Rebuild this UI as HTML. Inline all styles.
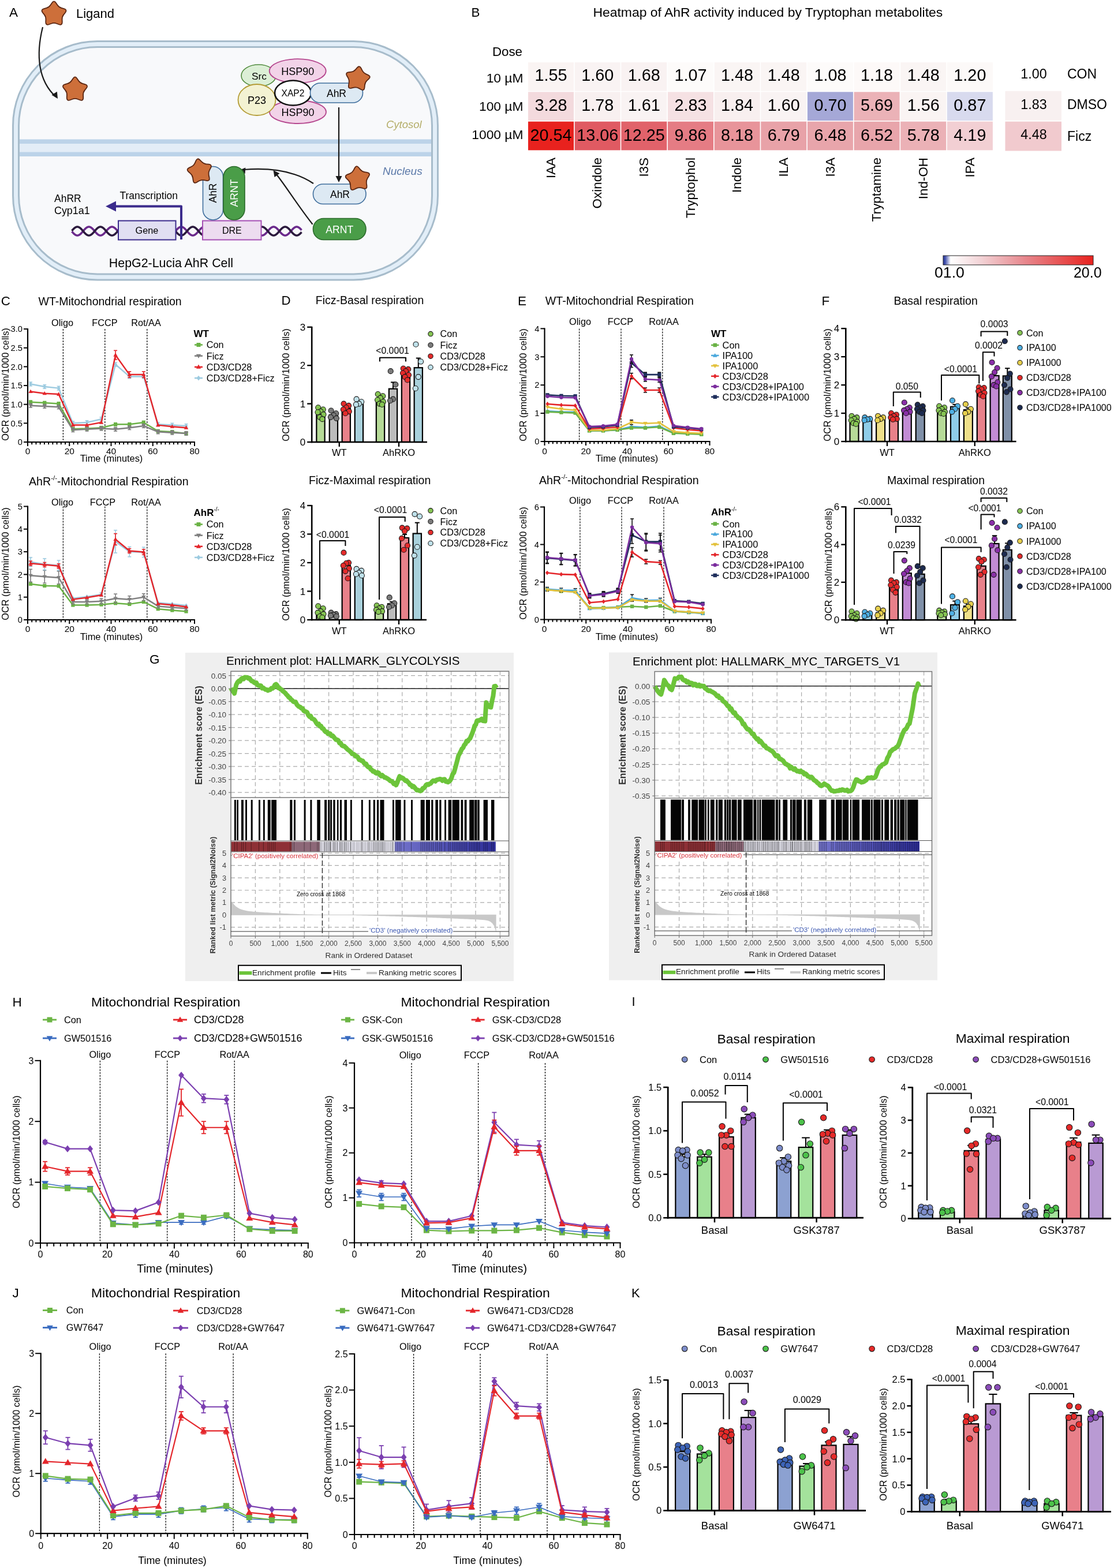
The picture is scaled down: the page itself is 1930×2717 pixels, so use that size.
<!DOCTYPE html><html><head><meta charset="utf-8"><title>Figure</title><style>html,body{margin:0;padding:0;background:#fff;}svg{display:block;}</style></head><body><svg width="1930" height="2717" viewBox="0 0 1930 2717" font-family='"Liberation Sans", Arial, Helvetica, sans-serif'>
<rect x="0" y="0" width="1930" height="2717" fill="#ffffff" stroke="none" stroke-width="1" />
<text x="16" y="29.2" font-size="22.5">A</text>
<path d="M89.9,5.18 Q93.5,-0.25 97.1,5.18 L99.51,8.81 Q102.08,12.69 106.57,13.94 L110.76,15.1 Q117.04,16.85 112.99,21.96 L110.28,25.36 Q107.39,29.01 107.59,33.67 L107.77,38.01 Q108.05,44.52 101.94,42.25 L97.86,40.73 Q93.5,39.1 89.14,40.73 L85.06,42.25 Q78.95,44.52 79.23,38.01 L79.41,33.67 Q79.61,29.01 76.72,25.36 L74.01,21.96 Q69.96,16.85 76.24,15.1 L80.43,13.94 Q84.92,12.69 87.49,8.81 Z" fill="#cd6f3a" stroke="#5a2612" stroke-width="1.8" stroke-linejoin="round"/>
<text x="132" y="30.5" font-size="22">Ligand</text>
<rect x="22.5" y="71.5" width="736" height="413.5" rx="146" fill="#e2eef8" stroke="#a7bccb" stroke-width="3" />
<rect x="32.5" y="81.5" width="716" height="393.5" rx="136" fill="#f8f9fb" stroke="#a7bccb" stroke-width="3" />
<rect x="34" y="241.5" width="713" height="29" fill="#e3edf7" stroke="none" stroke-width="1" />
<rect x="34" y="241.5" width="713" height="7.5" fill="#bcd3e9" stroke="none" stroke-width="1" />
<rect x="34" y="263.5" width="713" height="7.5" fill="#bcd3e9" stroke="none" stroke-width="1" />
<path d="M74,47 C62,95 66,140 97,168" fill="none" stroke="#1a1a1a" stroke-width="2.2" />
<polygon points="100,171 89.51,164.59 98.83,158.76" fill="#1a1a1a" stroke="none" stroke-width="1" />
<path d="M126.4,136.18 Q130,130.75 133.6,136.18 L136.01,139.81 Q138.58,143.69 143.07,144.94 L147.26,146.1 Q153.54,147.85 149.49,152.96 L146.78,156.36 Q143.89,160.01 144.09,164.67 L144.27,169.01 Q144.55,175.52 138.44,173.25 L134.36,171.73 Q130,170.1 125.64,171.73 L121.56,173.25 Q115.45,175.52 115.73,169.01 L115.91,164.67 Q116.11,160.01 113.22,156.36 L110.51,152.96 Q106.46,147.85 112.74,146.1 L116.93,144.94 Q121.42,143.69 123.99,139.81 Z" fill="#cd6f3a" stroke="#5a2612" stroke-width="1.8" stroke-linejoin="round"/>
<ellipse cx="448" cy="131" rx="30" ry="19" fill="#dcefd6" stroke="#4f8a3c" stroke-width="1.6"/>
<ellipse cx="515.7" cy="123" rx="49" ry="20.8" fill="#f2d3e8" stroke="#b5488f" stroke-width="1.8"/>
<ellipse cx="516" cy="194" rx="49" ry="20" fill="#f2d3e8" stroke="#b5488f" stroke-width="1.8"/>
<ellipse cx="445" cy="173" rx="32.5" ry="27" fill="#f3f2d2" stroke="#b39b35" stroke-width="1.8"/>
<ellipse cx="507.5" cy="161" rx="31.5" ry="21.5" fill="#ffffff" stroke="#111111" stroke-width="2.6"/>
<rect x="537.5" y="144" width="91" height="34" rx="17" fill="#dde9f3" stroke="#3e6d9c" stroke-width="1.6" />
<text x="515.7" y="129.5" font-size="18" text-anchor="middle">HSP90</text>
<text x="516" y="200.5" font-size="18" text-anchor="middle">HSP90</text>
<text x="449" y="137.5" font-size="17.3" text-anchor="middle">Src</text>
<text x="445" y="180" font-size="18" text-anchor="middle">P23</text>
<text x="507.5" y="167" font-size="15.6" text-anchor="middle">XAP2</text>
<text x="583" y="167.5" font-size="17.5" text-anchor="middle">AhR</text>
<path d="M618.74,117.41 Q622.97,112.64 625.72,118.39 L627.55,122.22 Q629.52,126.33 633.69,128.15 L637.59,129.85 Q643.43,132.4 638.81,136.79 L635.73,139.72 Q632.43,142.86 631.99,147.39 L631.58,151.62 Q630.96,157.97 625.35,154.93 L621.62,152.91 Q617.61,150.74 613.17,151.72 L609.02,152.64 Q602.79,154.01 603.94,147.74 L604.71,143.56 Q605.54,139.08 603.23,135.15 L601.08,131.49 Q597.85,125.99 604.17,125.15 L608.38,124.59 Q612.9,123.99 615.92,120.59 Z" fill="#cd6f3a" stroke="#5a2612" stroke-width="1.8" stroke-linejoin="round"/>
<line x1="587" y1="186" x2="587" y2="306" stroke="#1a1a1a" stroke-width="2.2" />
<polygon points="587,316 581.5,305 592.5,305" fill="#1a1a1a" stroke="none" stroke-width="1" />
<text x="669" y="222" font-size="18.5" fill="#b5ae6a" font-style="italic">Cytosol</text>
<text x="663" y="303" font-size="19" fill="#5a78a8" font-style="italic">Nucleus</text>
<rect x="542.5" y="319" width="91.5" height="34.5" rx="17" fill="#dde9f3" stroke="#3e6d9c" stroke-width="1.6" />
<text x="589" y="343" font-size="17.5" text-anchor="middle">AhR</text>
<path d="M614.45,291.23 Q617.44,285.5 621.55,290.49 L624.3,293.81 Q627.24,297.37 631.79,298.13 L636.04,298.85 Q642.41,299.92 638.94,305.38 L636.63,309.01 Q634.16,312.91 634.83,317.48 L635.47,321.74 Q636.41,328.13 630.16,326.52 L625.98,325.44 Q621.51,324.29 617.38,326.35 L613.52,328.27 Q607.74,331.14 607.33,324.69 L607.07,320.39 Q606.78,315.79 603.55,312.49 L600.53,309.41 Q596.01,304.8 602.02,302.42 L606.02,300.84 Q610.32,299.14 612.45,295.05 Z" fill="#cd6f3a" stroke="#5a2612" stroke-width="1.8" stroke-linejoin="round"/>
<rect x="542.5" y="378.5" width="91.5" height="37" rx="18" fill="#4a9d48" stroke="#2a6a2a" stroke-width="1.6" />
<text x="588.3" y="404" font-size="17.6" text-anchor="middle" fill="#ffffff">ARNT</text>
<path d="M543,318 C510,296 470,290 422,294" fill="none" stroke="#1a1a1a" stroke-width="2.2" />
<polygon points="414,295 425.4,290.4 424.53,301.36" fill="#1a1a1a" stroke="none" stroke-width="1" />
<path d="M541.6,388.7 C515,355 495,322 478,301" fill="none" stroke="#1a1a1a" stroke-width="2.2" />
<polygon points="473.5,295 484.44,300.62 475.57,307.12" fill="#1a1a1a" stroke="none" stroke-width="1" />
<polyline points="124.5,401.09 125.5,402.25 126.5,403.37 127.5,404.42 128.5,405.37 129.5,406.2 130.5,406.89 131.5,407.43 132.5,407.79 133.5,407.98 134.5,407.98 135.5,407.79 136.5,407.43 137.5,406.89 138.5,406.2 139.5,405.37 140.5,404.42 141.5,403.37 142.5,402.25 143.5,401.09 144.5,399.91 145.5,398.75 146.5,397.63 147.5,396.58 148.5,395.63 149.5,394.8 150.5,394.11 151.5,393.57 152.5,393.21 153.5,393.02 154.5,393.02 155.5,393.21 156.5,393.57 157.5,394.11 158.5,394.8 159.5,395.63 160.5,396.58 161.5,397.63 162.5,398.75 163.5,399.91 164.5,401.09 165.5,402.25 166.5,403.37 167.5,404.42 168.5,405.37 169.5,406.2 170.5,406.89 171.5,407.43 172.5,407.79 173.5,407.98 174.5,407.98 175.5,407.79 176.5,407.43 177.5,406.89 178.5,406.2 179.5,405.37 180.5,404.42 181.5,403.37 182.5,402.25 183.5,401.09 184.5,399.91 185.5,398.75 186.5,397.63 187.5,396.58 188.5,395.63 189.5,394.8 190.5,394.11 191.5,393.57 192.5,393.21 193.5,393.02 194.5,393.02 195.5,393.21 196.5,393.57 197.5,394.11 198.5,394.8 199.5,395.63 200.5,396.58 201.5,397.63 202.5,398.75 203.5,399.91 204.5,401.09 205.5,402.25 206.5,403.37 207.5,404.42 208.5,405.37 209.5,406.2 210.5,406.89 211.5,407.43 212.5,407.79 213.5,407.98 214.5,407.98 215.5,407.79 216.5,407.43 217.5,406.89 218.5,406.2 219.5,405.37 220.5,404.42 221.5,403.37 222.5,402.25 223.5,401.09 224.5,399.91 225.5,398.75 226.5,397.63 227.5,396.58 228.5,395.63 229.5,394.8 230.5,394.11 231.5,393.57 232.5,393.21 233.5,393.02 234.5,393.02 235.5,393.21 236.5,393.57 237.5,394.11 238.5,394.8 239.5,395.63 240.5,396.58 241.5,397.63 242.5,398.75 243.5,399.91 244.5,401.09 245.5,402.25 246.5,403.37 247.5,404.42 248.5,405.37 249.5,406.2 250.5,406.89 251.5,407.43 252.5,407.79 253.5,407.98 254.5,407.98 255.5,407.79 256.5,407.43 257.5,406.89 258.5,406.2 259.5,405.37 260.5,404.42 261.5,403.37 262.5,402.25 263.5,401.09 264.5,399.91 265.5,398.75 266.5,397.63 267.5,396.58 268.5,395.63 269.5,394.8 270.5,394.11 271.5,393.57 272.5,393.21 273.5,393.02 274.5,393.02 275.5,393.21 276.5,393.57 277.5,394.11 278.5,394.8 279.5,395.63 280.5,396.58 281.5,397.63 282.5,398.75 283.5,399.91 284.5,401.09 285.5,402.25 286.5,403.37 287.5,404.42 288.5,405.37 289.5,406.2 290.5,406.89 291.5,407.43 292.5,407.79 293.5,407.98 294.5,407.98 295.5,407.79 296.5,407.43 297.5,406.89 298.5,406.2 299.5,405.37 300.5,404.42 301.5,403.37 302.5,402.25 303.5,401.09 304.5,399.91 305.5,398.75 306.5,397.63 307.5,396.58 308.5,395.63 309.5,394.8 310.5,394.11 311.5,393.57 312.5,393.21 313.5,393.02 314.5,393.02 315.5,393.21 316.5,393.57 317.5,394.11 318.5,394.8 319.5,395.63 320.5,396.58 321.5,397.63 322.5,398.75 323.5,399.91 324.5,401.09 325.5,402.25 326.5,403.37 327.5,404.42 328.5,405.37 329.5,406.2 330.5,406.89 331.5,407.43 332.5,407.79 333.5,407.98 334.5,407.98 335.5,407.79 336.5,407.43 337.5,406.89 338.5,406.2 339.5,405.37 340.5,404.42 341.5,403.37 342.5,402.25 343.5,401.09 344.5,399.91 345.5,398.75 346.5,397.63 347.5,396.58 348.5,395.63 349.5,394.8 350.5,394.11 351.5,393.57 352.5,393.21 353.5,393.02 354.5,393.02 355.5,393.21 356.5,393.57 357.5,394.11 358.5,394.8 359.5,395.63 360.5,396.58 361.5,397.63 362.5,398.75 363.5,399.91 364.5,401.09 365.5,402.25 366.5,403.37 367.5,404.42 368.5,405.37 369.5,406.2 370.5,406.89 371.5,407.43 372.5,407.79 373.5,407.98 374.5,407.98 375.5,407.79 376.5,407.43 377.5,406.89 378.5,406.2 379.5,405.37 380.5,404.42 381.5,403.37 382.5,402.25 383.5,401.09 384.5,399.91 385.5,398.75 386.5,397.63 387.5,396.58 388.5,395.63 389.5,394.8 390.5,394.11 391.5,393.57 392.5,393.21 393.5,393.02 394.5,393.02 395.5,393.21 396.5,393.57 397.5,394.11 398.5,394.8 399.5,395.63 400.5,396.58 401.5,397.63 402.5,398.75 403.5,399.91 404.5,401.09 405.5,402.25 406.5,403.37 407.5,404.42 408.5,405.37 409.5,406.2 410.5,406.89 411.5,407.43 412.5,407.79 413.5,407.98 414.5,407.98 415.5,407.79 416.5,407.43 417.5,406.89 418.5,406.2 419.5,405.37 420.5,404.42 421.5,403.37 422.5,402.25 423.5,401.09 424.5,399.91 425.5,398.75 426.5,397.63 427.5,396.58 428.5,395.63 429.5,394.8 430.5,394.11 431.5,393.57 432.5,393.21 433.5,393.02 434.5,393.02 435.5,393.21 436.5,393.57 437.5,394.11 438.5,394.8 439.5,395.63 440.5,396.58 441.5,397.63 442.5,398.75 443.5,399.91 444.5,401.09 445.5,402.25 446.5,403.37 447.5,404.42 448.5,405.37 449.5,406.2 450.5,406.89 451.5,407.43 452.5,407.79 453.5,407.98 454.5,407.98 455.5,407.79 456.5,407.43 457.5,406.89 458.5,406.2 459.5,405.37 460.5,404.42 461.5,403.37 462.5,402.25 463.5,401.09 464.5,399.91 465.5,398.75 466.5,397.63 467.5,396.58 468.5,395.63 469.5,394.8 470.5,394.11 471.5,393.57 472.5,393.21 473.5,393.02 474.5,393.02 475.5,393.21 476.5,393.57 477.5,394.11 478.5,394.8 479.5,395.63 480.5,396.58 481.5,397.63 482.5,398.75 483.5,399.91 484.5,401.09 485.5,402.25 486.5,403.37 487.5,404.42 488.5,405.37 489.5,406.2 490.5,406.89 491.5,407.43 492.5,407.79 493.5,407.98 494.5,407.98 495.5,407.79 496.5,407.43 497.5,406.89 498.5,406.2 499.5,405.37 500.5,404.42 501.5,403.37 502.5,402.25 503.5,401.09 504.5,399.91 505.5,398.75 506.5,397.63 507.5,396.58 508.5,395.63 509.5,394.8 510.5,394.11 511.5,393.57 512.5,393.21 513.5,393.02 514.5,393.02 515.5,393.21 516.5,393.57 517.5,394.11 518.5,394.8 519.5,395.63 520.5,396.58 521.5,397.63 522.5,398.75" fill="none" stroke="#6b2a8c" stroke-width="3.6" stroke-linejoin="round" />
<polyline points="124.5,399.91 125.5,398.75 126.5,397.63 127.5,396.58 128.5,395.63 129.5,394.8 130.5,394.11 131.5,393.57 132.5,393.21 133.5,393.02 134.5,393.02 135.5,393.21 136.5,393.57 137.5,394.11 138.5,394.8 139.5,395.63 140.5,396.58 141.5,397.63 142.5,398.75 143.5,399.91 144.5,401.09 145.5,402.25 146.5,403.37 147.5,404.42 148.5,405.37 149.5,406.2 150.5,406.89 151.5,407.43 152.5,407.79 153.5,407.98 154.5,407.98 155.5,407.79 156.5,407.43 157.5,406.89 158.5,406.2 159.5,405.37 160.5,404.42 161.5,403.37 162.5,402.25 163.5,401.09 164.5,399.91 165.5,398.75 166.5,397.63 167.5,396.58 168.5,395.63 169.5,394.8 170.5,394.11 171.5,393.57 172.5,393.21 173.5,393.02 174.5,393.02 175.5,393.21 176.5,393.57 177.5,394.11 178.5,394.8 179.5,395.63 180.5,396.58 181.5,397.63 182.5,398.75 183.5,399.91 184.5,401.09 185.5,402.25 186.5,403.37 187.5,404.42 188.5,405.37 189.5,406.2 190.5,406.89 191.5,407.43 192.5,407.79 193.5,407.98 194.5,407.98 195.5,407.79 196.5,407.43 197.5,406.89 198.5,406.2 199.5,405.37 200.5,404.42 201.5,403.37 202.5,402.25 203.5,401.09 204.5,399.91 205.5,398.75 206.5,397.63 207.5,396.58 208.5,395.63 209.5,394.8 210.5,394.11 211.5,393.57 212.5,393.21 213.5,393.02 214.5,393.02 215.5,393.21 216.5,393.57 217.5,394.11 218.5,394.8 219.5,395.63 220.5,396.58 221.5,397.63 222.5,398.75 223.5,399.91 224.5,401.09 225.5,402.25 226.5,403.37 227.5,404.42 228.5,405.37 229.5,406.2 230.5,406.89 231.5,407.43 232.5,407.79 233.5,407.98 234.5,407.98 235.5,407.79 236.5,407.43 237.5,406.89 238.5,406.2 239.5,405.37 240.5,404.42 241.5,403.37 242.5,402.25 243.5,401.09 244.5,399.91 245.5,398.75 246.5,397.63 247.5,396.58 248.5,395.63 249.5,394.8 250.5,394.11 251.5,393.57 252.5,393.21 253.5,393.02 254.5,393.02 255.5,393.21 256.5,393.57 257.5,394.11 258.5,394.8 259.5,395.63 260.5,396.58 261.5,397.63 262.5,398.75 263.5,399.91 264.5,401.09 265.5,402.25 266.5,403.37 267.5,404.42 268.5,405.37 269.5,406.2 270.5,406.89 271.5,407.43 272.5,407.79 273.5,407.98 274.5,407.98 275.5,407.79 276.5,407.43 277.5,406.89 278.5,406.2 279.5,405.37 280.5,404.42 281.5,403.37 282.5,402.25 283.5,401.09 284.5,399.91 285.5,398.75 286.5,397.63 287.5,396.58 288.5,395.63 289.5,394.8 290.5,394.11 291.5,393.57 292.5,393.21 293.5,393.02 294.5,393.02 295.5,393.21 296.5,393.57 297.5,394.11 298.5,394.8 299.5,395.63 300.5,396.58 301.5,397.63 302.5,398.75 303.5,399.91 304.5,401.09 305.5,402.25 306.5,403.37 307.5,404.42 308.5,405.37 309.5,406.2 310.5,406.89 311.5,407.43 312.5,407.79 313.5,407.98 314.5,407.98 315.5,407.79 316.5,407.43 317.5,406.89 318.5,406.2 319.5,405.37 320.5,404.42 321.5,403.37 322.5,402.25 323.5,401.09 324.5,399.91 325.5,398.75 326.5,397.63 327.5,396.58 328.5,395.63 329.5,394.8 330.5,394.11 331.5,393.57 332.5,393.21 333.5,393.02 334.5,393.02 335.5,393.21 336.5,393.57 337.5,394.11 338.5,394.8 339.5,395.63 340.5,396.58 341.5,397.63 342.5,398.75 343.5,399.91 344.5,401.09 345.5,402.25 346.5,403.37 347.5,404.42 348.5,405.37 349.5,406.2 350.5,406.89 351.5,407.43 352.5,407.79 353.5,407.98 354.5,407.98 355.5,407.79 356.5,407.43 357.5,406.89 358.5,406.2 359.5,405.37 360.5,404.42 361.5,403.37 362.5,402.25 363.5,401.09 364.5,399.91 365.5,398.75 366.5,397.63 367.5,396.58 368.5,395.63 369.5,394.8 370.5,394.11 371.5,393.57 372.5,393.21 373.5,393.02 374.5,393.02 375.5,393.21 376.5,393.57 377.5,394.11 378.5,394.8 379.5,395.63 380.5,396.58 381.5,397.63 382.5,398.75 383.5,399.91 384.5,401.09 385.5,402.25 386.5,403.37 387.5,404.42 388.5,405.37 389.5,406.2 390.5,406.89 391.5,407.43 392.5,407.79 393.5,407.98 394.5,407.98 395.5,407.79 396.5,407.43 397.5,406.89 398.5,406.2 399.5,405.37 400.5,404.42 401.5,403.37 402.5,402.25 403.5,401.09 404.5,399.91 405.5,398.75 406.5,397.63 407.5,396.58 408.5,395.63 409.5,394.8 410.5,394.11 411.5,393.57 412.5,393.21 413.5,393.02 414.5,393.02 415.5,393.21 416.5,393.57 417.5,394.11 418.5,394.8 419.5,395.63 420.5,396.58 421.5,397.63 422.5,398.75 423.5,399.91 424.5,401.09 425.5,402.25 426.5,403.37 427.5,404.42 428.5,405.37 429.5,406.2 430.5,406.89 431.5,407.43 432.5,407.79 433.5,407.98 434.5,407.98 435.5,407.79 436.5,407.43 437.5,406.89 438.5,406.2 439.5,405.37 440.5,404.42 441.5,403.37 442.5,402.25 443.5,401.09 444.5,399.91 445.5,398.75 446.5,397.63 447.5,396.58 448.5,395.63 449.5,394.8 450.5,394.11 451.5,393.57 452.5,393.21 453.5,393.02 454.5,393.02 455.5,393.21 456.5,393.57 457.5,394.11 458.5,394.8 459.5,395.63 460.5,396.58 461.5,397.63 462.5,398.75 463.5,399.91 464.5,401.09 465.5,402.25 466.5,403.37 467.5,404.42 468.5,405.37 469.5,406.2 470.5,406.89 471.5,407.43 472.5,407.79 473.5,407.98 474.5,407.98 475.5,407.79 476.5,407.43 477.5,406.89 478.5,406.2 479.5,405.37 480.5,404.42 481.5,403.37 482.5,402.25 483.5,401.09 484.5,399.91 485.5,398.75 486.5,397.63 487.5,396.58 488.5,395.63 489.5,394.8 490.5,394.11 491.5,393.57 492.5,393.21 493.5,393.02 494.5,393.02 495.5,393.21 496.5,393.57 497.5,394.11 498.5,394.8 499.5,395.63 500.5,396.58 501.5,397.63 502.5,398.75 503.5,399.91 504.5,401.09 505.5,402.25 506.5,403.37 507.5,404.42 508.5,405.37 509.5,406.2 510.5,406.89 511.5,407.43 512.5,407.79 513.5,407.98 514.5,407.98 515.5,407.79 516.5,407.43 517.5,406.89 518.5,406.2 519.5,405.37 520.5,404.42 521.5,403.37 522.5,402.25" fill="none" stroke="#2b1a3d" stroke-width="3.6" stroke-linejoin="round" />
<rect x="205" y="382.5" width="99.5" height="33" fill="#e1dff2" stroke="#3b2b8c" stroke-width="2" />
<text x="254.5" y="405" font-size="16.3" text-anchor="middle">Gene</text>
<rect x="351" y="382.5" width="101.5" height="33" fill="#eddcf0" stroke="#a650b5" stroke-width="2" />
<text x="401.8" y="405" font-size="16" text-anchor="middle">DRE</text>
<rect x="351.5" y="288.5" width="35" height="92.5" rx="17.5" fill="#dde9f3" stroke="#3e6d9c" stroke-width="1.6" />
<rect x="387" y="288.5" width="37" height="92.5" rx="18.5" fill="#4a9d48" stroke="#2a6a2a" stroke-width="1.6" />
<text x="375" y="334.5" font-size="17.5" text-anchor="middle" transform="rotate(-90 375 334.5)">AhR</text>
<text x="411.5" y="334.5" font-size="17.6" text-anchor="middle" fill="#ffffff" transform="rotate(-90 411.5 334.5)">ARNT</text>
<path d="M339.43,278.58 Q342.02,272.63 346.49,277.34 L349.48,280.47 Q352.67,283.83 357.29,284.28 L361.59,284.7 Q368.06,285.33 364.96,291.04 L362.9,294.85 Q360.7,298.92 361.69,303.45 L362.63,307.68 Q364.02,314.02 357.64,312.84 L353.38,312.06 Q348.82,311.22 344.83,313.57 L341.1,315.76 Q335.5,319.05 334.64,312.61 L334.07,308.32 Q333.46,303.72 329.99,300.65 L326.76,297.78 Q321.9,293.47 327.76,290.67 L331.66,288.8 Q335.84,286.8 337.7,282.55 Z" fill="#cd6f3a" stroke="#5a2612" stroke-width="1.8" stroke-linejoin="round"/>
<polyline points="314,415 314,357.5 198,357.5" fill="none" stroke="#3b2b8c" stroke-width="4" stroke-linejoin="round" />
<polygon points="183,357.5 201,348.5 201,366.5" fill="#3b2b8c" stroke="none" stroke-width="1" />
<text x="207.5" y="345" font-size="17.5">Transcription</text>
<text x="94" y="350" font-size="17.5">AhRR</text>
<text x="94" y="371" font-size="17.9">Cyp1a1</text>
<text x="188.8" y="463" font-size="21.4">HepG2-Lucia AhR Cell</text>
<text x="816.5" y="29.2" font-size="22.3">B</text>
<text x="1027.5" y="28.6" font-size="22.9">Heatmap of AhR activity induced by Tryptophan metabolites</text>
<text x="905" y="97" font-size="22.3" text-anchor="end">Dose</text>
<rect x="915" y="108" width="79.05" height="49.7" fill="#faf4f3" stroke="none" stroke-width="1" />
<text x="954.53" y="139.9" font-size="28.8" text-anchor="middle">1.55</text>
<rect x="995.65" y="108" width="79.05" height="49.7" fill="#f9f3f3" stroke="none" stroke-width="1" />
<text x="1035.17" y="139.9" font-size="28.8" text-anchor="middle">1.60</text>
<rect x="1076.3" y="108" width="79.05" height="49.7" fill="#f9f2f2" stroke="none" stroke-width="1" />
<text x="1115.83" y="139.9" font-size="28.8" text-anchor="middle">1.68</text>
<rect x="1156.95" y="108" width="79.05" height="49.7" fill="#fdfbfa" stroke="none" stroke-width="1" />
<text x="1196.48" y="139.9" font-size="28.8" text-anchor="middle">1.07</text>
<rect x="1237.6" y="108" width="79.05" height="49.7" fill="#faf5f4" stroke="none" stroke-width="1" />
<text x="1277.12" y="139.9" font-size="28.8" text-anchor="middle">1.48</text>
<rect x="1318.25" y="108" width="79.05" height="49.7" fill="#faf5f4" stroke="none" stroke-width="1" />
<text x="1357.78" y="139.9" font-size="28.8" text-anchor="middle">1.48</text>
<rect x="1398.9" y="108" width="79.05" height="49.7" fill="#fdfbfa" stroke="none" stroke-width="1" />
<text x="1438.43" y="139.9" font-size="28.8" text-anchor="middle">1.08</text>
<rect x="1479.55" y="108" width="79.05" height="49.7" fill="#fdf9f8" stroke="none" stroke-width="1" />
<text x="1519.08" y="139.9" font-size="28.8" text-anchor="middle">1.18</text>
<rect x="1560.2" y="108" width="79.05" height="49.7" fill="#faf5f4" stroke="none" stroke-width="1" />
<text x="1599.73" y="139.9" font-size="28.8" text-anchor="middle">1.48</text>
<rect x="1640.85" y="108" width="79.05" height="49.7" fill="#fcf9f8" stroke="none" stroke-width="1" />
<text x="1680.38" y="139.9" font-size="28.8" text-anchor="middle">1.20</text>
<text x="906.5" y="142.7" font-size="22.8" text-anchor="end">10 µM</text>
<rect x="915" y="159.3" width="79.05" height="49.7" fill="#f3dadd" stroke="none" stroke-width="1" />
<text x="954.53" y="191.7" font-size="28.8" text-anchor="middle">3.28</text>
<rect x="995.65" y="159.3" width="79.05" height="49.7" fill="#f8f0f0" stroke="none" stroke-width="1" />
<text x="1035.17" y="191.7" font-size="28.8" text-anchor="middle">1.78</text>
<rect x="1076.3" y="159.3" width="79.05" height="49.7" fill="#f9f3f3" stroke="none" stroke-width="1" />
<text x="1115.83" y="191.7" font-size="28.8" text-anchor="middle">1.61</text>
<rect x="1156.95" y="159.3" width="79.05" height="49.7" fill="#f5e1e3" stroke="none" stroke-width="1" />
<text x="1196.48" y="191.7" font-size="28.8" text-anchor="middle">2.83</text>
<rect x="1237.6" y="159.3" width="79.05" height="49.7" fill="#f8efef" stroke="none" stroke-width="1" />
<text x="1277.12" y="191.7" font-size="28.8" text-anchor="middle">1.84</text>
<rect x="1318.25" y="159.3" width="79.05" height="49.7" fill="#f9f3f3" stroke="none" stroke-width="1" />
<text x="1357.78" y="191.7" font-size="28.8" text-anchor="middle">1.60</text>
<rect x="1398.9" y="159.3" width="79.05" height="49.7" fill="#a5a8d7" stroke="none" stroke-width="1" />
<text x="1438.43" y="191.7" font-size="28.8" text-anchor="middle">0.70</text>
<rect x="1479.55" y="159.3" width="79.05" height="49.7" fill="#ebb2b7" stroke="none" stroke-width="1" />
<text x="1519.08" y="191.7" font-size="28.8" text-anchor="middle">5.69</text>
<rect x="1560.2" y="159.3" width="79.05" height="49.7" fill="#faf4f3" stroke="none" stroke-width="1" />
<text x="1599.73" y="191.7" font-size="28.8" text-anchor="middle">1.56</text>
<rect x="1640.85" y="159.3" width="79.05" height="49.7" fill="#d8daee" stroke="none" stroke-width="1" />
<text x="1680.38" y="191.7" font-size="28.8" text-anchor="middle">0.87</text>
<text x="906.5" y="192" font-size="22.8" text-anchor="end">100 µM</text>
<rect x="915" y="210.6" width="79.05" height="49.7" fill="#e8221e" stroke="none" stroke-width="1" />
<text x="954.53" y="243.5" font-size="28.8" text-anchor="middle">20.54</text>
<rect x="995.65" y="210.6" width="79.05" height="49.7" fill="#e05a62" stroke="none" stroke-width="1" />
<text x="1035.17" y="243.5" font-size="28.8" text-anchor="middle">13.06</text>
<rect x="1076.3" y="210.6" width="79.05" height="49.7" fill="#e1626a" stroke="none" stroke-width="1" />
<text x="1115.83" y="243.5" font-size="28.8" text-anchor="middle">12.25</text>
<rect x="1156.95" y="210.6" width="79.05" height="49.7" fill="#e57c84" stroke="none" stroke-width="1" />
<text x="1196.48" y="243.5" font-size="28.8" text-anchor="middle">9.86</text>
<rect x="1237.6" y="210.6" width="79.05" height="49.7" fill="#e8949a" stroke="none" stroke-width="1" />
<text x="1277.12" y="243.5" font-size="28.8" text-anchor="middle">8.18</text>
<rect x="1318.25" y="210.6" width="79.05" height="49.7" fill="#e8a2a8" stroke="none" stroke-width="1" />
<text x="1357.78" y="243.5" font-size="28.8" text-anchor="middle">6.79</text>
<rect x="1398.9" y="210.6" width="79.05" height="49.7" fill="#e8a5ab" stroke="none" stroke-width="1" />
<text x="1438.43" y="243.5" font-size="28.8" text-anchor="middle">6.48</text>
<rect x="1479.55" y="210.6" width="79.05" height="49.7" fill="#e8a5ab" stroke="none" stroke-width="1" />
<text x="1519.08" y="243.5" font-size="28.8" text-anchor="middle">6.52</text>
<rect x="1560.2" y="210.6" width="79.05" height="49.7" fill="#ebb1b6" stroke="none" stroke-width="1" />
<text x="1599.73" y="243.5" font-size="28.8" text-anchor="middle">5.78</text>
<rect x="1640.85" y="210.6" width="79.05" height="49.7" fill="#f2cfd3" stroke="none" stroke-width="1" />
<text x="1680.38" y="243.5" font-size="28.8" text-anchor="middle">4.19</text>
<text x="906.5" y="241.3" font-size="22.8" text-anchor="end">1000 µM</text>
<text x="961.83" y="273" font-size="22.4" text-anchor="end" transform="rotate(-90 961.83 273)">IAA</text>
<text x="1042.47" y="273" font-size="22.4" text-anchor="end" transform="rotate(-90 1042.47 273)">Oxindole</text>
<text x="1123.12" y="273" font-size="22.4" text-anchor="end" transform="rotate(-90 1123.12 273)">I3S</text>
<text x="1203.78" y="273" font-size="22.4" text-anchor="end" transform="rotate(-90 1203.78 273)">Tryptophol</text>
<text x="1284.42" y="273" font-size="22.4" text-anchor="end" transform="rotate(-90 1284.42 273)">Indole</text>
<text x="1365.08" y="273" font-size="22.4" text-anchor="end" transform="rotate(-90 1365.08 273)">ILA</text>
<text x="1445.73" y="273" font-size="22.4" text-anchor="end" transform="rotate(-90 1445.73 273)">I3A</text>
<text x="1526.38" y="273" font-size="22.4" text-anchor="end" transform="rotate(-90 1526.38 273)">Tryptamine</text>
<text x="1607.03" y="273" font-size="22.4" text-anchor="end" transform="rotate(-90 1607.03 273)">Ind-OH</text>
<text x="1687.67" y="273" font-size="22.4" text-anchor="end" transform="rotate(-90 1687.67 273)">IPA</text>
<text x="1791" y="135.9" font-size="23.3" text-anchor="middle">1.00</text>
<text x="1849" y="135.9" font-size="23">CON</text>
<rect x="1741.5" y="157.8" width="97.5" height="50.8" fill="#f8f0f0" stroke="none" stroke-width="1" />
<text x="1791" y="188.9" font-size="23.3" text-anchor="middle">1.83</text>
<text x="1849" y="188.9" font-size="23">DMSO</text>
<rect x="1741.5" y="210.6" width="97.5" height="50.8" fill="#f1cace" stroke="none" stroke-width="1" />
<text x="1791" y="241.3" font-size="23.3" text-anchor="middle">4.48</text>
<text x="1849" y="243.9" font-size="23">Ficz</text>
<defs><linearGradient id="hg" x1="0" x2="1" y1="0" y2="1" gradientUnits="objectBoundingBox"></linearGradient><linearGradient id="lg" x1="0" x2="1" y1="0" y2="0"><stop offset="0" stop-color="#2e3f9f"/><stop offset="0.012" stop-color="#3b4aa8"/><stop offset="0.05" stop-color="#ffffff"/><stop offset="0.25" stop-color="#f2d3d6"/><stop offset="0.55" stop-color="#e7868c"/><stop offset="1" stop-color="#e8221e"/></linearGradient></defs>
<rect x="1634" y="443" width="260" height="16" fill="url(#lg)" stroke="#222" stroke-width="1" />
<text x="1619" y="481" font-size="26.7">01.0</text>
<text x="1908.6" y="481" font-size="25" text-anchor="end">20.0</text>
<text x="1.8" y="529.2" font-size="22.3">C</text>
<text x="66.5" y="529" font-size="19.5">WT-Mitochondrial respiration</text>
<line x1="109.4" y1="570.1" x2="109.4" y2="766" stroke="#111" stroke-width="1.3" stroke-dasharray="3,2"/>
<line x1="181.8" y1="570.1" x2="181.8" y2="766" stroke="#111" stroke-width="1.3" stroke-dasharray="3,2"/>
<line x1="254.8" y1="570.1" x2="254.8" y2="766" stroke="#111" stroke-width="1.3" stroke-dasharray="3,2"/>
<text x="108" y="565" font-size="16.3" text-anchor="middle">Oligo</text>
<text x="181.5" y="565" font-size="16.3" text-anchor="middle">FCCP</text>
<text x="253" y="565" font-size="16.3" text-anchor="middle">Rot/AA</text>
<polyline points="53.06,696.78 77.26,698.09 101.65,699.39 126.39,743.14 150.59,742.49 175.52,741.19 200.09,735.31 224.29,735.31 248.85,732.04 273.78,747.06 298.35,748.37 322.55,750.98" fill="none" stroke="#6ab245" stroke-width="2.5" stroke-linejoin="round" />
<line x1="53.06" y1="694.17" x2="53.06" y2="699.39" stroke="#6ab245" stroke-width="1.6" />
<line x1="50.06" y1="694.17" x2="56.06" y2="694.17" stroke="#6ab245" stroke-width="1.6" />
<line x1="50.06" y1="699.39" x2="56.06" y2="699.39" stroke="#6ab245" stroke-width="1.6" />
<line x1="77.26" y1="695.48" x2="77.26" y2="700.7" stroke="#6ab245" stroke-width="1.6" />
<line x1="74.26" y1="695.48" x2="80.26" y2="695.48" stroke="#6ab245" stroke-width="1.6" />
<line x1="74.26" y1="700.7" x2="80.26" y2="700.7" stroke="#6ab245" stroke-width="1.6" />
<line x1="101.65" y1="696.78" x2="101.65" y2="702.01" stroke="#6ab245" stroke-width="1.6" />
<line x1="98.65" y1="696.78" x2="104.65" y2="696.78" stroke="#6ab245" stroke-width="1.6" />
<line x1="98.65" y1="702.01" x2="104.65" y2="702.01" stroke="#6ab245" stroke-width="1.6" />
<line x1="126.39" y1="740.53" x2="126.39" y2="745.76" stroke="#6ab245" stroke-width="1.6" />
<line x1="123.39" y1="740.53" x2="129.39" y2="740.53" stroke="#6ab245" stroke-width="1.6" />
<line x1="123.39" y1="745.76" x2="129.39" y2="745.76" stroke="#6ab245" stroke-width="1.6" />
<line x1="150.59" y1="739.88" x2="150.59" y2="745.1" stroke="#6ab245" stroke-width="1.6" />
<line x1="147.59" y1="739.88" x2="153.59" y2="739.88" stroke="#6ab245" stroke-width="1.6" />
<line x1="147.59" y1="745.1" x2="153.59" y2="745.1" stroke="#6ab245" stroke-width="1.6" />
<line x1="175.52" y1="738.57" x2="175.52" y2="743.8" stroke="#6ab245" stroke-width="1.6" />
<line x1="172.52" y1="738.57" x2="178.52" y2="738.57" stroke="#6ab245" stroke-width="1.6" />
<line x1="172.52" y1="743.8" x2="178.52" y2="743.8" stroke="#6ab245" stroke-width="1.6" />
<line x1="200.09" y1="732.7" x2="200.09" y2="737.92" stroke="#6ab245" stroke-width="1.6" />
<line x1="197.09" y1="732.7" x2="203.09" y2="732.7" stroke="#6ab245" stroke-width="1.6" />
<line x1="197.09" y1="737.92" x2="203.09" y2="737.92" stroke="#6ab245" stroke-width="1.6" />
<line x1="224.29" y1="732.7" x2="224.29" y2="737.92" stroke="#6ab245" stroke-width="1.6" />
<line x1="221.29" y1="732.7" x2="227.29" y2="732.7" stroke="#6ab245" stroke-width="1.6" />
<line x1="221.29" y1="737.92" x2="227.29" y2="737.92" stroke="#6ab245" stroke-width="1.6" />
<line x1="248.85" y1="729.43" x2="248.85" y2="734.66" stroke="#6ab245" stroke-width="1.6" />
<line x1="245.85" y1="729.43" x2="251.85" y2="729.43" stroke="#6ab245" stroke-width="1.6" />
<line x1="245.85" y1="734.66" x2="251.85" y2="734.66" stroke="#6ab245" stroke-width="1.6" />
<line x1="273.78" y1="744.45" x2="273.78" y2="749.67" stroke="#6ab245" stroke-width="1.6" />
<line x1="270.78" y1="744.45" x2="276.78" y2="744.45" stroke="#6ab245" stroke-width="1.6" />
<line x1="270.78" y1="749.67" x2="276.78" y2="749.67" stroke="#6ab245" stroke-width="1.6" />
<line x1="298.35" y1="745.76" x2="298.35" y2="750.98" stroke="#6ab245" stroke-width="1.6" />
<line x1="295.35" y1="745.76" x2="301.35" y2="745.76" stroke="#6ab245" stroke-width="1.6" />
<line x1="295.35" y1="750.98" x2="301.35" y2="750.98" stroke="#6ab245" stroke-width="1.6" />
<line x1="322.55" y1="748.37" x2="322.55" y2="753.59" stroke="#6ab245" stroke-width="1.6" />
<line x1="319.55" y1="748.37" x2="325.55" y2="748.37" stroke="#6ab245" stroke-width="1.6" />
<line x1="319.55" y1="753.59" x2="325.55" y2="753.59" stroke="#6ab245" stroke-width="1.6" />
<rect x="49.96" y="693.68" width="6.2" height="6.2" fill="#6ab245" stroke="none" stroke-width="1" />
<rect x="74.16" y="694.99" width="6.2" height="6.2" fill="#6ab245" stroke="none" stroke-width="1" />
<rect x="98.55" y="696.29" width="6.2" height="6.2" fill="#6ab245" stroke="none" stroke-width="1" />
<rect x="123.29" y="740.04" width="6.2" height="6.2" fill="#6ab245" stroke="none" stroke-width="1" />
<rect x="147.5" y="739.39" width="6.2" height="6.2" fill="#6ab245" stroke="none" stroke-width="1" />
<rect x="172.42" y="738.09" width="6.2" height="6.2" fill="#6ab245" stroke="none" stroke-width="1" />
<rect x="196.99" y="732.21" width="6.2" height="6.2" fill="#6ab245" stroke="none" stroke-width="1" />
<rect x="221.19" y="732.21" width="6.2" height="6.2" fill="#6ab245" stroke="none" stroke-width="1" />
<rect x="245.75" y="728.94" width="6.2" height="6.2" fill="#6ab245" stroke="none" stroke-width="1" />
<rect x="270.68" y="743.96" width="6.2" height="6.2" fill="#6ab245" stroke="none" stroke-width="1" />
<rect x="295.25" y="745.27" width="6.2" height="6.2" fill="#6ab245" stroke="none" stroke-width="1" />
<rect x="319.45" y="747.88" width="6.2" height="6.2" fill="#6ab245" stroke="none" stroke-width="1" />
<polyline points="53.06,702.66 77.26,703.97 101.65,705.27 126.39,745.1 150.59,743.8 175.52,742.49 200.09,743.8 224.29,741.19 248.85,737.92 273.78,748.37 298.35,749.67 322.55,750.98" fill="none" stroke="#7f7f7f" stroke-width="2.5" stroke-linejoin="round" />
<line x1="53.06" y1="699.39" x2="53.06" y2="705.92" stroke="#7f7f7f" stroke-width="1.6" />
<line x1="50.06" y1="699.39" x2="56.06" y2="699.39" stroke="#7f7f7f" stroke-width="1.6" />
<line x1="50.06" y1="705.92" x2="56.06" y2="705.92" stroke="#7f7f7f" stroke-width="1.6" />
<line x1="77.26" y1="700.7" x2="77.26" y2="707.23" stroke="#7f7f7f" stroke-width="1.6" />
<line x1="74.26" y1="700.7" x2="80.26" y2="700.7" stroke="#7f7f7f" stroke-width="1.6" />
<line x1="74.26" y1="707.23" x2="80.26" y2="707.23" stroke="#7f7f7f" stroke-width="1.6" />
<line x1="101.65" y1="702.01" x2="101.65" y2="708.54" stroke="#7f7f7f" stroke-width="1.6" />
<line x1="98.65" y1="702.01" x2="104.65" y2="702.01" stroke="#7f7f7f" stroke-width="1.6" />
<line x1="98.65" y1="708.54" x2="104.65" y2="708.54" stroke="#7f7f7f" stroke-width="1.6" />
<line x1="126.39" y1="741.84" x2="126.39" y2="748.37" stroke="#7f7f7f" stroke-width="1.6" />
<line x1="123.39" y1="741.84" x2="129.39" y2="741.84" stroke="#7f7f7f" stroke-width="1.6" />
<line x1="123.39" y1="748.37" x2="129.39" y2="748.37" stroke="#7f7f7f" stroke-width="1.6" />
<line x1="150.59" y1="740.53" x2="150.59" y2="747.06" stroke="#7f7f7f" stroke-width="1.6" />
<line x1="147.59" y1="740.53" x2="153.59" y2="740.53" stroke="#7f7f7f" stroke-width="1.6" />
<line x1="147.59" y1="747.06" x2="153.59" y2="747.06" stroke="#7f7f7f" stroke-width="1.6" />
<line x1="175.52" y1="739.23" x2="175.52" y2="745.76" stroke="#7f7f7f" stroke-width="1.6" />
<line x1="172.52" y1="739.23" x2="178.52" y2="739.23" stroke="#7f7f7f" stroke-width="1.6" />
<line x1="172.52" y1="745.76" x2="178.52" y2="745.76" stroke="#7f7f7f" stroke-width="1.6" />
<line x1="200.09" y1="740.53" x2="200.09" y2="747.06" stroke="#7f7f7f" stroke-width="1.6" />
<line x1="197.09" y1="740.53" x2="203.09" y2="740.53" stroke="#7f7f7f" stroke-width="1.6" />
<line x1="197.09" y1="747.06" x2="203.09" y2="747.06" stroke="#7f7f7f" stroke-width="1.6" />
<line x1="224.29" y1="737.92" x2="224.29" y2="744.45" stroke="#7f7f7f" stroke-width="1.6" />
<line x1="221.29" y1="737.92" x2="227.29" y2="737.92" stroke="#7f7f7f" stroke-width="1.6" />
<line x1="221.29" y1="744.45" x2="227.29" y2="744.45" stroke="#7f7f7f" stroke-width="1.6" />
<line x1="248.85" y1="734.66" x2="248.85" y2="741.19" stroke="#7f7f7f" stroke-width="1.6" />
<line x1="245.85" y1="734.66" x2="251.85" y2="734.66" stroke="#7f7f7f" stroke-width="1.6" />
<line x1="245.85" y1="741.19" x2="251.85" y2="741.19" stroke="#7f7f7f" stroke-width="1.6" />
<line x1="273.78" y1="745.1" x2="273.78" y2="751.63" stroke="#7f7f7f" stroke-width="1.6" />
<line x1="270.78" y1="745.1" x2="276.78" y2="745.1" stroke="#7f7f7f" stroke-width="1.6" />
<line x1="270.78" y1="751.63" x2="276.78" y2="751.63" stroke="#7f7f7f" stroke-width="1.6" />
<line x1="298.35" y1="746.41" x2="298.35" y2="752.94" stroke="#7f7f7f" stroke-width="1.6" />
<line x1="295.35" y1="746.41" x2="301.35" y2="746.41" stroke="#7f7f7f" stroke-width="1.6" />
<line x1="295.35" y1="752.94" x2="301.35" y2="752.94" stroke="#7f7f7f" stroke-width="1.6" />
<line x1="322.55" y1="747.72" x2="322.55" y2="754.25" stroke="#7f7f7f" stroke-width="1.6" />
<line x1="319.55" y1="747.72" x2="325.55" y2="747.72" stroke="#7f7f7f" stroke-width="1.6" />
<line x1="319.55" y1="754.25" x2="325.55" y2="754.25" stroke="#7f7f7f" stroke-width="1.6" />
<polygon points="53.06,706.5 49.34,700.05 56.78,700.05" fill="#7f7f7f" stroke="none" stroke-width="1" />
<polygon points="77.26,707.81 73.54,701.36 80.98,701.36" fill="#7f7f7f" stroke="none" stroke-width="1" />
<polygon points="101.65,709.12 97.93,702.67 105.37,702.67" fill="#7f7f7f" stroke="none" stroke-width="1" />
<polygon points="126.39,748.95 122.67,742.5 130.11,742.5" fill="#7f7f7f" stroke="none" stroke-width="1" />
<polygon points="150.59,747.64 146.88,741.19 154.31,741.19" fill="#7f7f7f" stroke="none" stroke-width="1" />
<polygon points="175.52,746.34 171.8,739.89 179.24,739.89" fill="#7f7f7f" stroke="none" stroke-width="1" />
<polygon points="200.09,747.64 196.37,741.19 203.81,741.19" fill="#7f7f7f" stroke="none" stroke-width="1" />
<polygon points="224.29,745.03 220.57,738.58 228.01,738.58" fill="#7f7f7f" stroke="none" stroke-width="1" />
<polygon points="248.85,741.77 245.13,735.32 252.57,735.32" fill="#7f7f7f" stroke="none" stroke-width="1" />
<polygon points="273.78,752.21 270.06,745.76 277.5,745.76" fill="#7f7f7f" stroke="none" stroke-width="1" />
<polygon points="298.35,753.52 294.63,747.07 302.07,747.07" fill="#7f7f7f" stroke="none" stroke-width="1" />
<polygon points="322.55,754.83 318.83,748.38 326.27,748.38" fill="#7f7f7f" stroke="none" stroke-width="1" />
<polyline points="53.06,665.44 77.26,670.01 101.65,672.62 126.39,733.35 150.59,732.04 175.52,726.17 200.09,631.48 224.29,652.38 248.85,652.38 273.78,735.31 298.35,736.62 322.55,737.92" fill="none" stroke="#9dcbe0" stroke-width="2.5" stroke-linejoin="round" />
<line x1="53.06" y1="662.17" x2="53.06" y2="668.7" stroke="#9dcbe0" stroke-width="1.6" />
<line x1="50.06" y1="662.17" x2="56.06" y2="662.17" stroke="#9dcbe0" stroke-width="1.6" />
<line x1="50.06" y1="668.7" x2="56.06" y2="668.7" stroke="#9dcbe0" stroke-width="1.6" />
<line x1="77.26" y1="666.74" x2="77.26" y2="673.27" stroke="#9dcbe0" stroke-width="1.6" />
<line x1="74.26" y1="666.74" x2="80.26" y2="666.74" stroke="#9dcbe0" stroke-width="1.6" />
<line x1="74.26" y1="673.27" x2="80.26" y2="673.27" stroke="#9dcbe0" stroke-width="1.6" />
<line x1="101.65" y1="669.36" x2="101.65" y2="675.89" stroke="#9dcbe0" stroke-width="1.6" />
<line x1="98.65" y1="669.36" x2="104.65" y2="669.36" stroke="#9dcbe0" stroke-width="1.6" />
<line x1="98.65" y1="675.89" x2="104.65" y2="675.89" stroke="#9dcbe0" stroke-width="1.6" />
<line x1="126.39" y1="730.09" x2="126.39" y2="736.62" stroke="#9dcbe0" stroke-width="1.6" />
<line x1="123.39" y1="730.09" x2="129.39" y2="730.09" stroke="#9dcbe0" stroke-width="1.6" />
<line x1="123.39" y1="736.62" x2="129.39" y2="736.62" stroke="#9dcbe0" stroke-width="1.6" />
<line x1="150.59" y1="728.78" x2="150.59" y2="735.31" stroke="#9dcbe0" stroke-width="1.6" />
<line x1="147.59" y1="728.78" x2="153.59" y2="728.78" stroke="#9dcbe0" stroke-width="1.6" />
<line x1="147.59" y1="735.31" x2="153.59" y2="735.31" stroke="#9dcbe0" stroke-width="1.6" />
<line x1="175.52" y1="722.9" x2="175.52" y2="729.43" stroke="#9dcbe0" stroke-width="1.6" />
<line x1="172.52" y1="722.9" x2="178.52" y2="722.9" stroke="#9dcbe0" stroke-width="1.6" />
<line x1="172.52" y1="729.43" x2="178.52" y2="729.43" stroke="#9dcbe0" stroke-width="1.6" />
<line x1="200.09" y1="628.22" x2="200.09" y2="634.75" stroke="#9dcbe0" stroke-width="1.6" />
<line x1="197.09" y1="628.22" x2="203.09" y2="628.22" stroke="#9dcbe0" stroke-width="1.6" />
<line x1="197.09" y1="634.75" x2="203.09" y2="634.75" stroke="#9dcbe0" stroke-width="1.6" />
<line x1="224.29" y1="649.11" x2="224.29" y2="655.64" stroke="#9dcbe0" stroke-width="1.6" />
<line x1="221.29" y1="649.11" x2="227.29" y2="649.11" stroke="#9dcbe0" stroke-width="1.6" />
<line x1="221.29" y1="655.64" x2="227.29" y2="655.64" stroke="#9dcbe0" stroke-width="1.6" />
<line x1="248.85" y1="649.11" x2="248.85" y2="655.64" stroke="#9dcbe0" stroke-width="1.6" />
<line x1="245.85" y1="649.11" x2="251.85" y2="649.11" stroke="#9dcbe0" stroke-width="1.6" />
<line x1="245.85" y1="655.64" x2="251.85" y2="655.64" stroke="#9dcbe0" stroke-width="1.6" />
<line x1="273.78" y1="732.04" x2="273.78" y2="738.57" stroke="#9dcbe0" stroke-width="1.6" />
<line x1="270.78" y1="732.04" x2="276.78" y2="732.04" stroke="#9dcbe0" stroke-width="1.6" />
<line x1="270.78" y1="738.57" x2="276.78" y2="738.57" stroke="#9dcbe0" stroke-width="1.6" />
<line x1="298.35" y1="733.35" x2="298.35" y2="739.88" stroke="#9dcbe0" stroke-width="1.6" />
<line x1="295.35" y1="733.35" x2="301.35" y2="733.35" stroke="#9dcbe0" stroke-width="1.6" />
<line x1="295.35" y1="739.88" x2="301.35" y2="739.88" stroke="#9dcbe0" stroke-width="1.6" />
<line x1="322.55" y1="734.66" x2="322.55" y2="741.19" stroke="#9dcbe0" stroke-width="1.6" />
<line x1="319.55" y1="734.66" x2="325.55" y2="734.66" stroke="#9dcbe0" stroke-width="1.6" />
<line x1="319.55" y1="741.19" x2="325.55" y2="741.19" stroke="#9dcbe0" stroke-width="1.6" />
<polygon points="53.06,661.59 56.16,665.44 53.06,669.28 49.96,665.44" fill="#9dcbe0" stroke="none" stroke-width="1" />
<polygon points="77.26,666.16 80.36,670.01 77.26,673.85 74.16,670.01" fill="#9dcbe0" stroke="none" stroke-width="1" />
<polygon points="101.65,668.78 104.75,672.62 101.65,676.47 98.55,672.62" fill="#9dcbe0" stroke="none" stroke-width="1" />
<polygon points="126.39,729.51 129.49,733.35 126.39,737.19 123.29,733.35" fill="#9dcbe0" stroke="none" stroke-width="1" />
<polygon points="150.59,728.2 153.69,732.04 150.59,735.89 147.5,732.04" fill="#9dcbe0" stroke="none" stroke-width="1" />
<polygon points="175.52,722.32 178.62,726.17 175.52,730.01 172.42,726.17" fill="#9dcbe0" stroke="none" stroke-width="1" />
<polygon points="200.09,627.64 203.19,631.48 200.09,635.33 196.99,631.48" fill="#9dcbe0" stroke="none" stroke-width="1" />
<polygon points="224.29,648.53 227.39,652.38 224.29,656.22 221.19,652.38" fill="#9dcbe0" stroke="none" stroke-width="1" />
<polygon points="248.85,648.53 251.95,652.38 248.85,656.22 245.75,652.38" fill="#9dcbe0" stroke="none" stroke-width="1" />
<polygon points="273.78,731.46 276.88,735.31 273.78,739.15 270.68,735.31" fill="#9dcbe0" stroke="none" stroke-width="1" />
<polygon points="298.35,732.77 301.45,736.62 298.35,740.46 295.25,736.62" fill="#9dcbe0" stroke="none" stroke-width="1" />
<polygon points="322.55,734.08 325.65,737.92 322.55,741.77 319.45,737.92" fill="#9dcbe0" stroke="none" stroke-width="1" />
<polyline points="53.06,678.5 77.26,681.76 101.65,683.07 126.39,736.62 150.59,736.62 175.52,732.04 200.09,615.16 224.29,649.11 248.85,649.11 273.78,736.62 298.35,739.23 322.55,741.19" fill="none" stroke="#e4262b" stroke-width="2.5" stroke-linejoin="round" />
<line x1="200.09" y1="607.32" x2="200.09" y2="622.99" stroke="#e4262b" stroke-width="1.6" />
<line x1="197.09" y1="607.32" x2="203.09" y2="607.32" stroke="#e4262b" stroke-width="1.6" />
<line x1="197.09" y1="622.99" x2="203.09" y2="622.99" stroke="#e4262b" stroke-width="1.6" />
<line x1="224.29" y1="643.89" x2="224.29" y2="654.34" stroke="#e4262b" stroke-width="1.6" />
<line x1="221.29" y1="643.89" x2="227.29" y2="643.89" stroke="#e4262b" stroke-width="1.6" />
<line x1="221.29" y1="654.34" x2="227.29" y2="654.34" stroke="#e4262b" stroke-width="1.6" />
<line x1="248.85" y1="643.89" x2="248.85" y2="654.34" stroke="#e4262b" stroke-width="1.6" />
<line x1="245.85" y1="643.89" x2="251.85" y2="643.89" stroke="#e4262b" stroke-width="1.6" />
<line x1="245.85" y1="654.34" x2="251.85" y2="654.34" stroke="#e4262b" stroke-width="1.6" />
<polygon points="53.06,674.65 49.34,681.1 56.78,681.1" fill="#e4262b" stroke="none" stroke-width="1" />
<polygon points="77.26,677.92 73.54,684.37 80.98,684.37" fill="#e4262b" stroke="none" stroke-width="1" />
<polygon points="101.65,679.22 97.93,685.67 105.37,685.67" fill="#e4262b" stroke="none" stroke-width="1" />
<polygon points="126.39,732.77 122.67,739.22 130.11,739.22" fill="#e4262b" stroke="none" stroke-width="1" />
<polygon points="150.59,732.77 146.88,739.22 154.31,739.22" fill="#e4262b" stroke="none" stroke-width="1" />
<polygon points="175.52,728.2 171.8,734.65 179.24,734.65" fill="#e4262b" stroke="none" stroke-width="1" />
<polygon points="200.09,611.31 196.37,617.76 203.81,617.76" fill="#e4262b" stroke="none" stroke-width="1" />
<polygon points="224.29,645.27 220.57,651.72 228.01,651.72" fill="#e4262b" stroke="none" stroke-width="1" />
<polygon points="248.85,645.27 245.13,651.72 252.57,651.72" fill="#e4262b" stroke="none" stroke-width="1" />
<polygon points="273.78,732.77 270.06,739.22 277.5,739.22" fill="#e4262b" stroke="none" stroke-width="1" />
<polygon points="298.35,735.38 294.63,741.83 302.07,741.83" fill="#e4262b" stroke="none" stroke-width="1" />
<polygon points="322.55,737.34 318.83,743.79 326.27,743.79" fill="#e4262b" stroke="none" stroke-width="1" />
<line x1="48" y1="569.1" x2="48" y2="767.1" stroke="#000" stroke-width="2.2" />
<line x1="46.9" y1="766" x2="338" y2="766" stroke="#000" stroke-width="2.2" />
<line x1="41" y1="766" x2="48" y2="766" stroke="#000" stroke-width="1.98" />
<text x="39" y="771.29" font-size="14.7" text-anchor="end">0</text>
<line x1="41" y1="733.35" x2="48" y2="733.35" stroke="#000" stroke-width="1.98" />
<text x="39" y="738.64" font-size="14.7" text-anchor="end">0.5</text>
<line x1="41" y1="700.7" x2="48" y2="700.7" stroke="#000" stroke-width="1.98" />
<text x="39" y="705.99" font-size="14.7" text-anchor="end">1.0</text>
<line x1="41" y1="668.05" x2="48" y2="668.05" stroke="#000" stroke-width="1.98" />
<text x="39" y="673.34" font-size="14.7" text-anchor="end">1.5</text>
<line x1="41" y1="635.4" x2="48" y2="635.4" stroke="#000" stroke-width="1.98" />
<text x="39" y="640.69" font-size="14.7" text-anchor="end">2.0</text>
<line x1="41" y1="602.75" x2="48" y2="602.75" stroke="#000" stroke-width="1.98" />
<text x="39" y="608.04" font-size="14.7" text-anchor="end">2.5</text>
<line x1="41" y1="570.1" x2="48" y2="570.1" stroke="#000" stroke-width="1.98" />
<text x="39" y="575.39" font-size="14.7" text-anchor="end">3.0</text>
<line x1="48" y1="766" x2="48" y2="773" stroke="#000" stroke-width="1.98" />
<line x1="55.23" y1="766" x2="55.23" y2="770.2" stroke="#000" stroke-width="1.98" />
<line x1="62.45" y1="766" x2="62.45" y2="770.2" stroke="#000" stroke-width="1.98" />
<line x1="69.67" y1="766" x2="69.67" y2="770.2" stroke="#000" stroke-width="1.98" />
<line x1="76.9" y1="766" x2="76.9" y2="770.2" stroke="#000" stroke-width="1.98" />
<line x1="84.12" y1="766" x2="84.12" y2="770.2" stroke="#000" stroke-width="1.98" />
<line x1="91.35" y1="766" x2="91.35" y2="770.2" stroke="#000" stroke-width="1.98" />
<line x1="98.58" y1="766" x2="98.58" y2="770.2" stroke="#000" stroke-width="1.98" />
<line x1="105.8" y1="766" x2="105.8" y2="770.2" stroke="#000" stroke-width="1.98" />
<line x1="113.03" y1="766" x2="113.03" y2="770.2" stroke="#000" stroke-width="1.98" />
<line x1="120.25" y1="766" x2="120.25" y2="773" stroke="#000" stroke-width="1.98" />
<line x1="127.47" y1="766" x2="127.47" y2="770.2" stroke="#000" stroke-width="1.98" />
<line x1="134.7" y1="766" x2="134.7" y2="770.2" stroke="#000" stroke-width="1.98" />
<line x1="141.93" y1="766" x2="141.93" y2="770.2" stroke="#000" stroke-width="1.98" />
<line x1="149.15" y1="766" x2="149.15" y2="770.2" stroke="#000" stroke-width="1.98" />
<line x1="156.38" y1="766" x2="156.38" y2="770.2" stroke="#000" stroke-width="1.98" />
<line x1="163.6" y1="766" x2="163.6" y2="770.2" stroke="#000" stroke-width="1.98" />
<line x1="170.82" y1="766" x2="170.82" y2="770.2" stroke="#000" stroke-width="1.98" />
<line x1="178.05" y1="766" x2="178.05" y2="770.2" stroke="#000" stroke-width="1.98" />
<line x1="185.28" y1="766" x2="185.28" y2="770.2" stroke="#000" stroke-width="1.98" />
<line x1="192.5" y1="766" x2="192.5" y2="773" stroke="#000" stroke-width="1.98" />
<line x1="199.72" y1="766" x2="199.72" y2="770.2" stroke="#000" stroke-width="1.98" />
<line x1="206.95" y1="766" x2="206.95" y2="770.2" stroke="#000" stroke-width="1.98" />
<line x1="214.18" y1="766" x2="214.18" y2="770.2" stroke="#000" stroke-width="1.98" />
<line x1="221.4" y1="766" x2="221.4" y2="770.2" stroke="#000" stroke-width="1.98" />
<line x1="228.62" y1="766" x2="228.62" y2="770.2" stroke="#000" stroke-width="1.98" />
<line x1="235.85" y1="766" x2="235.85" y2="770.2" stroke="#000" stroke-width="1.98" />
<line x1="243.07" y1="766" x2="243.07" y2="770.2" stroke="#000" stroke-width="1.98" />
<line x1="250.3" y1="766" x2="250.3" y2="770.2" stroke="#000" stroke-width="1.98" />
<line x1="257.52" y1="766" x2="257.52" y2="770.2" stroke="#000" stroke-width="1.98" />
<line x1="264.75" y1="766" x2="264.75" y2="773" stroke="#000" stroke-width="1.98" />
<line x1="271.98" y1="766" x2="271.98" y2="770.2" stroke="#000" stroke-width="1.98" />
<line x1="279.2" y1="766" x2="279.2" y2="770.2" stroke="#000" stroke-width="1.98" />
<line x1="286.43" y1="766" x2="286.43" y2="770.2" stroke="#000" stroke-width="1.98" />
<line x1="293.65" y1="766" x2="293.65" y2="770.2" stroke="#000" stroke-width="1.98" />
<line x1="300.88" y1="766" x2="300.88" y2="770.2" stroke="#000" stroke-width="1.98" />
<line x1="308.1" y1="766" x2="308.1" y2="770.2" stroke="#000" stroke-width="1.98" />
<line x1="315.32" y1="766" x2="315.32" y2="770.2" stroke="#000" stroke-width="1.98" />
<line x1="322.55" y1="766" x2="322.55" y2="770.2" stroke="#000" stroke-width="1.98" />
<line x1="329.77" y1="766" x2="329.77" y2="770.2" stroke="#000" stroke-width="1.98" />
<line x1="337" y1="766" x2="337" y2="773" stroke="#000" stroke-width="1.98" />
<text x="48" y="786.8" font-size="15.5" text-anchor="middle">0</text>
<text x="120.25" y="786.8" font-size="15.5" text-anchor="middle">20</text>
<text x="192.5" y="786.8" font-size="15.5" text-anchor="middle">40</text>
<text x="264.75" y="786.8" font-size="15.5" text-anchor="middle">60</text>
<text x="337" y="786.8" font-size="15.5" text-anchor="middle">80</text>
<text x="193" y="800" font-size="16.4" text-anchor="middle">Time (minutes)</text>
<text x="14.5" y="666" font-size="16.3" text-anchor="middle" transform="rotate(-90 14.5 666)">OCR (pmol/min/1000 cells)</text>
<text x="335.5" y="584" font-size="17" font-weight="bold">WT</text>
<line x1="337" y1="597.5" x2="351" y2="597.5" stroke="#6ab245" stroke-width="2.5" />
<rect x="340.5" y="594" width="7" height="7" fill="#6ab245" stroke="none" stroke-width="1" />
<text x="357.7" y="603.37" font-size="16.3">Con</text>
<line x1="337" y1="616.7" x2="351" y2="616.7" stroke="#7f7f7f" stroke-width="2.5" />
<polygon points="344,621.04 339.8,613.76 348.2,613.76" fill="#7f7f7f" stroke="none" stroke-width="1" />
<text x="357.7" y="622.57" font-size="16.3">Ficz</text>
<line x1="337" y1="635.9" x2="351" y2="635.9" stroke="#e4262b" stroke-width="2.5" />
<polygon points="344,631.56 339.8,638.84 348.2,638.84" fill="#e4262b" stroke="none" stroke-width="1" />
<text x="357.7" y="641.77" font-size="16.3">CD3/CD28</text>
<line x1="337" y1="655.1" x2="351" y2="655.1" stroke="#9dcbe0" stroke-width="2.5" />
<polygon points="344,650.76 347.5,655.1 344,659.44 340.5,655.1" fill="#9dcbe0" stroke="none" stroke-width="1" />
<text x="357.7" y="660.97" font-size="16.3">CD3/CD28+Ficz</text>
<text x="50" y="840.5" font-size="19.6">AhR</text>
<text x="88.13" y="832" font-size="11.5">-/-</text>
<text x="98.98" y="840.5" font-size="19.6">-Mitochondrial Respiration</text>
<line x1="109.4" y1="877.5" x2="109.4" y2="1074" stroke="#111" stroke-width="1.3" stroke-dasharray="3,2"/>
<line x1="181.8" y1="877.5" x2="181.8" y2="1074" stroke="#111" stroke-width="1.3" stroke-dasharray="3,2"/>
<line x1="254.8" y1="877.5" x2="254.8" y2="1074" stroke="#111" stroke-width="1.3" stroke-dasharray="3,2"/>
<text x="108" y="876" font-size="16.3" text-anchor="middle">Oligo</text>
<text x="178" y="876" font-size="16.3" text-anchor="middle">FCCP</text>
<text x="253" y="876" font-size="16.3" text-anchor="middle">Rot/AA</text>
<polyline points="53.06,1011.91 77.26,1015.05 101.65,1015.44 126.39,1048.45 150.59,1048.45 175.52,1047.67 200.09,1045.31 224.29,1046.88 248.85,1042.95 273.78,1055.14 298.35,1057.49 322.55,1059.46" fill="none" stroke="#6ab245" stroke-width="2.5" stroke-linejoin="round" />
<rect x="49.96" y="1008.81" width="6.2" height="6.2" fill="#6ab245" stroke="none" stroke-width="1" />
<rect x="74.16" y="1011.95" width="6.2" height="6.2" fill="#6ab245" stroke="none" stroke-width="1" />
<rect x="98.55" y="1012.34" width="6.2" height="6.2" fill="#6ab245" stroke="none" stroke-width="1" />
<rect x="123.29" y="1045.36" width="6.2" height="6.2" fill="#6ab245" stroke="none" stroke-width="1" />
<rect x="147.5" y="1045.36" width="6.2" height="6.2" fill="#6ab245" stroke="none" stroke-width="1" />
<rect x="172.42" y="1044.57" width="6.2" height="6.2" fill="#6ab245" stroke="none" stroke-width="1" />
<rect x="196.99" y="1042.21" width="6.2" height="6.2" fill="#6ab245" stroke="none" stroke-width="1" />
<rect x="221.19" y="1043.78" width="6.2" height="6.2" fill="#6ab245" stroke="none" stroke-width="1" />
<rect x="245.75" y="1039.85" width="6.2" height="6.2" fill="#6ab245" stroke="none" stroke-width="1" />
<rect x="270.68" y="1052.04" width="6.2" height="6.2" fill="#6ab245" stroke="none" stroke-width="1" />
<rect x="295.25" y="1054.39" width="6.2" height="6.2" fill="#6ab245" stroke="none" stroke-width="1" />
<rect x="319.45" y="1056.36" width="6.2" height="6.2" fill="#6ab245" stroke="none" stroke-width="1" />
<polyline points="53.06,997.37 77.26,999.33 101.65,1000.9 126.39,1042.95 150.59,1042.95 175.52,1041.77 200.09,1037.06 224.29,1038.63 248.85,1034.7 273.78,1050.42 298.35,1052.38 322.55,1054.35" fill="none" stroke="#7f7f7f" stroke-width="2.5" stroke-linejoin="round" />
<line x1="53.06" y1="986.36" x2="53.06" y2="1008.37" stroke="#7f7f7f" stroke-width="1.6" />
<line x1="50.06" y1="986.36" x2="56.06" y2="986.36" stroke="#7f7f7f" stroke-width="1.6" />
<line x1="50.06" y1="1008.37" x2="56.06" y2="1008.37" stroke="#7f7f7f" stroke-width="1.6" />
<line x1="77.26" y1="988.33" x2="77.26" y2="1010.33" stroke="#7f7f7f" stroke-width="1.6" />
<line x1="74.26" y1="988.33" x2="80.26" y2="988.33" stroke="#7f7f7f" stroke-width="1.6" />
<line x1="74.26" y1="1010.33" x2="80.26" y2="1010.33" stroke="#7f7f7f" stroke-width="1.6" />
<line x1="101.65" y1="989.9" x2="101.65" y2="1011.91" stroke="#7f7f7f" stroke-width="1.6" />
<line x1="98.65" y1="989.9" x2="104.65" y2="989.9" stroke="#7f7f7f" stroke-width="1.6" />
<line x1="98.65" y1="1011.91" x2="104.65" y2="1011.91" stroke="#7f7f7f" stroke-width="1.6" />
<line x1="126.39" y1="1039.02" x2="126.39" y2="1046.88" stroke="#7f7f7f" stroke-width="1.6" />
<line x1="123.39" y1="1039.02" x2="129.39" y2="1039.02" stroke="#7f7f7f" stroke-width="1.6" />
<line x1="123.39" y1="1046.88" x2="129.39" y2="1046.88" stroke="#7f7f7f" stroke-width="1.6" />
<line x1="150.59" y1="1039.02" x2="150.59" y2="1046.88" stroke="#7f7f7f" stroke-width="1.6" />
<line x1="147.59" y1="1039.02" x2="153.59" y2="1039.02" stroke="#7f7f7f" stroke-width="1.6" />
<line x1="147.59" y1="1046.88" x2="153.59" y2="1046.88" stroke="#7f7f7f" stroke-width="1.6" />
<line x1="175.52" y1="1037.06" x2="175.52" y2="1046.49" stroke="#7f7f7f" stroke-width="1.6" />
<line x1="172.52" y1="1037.06" x2="178.52" y2="1037.06" stroke="#7f7f7f" stroke-width="1.6" />
<line x1="172.52" y1="1046.49" x2="178.52" y2="1046.49" stroke="#7f7f7f" stroke-width="1.6" />
<line x1="200.09" y1="1029.2" x2="200.09" y2="1044.92" stroke="#7f7f7f" stroke-width="1.6" />
<line x1="197.09" y1="1029.2" x2="203.09" y2="1029.2" stroke="#7f7f7f" stroke-width="1.6" />
<line x1="197.09" y1="1044.92" x2="203.09" y2="1044.92" stroke="#7f7f7f" stroke-width="1.6" />
<line x1="224.29" y1="1032.74" x2="224.29" y2="1044.53" stroke="#7f7f7f" stroke-width="1.6" />
<line x1="221.29" y1="1032.74" x2="227.29" y2="1032.74" stroke="#7f7f7f" stroke-width="1.6" />
<line x1="221.29" y1="1044.53" x2="227.29" y2="1044.53" stroke="#7f7f7f" stroke-width="1.6" />
<line x1="248.85" y1="1028.81" x2="248.85" y2="1040.6" stroke="#7f7f7f" stroke-width="1.6" />
<line x1="245.85" y1="1028.81" x2="251.85" y2="1028.81" stroke="#7f7f7f" stroke-width="1.6" />
<line x1="245.85" y1="1040.6" x2="251.85" y2="1040.6" stroke="#7f7f7f" stroke-width="1.6" />
<line x1="273.78" y1="1047.28" x2="273.78" y2="1053.56" stroke="#7f7f7f" stroke-width="1.6" />
<line x1="270.78" y1="1047.28" x2="276.78" y2="1047.28" stroke="#7f7f7f" stroke-width="1.6" />
<line x1="270.78" y1="1053.56" x2="276.78" y2="1053.56" stroke="#7f7f7f" stroke-width="1.6" />
<line x1="298.35" y1="1049.24" x2="298.35" y2="1055.53" stroke="#7f7f7f" stroke-width="1.6" />
<line x1="295.35" y1="1049.24" x2="301.35" y2="1049.24" stroke="#7f7f7f" stroke-width="1.6" />
<line x1="295.35" y1="1055.53" x2="301.35" y2="1055.53" stroke="#7f7f7f" stroke-width="1.6" />
<line x1="322.55" y1="1051.21" x2="322.55" y2="1057.49" stroke="#7f7f7f" stroke-width="1.6" />
<line x1="319.55" y1="1051.21" x2="325.55" y2="1051.21" stroke="#7f7f7f" stroke-width="1.6" />
<line x1="319.55" y1="1057.49" x2="325.55" y2="1057.49" stroke="#7f7f7f" stroke-width="1.6" />
<polygon points="53.06,1001.21 49.34,994.76 56.78,994.76" fill="#7f7f7f" stroke="none" stroke-width="1" />
<polygon points="77.26,1003.17 73.54,996.73 80.98,996.73" fill="#7f7f7f" stroke="none" stroke-width="1" />
<polygon points="101.65,1004.75 97.93,998.3 105.37,998.3" fill="#7f7f7f" stroke="none" stroke-width="1" />
<polygon points="126.39,1046.8 122.67,1040.35 130.11,1040.35" fill="#7f7f7f" stroke="none" stroke-width="1" />
<polygon points="150.59,1046.8 146.88,1040.35 154.31,1040.35" fill="#7f7f7f" stroke="none" stroke-width="1" />
<polygon points="175.52,1045.62 171.8,1039.17 179.24,1039.17" fill="#7f7f7f" stroke="none" stroke-width="1" />
<polygon points="200.09,1040.9 196.37,1034.45 203.81,1034.45" fill="#7f7f7f" stroke="none" stroke-width="1" />
<polygon points="224.29,1042.47 220.57,1036.03 228.01,1036.03" fill="#7f7f7f" stroke="none" stroke-width="1" />
<polygon points="248.85,1038.54 245.13,1032.1 252.57,1032.1" fill="#7f7f7f" stroke="none" stroke-width="1" />
<polygon points="273.78,1054.26 270.06,1047.82 277.5,1047.82" fill="#7f7f7f" stroke="none" stroke-width="1" />
<polygon points="298.35,1056.23 294.63,1049.78 302.07,1049.78" fill="#7f7f7f" stroke="none" stroke-width="1" />
<polygon points="322.55,1058.19 318.83,1051.75 326.27,1051.75" fill="#7f7f7f" stroke="none" stroke-width="1" />
<polyline points="53.06,973.78 77.26,977.72 101.65,979.68 126.39,1036.66 150.59,1033.91 175.52,1029.98 200.09,938.41 224.29,956.1 248.85,956.89 273.78,1044.53 298.35,1046.49 322.55,1049.24" fill="none" stroke="#9dcbe0" stroke-width="2.5" stroke-linejoin="round" />
<line x1="53.06" y1="965.92" x2="53.06" y2="981.64" stroke="#9dcbe0" stroke-width="1.6" />
<line x1="50.06" y1="965.92" x2="56.06" y2="965.92" stroke="#9dcbe0" stroke-width="1.6" />
<line x1="50.06" y1="981.64" x2="56.06" y2="981.64" stroke="#9dcbe0" stroke-width="1.6" />
<line x1="77.26" y1="967.89" x2="77.26" y2="987.54" stroke="#9dcbe0" stroke-width="1.6" />
<line x1="74.26" y1="967.89" x2="80.26" y2="967.89" stroke="#9dcbe0" stroke-width="1.6" />
<line x1="74.26" y1="987.54" x2="80.26" y2="987.54" stroke="#9dcbe0" stroke-width="1.6" />
<line x1="101.65" y1="971.03" x2="101.65" y2="988.33" stroke="#9dcbe0" stroke-width="1.6" />
<line x1="98.65" y1="971.03" x2="104.65" y2="971.03" stroke="#9dcbe0" stroke-width="1.6" />
<line x1="98.65" y1="988.33" x2="104.65" y2="988.33" stroke="#9dcbe0" stroke-width="1.6" />
<line x1="175.52" y1="1026.84" x2="175.52" y2="1033.13" stroke="#9dcbe0" stroke-width="1.6" />
<line x1="172.52" y1="1026.84" x2="178.52" y2="1026.84" stroke="#9dcbe0" stroke-width="1.6" />
<line x1="172.52" y1="1033.13" x2="178.52" y2="1033.13" stroke="#9dcbe0" stroke-width="1.6" />
<line x1="200.09" y1="918.76" x2="200.09" y2="958.06" stroke="#9dcbe0" stroke-width="1.6" />
<line x1="197.09" y1="918.76" x2="203.09" y2="918.76" stroke="#9dcbe0" stroke-width="1.6" />
<line x1="197.09" y1="958.06" x2="203.09" y2="958.06" stroke="#9dcbe0" stroke-width="1.6" />
<line x1="224.29" y1="947.45" x2="224.29" y2="964.75" stroke="#9dcbe0" stroke-width="1.6" />
<line x1="221.29" y1="947.45" x2="227.29" y2="947.45" stroke="#9dcbe0" stroke-width="1.6" />
<line x1="221.29" y1="964.75" x2="227.29" y2="964.75" stroke="#9dcbe0" stroke-width="1.6" />
<line x1="248.85" y1="948.24" x2="248.85" y2="965.53" stroke="#9dcbe0" stroke-width="1.6" />
<line x1="245.85" y1="948.24" x2="251.85" y2="948.24" stroke="#9dcbe0" stroke-width="1.6" />
<line x1="245.85" y1="965.53" x2="251.85" y2="965.53" stroke="#9dcbe0" stroke-width="1.6" />
<polygon points="53.06,969.94 56.16,973.78 53.06,977.63 49.96,973.78" fill="#9dcbe0" stroke="none" stroke-width="1" />
<polygon points="77.26,973.87 80.36,977.72 77.26,981.56 74.16,977.72" fill="#9dcbe0" stroke="none" stroke-width="1" />
<polygon points="101.65,975.84 104.75,979.68 101.65,983.52 98.55,979.68" fill="#9dcbe0" stroke="none" stroke-width="1" />
<polygon points="126.39,1032.82 129.49,1036.66 126.39,1040.51 123.29,1036.66" fill="#9dcbe0" stroke="none" stroke-width="1" />
<polygon points="150.59,1030.07 153.69,1033.91 150.59,1037.76 147.5,1033.91" fill="#9dcbe0" stroke="none" stroke-width="1" />
<polygon points="175.52,1026.14 178.62,1029.98 175.52,1033.83 172.42,1029.98" fill="#9dcbe0" stroke="none" stroke-width="1" />
<polygon points="200.09,934.57 203.19,938.41 200.09,942.26 196.99,938.41" fill="#9dcbe0" stroke="none" stroke-width="1" />
<polygon points="224.29,952.26 227.39,956.1 224.29,959.94 221.19,956.1" fill="#9dcbe0" stroke="none" stroke-width="1" />
<polygon points="248.85,953.04 251.95,956.89 248.85,960.73 245.75,956.89" fill="#9dcbe0" stroke="none" stroke-width="1" />
<polygon points="273.78,1040.68 276.88,1044.53 273.78,1048.37 270.68,1044.53" fill="#9dcbe0" stroke="none" stroke-width="1" />
<polygon points="298.35,1042.65 301.45,1046.49 298.35,1050.33 295.25,1046.49" fill="#9dcbe0" stroke="none" stroke-width="1" />
<polygon points="322.55,1045.4 325.65,1049.24 322.55,1053.09 319.45,1049.24" fill="#9dcbe0" stroke="none" stroke-width="1" />
<polyline points="53.06,976.14 77.26,978.5 101.65,980.86 126.39,1038.63 150.59,1035.49 175.52,1031.16 200.09,934.49 224.29,954.53 248.85,956.49 273.78,1046.1 298.35,1048.45 322.55,1051.6" fill="none" stroke="#e4262b" stroke-width="2.5" stroke-linejoin="round" />
<line x1="53.06" y1="972.21" x2="53.06" y2="980.07" stroke="#e4262b" stroke-width="1.6" />
<line x1="50.06" y1="972.21" x2="56.06" y2="972.21" stroke="#e4262b" stroke-width="1.6" />
<line x1="50.06" y1="980.07" x2="56.06" y2="980.07" stroke="#e4262b" stroke-width="1.6" />
<line x1="77.26" y1="974.57" x2="77.26" y2="982.43" stroke="#e4262b" stroke-width="1.6" />
<line x1="74.26" y1="974.57" x2="80.26" y2="974.57" stroke="#e4262b" stroke-width="1.6" />
<line x1="74.26" y1="982.43" x2="80.26" y2="982.43" stroke="#e4262b" stroke-width="1.6" />
<line x1="101.65" y1="976.93" x2="101.65" y2="984.79" stroke="#e4262b" stroke-width="1.6" />
<line x1="98.65" y1="976.93" x2="104.65" y2="976.93" stroke="#e4262b" stroke-width="1.6" />
<line x1="98.65" y1="984.79" x2="104.65" y2="984.79" stroke="#e4262b" stroke-width="1.6" />
<line x1="200.09" y1="924.66" x2="200.09" y2="944.31" stroke="#e4262b" stroke-width="1.6" />
<line x1="197.09" y1="924.66" x2="203.09" y2="924.66" stroke="#e4262b" stroke-width="1.6" />
<line x1="197.09" y1="944.31" x2="203.09" y2="944.31" stroke="#e4262b" stroke-width="1.6" />
<line x1="224.29" y1="950.6" x2="224.29" y2="958.46" stroke="#e4262b" stroke-width="1.6" />
<line x1="221.29" y1="950.6" x2="227.29" y2="950.6" stroke="#e4262b" stroke-width="1.6" />
<line x1="221.29" y1="958.46" x2="227.29" y2="958.46" stroke="#e4262b" stroke-width="1.6" />
<line x1="248.85" y1="951.78" x2="248.85" y2="961.21" stroke="#e4262b" stroke-width="1.6" />
<line x1="245.85" y1="951.78" x2="251.85" y2="951.78" stroke="#e4262b" stroke-width="1.6" />
<line x1="245.85" y1="961.21" x2="251.85" y2="961.21" stroke="#e4262b" stroke-width="1.6" />
<polygon points="53.06,972.3 49.34,978.75 56.78,978.75" fill="#e4262b" stroke="none" stroke-width="1" />
<polygon points="77.26,974.66 73.54,981.11 80.98,981.11" fill="#e4262b" stroke="none" stroke-width="1" />
<polygon points="101.65,977.01 97.93,983.46 105.37,983.46" fill="#e4262b" stroke="none" stroke-width="1" />
<polygon points="126.39,1034.79 122.67,1041.23 130.11,1041.23" fill="#e4262b" stroke="none" stroke-width="1" />
<polygon points="150.59,1031.64 146.88,1038.09 154.31,1038.09" fill="#e4262b" stroke="none" stroke-width="1" />
<polygon points="175.52,1027.32 171.8,1033.77 179.24,1033.77" fill="#e4262b" stroke="none" stroke-width="1" />
<polygon points="200.09,930.64 196.37,937.09 203.81,937.09" fill="#e4262b" stroke="none" stroke-width="1" />
<polygon points="224.29,950.68 220.57,957.13 228.01,957.13" fill="#e4262b" stroke="none" stroke-width="1" />
<polygon points="248.85,952.65 245.13,959.1 252.57,959.1" fill="#e4262b" stroke="none" stroke-width="1" />
<polygon points="273.78,1042.25 270.06,1048.7 277.5,1048.7" fill="#e4262b" stroke="none" stroke-width="1" />
<polygon points="298.35,1044.61 294.63,1051.06 302.07,1051.06" fill="#e4262b" stroke="none" stroke-width="1" />
<polygon points="322.55,1047.75 318.83,1054.2 326.27,1054.2" fill="#e4262b" stroke="none" stroke-width="1" />
<line x1="48" y1="876.5" x2="48" y2="1075.1" stroke="#000" stroke-width="2.2" />
<line x1="46.9" y1="1074" x2="338" y2="1074" stroke="#000" stroke-width="2.2" />
<line x1="41" y1="1074" x2="48" y2="1074" stroke="#000" stroke-width="1.98" />
<text x="39" y="1079.29" font-size="14.7" text-anchor="end">0</text>
<line x1="41" y1="1034.7" x2="48" y2="1034.7" stroke="#000" stroke-width="1.98" />
<text x="39" y="1039.99" font-size="14.7" text-anchor="end">1</text>
<line x1="41" y1="995.4" x2="48" y2="995.4" stroke="#000" stroke-width="1.98" />
<text x="39" y="1000.69" font-size="14.7" text-anchor="end">2</text>
<line x1="41" y1="956.1" x2="48" y2="956.1" stroke="#000" stroke-width="1.98" />
<text x="39" y="961.39" font-size="14.7" text-anchor="end">3</text>
<line x1="41" y1="916.8" x2="48" y2="916.8" stroke="#000" stroke-width="1.98" />
<text x="39" y="922.09" font-size="14.7" text-anchor="end">4</text>
<line x1="41" y1="877.5" x2="48" y2="877.5" stroke="#000" stroke-width="1.98" />
<text x="39" y="882.79" font-size="14.7" text-anchor="end">5</text>
<line x1="48" y1="1074" x2="48" y2="1081" stroke="#000" stroke-width="1.98" />
<line x1="55.23" y1="1074" x2="55.23" y2="1078.2" stroke="#000" stroke-width="1.98" />
<line x1="62.45" y1="1074" x2="62.45" y2="1078.2" stroke="#000" stroke-width="1.98" />
<line x1="69.67" y1="1074" x2="69.67" y2="1078.2" stroke="#000" stroke-width="1.98" />
<line x1="76.9" y1="1074" x2="76.9" y2="1078.2" stroke="#000" stroke-width="1.98" />
<line x1="84.12" y1="1074" x2="84.12" y2="1078.2" stroke="#000" stroke-width="1.98" />
<line x1="91.35" y1="1074" x2="91.35" y2="1078.2" stroke="#000" stroke-width="1.98" />
<line x1="98.58" y1="1074" x2="98.58" y2="1078.2" stroke="#000" stroke-width="1.98" />
<line x1="105.8" y1="1074" x2="105.8" y2="1078.2" stroke="#000" stroke-width="1.98" />
<line x1="113.03" y1="1074" x2="113.03" y2="1078.2" stroke="#000" stroke-width="1.98" />
<line x1="120.25" y1="1074" x2="120.25" y2="1081" stroke="#000" stroke-width="1.98" />
<line x1="127.47" y1="1074" x2="127.47" y2="1078.2" stroke="#000" stroke-width="1.98" />
<line x1="134.7" y1="1074" x2="134.7" y2="1078.2" stroke="#000" stroke-width="1.98" />
<line x1="141.93" y1="1074" x2="141.93" y2="1078.2" stroke="#000" stroke-width="1.98" />
<line x1="149.15" y1="1074" x2="149.15" y2="1078.2" stroke="#000" stroke-width="1.98" />
<line x1="156.38" y1="1074" x2="156.38" y2="1078.2" stroke="#000" stroke-width="1.98" />
<line x1="163.6" y1="1074" x2="163.6" y2="1078.2" stroke="#000" stroke-width="1.98" />
<line x1="170.82" y1="1074" x2="170.82" y2="1078.2" stroke="#000" stroke-width="1.98" />
<line x1="178.05" y1="1074" x2="178.05" y2="1078.2" stroke="#000" stroke-width="1.98" />
<line x1="185.28" y1="1074" x2="185.28" y2="1078.2" stroke="#000" stroke-width="1.98" />
<line x1="192.5" y1="1074" x2="192.5" y2="1081" stroke="#000" stroke-width="1.98" />
<line x1="199.72" y1="1074" x2="199.72" y2="1078.2" stroke="#000" stroke-width="1.98" />
<line x1="206.95" y1="1074" x2="206.95" y2="1078.2" stroke="#000" stroke-width="1.98" />
<line x1="214.18" y1="1074" x2="214.18" y2="1078.2" stroke="#000" stroke-width="1.98" />
<line x1="221.4" y1="1074" x2="221.4" y2="1078.2" stroke="#000" stroke-width="1.98" />
<line x1="228.62" y1="1074" x2="228.62" y2="1078.2" stroke="#000" stroke-width="1.98" />
<line x1="235.85" y1="1074" x2="235.85" y2="1078.2" stroke="#000" stroke-width="1.98" />
<line x1="243.07" y1="1074" x2="243.07" y2="1078.2" stroke="#000" stroke-width="1.98" />
<line x1="250.3" y1="1074" x2="250.3" y2="1078.2" stroke="#000" stroke-width="1.98" />
<line x1="257.52" y1="1074" x2="257.52" y2="1078.2" stroke="#000" stroke-width="1.98" />
<line x1="264.75" y1="1074" x2="264.75" y2="1081" stroke="#000" stroke-width="1.98" />
<line x1="271.98" y1="1074" x2="271.98" y2="1078.2" stroke="#000" stroke-width="1.98" />
<line x1="279.2" y1="1074" x2="279.2" y2="1078.2" stroke="#000" stroke-width="1.98" />
<line x1="286.43" y1="1074" x2="286.43" y2="1078.2" stroke="#000" stroke-width="1.98" />
<line x1="293.65" y1="1074" x2="293.65" y2="1078.2" stroke="#000" stroke-width="1.98" />
<line x1="300.88" y1="1074" x2="300.88" y2="1078.2" stroke="#000" stroke-width="1.98" />
<line x1="308.1" y1="1074" x2="308.1" y2="1078.2" stroke="#000" stroke-width="1.98" />
<line x1="315.32" y1="1074" x2="315.32" y2="1078.2" stroke="#000" stroke-width="1.98" />
<line x1="322.55" y1="1074" x2="322.55" y2="1078.2" stroke="#000" stroke-width="1.98" />
<line x1="329.77" y1="1074" x2="329.77" y2="1078.2" stroke="#000" stroke-width="1.98" />
<line x1="337" y1="1074" x2="337" y2="1081" stroke="#000" stroke-width="1.98" />
<text x="48" y="1095" font-size="15.5" text-anchor="middle">0</text>
<text x="120.25" y="1095" font-size="15.5" text-anchor="middle">20</text>
<text x="192.5" y="1095" font-size="15.5" text-anchor="middle">40</text>
<text x="264.75" y="1095" font-size="15.5" text-anchor="middle">60</text>
<text x="337" y="1095" font-size="15.5" text-anchor="middle">80</text>
<text x="193" y="1108.5" font-size="16.4" text-anchor="middle">Time (minutes)</text>
<text x="14.5" y="977" font-size="16.3" text-anchor="middle" transform="rotate(-90 14.5 977)">OCR (pmol/min/1000 cells)</text>
<text x="335.5" y="893.5" font-size="17" font-weight="bold">AhR</text>
<text x="370.44" y="886" font-size="10">-/-</text>
<line x1="337" y1="908.6" x2="351" y2="908.6" stroke="#6ab245" stroke-width="2.5" />
<rect x="340.5" y="905.1" width="7" height="7" fill="#6ab245" stroke="none" stroke-width="1" />
<text x="357.7" y="914.47" font-size="16.3">Con</text>
<line x1="337" y1="927.7" x2="351" y2="927.7" stroke="#7f7f7f" stroke-width="2.5" />
<polygon points="344,932.04 339.8,924.76 348.2,924.76" fill="#7f7f7f" stroke="none" stroke-width="1" />
<text x="357.7" y="933.57" font-size="16.3">Ficz</text>
<line x1="337" y1="946.8" x2="351" y2="946.8" stroke="#e4262b" stroke-width="2.5" />
<polygon points="344,942.46 339.8,949.74 348.2,949.74" fill="#e4262b" stroke="none" stroke-width="1" />
<text x="357.7" y="952.67" font-size="16.3">CD3/CD28</text>
<line x1="337" y1="965.9" x2="351" y2="965.9" stroke="#9dcbe0" stroke-width="2.5" />
<polygon points="344,961.56 347.5,965.9 344,970.24 340.5,965.9" fill="#9dcbe0" stroke="none" stroke-width="1" />
<text x="357.7" y="971.77" font-size="16.3">CD3/CD28+Ficz</text>
<text x="897" y="529.2" font-size="22.5">E</text>
<text x="944.8" y="528" font-size="19.6">WT-Mitochondrial Respiration</text>
<line x1="1003.6" y1="569.4" x2="1003.6" y2="765" stroke="#111" stroke-width="1.3" stroke-dasharray="3,2"/>
<line x1="1076" y1="569.4" x2="1076" y2="765" stroke="#111" stroke-width="1.3" stroke-dasharray="3,2"/>
<line x1="1147.8" y1="569.4" x2="1147.8" y2="765" stroke="#111" stroke-width="1.3" stroke-dasharray="3,2"/>
<text x="1005" y="563" font-size="16.3" text-anchor="middle">Oligo</text>
<text x="1075" y="563" font-size="16.3" text-anchor="middle">FCCP</text>
<text x="1150" y="563" font-size="16.3" text-anchor="middle">Rot/AA</text>
<polyline points="948.5,712.19 972.46,713.65 996.59,714.14 1021.08,746.42 1045.03,746.42 1069.7,744.95 1094.01,739.08 1117.96,740.55 1142.27,738.59 1166.94,749.84 1191.25,751.31 1215.2,751.8" fill="none" stroke="#4aa8dc" stroke-width="2.6" stroke-linejoin="round" />
<polygon points="948.5,708.28 944.73,714.83 952.28,714.83" fill="#4aa8dc" stroke="none" stroke-width="1" />
<polygon points="972.46,709.75 968.68,716.3 976.24,716.3" fill="#4aa8dc" stroke="none" stroke-width="1" />
<polygon points="996.59,710.24 992.81,716.79 1000.37,716.79" fill="#4aa8dc" stroke="none" stroke-width="1" />
<polygon points="1021.08,742.51 1017.3,749.06 1024.86,749.06" fill="#4aa8dc" stroke="none" stroke-width="1" />
<polygon points="1045.03,742.51 1041.25,749.06 1048.81,749.06" fill="#4aa8dc" stroke="none" stroke-width="1" />
<polygon points="1069.7,741.05 1065.92,747.6 1073.48,747.6" fill="#4aa8dc" stroke="none" stroke-width="1" />
<polygon points="1094.01,735.18 1090.23,741.73 1097.79,741.73" fill="#4aa8dc" stroke="none" stroke-width="1" />
<polygon points="1117.96,736.64 1114.18,743.2 1121.74,743.2" fill="#4aa8dc" stroke="none" stroke-width="1" />
<polygon points="1142.27,734.69 1138.49,741.24 1146.05,741.24" fill="#4aa8dc" stroke="none" stroke-width="1" />
<polygon points="1166.94,745.94 1163.16,752.49 1170.72,752.49" fill="#4aa8dc" stroke="none" stroke-width="1" />
<polygon points="1191.25,747.4 1187.47,753.95 1195.03,753.95" fill="#4aa8dc" stroke="none" stroke-width="1" />
<polygon points="1215.2,747.89 1211.42,754.44 1218.98,754.44" fill="#4aa8dc" stroke="none" stroke-width="1" />
<polyline points="948.5,713.65 972.46,714.63 996.59,715.61 1021.08,746.42 1045.03,746.42 1069.7,744.95 1094.01,741.53 1117.96,741.53 1142.27,740.06 1166.94,750.82 1191.25,751.8 1215.2,752.77" fill="none" stroke="#6ab245" stroke-width="2.6" stroke-linejoin="round" />
<rect x="945.36" y="710.5" width="6.3" height="6.3" fill="#6ab245" stroke="none" stroke-width="1" />
<rect x="969.31" y="711.48" width="6.3" height="6.3" fill="#6ab245" stroke="none" stroke-width="1" />
<rect x="993.44" y="712.46" width="6.3" height="6.3" fill="#6ab245" stroke="none" stroke-width="1" />
<rect x="1017.93" y="743.27" width="6.3" height="6.3" fill="#6ab245" stroke="none" stroke-width="1" />
<rect x="1041.88" y="743.27" width="6.3" height="6.3" fill="#6ab245" stroke="none" stroke-width="1" />
<rect x="1066.55" y="741.8" width="6.3" height="6.3" fill="#6ab245" stroke="none" stroke-width="1" />
<rect x="1090.86" y="738.38" width="6.3" height="6.3" fill="#6ab245" stroke="none" stroke-width="1" />
<rect x="1114.81" y="738.38" width="6.3" height="6.3" fill="#6ab245" stroke="none" stroke-width="1" />
<rect x="1139.12" y="736.91" width="6.3" height="6.3" fill="#6ab245" stroke="none" stroke-width="1" />
<rect x="1163.79" y="747.67" width="6.3" height="6.3" fill="#6ab245" stroke="none" stroke-width="1" />
<rect x="1188.1" y="748.65" width="6.3" height="6.3" fill="#6ab245" stroke="none" stroke-width="1" />
<rect x="1212.05" y="749.62" width="6.3" height="6.3" fill="#6ab245" stroke="none" stroke-width="1" />
<polyline points="948.5,705.34 972.46,708.76 996.59,710.72 1021.08,745.44 1045.03,745.44 1069.7,743 1094.01,731.75 1117.96,733.7 1142.27,732.73 1166.94,747.88 1191.25,749.84 1215.2,750.82" fill="none" stroke="#e3c13c" stroke-width="2.6" stroke-linejoin="round" />
<line x1="1094.01" y1="727.84" x2="1094.01" y2="735.66" stroke="#111" stroke-width="1.6" />
<line x1="1091.01" y1="727.84" x2="1097.01" y2="727.84" stroke="#111" stroke-width="1.6" />
<line x1="1091.01" y1="735.66" x2="1097.01" y2="735.66" stroke="#111" stroke-width="1.6" />
<polygon points="948.5,709.25 944.73,702.7 952.28,702.7" fill="#e3c13c" stroke="none" stroke-width="1" />
<polygon points="972.46,712.67 968.68,706.12 976.24,706.12" fill="#e3c13c" stroke="none" stroke-width="1" />
<polygon points="996.59,714.63 992.81,708.08 1000.37,708.08" fill="#e3c13c" stroke="none" stroke-width="1" />
<polygon points="1021.08,749.35 1017.3,742.79 1024.86,742.79" fill="#e3c13c" stroke="none" stroke-width="1" />
<polygon points="1045.03,749.35 1041.25,742.79 1048.81,742.79" fill="#e3c13c" stroke="none" stroke-width="1" />
<polygon points="1069.7,746.9 1065.92,740.35 1073.48,740.35" fill="#e3c13c" stroke="none" stroke-width="1" />
<polygon points="1094.01,735.65 1090.23,729.1 1097.79,729.1" fill="#e3c13c" stroke="none" stroke-width="1" />
<polygon points="1117.96,737.61 1114.18,731.06 1121.74,731.06" fill="#e3c13c" stroke="none" stroke-width="1" />
<polygon points="1142.27,736.63 1138.49,730.08 1146.05,730.08" fill="#e3c13c" stroke="none" stroke-width="1" />
<polygon points="1166.94,751.79 1163.16,745.24 1170.72,745.24" fill="#e3c13c" stroke="none" stroke-width="1" />
<polygon points="1191.25,753.75 1187.47,747.2 1195.03,747.2" fill="#e3c13c" stroke="none" stroke-width="1" />
<polygon points="1215.2,754.72 1211.42,748.17 1218.98,748.17" fill="#e3c13c" stroke="none" stroke-width="1" />
<polyline points="948.5,699.96 972.46,701.92 996.59,702.9 1021.08,743 1045.03,742.02 1069.7,740.06 1094.01,651.55 1117.96,676 1142.27,676 1166.94,741.53 1191.25,744.46 1215.2,746.42" fill="none" stroke="#e4262b" stroke-width="2.6" stroke-linejoin="round" />
<line x1="1094.01" y1="646.66" x2="1094.01" y2="656.44" stroke="#111" stroke-width="1.6" />
<line x1="1091.01" y1="646.66" x2="1097.01" y2="646.66" stroke="#111" stroke-width="1.6" />
<line x1="1091.01" y1="656.44" x2="1097.01" y2="656.44" stroke="#111" stroke-width="1.6" />
<line x1="1117.96" y1="672.09" x2="1117.96" y2="679.91" stroke="#111" stroke-width="1.6" />
<line x1="1114.96" y1="672.09" x2="1120.96" y2="672.09" stroke="#111" stroke-width="1.6" />
<line x1="1114.96" y1="679.91" x2="1120.96" y2="679.91" stroke="#111" stroke-width="1.6" />
<line x1="1142.27" y1="672.09" x2="1142.27" y2="679.91" stroke="#111" stroke-width="1.6" />
<line x1="1139.27" y1="672.09" x2="1145.27" y2="672.09" stroke="#111" stroke-width="1.6" />
<line x1="1139.27" y1="679.91" x2="1145.27" y2="679.91" stroke="#111" stroke-width="1.6" />
<polygon points="948.5,696.06 951.65,699.96 948.5,703.87 945.36,699.96" fill="#e4262b" stroke="none" stroke-width="1" />
<polygon points="972.46,698.01 975.61,701.92 972.46,705.82 969.31,701.92" fill="#e4262b" stroke="none" stroke-width="1" />
<polygon points="996.59,698.99 999.74,702.9 996.59,706.8 993.44,702.9" fill="#e4262b" stroke="none" stroke-width="1" />
<polygon points="1021.08,739.09 1024.23,743 1021.08,746.9 1017.93,743" fill="#e4262b" stroke="none" stroke-width="1" />
<polygon points="1045.03,738.11 1048.18,742.02 1045.03,745.92 1041.88,742.02" fill="#e4262b" stroke="none" stroke-width="1" />
<polygon points="1069.7,736.16 1072.85,740.06 1069.7,743.97 1066.55,740.06" fill="#e4262b" stroke="none" stroke-width="1" />
<polygon points="1094.01,647.65 1097.16,651.55 1094.01,655.46 1090.86,651.55" fill="#e4262b" stroke="none" stroke-width="1" />
<polygon points="1117.96,672.1 1121.11,676 1117.96,679.91 1114.81,676" fill="#e4262b" stroke="none" stroke-width="1" />
<polygon points="1142.27,672.1 1145.42,676 1142.27,679.91 1139.12,676" fill="#e4262b" stroke="none" stroke-width="1" />
<polygon points="1166.94,737.62 1170.09,741.53 1166.94,745.43 1163.79,741.53" fill="#e4262b" stroke="none" stroke-width="1" />
<polygon points="1191.25,740.56 1194.4,744.46 1191.25,748.37 1188.1,744.46" fill="#e4262b" stroke="none" stroke-width="1" />
<polygon points="1215.2,742.51 1218.35,746.42 1215.2,750.32 1212.05,746.42" fill="#e4262b" stroke="none" stroke-width="1" />
<polyline points="948.5,684.32 972.46,685.78 996.59,686.27 1021.08,740.55 1045.03,739.57 1069.7,736.64 1094.01,629.06 1117.96,649.11 1142.27,649.11 1166.94,739.57 1191.25,741.53 1215.2,743.97" fill="none" stroke="#1f2f5c" stroke-width="2.6" stroke-linejoin="round" />
<line x1="1094.01" y1="621.72" x2="1094.01" y2="636.39" stroke="#111" stroke-width="1.6" />
<line x1="1091.01" y1="621.72" x2="1097.01" y2="621.72" stroke="#111" stroke-width="1.6" />
<line x1="1091.01" y1="636.39" x2="1097.01" y2="636.39" stroke="#111" stroke-width="1.6" />
<line x1="1117.96" y1="645.19" x2="1117.96" y2="653.02" stroke="#111" stroke-width="1.6" />
<line x1="1114.96" y1="645.19" x2="1120.96" y2="645.19" stroke="#111" stroke-width="1.6" />
<line x1="1114.96" y1="653.02" x2="1120.96" y2="653.02" stroke="#111" stroke-width="1.6" />
<line x1="1142.27" y1="645.19" x2="1142.27" y2="653.02" stroke="#111" stroke-width="1.6" />
<line x1="1139.27" y1="645.19" x2="1145.27" y2="645.19" stroke="#111" stroke-width="1.6" />
<line x1="1139.27" y1="653.02" x2="1145.27" y2="653.02" stroke="#111" stroke-width="1.6" />
<rect x="945.36" y="681.17" width="6.3" height="6.3" fill="#1f2f5c" stroke="none" stroke-width="1" />
<rect x="969.31" y="682.63" width="6.3" height="6.3" fill="#1f2f5c" stroke="none" stroke-width="1" />
<rect x="993.44" y="683.12" width="6.3" height="6.3" fill="#1f2f5c" stroke="none" stroke-width="1" />
<rect x="1017.93" y="737.4" width="6.3" height="6.3" fill="#1f2f5c" stroke="none" stroke-width="1" />
<rect x="1041.88" y="736.42" width="6.3" height="6.3" fill="#1f2f5c" stroke="none" stroke-width="1" />
<rect x="1066.55" y="733.49" width="6.3" height="6.3" fill="#1f2f5c" stroke="none" stroke-width="1" />
<rect x="1090.86" y="625.91" width="6.3" height="6.3" fill="#1f2f5c" stroke="none" stroke-width="1" />
<rect x="1114.81" y="645.96" width="6.3" height="6.3" fill="#1f2f5c" stroke="none" stroke-width="1" />
<rect x="1139.12" y="645.96" width="6.3" height="6.3" fill="#1f2f5c" stroke="none" stroke-width="1" />
<rect x="1163.79" y="736.42" width="6.3" height="6.3" fill="#1f2f5c" stroke="none" stroke-width="1" />
<rect x="1188.1" y="738.38" width="6.3" height="6.3" fill="#1f2f5c" stroke="none" stroke-width="1" />
<rect x="1212.05" y="740.82" width="6.3" height="6.3" fill="#1f2f5c" stroke="none" stroke-width="1" />
<polyline points="948.5,686.76 972.46,688.72 996.59,689.21 1021.08,739.08 1045.03,738.11 1069.7,735.17 1094.01,622.21 1117.96,656.93 1142.27,658.4 1166.94,737.62 1191.25,740.55 1215.2,743" fill="none" stroke="#7b2d9e" stroke-width="2.6" stroke-linejoin="round" />
<line x1="1094.01" y1="614.88" x2="1094.01" y2="629.55" stroke="#111" stroke-width="1.6" />
<line x1="1091.01" y1="614.88" x2="1097.01" y2="614.88" stroke="#111" stroke-width="1.6" />
<line x1="1091.01" y1="629.55" x2="1097.01" y2="629.55" stroke="#111" stroke-width="1.6" />
<line x1="1117.96" y1="653.02" x2="1117.96" y2="660.84" stroke="#111" stroke-width="1.6" />
<line x1="1114.96" y1="653.02" x2="1120.96" y2="653.02" stroke="#111" stroke-width="1.6" />
<line x1="1114.96" y1="660.84" x2="1120.96" y2="660.84" stroke="#111" stroke-width="1.6" />
<line x1="1142.27" y1="654.49" x2="1142.27" y2="662.31" stroke="#111" stroke-width="1.6" />
<line x1="1139.27" y1="654.49" x2="1145.27" y2="654.49" stroke="#111" stroke-width="1.6" />
<line x1="1139.27" y1="662.31" x2="1145.27" y2="662.31" stroke="#111" stroke-width="1.6" />
<circle cx="948.5" cy="686.76" r="3.15" fill="#7b2d9e" stroke="none" stroke-width="0"/>
<circle cx="972.46" cy="688.72" r="3.15" fill="#7b2d9e" stroke="none" stroke-width="0"/>
<circle cx="996.59" cy="689.21" r="3.15" fill="#7b2d9e" stroke="none" stroke-width="0"/>
<circle cx="1021.08" cy="739.08" r="3.15" fill="#7b2d9e" stroke="none" stroke-width="0"/>
<circle cx="1045.03" cy="738.11" r="3.15" fill="#7b2d9e" stroke="none" stroke-width="0"/>
<circle cx="1069.7" cy="735.17" r="3.15" fill="#7b2d9e" stroke="none" stroke-width="0"/>
<circle cx="1094.01" cy="622.21" r="3.15" fill="#7b2d9e" stroke="none" stroke-width="0"/>
<circle cx="1117.96" cy="656.93" r="3.15" fill="#7b2d9e" stroke="none" stroke-width="0"/>
<circle cx="1142.27" cy="658.4" r="3.15" fill="#7b2d9e" stroke="none" stroke-width="0"/>
<circle cx="1166.94" cy="737.62" r="3.15" fill="#7b2d9e" stroke="none" stroke-width="0"/>
<circle cx="1191.25" cy="740.55" r="3.15" fill="#7b2d9e" stroke="none" stroke-width="0"/>
<circle cx="1215.2" cy="743" r="3.15" fill="#7b2d9e" stroke="none" stroke-width="0"/>
<line x1="943.5" y1="568.4" x2="943.5" y2="766.1" stroke="#000" stroke-width="2.2" />
<line x1="942.4" y1="765" x2="1230.5" y2="765" stroke="#000" stroke-width="2.2" />
<line x1="936.5" y1="765" x2="943.5" y2="765" stroke="#000" stroke-width="1.98" />
<text x="934.5" y="770.29" font-size="14.7" text-anchor="end">0</text>
<line x1="936.5" y1="716.1" x2="943.5" y2="716.1" stroke="#000" stroke-width="1.98" />
<text x="934.5" y="721.39" font-size="14.7" text-anchor="end">1</text>
<line x1="936.5" y1="667.2" x2="943.5" y2="667.2" stroke="#000" stroke-width="1.98" />
<text x="934.5" y="672.49" font-size="14.7" text-anchor="end">2</text>
<line x1="936.5" y1="618.3" x2="943.5" y2="618.3" stroke="#000" stroke-width="1.98" />
<text x="934.5" y="623.59" font-size="14.7" text-anchor="end">3</text>
<line x1="936.5" y1="569.4" x2="943.5" y2="569.4" stroke="#000" stroke-width="1.98" />
<text x="934.5" y="574.69" font-size="14.7" text-anchor="end">4</text>
<line x1="943.5" y1="765" x2="943.5" y2="772" stroke="#000" stroke-width="1.98" />
<line x1="950.65" y1="765" x2="950.65" y2="769.2" stroke="#000" stroke-width="1.98" />
<line x1="957.8" y1="765" x2="957.8" y2="769.2" stroke="#000" stroke-width="1.98" />
<line x1="964.95" y1="765" x2="964.95" y2="769.2" stroke="#000" stroke-width="1.98" />
<line x1="972.1" y1="765" x2="972.1" y2="769.2" stroke="#000" stroke-width="1.98" />
<line x1="979.25" y1="765" x2="979.25" y2="769.2" stroke="#000" stroke-width="1.98" />
<line x1="986.4" y1="765" x2="986.4" y2="769.2" stroke="#000" stroke-width="1.98" />
<line x1="993.55" y1="765" x2="993.55" y2="769.2" stroke="#000" stroke-width="1.98" />
<line x1="1000.7" y1="765" x2="1000.7" y2="769.2" stroke="#000" stroke-width="1.98" />
<line x1="1007.85" y1="765" x2="1007.85" y2="769.2" stroke="#000" stroke-width="1.98" />
<line x1="1015" y1="765" x2="1015" y2="772" stroke="#000" stroke-width="1.98" />
<line x1="1022.15" y1="765" x2="1022.15" y2="769.2" stroke="#000" stroke-width="1.98" />
<line x1="1029.3" y1="765" x2="1029.3" y2="769.2" stroke="#000" stroke-width="1.98" />
<line x1="1036.45" y1="765" x2="1036.45" y2="769.2" stroke="#000" stroke-width="1.98" />
<line x1="1043.6" y1="765" x2="1043.6" y2="769.2" stroke="#000" stroke-width="1.98" />
<line x1="1050.75" y1="765" x2="1050.75" y2="769.2" stroke="#000" stroke-width="1.98" />
<line x1="1057.9" y1="765" x2="1057.9" y2="769.2" stroke="#000" stroke-width="1.98" />
<line x1="1065.05" y1="765" x2="1065.05" y2="769.2" stroke="#000" stroke-width="1.98" />
<line x1="1072.2" y1="765" x2="1072.2" y2="769.2" stroke="#000" stroke-width="1.98" />
<line x1="1079.35" y1="765" x2="1079.35" y2="769.2" stroke="#000" stroke-width="1.98" />
<line x1="1086.5" y1="765" x2="1086.5" y2="772" stroke="#000" stroke-width="1.98" />
<line x1="1093.65" y1="765" x2="1093.65" y2="769.2" stroke="#000" stroke-width="1.98" />
<line x1="1100.8" y1="765" x2="1100.8" y2="769.2" stroke="#000" stroke-width="1.98" />
<line x1="1107.95" y1="765" x2="1107.95" y2="769.2" stroke="#000" stroke-width="1.98" />
<line x1="1115.1" y1="765" x2="1115.1" y2="769.2" stroke="#000" stroke-width="1.98" />
<line x1="1122.25" y1="765" x2="1122.25" y2="769.2" stroke="#000" stroke-width="1.98" />
<line x1="1129.4" y1="765" x2="1129.4" y2="769.2" stroke="#000" stroke-width="1.98" />
<line x1="1136.55" y1="765" x2="1136.55" y2="769.2" stroke="#000" stroke-width="1.98" />
<line x1="1143.7" y1="765" x2="1143.7" y2="769.2" stroke="#000" stroke-width="1.98" />
<line x1="1150.85" y1="765" x2="1150.85" y2="769.2" stroke="#000" stroke-width="1.98" />
<line x1="1158" y1="765" x2="1158" y2="772" stroke="#000" stroke-width="1.98" />
<line x1="1165.15" y1="765" x2="1165.15" y2="769.2" stroke="#000" stroke-width="1.98" />
<line x1="1172.3" y1="765" x2="1172.3" y2="769.2" stroke="#000" stroke-width="1.98" />
<line x1="1179.45" y1="765" x2="1179.45" y2="769.2" stroke="#000" stroke-width="1.98" />
<line x1="1186.6" y1="765" x2="1186.6" y2="769.2" stroke="#000" stroke-width="1.98" />
<line x1="1193.75" y1="765" x2="1193.75" y2="769.2" stroke="#000" stroke-width="1.98" />
<line x1="1200.9" y1="765" x2="1200.9" y2="769.2" stroke="#000" stroke-width="1.98" />
<line x1="1208.05" y1="765" x2="1208.05" y2="769.2" stroke="#000" stroke-width="1.98" />
<line x1="1215.2" y1="765" x2="1215.2" y2="769.2" stroke="#000" stroke-width="1.98" />
<line x1="1222.35" y1="765" x2="1222.35" y2="769.2" stroke="#000" stroke-width="1.98" />
<line x1="1229.5" y1="765" x2="1229.5" y2="772" stroke="#000" stroke-width="1.98" />
<text x="943.5" y="787" font-size="15.5" text-anchor="middle">0</text>
<text x="1015" y="787" font-size="15.5" text-anchor="middle">20</text>
<text x="1086.5" y="787" font-size="15.5" text-anchor="middle">40</text>
<text x="1158" y="787" font-size="15.5" text-anchor="middle">60</text>
<text x="1229.5" y="787" font-size="15.5" text-anchor="middle">80</text>
<text x="1086" y="800" font-size="16.4" text-anchor="middle">Time (minutes)</text>
<text x="911.5" y="667" font-size="16.3" text-anchor="middle" transform="rotate(-90 911.5 667)">OCR (pmol/min/1000 cells)</text>
<text x="1232" y="583.5" font-size="17" font-weight="bold">WT</text>
<line x1="1232" y1="598" x2="1245.5" y2="598" stroke="#6ab245" stroke-width="2.5" />
<rect x="1235.5" y="594.75" width="6.5" height="6.5" fill="#6ab245" stroke="none" stroke-width="1" />
<text x="1251.6" y="603.9" font-size="16.4">Con</text>
<line x1="1232" y1="615.95" x2="1245.5" y2="615.95" stroke="#4aa8dc" stroke-width="2.5" />
<polygon points="1238.75,611.92 1234.85,618.68 1242.65,618.68" fill="#4aa8dc" stroke="none" stroke-width="1" />
<text x="1251.6" y="621.85" font-size="16.4">IPA100</text>
<line x1="1232" y1="633.9" x2="1245.5" y2="633.9" stroke="#e3c13c" stroke-width="2.5" />
<polygon points="1238.75,637.93 1234.85,631.17 1242.65,631.17" fill="#e3c13c" stroke="none" stroke-width="1" />
<text x="1251.6" y="639.8" font-size="16.4">IPA1000</text>
<line x1="1232" y1="651.85" x2="1245.5" y2="651.85" stroke="#e4262b" stroke-width="2.5" />
<polygon points="1238.75,647.82 1242,651.85 1238.75,655.88 1235.5,651.85" fill="#e4262b" stroke="none" stroke-width="1" />
<text x="1251.6" y="657.75" font-size="16.4">CD3/CD28</text>
<line x1="1232" y1="669.8" x2="1245.5" y2="669.8" stroke="#7b2d9e" stroke-width="2.5" />
<circle cx="1238.75" cy="669.8" r="3.25" fill="#7b2d9e" stroke="none" stroke-width="0"/>
<text x="1251.6" y="675.7" font-size="16.4">CD3/CD28+IPA100</text>
<line x1="1232" y1="687.75" x2="1245.5" y2="687.75" stroke="#1f2f5c" stroke-width="2.5" />
<rect x="1235.5" y="684.5" width="6.5" height="6.5" fill="#1f2f5c" stroke="none" stroke-width="1" />
<text x="1251.6" y="693.65" font-size="16.4">CD3/CD28+IPA1000</text>
<text x="934" y="838.5" font-size="19.6">AhR</text>
<text x="972.13" y="830" font-size="11.5">-/-</text>
<text x="982.98" y="838.5" font-size="19.6">-Mitochondrial Respiration</text>
<line x1="1004.9" y1="878.5" x2="1004.9" y2="1073.5" stroke="#111" stroke-width="1.3" stroke-dasharray="3,2"/>
<line x1="1077" y1="878.5" x2="1077" y2="1073.5" stroke="#111" stroke-width="1.3" stroke-dasharray="3,2"/>
<line x1="1150" y1="878.5" x2="1150" y2="1073.5" stroke="#111" stroke-width="1.3" stroke-dasharray="3,2"/>
<text x="1005" y="873" font-size="16.3" text-anchor="middle">Oligo</text>
<text x="1075" y="873" font-size="16.3" text-anchor="middle">FCCP</text>
<text x="1150" y="873" font-size="16.3" text-anchor="middle">Rot/AA</text>
<polyline points="948.06,1021.83 972.26,1024.42 996.65,1025.08 1021.39,1053.03 1045.6,1053.03 1070.52,1052.05 1095.09,1050.75 1119.29,1052.05 1143.86,1049.78 1168.78,1059.53 1193.35,1061.15 1217.55,1062.78" fill="none" stroke="#6ab245" stroke-width="2.6" stroke-linejoin="round" />
<rect x="944.91" y="1018.68" width="6.3" height="6.3" fill="#6ab245" stroke="none" stroke-width="1" />
<rect x="969.11" y="1021.27" width="6.3" height="6.3" fill="#6ab245" stroke="none" stroke-width="1" />
<rect x="993.5" y="1021.93" width="6.3" height="6.3" fill="#6ab245" stroke="none" stroke-width="1" />
<rect x="1018.24" y="1049.88" width="6.3" height="6.3" fill="#6ab245" stroke="none" stroke-width="1" />
<rect x="1042.44" y="1049.88" width="6.3" height="6.3" fill="#6ab245" stroke="none" stroke-width="1" />
<rect x="1067.37" y="1048.9" width="6.3" height="6.3" fill="#6ab245" stroke="none" stroke-width="1" />
<rect x="1091.94" y="1047.6" width="6.3" height="6.3" fill="#6ab245" stroke="none" stroke-width="1" />
<rect x="1116.14" y="1048.9" width="6.3" height="6.3" fill="#6ab245" stroke="none" stroke-width="1" />
<rect x="1140.7" y="1046.62" width="6.3" height="6.3" fill="#6ab245" stroke="none" stroke-width="1" />
<rect x="1165.63" y="1056.38" width="6.3" height="6.3" fill="#6ab245" stroke="none" stroke-width="1" />
<rect x="1190.2" y="1058" width="6.3" height="6.3" fill="#6ab245" stroke="none" stroke-width="1" />
<rect x="1214.4" y="1059.62" width="6.3" height="6.3" fill="#6ab245" stroke="none" stroke-width="1" />
<polyline points="948.06,1020.85 972.26,1022.48 996.65,1023.12 1021.39,1054.65 1045.6,1054 1070.52,1052.38 1095.09,1036.12 1119.29,1040.35 1143.86,1039.7 1168.78,1058.88 1193.35,1060.5 1217.55,1063.1" fill="none" stroke="#4aa8dc" stroke-width="2.6" stroke-linejoin="round" />
<line x1="948.06" y1="1017.6" x2="948.06" y2="1024.1" stroke="#111" stroke-width="1.6" />
<line x1="945.06" y1="1017.6" x2="951.06" y2="1017.6" stroke="#111" stroke-width="1.6" />
<line x1="945.06" y1="1024.1" x2="951.06" y2="1024.1" stroke="#111" stroke-width="1.6" />
<line x1="972.26" y1="1019.23" x2="972.26" y2="1025.72" stroke="#111" stroke-width="1.6" />
<line x1="969.26" y1="1019.23" x2="975.26" y2="1019.23" stroke="#111" stroke-width="1.6" />
<line x1="969.26" y1="1025.72" x2="975.26" y2="1025.72" stroke="#111" stroke-width="1.6" />
<line x1="996.65" y1="1019.88" x2="996.65" y2="1026.38" stroke="#111" stroke-width="1.6" />
<line x1="993.65" y1="1019.88" x2="999.65" y2="1019.88" stroke="#111" stroke-width="1.6" />
<line x1="993.65" y1="1026.38" x2="999.65" y2="1026.38" stroke="#111" stroke-width="1.6" />
<line x1="1095.09" y1="1030.28" x2="1095.09" y2="1041.97" stroke="#111" stroke-width="1.6" />
<line x1="1092.09" y1="1030.28" x2="1098.09" y2="1030.28" stroke="#111" stroke-width="1.6" />
<line x1="1092.09" y1="1041.97" x2="1098.09" y2="1041.97" stroke="#111" stroke-width="1.6" />
<line x1="1119.29" y1="1037.1" x2="1119.29" y2="1043.6" stroke="#111" stroke-width="1.6" />
<line x1="1116.29" y1="1037.1" x2="1122.29" y2="1037.1" stroke="#111" stroke-width="1.6" />
<line x1="1116.29" y1="1043.6" x2="1122.29" y2="1043.6" stroke="#111" stroke-width="1.6" />
<line x1="1143.86" y1="1036.45" x2="1143.86" y2="1042.95" stroke="#111" stroke-width="1.6" />
<line x1="1140.86" y1="1036.45" x2="1146.86" y2="1036.45" stroke="#111" stroke-width="1.6" />
<line x1="1140.86" y1="1042.95" x2="1146.86" y2="1042.95" stroke="#111" stroke-width="1.6" />
<polygon points="948.06,1016.94 944.28,1023.5 951.84,1023.5" fill="#4aa8dc" stroke="none" stroke-width="1" />
<polygon points="972.26,1018.57 968.48,1025.12 976.04,1025.12" fill="#4aa8dc" stroke="none" stroke-width="1" />
<polygon points="996.65,1019.22 992.87,1025.77 1000.43,1025.77" fill="#4aa8dc" stroke="none" stroke-width="1" />
<polygon points="1021.39,1050.74 1017.61,1057.3 1025.17,1057.3" fill="#4aa8dc" stroke="none" stroke-width="1" />
<polygon points="1045.6,1050.09 1041.82,1056.65 1049.38,1056.65" fill="#4aa8dc" stroke="none" stroke-width="1" />
<polygon points="1070.52,1048.47 1066.74,1055.02 1074.3,1055.02" fill="#4aa8dc" stroke="none" stroke-width="1" />
<polygon points="1095.09,1032.22 1091.31,1038.77 1098.87,1038.77" fill="#4aa8dc" stroke="none" stroke-width="1" />
<polygon points="1119.29,1036.44 1115.51,1043 1123.07,1043" fill="#4aa8dc" stroke="none" stroke-width="1" />
<polygon points="1143.86,1035.79 1140.08,1042.35 1147.63,1042.35" fill="#4aa8dc" stroke="none" stroke-width="1" />
<polygon points="1168.78,1054.97 1165,1061.52 1172.56,1061.52" fill="#4aa8dc" stroke="none" stroke-width="1" />
<polygon points="1193.35,1056.59 1189.57,1063.15 1197.13,1063.15" fill="#4aa8dc" stroke="none" stroke-width="1" />
<polygon points="1217.55,1059.19 1213.77,1065.75 1221.33,1065.75" fill="#4aa8dc" stroke="none" stroke-width="1" />
<polyline points="948.06,1022.15 972.26,1024.1 996.65,1026.05 1021.39,1054 1045.6,1054 1070.52,1053.03 1095.09,1039.38 1119.29,1041.65 1143.86,1041.65 1168.78,1058.88 1193.35,1060.5 1217.55,1062.12" fill="none" stroke="#e3c13c" stroke-width="2.6" stroke-linejoin="round" />
<polygon points="948.06,1026.06 944.28,1019.5 951.84,1019.5" fill="#e3c13c" stroke="none" stroke-width="1" />
<polygon points="972.26,1028.01 968.48,1021.45 976.04,1021.45" fill="#e3c13c" stroke="none" stroke-width="1" />
<polygon points="996.65,1029.96 992.87,1023.4 1000.43,1023.4" fill="#e3c13c" stroke="none" stroke-width="1" />
<polygon points="1021.39,1057.91 1017.61,1051.35 1025.17,1051.35" fill="#e3c13c" stroke="none" stroke-width="1" />
<polygon points="1045.6,1057.91 1041.82,1051.35 1049.38,1051.35" fill="#e3c13c" stroke="none" stroke-width="1" />
<polygon points="1070.52,1056.93 1066.74,1050.38 1074.3,1050.38" fill="#e3c13c" stroke="none" stroke-width="1" />
<polygon points="1095.09,1043.28 1091.31,1036.73 1098.87,1036.73" fill="#e3c13c" stroke="none" stroke-width="1" />
<polygon points="1119.29,1045.56 1115.51,1039 1123.07,1039" fill="#e3c13c" stroke="none" stroke-width="1" />
<polygon points="1143.86,1045.56 1140.08,1039 1147.63,1039" fill="#e3c13c" stroke="none" stroke-width="1" />
<polygon points="1168.78,1062.78 1165,1056.23 1172.56,1056.23" fill="#e3c13c" stroke="none" stroke-width="1" />
<polygon points="1193.35,1064.41 1189.57,1057.85 1197.13,1057.85" fill="#e3c13c" stroke="none" stroke-width="1" />
<polygon points="1217.55,1066.03 1213.77,1059.48 1221.33,1059.48" fill="#e3c13c" stroke="none" stroke-width="1" />
<polyline points="948.06,992.58 972.26,995.17 996.65,995.83 1021.39,1044.25 1045.6,1042.3 1070.52,1038.4 1095.09,956.83 1119.29,973.08 1143.86,974.7 1168.78,1050.75 1193.35,1052.05 1217.55,1054.65" fill="none" stroke="#e4262b" stroke-width="2.6" stroke-linejoin="round" />
<line x1="1095.09" y1="948.7" x2="1095.09" y2="964.95" stroke="#111" stroke-width="1.6" />
<line x1="1092.09" y1="948.7" x2="1098.09" y2="948.7" stroke="#111" stroke-width="1.6" />
<line x1="1092.09" y1="964.95" x2="1098.09" y2="964.95" stroke="#111" stroke-width="1.6" />
<line x1="1119.29" y1="969.18" x2="1119.29" y2="976.98" stroke="#111" stroke-width="1.6" />
<line x1="1116.29" y1="969.18" x2="1122.29" y2="969.18" stroke="#111" stroke-width="1.6" />
<line x1="1116.29" y1="976.98" x2="1122.29" y2="976.98" stroke="#111" stroke-width="1.6" />
<line x1="1143.86" y1="971.45" x2="1143.86" y2="977.95" stroke="#111" stroke-width="1.6" />
<line x1="1140.86" y1="971.45" x2="1146.86" y2="971.45" stroke="#111" stroke-width="1.6" />
<line x1="1140.86" y1="977.95" x2="1146.86" y2="977.95" stroke="#111" stroke-width="1.6" />
<polygon points="948.06,988.67 951.21,992.58 948.06,996.48 944.91,992.58" fill="#e4262b" stroke="none" stroke-width="1" />
<polygon points="972.26,991.27 975.41,995.17 972.26,999.08 969.11,995.17" fill="#e4262b" stroke="none" stroke-width="1" />
<polygon points="996.65,991.92 999.8,995.83 996.65,999.73 993.5,995.83" fill="#e4262b" stroke="none" stroke-width="1" />
<polygon points="1021.39,1040.34 1024.54,1044.25 1021.39,1048.16 1018.24,1044.25" fill="#e4262b" stroke="none" stroke-width="1" />
<polygon points="1045.6,1038.39 1048.75,1042.3 1045.6,1046.21 1042.44,1042.3" fill="#e4262b" stroke="none" stroke-width="1" />
<polygon points="1070.52,1034.49 1073.67,1038.4 1070.52,1042.31 1067.37,1038.4" fill="#e4262b" stroke="none" stroke-width="1" />
<polygon points="1095.09,952.92 1098.24,956.83 1095.09,960.73 1091.94,956.83" fill="#e4262b" stroke="none" stroke-width="1" />
<polygon points="1119.29,969.17 1122.44,973.08 1119.29,976.98 1116.14,973.08" fill="#e4262b" stroke="none" stroke-width="1" />
<polygon points="1143.86,970.79 1147.01,974.7 1143.86,978.61 1140.7,974.7" fill="#e4262b" stroke="none" stroke-width="1" />
<polygon points="1168.78,1046.84 1171.93,1050.75 1168.78,1054.66 1165.63,1050.75" fill="#e4262b" stroke="none" stroke-width="1" />
<polygon points="1193.35,1048.14 1196.5,1052.05 1193.35,1055.96 1190.2,1052.05" fill="#e4262b" stroke="none" stroke-width="1" />
<polygon points="1217.55,1050.74 1220.7,1054.65 1217.55,1058.56 1214.4,1054.65" fill="#e4262b" stroke="none" stroke-width="1" />
<polyline points="948.06,966.9 972.26,968.85 996.65,971.12 1021.39,1031.9 1045.6,1028.65 1070.52,1023.12 1095.09,927.25 1119.29,938.62 1143.86,938.62 1168.78,1041 1193.35,1042.62 1217.55,1045.88" fill="none" stroke="#1f2f5c" stroke-width="2.6" stroke-linejoin="round" />
<line x1="948.06" y1="957.15" x2="948.06" y2="976.65" stroke="#111" stroke-width="1.6" />
<line x1="945.06" y1="957.15" x2="951.06" y2="957.15" stroke="#111" stroke-width="1.6" />
<line x1="945.06" y1="976.65" x2="951.06" y2="976.65" stroke="#111" stroke-width="1.6" />
<line x1="972.26" y1="959.1" x2="972.26" y2="978.6" stroke="#111" stroke-width="1.6" />
<line x1="969.26" y1="959.1" x2="975.26" y2="959.1" stroke="#111" stroke-width="1.6" />
<line x1="969.26" y1="978.6" x2="975.26" y2="978.6" stroke="#111" stroke-width="1.6" />
<line x1="996.65" y1="961.38" x2="996.65" y2="980.88" stroke="#111" stroke-width="1.6" />
<line x1="993.65" y1="961.38" x2="999.65" y2="961.38" stroke="#111" stroke-width="1.6" />
<line x1="993.65" y1="980.88" x2="999.65" y2="980.88" stroke="#111" stroke-width="1.6" />
<line x1="1021.39" y1="1028" x2="1021.39" y2="1035.8" stroke="#111" stroke-width="1.6" />
<line x1="1018.39" y1="1028" x2="1024.39" y2="1028" stroke="#111" stroke-width="1.6" />
<line x1="1018.39" y1="1035.8" x2="1024.39" y2="1035.8" stroke="#111" stroke-width="1.6" />
<line x1="1045.6" y1="1024.75" x2="1045.6" y2="1032.55" stroke="#111" stroke-width="1.6" />
<line x1="1042.6" y1="1024.75" x2="1048.6" y2="1024.75" stroke="#111" stroke-width="1.6" />
<line x1="1042.6" y1="1032.55" x2="1048.6" y2="1032.55" stroke="#111" stroke-width="1.6" />
<line x1="1070.52" y1="1019.23" x2="1070.52" y2="1027.03" stroke="#111" stroke-width="1.6" />
<line x1="1067.52" y1="1019.23" x2="1073.52" y2="1019.23" stroke="#111" stroke-width="1.6" />
<line x1="1067.52" y1="1027.03" x2="1073.52" y2="1027.03" stroke="#111" stroke-width="1.6" />
<line x1="1095.09" y1="912.62" x2="1095.09" y2="941.88" stroke="#111" stroke-width="1.6" />
<line x1="1092.09" y1="912.62" x2="1098.09" y2="912.62" stroke="#111" stroke-width="1.6" />
<line x1="1092.09" y1="941.88" x2="1098.09" y2="941.88" stroke="#111" stroke-width="1.6" />
<line x1="1119.29" y1="924" x2="1119.29" y2="953.25" stroke="#111" stroke-width="1.6" />
<line x1="1116.29" y1="924" x2="1122.29" y2="924" stroke="#111" stroke-width="1.6" />
<line x1="1116.29" y1="953.25" x2="1122.29" y2="953.25" stroke="#111" stroke-width="1.6" />
<line x1="1143.86" y1="924" x2="1143.86" y2="953.25" stroke="#111" stroke-width="1.6" />
<line x1="1140.86" y1="924" x2="1146.86" y2="924" stroke="#111" stroke-width="1.6" />
<line x1="1140.86" y1="953.25" x2="1146.86" y2="953.25" stroke="#111" stroke-width="1.6" />
<rect x="944.91" y="963.75" width="6.3" height="6.3" fill="#1f2f5c" stroke="none" stroke-width="1" />
<rect x="969.11" y="965.7" width="6.3" height="6.3" fill="#1f2f5c" stroke="none" stroke-width="1" />
<rect x="993.5" y="967.98" width="6.3" height="6.3" fill="#1f2f5c" stroke="none" stroke-width="1" />
<rect x="1018.24" y="1028.75" width="6.3" height="6.3" fill="#1f2f5c" stroke="none" stroke-width="1" />
<rect x="1042.44" y="1025.5" width="6.3" height="6.3" fill="#1f2f5c" stroke="none" stroke-width="1" />
<rect x="1067.37" y="1019.98" width="6.3" height="6.3" fill="#1f2f5c" stroke="none" stroke-width="1" />
<rect x="1091.94" y="924.1" width="6.3" height="6.3" fill="#1f2f5c" stroke="none" stroke-width="1" />
<rect x="1116.14" y="935.48" width="6.3" height="6.3" fill="#1f2f5c" stroke="none" stroke-width="1" />
<rect x="1140.7" y="935.48" width="6.3" height="6.3" fill="#1f2f5c" stroke="none" stroke-width="1" />
<rect x="1165.63" y="1037.85" width="6.3" height="6.3" fill="#1f2f5c" stroke="none" stroke-width="1" />
<rect x="1190.2" y="1039.47" width="6.3" height="6.3" fill="#1f2f5c" stroke="none" stroke-width="1" />
<rect x="1214.4" y="1042.72" width="6.3" height="6.3" fill="#1f2f5c" stroke="none" stroke-width="1" />
<polyline points="948.06,965.92 972.26,968.2 996.65,970.48 1021.39,1032.55 1045.6,1029.95 1070.52,1024.42 1095.09,913.6 1119.29,940.25 1143.86,941.88 1168.78,1042.3 1193.35,1043.28 1217.55,1047.5" fill="none" stroke="#7b2d9e" stroke-width="2.6" stroke-linejoin="round" />
<line x1="948.06" y1="956.17" x2="948.06" y2="975.67" stroke="#111" stroke-width="1.6" />
<line x1="945.06" y1="956.17" x2="951.06" y2="956.17" stroke="#111" stroke-width="1.6" />
<line x1="945.06" y1="975.67" x2="951.06" y2="975.67" stroke="#111" stroke-width="1.6" />
<line x1="972.26" y1="958.45" x2="972.26" y2="977.95" stroke="#111" stroke-width="1.6" />
<line x1="969.26" y1="958.45" x2="975.26" y2="958.45" stroke="#111" stroke-width="1.6" />
<line x1="969.26" y1="977.95" x2="975.26" y2="977.95" stroke="#111" stroke-width="1.6" />
<line x1="996.65" y1="960.73" x2="996.65" y2="980.23" stroke="#111" stroke-width="1.6" />
<line x1="993.65" y1="960.73" x2="999.65" y2="960.73" stroke="#111" stroke-width="1.6" />
<line x1="993.65" y1="980.23" x2="999.65" y2="980.23" stroke="#111" stroke-width="1.6" />
<line x1="1021.39" y1="1028.65" x2="1021.39" y2="1036.45" stroke="#111" stroke-width="1.6" />
<line x1="1018.39" y1="1028.65" x2="1024.39" y2="1028.65" stroke="#111" stroke-width="1.6" />
<line x1="1018.39" y1="1036.45" x2="1024.39" y2="1036.45" stroke="#111" stroke-width="1.6" />
<line x1="1045.6" y1="1026.05" x2="1045.6" y2="1033.85" stroke="#111" stroke-width="1.6" />
<line x1="1042.6" y1="1026.05" x2="1048.6" y2="1026.05" stroke="#111" stroke-width="1.6" />
<line x1="1042.6" y1="1033.85" x2="1048.6" y2="1033.85" stroke="#111" stroke-width="1.6" />
<line x1="1070.52" y1="1020.52" x2="1070.52" y2="1028.33" stroke="#111" stroke-width="1.6" />
<line x1="1067.52" y1="1020.52" x2="1073.52" y2="1020.52" stroke="#111" stroke-width="1.6" />
<line x1="1067.52" y1="1028.33" x2="1073.52" y2="1028.33" stroke="#111" stroke-width="1.6" />
<line x1="1095.09" y1="898.98" x2="1095.09" y2="928.23" stroke="#111" stroke-width="1.6" />
<line x1="1092.09" y1="898.98" x2="1098.09" y2="898.98" stroke="#111" stroke-width="1.6" />
<line x1="1092.09" y1="928.23" x2="1098.09" y2="928.23" stroke="#111" stroke-width="1.6" />
<line x1="1119.29" y1="925.62" x2="1119.29" y2="954.88" stroke="#111" stroke-width="1.6" />
<line x1="1116.29" y1="925.62" x2="1122.29" y2="925.62" stroke="#111" stroke-width="1.6" />
<line x1="1116.29" y1="954.88" x2="1122.29" y2="954.88" stroke="#111" stroke-width="1.6" />
<line x1="1143.86" y1="927.25" x2="1143.86" y2="956.5" stroke="#111" stroke-width="1.6" />
<line x1="1140.86" y1="927.25" x2="1146.86" y2="927.25" stroke="#111" stroke-width="1.6" />
<line x1="1140.86" y1="956.5" x2="1146.86" y2="956.5" stroke="#111" stroke-width="1.6" />
<circle cx="948.06" cy="965.92" r="3.15" fill="#7b2d9e" stroke="none" stroke-width="0"/>
<circle cx="972.26" cy="968.2" r="3.15" fill="#7b2d9e" stroke="none" stroke-width="0"/>
<circle cx="996.65" cy="970.48" r="3.15" fill="#7b2d9e" stroke="none" stroke-width="0"/>
<circle cx="1021.39" cy="1032.55" r="3.15" fill="#7b2d9e" stroke="none" stroke-width="0"/>
<circle cx="1045.6" cy="1029.95" r="3.15" fill="#7b2d9e" stroke="none" stroke-width="0"/>
<circle cx="1070.52" cy="1024.42" r="3.15" fill="#7b2d9e" stroke="none" stroke-width="0"/>
<circle cx="1095.09" cy="913.6" r="3.15" fill="#7b2d9e" stroke="none" stroke-width="0"/>
<circle cx="1119.29" cy="940.25" r="3.15" fill="#7b2d9e" stroke="none" stroke-width="0"/>
<circle cx="1143.86" cy="941.88" r="3.15" fill="#7b2d9e" stroke="none" stroke-width="0"/>
<circle cx="1168.78" cy="1042.3" r="3.15" fill="#7b2d9e" stroke="none" stroke-width="0"/>
<circle cx="1193.35" cy="1043.28" r="3.15" fill="#7b2d9e" stroke="none" stroke-width="0"/>
<circle cx="1217.55" cy="1047.5" r="3.15" fill="#7b2d9e" stroke="none" stroke-width="0"/>
<line x1="943" y1="877.5" x2="943" y2="1074.6" stroke="#000" stroke-width="2.2" />
<line x1="941.9" y1="1073.5" x2="1233" y2="1073.5" stroke="#000" stroke-width="2.2" />
<line x1="936" y1="1073.5" x2="943" y2="1073.5" stroke="#000" stroke-width="1.98" />
<text x="934" y="1078.79" font-size="14.7" text-anchor="end">0</text>
<line x1="936" y1="1008.5" x2="943" y2="1008.5" stroke="#000" stroke-width="1.98" />
<text x="934" y="1013.79" font-size="14.7" text-anchor="end">2</text>
<line x1="936" y1="943.5" x2="943" y2="943.5" stroke="#000" stroke-width="1.98" />
<text x="934" y="948.79" font-size="14.7" text-anchor="end">4</text>
<line x1="936" y1="878.5" x2="943" y2="878.5" stroke="#000" stroke-width="1.98" />
<text x="934" y="883.79" font-size="14.7" text-anchor="end">6</text>
<line x1="943" y1="1073.5" x2="943" y2="1080.5" stroke="#000" stroke-width="1.98" />
<line x1="950.23" y1="1073.5" x2="950.23" y2="1077.7" stroke="#000" stroke-width="1.98" />
<line x1="957.45" y1="1073.5" x2="957.45" y2="1077.7" stroke="#000" stroke-width="1.98" />
<line x1="964.67" y1="1073.5" x2="964.67" y2="1077.7" stroke="#000" stroke-width="1.98" />
<line x1="971.9" y1="1073.5" x2="971.9" y2="1077.7" stroke="#000" stroke-width="1.98" />
<line x1="979.12" y1="1073.5" x2="979.12" y2="1077.7" stroke="#000" stroke-width="1.98" />
<line x1="986.35" y1="1073.5" x2="986.35" y2="1077.7" stroke="#000" stroke-width="1.98" />
<line x1="993.58" y1="1073.5" x2="993.58" y2="1077.7" stroke="#000" stroke-width="1.98" />
<line x1="1000.8" y1="1073.5" x2="1000.8" y2="1077.7" stroke="#000" stroke-width="1.98" />
<line x1="1008.02" y1="1073.5" x2="1008.02" y2="1077.7" stroke="#000" stroke-width="1.98" />
<line x1="1015.25" y1="1073.5" x2="1015.25" y2="1080.5" stroke="#000" stroke-width="1.98" />
<line x1="1022.48" y1="1073.5" x2="1022.48" y2="1077.7" stroke="#000" stroke-width="1.98" />
<line x1="1029.7" y1="1073.5" x2="1029.7" y2="1077.7" stroke="#000" stroke-width="1.98" />
<line x1="1036.92" y1="1073.5" x2="1036.92" y2="1077.7" stroke="#000" stroke-width="1.98" />
<line x1="1044.15" y1="1073.5" x2="1044.15" y2="1077.7" stroke="#000" stroke-width="1.98" />
<line x1="1051.38" y1="1073.5" x2="1051.38" y2="1077.7" stroke="#000" stroke-width="1.98" />
<line x1="1058.6" y1="1073.5" x2="1058.6" y2="1077.7" stroke="#000" stroke-width="1.98" />
<line x1="1065.83" y1="1073.5" x2="1065.83" y2="1077.7" stroke="#000" stroke-width="1.98" />
<line x1="1073.05" y1="1073.5" x2="1073.05" y2="1077.7" stroke="#000" stroke-width="1.98" />
<line x1="1080.28" y1="1073.5" x2="1080.28" y2="1077.7" stroke="#000" stroke-width="1.98" />
<line x1="1087.5" y1="1073.5" x2="1087.5" y2="1080.5" stroke="#000" stroke-width="1.98" />
<line x1="1094.72" y1="1073.5" x2="1094.72" y2="1077.7" stroke="#000" stroke-width="1.98" />
<line x1="1101.95" y1="1073.5" x2="1101.95" y2="1077.7" stroke="#000" stroke-width="1.98" />
<line x1="1109.17" y1="1073.5" x2="1109.17" y2="1077.7" stroke="#000" stroke-width="1.98" />
<line x1="1116.4" y1="1073.5" x2="1116.4" y2="1077.7" stroke="#000" stroke-width="1.98" />
<line x1="1123.62" y1="1073.5" x2="1123.62" y2="1077.7" stroke="#000" stroke-width="1.98" />
<line x1="1130.85" y1="1073.5" x2="1130.85" y2="1077.7" stroke="#000" stroke-width="1.98" />
<line x1="1138.08" y1="1073.5" x2="1138.08" y2="1077.7" stroke="#000" stroke-width="1.98" />
<line x1="1145.3" y1="1073.5" x2="1145.3" y2="1077.7" stroke="#000" stroke-width="1.98" />
<line x1="1152.53" y1="1073.5" x2="1152.53" y2="1077.7" stroke="#000" stroke-width="1.98" />
<line x1="1159.75" y1="1073.5" x2="1159.75" y2="1080.5" stroke="#000" stroke-width="1.98" />
<line x1="1166.97" y1="1073.5" x2="1166.97" y2="1077.7" stroke="#000" stroke-width="1.98" />
<line x1="1174.2" y1="1073.5" x2="1174.2" y2="1077.7" stroke="#000" stroke-width="1.98" />
<line x1="1181.42" y1="1073.5" x2="1181.42" y2="1077.7" stroke="#000" stroke-width="1.98" />
<line x1="1188.65" y1="1073.5" x2="1188.65" y2="1077.7" stroke="#000" stroke-width="1.98" />
<line x1="1195.88" y1="1073.5" x2="1195.88" y2="1077.7" stroke="#000" stroke-width="1.98" />
<line x1="1203.1" y1="1073.5" x2="1203.1" y2="1077.7" stroke="#000" stroke-width="1.98" />
<line x1="1210.33" y1="1073.5" x2="1210.33" y2="1077.7" stroke="#000" stroke-width="1.98" />
<line x1="1217.55" y1="1073.5" x2="1217.55" y2="1077.7" stroke="#000" stroke-width="1.98" />
<line x1="1224.78" y1="1073.5" x2="1224.78" y2="1077.7" stroke="#000" stroke-width="1.98" />
<line x1="1232" y1="1073.5" x2="1232" y2="1080.5" stroke="#000" stroke-width="1.98" />
<text x="943" y="1095" font-size="15.5" text-anchor="middle">0</text>
<text x="1015.25" y="1095" font-size="15.5" text-anchor="middle">20</text>
<text x="1087.5" y="1095" font-size="15.5" text-anchor="middle">40</text>
<text x="1159.75" y="1095" font-size="15.5" text-anchor="middle">60</text>
<text x="1232" y="1095" font-size="15.5" text-anchor="middle">80</text>
<text x="1086" y="1108.5" font-size="16.4" text-anchor="middle">Time (minutes)</text>
<text x="911.5" y="976" font-size="16.3" text-anchor="middle" transform="rotate(-90 911.5 976)">OCR (pmol/min/1000 cells)</text>
<text x="1232" y="893" font-size="17" font-weight="bold">AhR</text>
<text x="1266.94" y="885.5" font-size="10">-/-</text>
<line x1="1232" y1="907.7" x2="1245.5" y2="907.7" stroke="#6ab245" stroke-width="2.5" />
<rect x="1235.5" y="904.45" width="6.5" height="6.5" fill="#6ab245" stroke="none" stroke-width="1" />
<text x="1251.6" y="913.6" font-size="16.4">Con</text>
<line x1="1232" y1="925.55" x2="1245.5" y2="925.55" stroke="#4aa8dc" stroke-width="2.5" />
<polygon points="1238.75,921.52 1234.85,928.28 1242.65,928.28" fill="#4aa8dc" stroke="none" stroke-width="1" />
<text x="1251.6" y="931.45" font-size="16.4">IPA100</text>
<line x1="1232" y1="943.4" x2="1245.5" y2="943.4" stroke="#e3c13c" stroke-width="2.5" />
<polygon points="1238.75,947.43 1234.85,940.67 1242.65,940.67" fill="#e3c13c" stroke="none" stroke-width="1" />
<text x="1251.6" y="949.3" font-size="16.4">IPA1000</text>
<line x1="1232" y1="961.25" x2="1245.5" y2="961.25" stroke="#e4262b" stroke-width="2.5" />
<polygon points="1238.75,957.22 1242,961.25 1238.75,965.28 1235.5,961.25" fill="#e4262b" stroke="none" stroke-width="1" />
<text x="1251.6" y="967.15" font-size="16.4">CD3/CD28</text>
<line x1="1232" y1="979.1" x2="1245.5" y2="979.1" stroke="#7b2d9e" stroke-width="2.5" />
<circle cx="1238.75" cy="979.1" r="3.25" fill="#7b2d9e" stroke="none" stroke-width="0"/>
<text x="1251.6" y="985" font-size="16.4">CD3/CD28+IPA100</text>
<line x1="1232" y1="996.95" x2="1245.5" y2="996.95" stroke="#1f2f5c" stroke-width="2.5" />
<rect x="1235.5" y="993.7" width="6.5" height="6.5" fill="#1f2f5c" stroke="none" stroke-width="1" />
<text x="1251.6" y="1002.85" font-size="16.4">CD3/CD28+IPA1000</text>
<text x="487.5" y="527.8" font-size="22.3">D</text>
<text x="546.8" y="526.5" font-size="19.5">Ficz-Basal respiration</text>
<rect x="548.35" y="714.87" width="14.3" height="51.13" fill="#b6da98" stroke="#000" stroke-width="2.2" />
<line x1="555.5" y1="714.87" x2="555.5" y2="712.88" stroke="#000" stroke-width="2" />
<line x1="551.5" y1="712.88" x2="559.5" y2="712.88" stroke="#000" stroke-width="2" />
<rect x="570.75" y="718.86" width="14.3" height="47.14" fill="#bcbcbc" stroke="#000" stroke-width="2.2" />
<line x1="577.9" y1="718.86" x2="577.9" y2="716.2" stroke="#000" stroke-width="2" />
<line x1="573.9" y1="716.2" x2="581.9" y2="716.2" stroke="#000" stroke-width="2" />
<rect x="592.65" y="707.57" width="14.3" height="58.43" fill="#e8818a" stroke="#000" stroke-width="2.2" />
<line x1="599.8" y1="707.57" x2="599.8" y2="705.58" stroke="#000" stroke-width="2" />
<line x1="595.8" y1="705.58" x2="603.8" y2="705.58" stroke="#000" stroke-width="2" />
<rect x="614.75" y="699.6" width="14.3" height="66.4" fill="#a9d1dc" stroke="#000" stroke-width="2.2" />
<line x1="621.9" y1="699.6" x2="621.9" y2="697.61" stroke="#000" stroke-width="2" />
<line x1="617.9" y1="697.61" x2="625.9" y2="697.61" stroke="#000" stroke-width="2" />
<rect x="651.85" y="692.96" width="14.3" height="73.04" fill="#b6da98" stroke="#000" stroke-width="2.2" />
<line x1="659" y1="692.96" x2="659" y2="690.97" stroke="#000" stroke-width="2" />
<line x1="655" y1="690.97" x2="663" y2="690.97" stroke="#000" stroke-width="2" />
<rect x="673.85" y="673.7" width="14.3" height="92.3" fill="#bcbcbc" stroke="#000" stroke-width="2.2" />
<line x1="681" y1="673.7" x2="681" y2="662.42" stroke="#000" stroke-width="2" />
<line x1="677" y1="662.42" x2="685" y2="662.42" stroke="#000" stroke-width="2" />
<rect x="695.85" y="647.14" width="14.3" height="118.86" fill="#e8818a" stroke="#000" stroke-width="2.2" />
<line x1="703" y1="647.14" x2="703" y2="644.49" stroke="#000" stroke-width="2" />
<line x1="699" y1="644.49" x2="707" y2="644.49" stroke="#000" stroke-width="2" />
<rect x="717.65" y="637.18" width="14.3" height="128.82" fill="#a9d1dc" stroke="#000" stroke-width="2.2" />
<line x1="724.8" y1="637.18" x2="724.8" y2="620.58" stroke="#000" stroke-width="2" />
<line x1="720.8" y1="620.58" x2="728.8" y2="620.58" stroke="#000" stroke-width="2" />
<circle cx="551.21" cy="706.24" r="4.5" fill="#86c553" stroke="#1a1a1a" stroke-width="1.1"/>
<circle cx="559.79" cy="709.56" r="4.5" fill="#86c553" stroke="#1a1a1a" stroke-width="1.1"/>
<circle cx="555.5" cy="712.88" r="4.5" fill="#86c553" stroke="#1a1a1a" stroke-width="1.1"/>
<circle cx="550.5" cy="714.21" r="4.5" fill="#86c553" stroke="#1a1a1a" stroke-width="1.1"/>
<circle cx="560.5" cy="718.19" r="4.5" fill="#86c553" stroke="#1a1a1a" stroke-width="1.1"/>
<circle cx="554.07" cy="722.84" r="4.5" fill="#86c553" stroke="#1a1a1a" stroke-width="1.1"/>
<circle cx="558.36" cy="726.16" r="4.5" fill="#86c553" stroke="#1a1a1a" stroke-width="1.1"/>
<circle cx="573.61" cy="711.55" r="4.5" fill="#7b7b7b" stroke="#1a1a1a" stroke-width="1.1"/>
<circle cx="582.19" cy="716.2" r="4.5" fill="#7b7b7b" stroke="#1a1a1a" stroke-width="1.1"/>
<circle cx="577.9" cy="719.52" r="4.5" fill="#7b7b7b" stroke="#1a1a1a" stroke-width="1.1"/>
<circle cx="572.89" cy="722.84" r="4.5" fill="#7b7b7b" stroke="#1a1a1a" stroke-width="1.1"/>
<circle cx="582.9" cy="724.83" r="4.5" fill="#7b7b7b" stroke="#1a1a1a" stroke-width="1.1"/>
<circle cx="595.51" cy="699.6" r="4.5" fill="#e52b2b" stroke="#1a1a1a" stroke-width="1.1"/>
<circle cx="604.09" cy="702.92" r="4.5" fill="#e52b2b" stroke="#1a1a1a" stroke-width="1.1"/>
<circle cx="599.8" cy="706.24" r="4.5" fill="#e52b2b" stroke="#1a1a1a" stroke-width="1.1"/>
<circle cx="594.79" cy="709.56" r="4.5" fill="#e52b2b" stroke="#1a1a1a" stroke-width="1.1"/>
<circle cx="604.8" cy="712.88" r="4.5" fill="#e52b2b" stroke="#1a1a1a" stroke-width="1.1"/>
<circle cx="598.37" cy="716.2" r="4.5" fill="#e52b2b" stroke="#1a1a1a" stroke-width="1.1"/>
<circle cx="617.61" cy="691.63" r="4.5" fill="#bfe1ea" stroke="#1a1a1a" stroke-width="1.1"/>
<circle cx="626.19" cy="696.28" r="4.5" fill="#bfe1ea" stroke="#1a1a1a" stroke-width="1.1"/>
<circle cx="621.9" cy="699.6" r="4.5" fill="#bfe1ea" stroke="#1a1a1a" stroke-width="1.1"/>
<circle cx="616.89" cy="700.93" r="4.5" fill="#bfe1ea" stroke="#1a1a1a" stroke-width="1.1"/>
<circle cx="654.71" cy="683" r="4.5" fill="#86c553" stroke="#1a1a1a" stroke-width="1.1"/>
<circle cx="663.29" cy="686.32" r="4.5" fill="#86c553" stroke="#1a1a1a" stroke-width="1.1"/>
<circle cx="659" cy="689.64" r="4.5" fill="#86c553" stroke="#1a1a1a" stroke-width="1.1"/>
<circle cx="654" cy="692.96" r="4.5" fill="#86c553" stroke="#1a1a1a" stroke-width="1.1"/>
<circle cx="664" cy="696.28" r="4.5" fill="#86c553" stroke="#1a1a1a" stroke-width="1.1"/>
<circle cx="657.57" cy="699.6" r="4.5" fill="#86c553" stroke="#1a1a1a" stroke-width="1.1"/>
<circle cx="661.86" cy="700.93" r="4.5" fill="#86c553" stroke="#1a1a1a" stroke-width="1.1"/>
<circle cx="676.71" cy="643.16" r="4.5" fill="#7b7b7b" stroke="#1a1a1a" stroke-width="1.1"/>
<circle cx="685.29" cy="666.4" r="4.5" fill="#7b7b7b" stroke="#1a1a1a" stroke-width="1.1"/>
<circle cx="681" cy="691.63" r="4.5" fill="#7b7b7b" stroke="#1a1a1a" stroke-width="1.1"/>
<circle cx="676" cy="694.29" r="4.5" fill="#7b7b7b" stroke="#1a1a1a" stroke-width="1.1"/>
<circle cx="698.71" cy="638.51" r="4.5" fill="#e52b2b" stroke="#1a1a1a" stroke-width="1.1"/>
<circle cx="707.29" cy="639.84" r="4.5" fill="#e52b2b" stroke="#1a1a1a" stroke-width="1.1"/>
<circle cx="703" cy="643.16" r="4.5" fill="#e52b2b" stroke="#1a1a1a" stroke-width="1.1"/>
<circle cx="698" cy="646.48" r="4.5" fill="#e52b2b" stroke="#1a1a1a" stroke-width="1.1"/>
<circle cx="708" cy="649.8" r="4.5" fill="#e52b2b" stroke="#1a1a1a" stroke-width="1.1"/>
<circle cx="701.57" cy="653.12" r="4.5" fill="#e52b2b" stroke="#1a1a1a" stroke-width="1.1"/>
<circle cx="705.86" cy="658.43" r="4.5" fill="#e52b2b" stroke="#1a1a1a" stroke-width="1.1"/>
<circle cx="720.51" cy="596.68" r="4.5" fill="#bfe1ea" stroke="#1a1a1a" stroke-width="1.1"/>
<circle cx="729.09" cy="626.56" r="4.5" fill="#bfe1ea" stroke="#1a1a1a" stroke-width="1.1"/>
<circle cx="724.8" cy="653.12" r="4.5" fill="#bfe1ea" stroke="#1a1a1a" stroke-width="1.1"/>
<circle cx="719.79" cy="673.04" r="4.5" fill="#bfe1ea" stroke="#1a1a1a" stroke-width="1.1"/>
<line x1="540.2" y1="565.8" x2="540.2" y2="767.3" stroke="#000" stroke-width="2.6" />
<line x1="538.9" y1="766" x2="740" y2="766" stroke="#000" stroke-width="2.6" />
<line x1="532.2" y1="766" x2="540.2" y2="766" stroke="#000" stroke-width="2.34" />
<text x="529.2" y="772.12" font-size="17" text-anchor="end">0</text>
<line x1="532.2" y1="699.6" x2="540.2" y2="699.6" stroke="#000" stroke-width="2.34" />
<text x="529.2" y="705.72" font-size="17" text-anchor="end">1</text>
<line x1="532.2" y1="633.2" x2="540.2" y2="633.2" stroke="#000" stroke-width="2.34" />
<text x="529.2" y="639.32" font-size="17" text-anchor="end">2</text>
<line x1="532.2" y1="566.8" x2="540.2" y2="566.8" stroke="#000" stroke-width="2.34" />
<text x="529.2" y="572.92" font-size="17" text-anchor="end">3</text>
<line x1="587.8" y1="766" x2="587.8" y2="774" stroke="#000" stroke-width="2.34" />
<text x="587.8" y="790" font-size="16.5" text-anchor="middle">WT</text>
<line x1="691" y1="766" x2="691" y2="774" stroke="#000" stroke-width="2.34" />
<text x="691" y="790" font-size="16.5" text-anchor="middle">AhRKO</text>
<text x="501" y="667" font-size="16.3" text-anchor="middle" transform="rotate(-90 501 667)">OCR (pmol/min/1000 cells)</text>
<polyline points="658,626.6 658,619.7 703,619.7 703,626.6" fill="none" stroke="#000" stroke-width="2" stroke-linejoin="round" stroke-linejoin="miter"/>
<text x="680" y="612.5" font-size="15.8" text-anchor="middle">&lt;0.0001</text>
<circle cx="746" cy="578.6" r="4.2" fill="#86c553" stroke="#1a1a1a" stroke-width="1.1"/>
<text x="762.6" y="584.43" font-size="16.2">Con</text>
<circle cx="746" cy="597.9" r="4.2" fill="#7b7b7b" stroke="#1a1a1a" stroke-width="1.1"/>
<text x="762.6" y="603.73" font-size="16.2">Ficz</text>
<circle cx="746" cy="617.2" r="4.2" fill="#e52b2b" stroke="#1a1a1a" stroke-width="1.1"/>
<text x="762.6" y="623.03" font-size="16.2">CD3/CD28</text>
<circle cx="746" cy="636.5" r="4.2" fill="#bfe1ea" stroke="#1a1a1a" stroke-width="1.1"/>
<text x="762.6" y="642.33" font-size="16.2">CD3/CD28+Ficz</text>
<text x="535" y="839" font-size="19.5">Ficz-Maximal respiration</text>
<rect x="548.35" y="1060.63" width="14.3" height="13.37" fill="#b6da98" stroke="#000" stroke-width="2.2" />
<line x1="555.5" y1="1060.63" x2="555.5" y2="1058.16" stroke="#000" stroke-width="2" />
<line x1="551.5" y1="1058.16" x2="559.5" y2="1058.16" stroke="#000" stroke-width="2" />
<rect x="570.75" y="1065.09" width="14.3" height="8.91" fill="#bcbcbc" stroke="#000" stroke-width="2.2" />
<line x1="577.9" y1="1065.09" x2="577.9" y2="1063.61" stroke="#000" stroke-width="2" />
<line x1="573.9" y1="1063.61" x2="581.9" y2="1063.61" stroke="#000" stroke-width="2" />
<rect x="592.65" y="979.95" width="14.3" height="94.05" fill="#e8818a" stroke="#000" stroke-width="2.2" />
<line x1="599.8" y1="979.95" x2="599.8" y2="975" stroke="#000" stroke-width="2" />
<line x1="595.8" y1="975" x2="603.8" y2="975" stroke="#000" stroke-width="2" />
<rect x="614.75" y="991.83" width="14.3" height="82.17" fill="#a9d1dc" stroke="#000" stroke-width="2.2" />
<line x1="621.9" y1="991.83" x2="621.9" y2="989.85" stroke="#000" stroke-width="2" />
<line x1="617.9" y1="989.85" x2="625.9" y2="989.85" stroke="#000" stroke-width="2" />
<rect x="649.85" y="1055.19" width="14.3" height="18.81" fill="#b6da98" stroke="#000" stroke-width="2.2" />
<line x1="657" y1="1055.19" x2="657" y2="1053.21" stroke="#000" stroke-width="2" />
<line x1="653" y1="1053.21" x2="661" y2="1053.21" stroke="#000" stroke-width="2" />
<rect x="671.85" y="1046.28" width="14.3" height="27.72" fill="#bcbcbc" stroke="#000" stroke-width="2.2" />
<line x1="679" y1="1046.28" x2="679" y2="1042.82" stroke="#000" stroke-width="2" />
<line x1="675" y1="1042.82" x2="683" y2="1042.82" stroke="#000" stroke-width="2" />
<rect x="693.85" y="931.93" width="14.3" height="142.06" fill="#e8818a" stroke="#000" stroke-width="2.2" />
<line x1="701" y1="931.93" x2="701" y2="926" stroke="#000" stroke-width="2" />
<line x1="697" y1="926" x2="705" y2="926" stroke="#000" stroke-width="2" />
<rect x="715.65" y="924.51" width="14.3" height="149.49" fill="#a9d1dc" stroke="#000" stroke-width="2.2" />
<line x1="722.8" y1="924.51" x2="722.8" y2="905.7" stroke="#000" stroke-width="2" />
<line x1="718.8" y1="905.7" x2="726.8" y2="905.7" stroke="#000" stroke-width="2" />
<circle cx="551.21" cy="1050.24" r="4.5" fill="#86c553" stroke="#1a1a1a" stroke-width="1.1"/>
<circle cx="559.79" cy="1054.2" r="4.5" fill="#86c553" stroke="#1a1a1a" stroke-width="1.1"/>
<circle cx="555.5" cy="1059.15" r="4.5" fill="#86c553" stroke="#1a1a1a" stroke-width="1.1"/>
<circle cx="550.5" cy="1061.62" r="4.5" fill="#86c553" stroke="#1a1a1a" stroke-width="1.1"/>
<circle cx="560.5" cy="1064.1" r="4.5" fill="#86c553" stroke="#1a1a1a" stroke-width="1.1"/>
<circle cx="554.07" cy="1068.06" r="4.5" fill="#86c553" stroke="#1a1a1a" stroke-width="1.1"/>
<circle cx="558.36" cy="1070.04" r="4.5" fill="#86c553" stroke="#1a1a1a" stroke-width="1.1"/>
<circle cx="573.61" cy="1061.62" r="4.5" fill="#7b7b7b" stroke="#1a1a1a" stroke-width="1.1"/>
<circle cx="582.19" cy="1064.1" r="4.5" fill="#7b7b7b" stroke="#1a1a1a" stroke-width="1.1"/>
<circle cx="577.9" cy="1065.09" r="4.5" fill="#7b7b7b" stroke="#1a1a1a" stroke-width="1.1"/>
<circle cx="572.89" cy="1066.58" r="4.5" fill="#7b7b7b" stroke="#1a1a1a" stroke-width="1.1"/>
<circle cx="582.9" cy="1068.06" r="4.5" fill="#7b7b7b" stroke="#1a1a1a" stroke-width="1.1"/>
<circle cx="595.51" cy="957.67" r="4.5" fill="#e52b2b" stroke="#1a1a1a" stroke-width="1.1"/>
<circle cx="604.09" cy="975" r="4.5" fill="#e52b2b" stroke="#1a1a1a" stroke-width="1.1"/>
<circle cx="599.8" cy="975.99" r="4.5" fill="#e52b2b" stroke="#1a1a1a" stroke-width="1.1"/>
<circle cx="594.79" cy="979.95" r="4.5" fill="#e52b2b" stroke="#1a1a1a" stroke-width="1.1"/>
<circle cx="604.8" cy="984.9" r="4.5" fill="#e52b2b" stroke="#1a1a1a" stroke-width="1.1"/>
<circle cx="598.37" cy="989.85" r="4.5" fill="#e52b2b" stroke="#1a1a1a" stroke-width="1.1"/>
<circle cx="602.66" cy="1002.23" r="4.5" fill="#e52b2b" stroke="#1a1a1a" stroke-width="1.1"/>
<circle cx="617.61" cy="985.89" r="4.5" fill="#bfe1ea" stroke="#1a1a1a" stroke-width="1.1"/>
<circle cx="626.19" cy="988.86" r="4.5" fill="#bfe1ea" stroke="#1a1a1a" stroke-width="1.1"/>
<circle cx="621.9" cy="992.33" r="4.5" fill="#bfe1ea" stroke="#1a1a1a" stroke-width="1.1"/>
<circle cx="616.89" cy="994.8" r="4.5" fill="#bfe1ea" stroke="#1a1a1a" stroke-width="1.1"/>
<circle cx="626.9" cy="997.27" r="4.5" fill="#bfe1ea" stroke="#1a1a1a" stroke-width="1.1"/>
<circle cx="652.71" cy="1049.25" r="4.5" fill="#86c553" stroke="#1a1a1a" stroke-width="1.1"/>
<circle cx="661.29" cy="1051.72" r="4.5" fill="#86c553" stroke="#1a1a1a" stroke-width="1.1"/>
<circle cx="657" cy="1054.2" r="4.5" fill="#86c553" stroke="#1a1a1a" stroke-width="1.1"/>
<circle cx="652" cy="1056.67" r="4.5" fill="#86c553" stroke="#1a1a1a" stroke-width="1.1"/>
<circle cx="662" cy="1059.15" r="4.5" fill="#86c553" stroke="#1a1a1a" stroke-width="1.1"/>
<circle cx="655.57" cy="1060.14" r="4.5" fill="#86c553" stroke="#1a1a1a" stroke-width="1.1"/>
<circle cx="674.71" cy="1035.39" r="4.5" fill="#7b7b7b" stroke="#1a1a1a" stroke-width="1.1"/>
<circle cx="683.29" cy="1045.29" r="4.5" fill="#7b7b7b" stroke="#1a1a1a" stroke-width="1.1"/>
<circle cx="679" cy="1049.25" r="4.5" fill="#7b7b7b" stroke="#1a1a1a" stroke-width="1.1"/>
<circle cx="674" cy="1051.72" r="4.5" fill="#7b7b7b" stroke="#1a1a1a" stroke-width="1.1"/>
<circle cx="696.71" cy="914.61" r="4.5" fill="#e52b2b" stroke="#1a1a1a" stroke-width="1.1"/>
<circle cx="705.29" cy="915.6" r="4.5" fill="#e52b2b" stroke="#1a1a1a" stroke-width="1.1"/>
<circle cx="701" cy="920.55" r="4.5" fill="#e52b2b" stroke="#1a1a1a" stroke-width="1.1"/>
<circle cx="696" cy="932.92" r="4.5" fill="#e52b2b" stroke="#1a1a1a" stroke-width="1.1"/>
<circle cx="706" cy="945.3" r="4.5" fill="#e52b2b" stroke="#1a1a1a" stroke-width="1.1"/>
<circle cx="699.57" cy="952.73" r="4.5" fill="#e52b2b" stroke="#1a1a1a" stroke-width="1.1"/>
<circle cx="718.51" cy="890.85" r="4.5" fill="#bfe1ea" stroke="#1a1a1a" stroke-width="1.1"/>
<circle cx="727.09" cy="894.81" r="4.5" fill="#bfe1ea" stroke="#1a1a1a" stroke-width="1.1"/>
<circle cx="722.8" cy="947.77" r="4.5" fill="#bfe1ea" stroke="#1a1a1a" stroke-width="1.1"/>
<circle cx="717.79" cy="962.62" r="4.5" fill="#bfe1ea" stroke="#1a1a1a" stroke-width="1.1"/>
<line x1="540.2" y1="875" x2="540.2" y2="1075.3" stroke="#000" stroke-width="2.6" />
<line x1="538.9" y1="1074" x2="739" y2="1074" stroke="#000" stroke-width="2.6" />
<line x1="532.2" y1="1074" x2="540.2" y2="1074" stroke="#000" stroke-width="2.34" />
<text x="529.2" y="1080.12" font-size="17" text-anchor="end">0</text>
<line x1="532.2" y1="1024.5" x2="540.2" y2="1024.5" stroke="#000" stroke-width="2.34" />
<text x="529.2" y="1030.62" font-size="17" text-anchor="end">1</text>
<line x1="532.2" y1="975" x2="540.2" y2="975" stroke="#000" stroke-width="2.34" />
<text x="529.2" y="981.12" font-size="17" text-anchor="end">2</text>
<line x1="532.2" y1="925.5" x2="540.2" y2="925.5" stroke="#000" stroke-width="2.34" />
<text x="529.2" y="931.62" font-size="17" text-anchor="end">3</text>
<line x1="532.2" y1="876" x2="540.2" y2="876" stroke="#000" stroke-width="2.34" />
<text x="529.2" y="882.12" font-size="17" text-anchor="end">4</text>
<line x1="587.8" y1="1074" x2="587.8" y2="1082" stroke="#000" stroke-width="2.34" />
<text x="587.8" y="1098.5" font-size="16.5" text-anchor="middle">WT</text>
<line x1="691" y1="1074" x2="691" y2="1082" stroke="#000" stroke-width="2.34" />
<text x="691" y="1098.5" font-size="16.5" text-anchor="middle">AhRKO</text>
<text x="501" y="978" font-size="16.3" text-anchor="middle" transform="rotate(-90 501 978)">OCR (pmol/min/1000 cells)</text>
<polyline points="554,1039 554,937 598.4,937 598.4,946" fill="none" stroke="#000" stroke-width="2" stroke-linejoin="round" stroke-linejoin="miter"/>
<text x="576.5" y="931.6" font-size="15.8" text-anchor="middle">&lt;0.0001</text>
<polyline points="657,1039 657,896 701.7,896 701.7,904" fill="none" stroke="#000" stroke-width="2" stroke-linejoin="round" stroke-linejoin="miter"/>
<text x="676.5" y="889" font-size="15.8" text-anchor="middle">&lt;0.0001</text>
<circle cx="746" cy="884.8" r="4.2" fill="#86c553" stroke="#1a1a1a" stroke-width="1.1"/>
<text x="762.6" y="890.63" font-size="16.2">Con</text>
<circle cx="746" cy="903.7" r="4.2" fill="#7b7b7b" stroke="#1a1a1a" stroke-width="1.1"/>
<text x="762.6" y="909.53" font-size="16.2">Ficz</text>
<circle cx="746" cy="922.6" r="4.2" fill="#e52b2b" stroke="#1a1a1a" stroke-width="1.1"/>
<text x="762.6" y="928.43" font-size="16.2">CD3/CD28</text>
<circle cx="746" cy="941.5" r="4.2" fill="#bfe1ea" stroke="#1a1a1a" stroke-width="1.1"/>
<text x="762.6" y="947.33" font-size="16.2">CD3/CD28+Ficz</text>
<text x="1423.5" y="528.8" font-size="22.5">F</text>
<text x="1548.5" y="527.7" font-size="19.5">Basal respiration</text>
<rect x="1472.5" y="727.31" width="15" height="37.69" fill="#b6da98" stroke="#000" stroke-width="2.2" />
<line x1="1480" y1="727.31" x2="1480" y2="725.84" stroke="#000" stroke-width="2" />
<line x1="1475.8" y1="725.84" x2="1484.2" y2="725.84" stroke="#000" stroke-width="2" />
<rect x="1495.3" y="726.33" width="15" height="38.67" fill="#8fcde9" stroke="#000" stroke-width="2.2" />
<line x1="1502.8" y1="726.33" x2="1502.8" y2="724.86" stroke="#000" stroke-width="2" />
<line x1="1498.6" y1="724.86" x2="1507" y2="724.86" stroke="#000" stroke-width="2" />
<rect x="1518.1" y="725.84" width="15" height="39.16" fill="#efe08a" stroke="#000" stroke-width="2.2" />
<line x1="1525.6" y1="725.84" x2="1525.6" y2="724.37" stroke="#000" stroke-width="2" />
<line x1="1521.4" y1="724.37" x2="1529.8" y2="724.37" stroke="#000" stroke-width="2" />
<rect x="1541" y="722.41" width="15" height="42.59" fill="#e8818a" stroke="#000" stroke-width="2.2" />
<line x1="1548.5" y1="722.41" x2="1548.5" y2="720.94" stroke="#000" stroke-width="2" />
<line x1="1544.3" y1="720.94" x2="1552.7" y2="720.94" stroke="#000" stroke-width="2" />
<rect x="1563.8" y="709.69" width="15" height="55.31" fill="#c28bd4" stroke="#000" stroke-width="2.2" />
<line x1="1571.3" y1="709.69" x2="1571.3" y2="707.24" stroke="#000" stroke-width="2" />
<line x1="1567.1" y1="707.24" x2="1575.5" y2="707.24" stroke="#000" stroke-width="2" />
<rect x="1586.7" y="707.73" width="15" height="57.27" fill="#8090a8" stroke="#000" stroke-width="2.2" />
<line x1="1594.2" y1="707.73" x2="1594.2" y2="705.28" stroke="#000" stroke-width="2" />
<line x1="1590" y1="705.28" x2="1598.4" y2="705.28" stroke="#000" stroke-width="2" />
<rect x="1624.2" y="710.67" width="15" height="54.33" fill="#b6da98" stroke="#000" stroke-width="2.2" />
<line x1="1631.7" y1="710.67" x2="1631.7" y2="709.2" stroke="#000" stroke-width="2" />
<line x1="1627.5" y1="709.2" x2="1635.9" y2="709.2" stroke="#000" stroke-width="2" />
<rect x="1647" y="704.79" width="15" height="60.21" fill="#8fcde9" stroke="#000" stroke-width="2.2" />
<line x1="1654.5" y1="704.79" x2="1654.5" y2="700.88" stroke="#000" stroke-width="2" />
<line x1="1650.3" y1="700.88" x2="1658.7" y2="700.88" stroke="#000" stroke-width="2" />
<rect x="1669.9" y="710.18" width="15" height="54.82" fill="#efe08a" stroke="#000" stroke-width="2.2" />
<line x1="1677.4" y1="710.18" x2="1677.4" y2="706.75" stroke="#000" stroke-width="2" />
<line x1="1673.2" y1="706.75" x2="1681.6" y2="706.75" stroke="#000" stroke-width="2" />
<rect x="1692.8" y="678.36" width="15" height="86.64" fill="#e8818a" stroke="#000" stroke-width="2.2" />
<line x1="1700.3" y1="678.36" x2="1700.3" y2="676.4" stroke="#000" stroke-width="2" />
<line x1="1696.1" y1="676.4" x2="1704.5" y2="676.4" stroke="#000" stroke-width="2" />
<rect x="1715.6" y="650.95" width="15" height="114.05" fill="#c28bd4" stroke="#000" stroke-width="2.2" />
<line x1="1723.1" y1="650.95" x2="1723.1" y2="645.07" stroke="#000" stroke-width="2" />
<line x1="1718.9" y1="645.07" x2="1727.3" y2="645.07" stroke="#000" stroke-width="2" />
<rect x="1737.8" y="651.44" width="15" height="113.56" fill="#8090a8" stroke="#000" stroke-width="2.2" />
<line x1="1745.3" y1="651.44" x2="1745.3" y2="638.22" stroke="#000" stroke-width="2" />
<line x1="1741.1" y1="638.22" x2="1749.5" y2="638.22" stroke="#000" stroke-width="2" />
<circle cx="1475.5" cy="720.94" r="4.5" fill="#86c553" stroke="#1a1a1a" stroke-width="1.1"/>
<circle cx="1484.5" cy="723.39" r="4.5" fill="#86c553" stroke="#1a1a1a" stroke-width="1.1"/>
<circle cx="1480" cy="725.84" r="4.5" fill="#86c553" stroke="#1a1a1a" stroke-width="1.1"/>
<circle cx="1474.75" cy="728.29" r="4.5" fill="#86c553" stroke="#1a1a1a" stroke-width="1.1"/>
<circle cx="1485.25" cy="730.74" r="4.5" fill="#86c553" stroke="#1a1a1a" stroke-width="1.1"/>
<circle cx="1478.5" cy="733.18" r="4.5" fill="#86c553" stroke="#1a1a1a" stroke-width="1.1"/>
<circle cx="1483" cy="734.65" r="4.5" fill="#86c553" stroke="#1a1a1a" stroke-width="1.1"/>
<circle cx="1498.3" cy="723.39" r="4.5" fill="#4fb1e5" stroke="#1a1a1a" stroke-width="1.1"/>
<circle cx="1507.3" cy="725.84" r="4.5" fill="#4fb1e5" stroke="#1a1a1a" stroke-width="1.1"/>
<circle cx="1502.8" cy="726.82" r="4.5" fill="#4fb1e5" stroke="#1a1a1a" stroke-width="1.1"/>
<circle cx="1497.55" cy="728.29" r="4.5" fill="#4fb1e5" stroke="#1a1a1a" stroke-width="1.1"/>
<circle cx="1521.1" cy="720.94" r="4.5" fill="#e6cf4c" stroke="#1a1a1a" stroke-width="1.1"/>
<circle cx="1530.1" cy="723.39" r="4.5" fill="#e6cf4c" stroke="#1a1a1a" stroke-width="1.1"/>
<circle cx="1525.6" cy="725.84" r="4.5" fill="#e6cf4c" stroke="#1a1a1a" stroke-width="1.1"/>
<circle cx="1520.35" cy="728.29" r="4.5" fill="#e6cf4c" stroke="#1a1a1a" stroke-width="1.1"/>
<circle cx="1544" cy="716.05" r="4.5" fill="#e52b2b" stroke="#1a1a1a" stroke-width="1.1"/>
<circle cx="1553" cy="718.5" r="4.5" fill="#e52b2b" stroke="#1a1a1a" stroke-width="1.1"/>
<circle cx="1548.5" cy="720.94" r="4.5" fill="#e52b2b" stroke="#1a1a1a" stroke-width="1.1"/>
<circle cx="1543.25" cy="723.39" r="4.5" fill="#e52b2b" stroke="#1a1a1a" stroke-width="1.1"/>
<circle cx="1553.75" cy="725.84" r="4.5" fill="#e52b2b" stroke="#1a1a1a" stroke-width="1.1"/>
<circle cx="1547" cy="726.82" r="4.5" fill="#e52b2b" stroke="#1a1a1a" stroke-width="1.1"/>
<circle cx="1566.8" cy="697.45" r="4.5" fill="#8a2fa8" stroke="#1a1a1a" stroke-width="1.1"/>
<circle cx="1575.8" cy="706.26" r="4.5" fill="#8a2fa8" stroke="#1a1a1a" stroke-width="1.1"/>
<circle cx="1571.3" cy="708.71" r="4.5" fill="#8a2fa8" stroke="#1a1a1a" stroke-width="1.1"/>
<circle cx="1566.05" cy="711.15" r="4.5" fill="#8a2fa8" stroke="#1a1a1a" stroke-width="1.1"/>
<circle cx="1576.55" cy="713.6" r="4.5" fill="#8a2fa8" stroke="#1a1a1a" stroke-width="1.1"/>
<circle cx="1569.8" cy="716.05" r="4.5" fill="#8a2fa8" stroke="#1a1a1a" stroke-width="1.1"/>
<circle cx="1589.7" cy="701.37" r="4.5" fill="#1d2b50" stroke="#1a1a1a" stroke-width="1.1"/>
<circle cx="1598.7" cy="703.81" r="4.5" fill="#1d2b50" stroke="#1a1a1a" stroke-width="1.1"/>
<circle cx="1594.2" cy="706.26" r="4.5" fill="#1d2b50" stroke="#1a1a1a" stroke-width="1.1"/>
<circle cx="1588.95" cy="708.71" r="4.5" fill="#1d2b50" stroke="#1a1a1a" stroke-width="1.1"/>
<circle cx="1599.45" cy="711.15" r="4.5" fill="#1d2b50" stroke="#1a1a1a" stroke-width="1.1"/>
<circle cx="1592.7" cy="713.6" r="4.5" fill="#1d2b50" stroke="#1a1a1a" stroke-width="1.1"/>
<circle cx="1597.2" cy="716.05" r="4.5" fill="#1d2b50" stroke="#1a1a1a" stroke-width="1.1"/>
<circle cx="1627.2" cy="703.81" r="4.5" fill="#86c553" stroke="#1a1a1a" stroke-width="1.1"/>
<circle cx="1636.2" cy="706.26" r="4.5" fill="#86c553" stroke="#1a1a1a" stroke-width="1.1"/>
<circle cx="1631.7" cy="708.71" r="4.5" fill="#86c553" stroke="#1a1a1a" stroke-width="1.1"/>
<circle cx="1626.45" cy="711.15" r="4.5" fill="#86c553" stroke="#1a1a1a" stroke-width="1.1"/>
<circle cx="1636.95" cy="713.6" r="4.5" fill="#86c553" stroke="#1a1a1a" stroke-width="1.1"/>
<circle cx="1630.2" cy="716.05" r="4.5" fill="#86c553" stroke="#1a1a1a" stroke-width="1.1"/>
<circle cx="1634.7" cy="717.03" r="4.5" fill="#86c553" stroke="#1a1a1a" stroke-width="1.1"/>
<circle cx="1650" cy="694.02" r="4.5" fill="#4fb1e5" stroke="#1a1a1a" stroke-width="1.1"/>
<circle cx="1659" cy="703.81" r="4.5" fill="#4fb1e5" stroke="#1a1a1a" stroke-width="1.1"/>
<circle cx="1654.5" cy="708.71" r="4.5" fill="#4fb1e5" stroke="#1a1a1a" stroke-width="1.1"/>
<circle cx="1649.25" cy="713.6" r="4.5" fill="#4fb1e5" stroke="#1a1a1a" stroke-width="1.1"/>
<circle cx="1672.9" cy="700.39" r="4.5" fill="#e6cf4c" stroke="#1a1a1a" stroke-width="1.1"/>
<circle cx="1681.9" cy="708.71" r="4.5" fill="#e6cf4c" stroke="#1a1a1a" stroke-width="1.1"/>
<circle cx="1677.4" cy="713.6" r="4.5" fill="#e6cf4c" stroke="#1a1a1a" stroke-width="1.1"/>
<circle cx="1672.15" cy="716.05" r="4.5" fill="#e6cf4c" stroke="#1a1a1a" stroke-width="1.1"/>
<circle cx="1695.8" cy="671.02" r="4.5" fill="#e52b2b" stroke="#1a1a1a" stroke-width="1.1"/>
<circle cx="1704.8" cy="672" r="4.5" fill="#e52b2b" stroke="#1a1a1a" stroke-width="1.1"/>
<circle cx="1700.3" cy="674.44" r="4.5" fill="#e52b2b" stroke="#1a1a1a" stroke-width="1.1"/>
<circle cx="1695.05" cy="677.87" r="4.5" fill="#e52b2b" stroke="#1a1a1a" stroke-width="1.1"/>
<circle cx="1705.55" cy="680.81" r="4.5" fill="#e52b2b" stroke="#1a1a1a" stroke-width="1.1"/>
<circle cx="1698.8" cy="684.23" r="4.5" fill="#e52b2b" stroke="#1a1a1a" stroke-width="1.1"/>
<circle cx="1703.3" cy="686.68" r="4.5" fill="#e52b2b" stroke="#1a1a1a" stroke-width="1.1"/>
<circle cx="1718.6" cy="627.94" r="4.5" fill="#8a2fa8" stroke="#1a1a1a" stroke-width="1.1"/>
<circle cx="1727.6" cy="637.73" r="4.5" fill="#8a2fa8" stroke="#1a1a1a" stroke-width="1.1"/>
<circle cx="1723.1" cy="645.07" r="4.5" fill="#8a2fa8" stroke="#1a1a1a" stroke-width="1.1"/>
<circle cx="1717.85" cy="652.41" r="4.5" fill="#8a2fa8" stroke="#1a1a1a" stroke-width="1.1"/>
<circle cx="1728.35" cy="662.2" r="4.5" fill="#8a2fa8" stroke="#1a1a1a" stroke-width="1.1"/>
<circle cx="1721.6" cy="667.1" r="4.5" fill="#8a2fa8" stroke="#1a1a1a" stroke-width="1.1"/>
<circle cx="1726.1" cy="669.55" r="4.5" fill="#8a2fa8" stroke="#1a1a1a" stroke-width="1.1"/>
<circle cx="1740.8" cy="591.23" r="4.5" fill="#1d2b50" stroke="#1a1a1a" stroke-width="1.1"/>
<circle cx="1749.8" cy="647.52" r="4.5" fill="#1d2b50" stroke="#1a1a1a" stroke-width="1.1"/>
<circle cx="1745.3" cy="654.86" r="4.5" fill="#1d2b50" stroke="#1a1a1a" stroke-width="1.1"/>
<circle cx="1740.05" cy="667.1" r="4.5" fill="#1d2b50" stroke="#1a1a1a" stroke-width="1.1"/>
<circle cx="1750.55" cy="674.44" r="4.5" fill="#1d2b50" stroke="#1a1a1a" stroke-width="1.1"/>
<circle cx="1743.8" cy="679.34" r="4.5" fill="#1d2b50" stroke="#1a1a1a" stroke-width="1.1"/>
<line x1="1465.3" y1="568.2" x2="1465.3" y2="766.3" stroke="#000" stroke-width="2.6" />
<line x1="1464" y1="765" x2="1760.6" y2="765" stroke="#000" stroke-width="2.6" />
<line x1="1457.3" y1="765" x2="1465.3" y2="765" stroke="#000" stroke-width="2.34" />
<text x="1454.3" y="771.12" font-size="17" text-anchor="end">0</text>
<line x1="1457.3" y1="716.05" x2="1465.3" y2="716.05" stroke="#000" stroke-width="2.34" />
<text x="1454.3" y="722.17" font-size="17" text-anchor="end">1</text>
<line x1="1457.3" y1="667.1" x2="1465.3" y2="667.1" stroke="#000" stroke-width="2.34" />
<text x="1454.3" y="673.22" font-size="17" text-anchor="end">2</text>
<line x1="1457.3" y1="618.15" x2="1465.3" y2="618.15" stroke="#000" stroke-width="2.34" />
<text x="1454.3" y="624.27" font-size="17" text-anchor="end">3</text>
<line x1="1457.3" y1="569.2" x2="1465.3" y2="569.2" stroke="#000" stroke-width="2.34" />
<text x="1454.3" y="575.32" font-size="17" text-anchor="end">4</text>
<line x1="1537" y1="765" x2="1537" y2="773" stroke="#000" stroke-width="2.34" />
<text x="1537" y="790" font-size="16.5" text-anchor="middle">WT</text>
<line x1="1688.8" y1="765" x2="1688.8" y2="773" stroke="#000" stroke-width="2.34" />
<text x="1688.8" y="790" font-size="16.5" text-anchor="middle">AhRKO</text>
<text x="1439" y="667" font-size="16.3" text-anchor="middle" transform="rotate(-90 1439 667)">OCR (pmol/min/1000 cells)</text>
<polyline points="1547.8,704 1547.8,679.5 1594.8,679.5 1594.8,689" fill="none" stroke="#000" stroke-width="2" stroke-linejoin="round" stroke-linejoin="miter"/>
<text x="1571.4" y="674.6" font-size="15.7" text-anchor="middle">0.050</text>
<polyline points="1631,694 1631,650 1696.3,650 1696.3,664.8" fill="none" stroke="#000" stroke-width="2" stroke-linejoin="round" stroke-linejoin="miter"/>
<text x="1664.4" y="645" font-size="15.7" text-anchor="middle">&lt;0.0001</text>
<polyline points="1702.9,660 1702.9,610.3 1722.5,610.3 1722.5,617.5" fill="none" stroke="#000" stroke-width="2" stroke-linejoin="round" stroke-linejoin="miter"/>
<text x="1713" y="603.8" font-size="15.7" text-anchor="middle">0.0002</text>
<polyline points="1699.6,583 1699.6,574.4 1745.3,574.4 1745.3,582" fill="none" stroke="#000" stroke-width="2" stroke-linejoin="round" stroke-linejoin="miter"/>
<text x="1722.6" y="567" font-size="15.7" text-anchor="middle">0.0003</text>
<circle cx="1767" cy="576.7" r="4.2" fill="#86c553" stroke="#1a1a1a" stroke-width="1.1"/>
<text x="1778" y="582.5" font-size="16.1">Con</text>
<circle cx="1767" cy="602.6" r="4.2" fill="#4fb1e5" stroke="#1a1a1a" stroke-width="1.1"/>
<text x="1778" y="608.4" font-size="16.1">IPA100</text>
<circle cx="1767" cy="628.5" r="4.2" fill="#e6cf4c" stroke="#1a1a1a" stroke-width="1.1"/>
<text x="1778" y="634.3" font-size="16.1">IPA1000</text>
<circle cx="1767" cy="654.4" r="4.2" fill="#e52b2b" stroke="#1a1a1a" stroke-width="1.1"/>
<text x="1778" y="660.2" font-size="16.1">CD3/CD28</text>
<circle cx="1767" cy="680.3" r="4.2" fill="#8a2fa8" stroke="#1a1a1a" stroke-width="1.1"/>
<text x="1778" y="686.1" font-size="16.1">CD3/CD28+IPA100</text>
<circle cx="1767" cy="706.2" r="4.2" fill="#1d2b50" stroke="#1a1a1a" stroke-width="1.1"/>
<text x="1778" y="712" font-size="16.1">CD3/CD28+IPA1000</text>
<text x="1537" y="838.5" font-size="19.5">Maximal respiration</text>
<rect x="1472.5" y="1067.02" width="15" height="7.18" fill="#b6da98" stroke="#000" stroke-width="2.2" />
<line x1="1480" y1="1067.02" x2="1480" y2="1065.38" stroke="#000" stroke-width="2" />
<line x1="1475.8" y1="1065.38" x2="1484.2" y2="1065.38" stroke="#000" stroke-width="2" />
<rect x="1495.3" y="1065.06" width="15" height="9.14" fill="#8fcde9" stroke="#000" stroke-width="2.2" />
<line x1="1502.8" y1="1065.06" x2="1502.8" y2="1063.43" stroke="#000" stroke-width="2" />
<line x1="1498.6" y1="1063.43" x2="1507" y2="1063.43" stroke="#000" stroke-width="2" />
<rect x="1518.1" y="1061.79" width="15" height="12.41" fill="#efe08a" stroke="#000" stroke-width="2.2" />
<line x1="1525.6" y1="1061.79" x2="1525.6" y2="1059.18" stroke="#000" stroke-width="2" />
<line x1="1521.4" y1="1059.18" x2="1529.8" y2="1059.18" stroke="#000" stroke-width="2" />
<rect x="1541" y="1013.14" width="15" height="61.06" fill="#e8818a" stroke="#000" stroke-width="2.2" />
<line x1="1548.5" y1="1013.14" x2="1548.5" y2="1010.21" stroke="#000" stroke-width="2" />
<line x1="1544.3" y1="1010.21" x2="1552.7" y2="1010.21" stroke="#000" stroke-width="2" />
<rect x="1563.8" y="993.23" width="15" height="80.97" fill="#c28bd4" stroke="#000" stroke-width="2.2" />
<line x1="1571.3" y1="993.23" x2="1571.3" y2="987.35" stroke="#000" stroke-width="2" />
<line x1="1567.1" y1="987.35" x2="1575.5" y2="987.35" stroke="#000" stroke-width="2" />
<rect x="1586.7" y="994.86" width="15" height="79.34" fill="#8090a8" stroke="#000" stroke-width="2.2" />
<line x1="1594.2" y1="994.86" x2="1594.2" y2="989.96" stroke="#000" stroke-width="2" />
<line x1="1590" y1="989.96" x2="1598.4" y2="989.96" stroke="#000" stroke-width="2" />
<rect x="1624.2" y="1062.77" width="15" height="11.43" fill="#b6da98" stroke="#000" stroke-width="2.2" />
<line x1="1631.7" y1="1062.77" x2="1631.7" y2="1061.47" stroke="#000" stroke-width="2" />
<line x1="1627.5" y1="1061.47" x2="1635.9" y2="1061.47" stroke="#000" stroke-width="2" />
<rect x="1647" y="1048.08" width="15" height="26.12" fill="#8fcde9" stroke="#000" stroke-width="2.2" />
<line x1="1654.5" y1="1048.08" x2="1654.5" y2="1041.55" stroke="#000" stroke-width="2" />
<line x1="1650.3" y1="1041.55" x2="1658.7" y2="1041.55" stroke="#000" stroke-width="2" />
<rect x="1669.9" y="1050.37" width="15" height="23.83" fill="#efe08a" stroke="#000" stroke-width="2.2" />
<line x1="1677.4" y1="1050.37" x2="1677.4" y2="1047.1" stroke="#000" stroke-width="2" />
<line x1="1673.2" y1="1047.1" x2="1681.6" y2="1047.1" stroke="#000" stroke-width="2" />
<rect x="1692.8" y="980.82" width="15" height="93.38" fill="#e8818a" stroke="#000" stroke-width="2.2" />
<line x1="1700.3" y1="980.82" x2="1700.3" y2="976.25" stroke="#000" stroke-width="2" />
<line x1="1696.1" y1="976.25" x2="1704.5" y2="976.25" stroke="#000" stroke-width="2" />
<rect x="1715.6" y="941.97" width="15" height="132.23" fill="#c28bd4" stroke="#000" stroke-width="2.2" />
<line x1="1723.1" y1="941.97" x2="1723.1" y2="928.25" stroke="#000" stroke-width="2" />
<line x1="1718.9" y1="928.25" x2="1727.3" y2="928.25" stroke="#000" stroke-width="2" />
<rect x="1737.8" y="952.74" width="15" height="121.46" fill="#8090a8" stroke="#000" stroke-width="2.2" />
<line x1="1745.3" y1="952.74" x2="1745.3" y2="941.31" stroke="#000" stroke-width="2" />
<line x1="1741.1" y1="941.31" x2="1749.5" y2="941.31" stroke="#000" stroke-width="2" />
<circle cx="1475.5" cy="1059.51" r="4.5" fill="#86c553" stroke="#1a1a1a" stroke-width="1.1"/>
<circle cx="1484.5" cy="1062.77" r="4.5" fill="#86c553" stroke="#1a1a1a" stroke-width="1.1"/>
<circle cx="1480" cy="1066.04" r="4.5" fill="#86c553" stroke="#1a1a1a" stroke-width="1.1"/>
<circle cx="1474.75" cy="1067.67" r="4.5" fill="#86c553" stroke="#1a1a1a" stroke-width="1.1"/>
<circle cx="1485.25" cy="1069.3" r="4.5" fill="#86c553" stroke="#1a1a1a" stroke-width="1.1"/>
<circle cx="1478.5" cy="1070.93" r="4.5" fill="#86c553" stroke="#1a1a1a" stroke-width="1.1"/>
<circle cx="1483" cy="1072.57" r="4.5" fill="#86c553" stroke="#1a1a1a" stroke-width="1.1"/>
<circle cx="1498.3" cy="1060.49" r="4.5" fill="#4fb1e5" stroke="#1a1a1a" stroke-width="1.1"/>
<circle cx="1507.3" cy="1062.77" r="4.5" fill="#4fb1e5" stroke="#1a1a1a" stroke-width="1.1"/>
<circle cx="1502.8" cy="1065.06" r="4.5" fill="#4fb1e5" stroke="#1a1a1a" stroke-width="1.1"/>
<circle cx="1497.55" cy="1067.67" r="4.5" fill="#4fb1e5" stroke="#1a1a1a" stroke-width="1.1"/>
<circle cx="1521.1" cy="1054.61" r="4.5" fill="#e6cf4c" stroke="#1a1a1a" stroke-width="1.1"/>
<circle cx="1530.1" cy="1057.88" r="4.5" fill="#e6cf4c" stroke="#1a1a1a" stroke-width="1.1"/>
<circle cx="1525.6" cy="1062.77" r="4.5" fill="#e6cf4c" stroke="#1a1a1a" stroke-width="1.1"/>
<circle cx="1520.35" cy="1066.04" r="4.5" fill="#e6cf4c" stroke="#1a1a1a" stroke-width="1.1"/>
<circle cx="1544" cy="1005.63" r="4.5" fill="#e52b2b" stroke="#1a1a1a" stroke-width="1.1"/>
<circle cx="1553" cy="1008.9" r="4.5" fill="#e52b2b" stroke="#1a1a1a" stroke-width="1.1"/>
<circle cx="1548.5" cy="1010.53" r="4.5" fill="#e52b2b" stroke="#1a1a1a" stroke-width="1.1"/>
<circle cx="1543.25" cy="1013.8" r="4.5" fill="#e52b2b" stroke="#1a1a1a" stroke-width="1.1"/>
<circle cx="1553.75" cy="1017.06" r="4.5" fill="#e52b2b" stroke="#1a1a1a" stroke-width="1.1"/>
<circle cx="1547" cy="1021.96" r="4.5" fill="#e52b2b" stroke="#1a1a1a" stroke-width="1.1"/>
<circle cx="1551.5" cy="1026.86" r="4.5" fill="#e52b2b" stroke="#1a1a1a" stroke-width="1.1"/>
<circle cx="1566.8" cy="971.35" r="4.5" fill="#8a2fa8" stroke="#1a1a1a" stroke-width="1.1"/>
<circle cx="1575.8" cy="984.41" r="4.5" fill="#8a2fa8" stroke="#1a1a1a" stroke-width="1.1"/>
<circle cx="1571.3" cy="989.31" r="4.5" fill="#8a2fa8" stroke="#1a1a1a" stroke-width="1.1"/>
<circle cx="1566.05" cy="994.21" r="4.5" fill="#8a2fa8" stroke="#1a1a1a" stroke-width="1.1"/>
<circle cx="1576.55" cy="1002.37" r="4.5" fill="#8a2fa8" stroke="#1a1a1a" stroke-width="1.1"/>
<circle cx="1569.8" cy="1008.9" r="4.5" fill="#8a2fa8" stroke="#1a1a1a" stroke-width="1.1"/>
<circle cx="1574.3" cy="1010.53" r="4.5" fill="#8a2fa8" stroke="#1a1a1a" stroke-width="1.1"/>
<circle cx="1589.7" cy="981.15" r="4.5" fill="#1d2b50" stroke="#1a1a1a" stroke-width="1.1"/>
<circle cx="1598.7" cy="984.41" r="4.5" fill="#1d2b50" stroke="#1a1a1a" stroke-width="1.1"/>
<circle cx="1594.2" cy="990.94" r="4.5" fill="#1d2b50" stroke="#1a1a1a" stroke-width="1.1"/>
<circle cx="1588.95" cy="997.47" r="4.5" fill="#1d2b50" stroke="#1a1a1a" stroke-width="1.1"/>
<circle cx="1599.45" cy="1005.63" r="4.5" fill="#1d2b50" stroke="#1a1a1a" stroke-width="1.1"/>
<circle cx="1592.7" cy="1010.53" r="4.5" fill="#1d2b50" stroke="#1a1a1a" stroke-width="1.1"/>
<circle cx="1627.2" cy="1057.88" r="4.5" fill="#86c553" stroke="#1a1a1a" stroke-width="1.1"/>
<circle cx="1636.2" cy="1059.51" r="4.5" fill="#86c553" stroke="#1a1a1a" stroke-width="1.1"/>
<circle cx="1631.7" cy="1061.14" r="4.5" fill="#86c553" stroke="#1a1a1a" stroke-width="1.1"/>
<circle cx="1626.45" cy="1062.77" r="4.5" fill="#86c553" stroke="#1a1a1a" stroke-width="1.1"/>
<circle cx="1636.95" cy="1064.4" r="4.5" fill="#86c553" stroke="#1a1a1a" stroke-width="1.1"/>
<circle cx="1630.2" cy="1066.04" r="4.5" fill="#86c553" stroke="#1a1a1a" stroke-width="1.1"/>
<circle cx="1650" cy="1033.39" r="4.5" fill="#4fb1e5" stroke="#1a1a1a" stroke-width="1.1"/>
<circle cx="1659" cy="1043.18" r="4.5" fill="#4fb1e5" stroke="#1a1a1a" stroke-width="1.1"/>
<circle cx="1654.5" cy="1052.98" r="4.5" fill="#4fb1e5" stroke="#1a1a1a" stroke-width="1.1"/>
<circle cx="1649.25" cy="1062.77" r="4.5" fill="#4fb1e5" stroke="#1a1a1a" stroke-width="1.1"/>
<circle cx="1672.9" cy="1041.55" r="4.5" fill="#e6cf4c" stroke="#1a1a1a" stroke-width="1.1"/>
<circle cx="1681.9" cy="1046.45" r="4.5" fill="#e6cf4c" stroke="#1a1a1a" stroke-width="1.1"/>
<circle cx="1677.4" cy="1051.35" r="4.5" fill="#e6cf4c" stroke="#1a1a1a" stroke-width="1.1"/>
<circle cx="1672.15" cy="1056.24" r="4.5" fill="#e6cf4c" stroke="#1a1a1a" stroke-width="1.1"/>
<circle cx="1695.8" cy="968.09" r="4.5" fill="#e52b2b" stroke="#1a1a1a" stroke-width="1.1"/>
<circle cx="1704.8" cy="969.72" r="4.5" fill="#e52b2b" stroke="#1a1a1a" stroke-width="1.1"/>
<circle cx="1700.3" cy="972.99" r="4.5" fill="#e52b2b" stroke="#1a1a1a" stroke-width="1.1"/>
<circle cx="1695.05" cy="982.78" r="4.5" fill="#e52b2b" stroke="#1a1a1a" stroke-width="1.1"/>
<circle cx="1705.55" cy="990.94" r="4.5" fill="#e52b2b" stroke="#1a1a1a" stroke-width="1.1"/>
<circle cx="1698.8" cy="995.84" r="4.5" fill="#e52b2b" stroke="#1a1a1a" stroke-width="1.1"/>
<circle cx="1718.6" cy="906.05" r="4.5" fill="#8a2fa8" stroke="#1a1a1a" stroke-width="1.1"/>
<circle cx="1727.6" cy="914.22" r="4.5" fill="#8a2fa8" stroke="#1a1a1a" stroke-width="1.1"/>
<circle cx="1723.1" cy="933.81" r="4.5" fill="#8a2fa8" stroke="#1a1a1a" stroke-width="1.1"/>
<circle cx="1717.85" cy="945.23" r="4.5" fill="#8a2fa8" stroke="#1a1a1a" stroke-width="1.1"/>
<circle cx="1728.35" cy="953.39" r="4.5" fill="#8a2fa8" stroke="#1a1a1a" stroke-width="1.1"/>
<circle cx="1721.6" cy="995.84" r="4.5" fill="#8a2fa8" stroke="#1a1a1a" stroke-width="1.1"/>
<circle cx="1740.8" cy="904.42" r="4.5" fill="#1d2b50" stroke="#1a1a1a" stroke-width="1.1"/>
<circle cx="1749.8" cy="940.34" r="4.5" fill="#1d2b50" stroke="#1a1a1a" stroke-width="1.1"/>
<circle cx="1745.3" cy="948.5" r="4.5" fill="#1d2b50" stroke="#1a1a1a" stroke-width="1.1"/>
<circle cx="1740.05" cy="959.93" r="4.5" fill="#1d2b50" stroke="#1a1a1a" stroke-width="1.1"/>
<circle cx="1750.55" cy="969.72" r="4.5" fill="#1d2b50" stroke="#1a1a1a" stroke-width="1.1"/>
<circle cx="1743.8" cy="982.78" r="4.5" fill="#1d2b50" stroke="#1a1a1a" stroke-width="1.1"/>
<line x1="1465.3" y1="877.3" x2="1465.3" y2="1075.5" stroke="#000" stroke-width="2.6" />
<line x1="1464" y1="1074.2" x2="1760.6" y2="1074.2" stroke="#000" stroke-width="2.6" />
<line x1="1457.3" y1="1074.2" x2="1465.3" y2="1074.2" stroke="#000" stroke-width="2.34" />
<text x="1454.3" y="1080.32" font-size="17" text-anchor="end">0</text>
<line x1="1457.3" y1="1008.9" x2="1465.3" y2="1008.9" stroke="#000" stroke-width="2.34" />
<text x="1454.3" y="1015.02" font-size="17" text-anchor="end">2</text>
<line x1="1457.3" y1="943.6" x2="1465.3" y2="943.6" stroke="#000" stroke-width="2.34" />
<text x="1454.3" y="949.72" font-size="17" text-anchor="end">4</text>
<line x1="1457.3" y1="878.3" x2="1465.3" y2="878.3" stroke="#000" stroke-width="2.34" />
<text x="1454.3" y="884.42" font-size="17" text-anchor="end">6</text>
<line x1="1537" y1="1074.2" x2="1537" y2="1082.2" stroke="#000" stroke-width="2.34" />
<text x="1537" y="1099" font-size="16.5" text-anchor="middle">WT</text>
<line x1="1688.8" y1="1074.2" x2="1688.8" y2="1082.2" stroke="#000" stroke-width="2.34" />
<text x="1688.8" y="1099" font-size="16.5" text-anchor="middle">AhRKO</text>
<text x="1440.5" y="978" font-size="16.3" text-anchor="middle" transform="rotate(-90 1440.5 978)">OCR (pmol/min/1000 cells)</text>
<polyline points="1480,1048 1480,881 1544.6,881 1544.6,893" fill="none" stroke="#000" stroke-width="2" stroke-linejoin="round" stroke-linejoin="miter"/>
<text x="1515" y="875" font-size="15.7" text-anchor="middle">&lt;0.0001</text>
<polyline points="1552,923.4 1552,912 1593.5,912 1593.5,978.8" fill="none" stroke="#000" stroke-width="2" stroke-linejoin="round" stroke-linejoin="miter"/>
<text x="1573" y="906" font-size="15.7" text-anchor="middle">0.0332</text>
<polyline points="1548.5,994 1548.5,956 1571.3,956 1571.3,960" fill="none" stroke="#000" stroke-width="2" stroke-linejoin="round" stroke-linejoin="miter"/>
<text x="1562" y="950" font-size="15.7" text-anchor="middle">0.0239</text>
<polyline points="1631,1046.4 1631,948.5 1699.6,948.5 1699.6,956.7" fill="none" stroke="#000" stroke-width="2" stroke-linejoin="round" stroke-linejoin="miter"/>
<text x="1665" y="941.3" font-size="15.7" text-anchor="middle">&lt;0.0001</text>
<polyline points="1699.6,917.5 1699.6,891.4 1722.5,891.4 1722.5,896.3" fill="none" stroke="#000" stroke-width="2" stroke-linejoin="round" stroke-linejoin="miter"/>
<text x="1706" y="885.5" font-size="15.7" text-anchor="middle">&lt;0.0001</text>
<polyline points="1699.6,870 1699.6,863 1744.3,863 1744.3,870" fill="none" stroke="#000" stroke-width="2" stroke-linejoin="round" stroke-linejoin="miter"/>
<text x="1722" y="857" font-size="15.7" text-anchor="middle">0.0032</text>
<circle cx="1767" cy="885.5" r="4.2" fill="#86c553" stroke="#1a1a1a" stroke-width="1.1"/>
<text x="1778" y="891.3" font-size="16.1">Con</text>
<circle cx="1767" cy="911.6" r="4.2" fill="#4fb1e5" stroke="#1a1a1a" stroke-width="1.1"/>
<text x="1778" y="917.4" font-size="16.1">IPA100</text>
<circle cx="1767" cy="937.7" r="4.2" fill="#e6cf4c" stroke="#1a1a1a" stroke-width="1.1"/>
<text x="1778" y="943.5" font-size="16.1">IPA1000</text>
<circle cx="1767" cy="963.8" r="4.2" fill="#e52b2b" stroke="#1a1a1a" stroke-width="1.1"/>
<text x="1778" y="969.6" font-size="16.1">CD3/CD28</text>
<circle cx="1767" cy="989.9" r="4.2" fill="#8a2fa8" stroke="#1a1a1a" stroke-width="1.1"/>
<text x="1778" y="995.7" font-size="16.1">CD3/CD28+IPA100</text>
<circle cx="1767" cy="1016" r="4.2" fill="#1d2b50" stroke="#1a1a1a" stroke-width="1.1"/>
<text x="1778" y="1021.8" font-size="16.1">CD3/CD28+IPA1000</text>
<text x="259" y="1150.2" font-size="22.5">G</text>
<rect x="321" y="1131" width="569" height="569" fill="#efefef" stroke="none" stroke-width="1" />
<text x="392" y="1152" font-size="20.6">Enrichment plot: HALLMARK_GLYCOLYSIS</text>
<rect x="400" y="1163.2" width="481.6" height="458.8" fill="#ffffff" stroke="none" stroke-width="1" />
<line x1="442.4" y1="1163.2" x2="442.4" y2="1382" stroke="#aaaaaa" stroke-width="1.2" stroke-dasharray="7,5"/>
<line x1="442.4" y1="1482" x2="442.4" y2="1622" stroke="#aaaaaa" stroke-width="1.2" stroke-dasharray="7,5"/>
<line x1="484.8" y1="1163.2" x2="484.8" y2="1382" stroke="#aaaaaa" stroke-width="1.2" stroke-dasharray="7,5"/>
<line x1="484.8" y1="1482" x2="484.8" y2="1622" stroke="#aaaaaa" stroke-width="1.2" stroke-dasharray="7,5"/>
<line x1="527.2" y1="1163.2" x2="527.2" y2="1382" stroke="#aaaaaa" stroke-width="1.2" stroke-dasharray="7,5"/>
<line x1="527.2" y1="1482" x2="527.2" y2="1622" stroke="#aaaaaa" stroke-width="1.2" stroke-dasharray="7,5"/>
<line x1="569.6" y1="1163.2" x2="569.6" y2="1382" stroke="#aaaaaa" stroke-width="1.2" stroke-dasharray="7,5"/>
<line x1="569.6" y1="1482" x2="569.6" y2="1622" stroke="#aaaaaa" stroke-width="1.2" stroke-dasharray="7,5"/>
<line x1="612" y1="1163.2" x2="612" y2="1382" stroke="#aaaaaa" stroke-width="1.2" stroke-dasharray="7,5"/>
<line x1="612" y1="1482" x2="612" y2="1622" stroke="#aaaaaa" stroke-width="1.2" stroke-dasharray="7,5"/>
<line x1="654.4" y1="1163.2" x2="654.4" y2="1382" stroke="#aaaaaa" stroke-width="1.2" stroke-dasharray="7,5"/>
<line x1="654.4" y1="1482" x2="654.4" y2="1622" stroke="#aaaaaa" stroke-width="1.2" stroke-dasharray="7,5"/>
<line x1="696.8" y1="1163.2" x2="696.8" y2="1382" stroke="#aaaaaa" stroke-width="1.2" stroke-dasharray="7,5"/>
<line x1="696.8" y1="1482" x2="696.8" y2="1622" stroke="#aaaaaa" stroke-width="1.2" stroke-dasharray="7,5"/>
<line x1="739.2" y1="1163.2" x2="739.2" y2="1382" stroke="#aaaaaa" stroke-width="1.2" stroke-dasharray="7,5"/>
<line x1="739.2" y1="1482" x2="739.2" y2="1622" stroke="#aaaaaa" stroke-width="1.2" stroke-dasharray="7,5"/>
<line x1="781.6" y1="1163.2" x2="781.6" y2="1382" stroke="#aaaaaa" stroke-width="1.2" stroke-dasharray="7,5"/>
<line x1="781.6" y1="1482" x2="781.6" y2="1622" stroke="#aaaaaa" stroke-width="1.2" stroke-dasharray="7,5"/>
<line x1="824" y1="1163.2" x2="824" y2="1382" stroke="#aaaaaa" stroke-width="1.2" stroke-dasharray="7,5"/>
<line x1="824" y1="1482" x2="824" y2="1622" stroke="#aaaaaa" stroke-width="1.2" stroke-dasharray="7,5"/>
<line x1="866.4" y1="1163.2" x2="866.4" y2="1382" stroke="#aaaaaa" stroke-width="1.2" stroke-dasharray="7,5"/>
<line x1="866.4" y1="1482" x2="866.4" y2="1622" stroke="#aaaaaa" stroke-width="1.2" stroke-dasharray="7,5"/>
<line x1="400" y1="1170.7" x2="881.6" y2="1170.7" stroke="#aaaaaa" stroke-width="1.2" stroke-dasharray="7,5"/>
<text x="392" y="1175.5" font-size="13.5" text-anchor="end" fill="#444">0.05</text>
<line x1="396" y1="1170.7" x2="400" y2="1170.7" stroke="#666" stroke-width="1" />
<line x1="400" y1="1193.2" x2="881.6" y2="1193.2" stroke="#aaaaaa" stroke-width="1.2" stroke-dasharray="7,5"/>
<text x="392" y="1198" font-size="13.5" text-anchor="end" fill="#444">0.00</text>
<line x1="396" y1="1193.2" x2="400" y2="1193.2" stroke="#666" stroke-width="1" />
<line x1="400" y1="1215.7" x2="881.6" y2="1215.7" stroke="#aaaaaa" stroke-width="1.2" stroke-dasharray="7,5"/>
<text x="392" y="1220.5" font-size="13.5" text-anchor="end" fill="#444">-0.05</text>
<line x1="396" y1="1215.7" x2="400" y2="1215.7" stroke="#666" stroke-width="1" />
<line x1="400" y1="1238.2" x2="881.6" y2="1238.2" stroke="#aaaaaa" stroke-width="1.2" stroke-dasharray="7,5"/>
<text x="392" y="1243" font-size="13.5" text-anchor="end" fill="#444">-0.10</text>
<line x1="396" y1="1238.2" x2="400" y2="1238.2" stroke="#666" stroke-width="1" />
<line x1="400" y1="1260.7" x2="881.6" y2="1260.7" stroke="#aaaaaa" stroke-width="1.2" stroke-dasharray="7,5"/>
<text x="392" y="1265.5" font-size="13.5" text-anchor="end" fill="#444">-0.15</text>
<line x1="396" y1="1260.7" x2="400" y2="1260.7" stroke="#666" stroke-width="1" />
<line x1="400" y1="1283.2" x2="881.6" y2="1283.2" stroke="#aaaaaa" stroke-width="1.2" stroke-dasharray="7,5"/>
<text x="392" y="1288" font-size="13.5" text-anchor="end" fill="#444">-0.20</text>
<line x1="396" y1="1283.2" x2="400" y2="1283.2" stroke="#666" stroke-width="1" />
<line x1="400" y1="1305.7" x2="881.6" y2="1305.7" stroke="#aaaaaa" stroke-width="1.2" stroke-dasharray="7,5"/>
<text x="392" y="1310.5" font-size="13.5" text-anchor="end" fill="#444">-0.25</text>
<line x1="396" y1="1305.7" x2="400" y2="1305.7" stroke="#666" stroke-width="1" />
<line x1="400" y1="1328.2" x2="881.6" y2="1328.2" stroke="#aaaaaa" stroke-width="1.2" stroke-dasharray="7,5"/>
<text x="392" y="1333" font-size="13.5" text-anchor="end" fill="#444">-0.30</text>
<line x1="396" y1="1328.2" x2="400" y2="1328.2" stroke="#666" stroke-width="1" />
<line x1="400" y1="1350.7" x2="881.6" y2="1350.7" stroke="#aaaaaa" stroke-width="1.2" stroke-dasharray="7,5"/>
<text x="392" y="1355.5" font-size="13.5" text-anchor="end" fill="#444">-0.35</text>
<line x1="396" y1="1350.7" x2="400" y2="1350.7" stroke="#666" stroke-width="1" />
<line x1="400" y1="1373.2" x2="881.6" y2="1373.2" stroke="#aaaaaa" stroke-width="1.2" stroke-dasharray="7,5"/>
<text x="392" y="1378" font-size="13.5" text-anchor="end" fill="#444">-0.40</text>
<line x1="396" y1="1373.2" x2="400" y2="1373.2" stroke="#666" stroke-width="1" />
<line x1="400" y1="1193.2" x2="881.6" y2="1193.2" stroke="#222" stroke-width="1.5" />
<polyline points="400.09,1192.31 402.09,1196.08 404.09,1198.12 406.09,1201.63 409.3,1186.5 411.5,1182.28 413.7,1179.89 415.9,1180.66 418.1,1176.37 420.1,1175.08 422.1,1176.62 424.1,1173.53 426.11,1173.65 428.11,1173.63 430.11,1175.5 432.11,1175.02 434.11,1178.05 436.11,1180.17 438.11,1180.37 440.11,1182.59 442.12,1183.78 444.12,1183.04 446.12,1186.98 448.12,1187.67 450.12,1187.93 452.12,1188.26 454.12,1192.56 456.12,1191.88 458.12,1193.5 460.13,1194.81 462.13,1194.95 464.13,1196.43 466.13,1195.27 468.13,1195.27 470.13,1192.52 472.13,1192.82 474.13,1191.15 476.14,1186.86 478.14,1185.54 480.14,1187.63 482.14,1192.12 484.14,1192.02 486.14,1194.51 488.14,1195.14 490.14,1197.68 492.15,1199.04 494.15,1200.72 496.15,1203.36 498.15,1205.16 500.15,1208.11 502.15,1209.11 504.15,1211.8 506.15,1213.34 508.15,1215.66 510.16,1216.35 512.16,1216.35 514.16,1220.7 516.16,1222.91 518.16,1224.52 520.16,1225.15 522.16,1227.51 524.16,1227.53 526.17,1231.6 528.17,1232.5 530.17,1233.3 532.17,1234.5 534.17,1239.35 536.17,1241.84 538.17,1240.6 540.17,1245.16 542.18,1245.76 544.18,1246.83 546.18,1249.34 548.18,1253.05 550.18,1255.43 552.18,1254.45 554.18,1258.5 556.18,1258.12 558.18,1262.21 560.19,1262.48 562.19,1266.13 564.19,1268.16 566.19,1268.11 568.19,1271.56 570.19,1270.75 572.19,1271.57 574.19,1275.12 576.2,1274.75 578.2,1277.01 580.2,1279.44 582.2,1281.83 584.2,1281.87 586.2,1283.12 588.2,1287.76 590.2,1287.44 592.21,1291.43 594.21,1292.87 596.21,1292.67 598.21,1294.64 600.21,1296.52 602.21,1298.63 604.21,1300.12 606.21,1301.66 608.21,1303.55 610.22,1306.37 612.22,1306.48 614.22,1307.87 616.22,1310.58 618.22,1310.51 620.22,1312.41 622.22,1316.51 624.22,1316.53 626.23,1318.3 628.23,1318.17 630.23,1321.42 632.23,1323.82 634.23,1323.6 636.23,1327.55 638.23,1329.41 640.23,1329.15 642.24,1332.99 644.24,1334.21 646.24,1336.78 648.24,1336.61 650.24,1338.88 652.24,1339.99 654.24,1338.42 656.24,1339.56 658.24,1342.77 660.25,1344.81 662.25,1343.24 664.25,1345.23 666.25,1346.98 668.25,1347.24 670.25,1348.65 672.25,1349.72 674.25,1351.17 676.26,1353.24 678.26,1353.43 680.26,1355.21 682.26,1358.13 684.26,1356.95 686.26,1360.4 688.26,1356.33 690.26,1350.13 692.27,1345.14 694.27,1348.44 696.27,1347.6 698.27,1348.62 700.27,1350.71 702.27,1352.86 704.27,1352.38 706.27,1354.84 708.27,1356.55 710.28,1360.02 712.28,1360.26 714.28,1363.43 716.28,1362.39 718.28,1364.42 720.28,1366.98 722.28,1369.25 724.28,1369.12 726.29,1369.74 728.29,1370.79 730.29,1369.76 732.29,1366.04 734.29,1365.76 736.29,1363.37 738.29,1359.87 740.29,1359.07 742.3,1359.83 744.3,1358.09 746.3,1357.54 748.3,1354.73 750.3,1352.81 752.3,1352.73 754.3,1353.87 756.3,1351.32 758.3,1350.93 760.31,1350.51 762.31,1349.86 764.31,1350.32 766.31,1352.66 768.31,1350.41 770.31,1350.36 772.31,1354.24 774.31,1354.51 776.32,1355.4 778.32,1353.91 780.32,1351.76 782.32,1347.68 784.32,1341.14 786.32,1339.02 788.32,1332.34 790.32,1324.72 792.33,1317.19 794.33,1309.36 796.33,1305.88 798.33,1301.8 800.33,1297.56 802.33,1295.76 804.33,1291.01 806.33,1289.22 808.34,1283.97 810.34,1284.56 812.34,1281.3 814.34,1279.63 816.34,1274.86 818.34,1270.2 820.34,1264.37 822.34,1257.67 824.34,1255.64 826.35,1248.9 828.35,1248.36 830.35,1248.67 832.35,1247.17 834.35,1245.77 836.35,1249 838.35,1249.15 840.35,1249.51 842.36,1217.17 844.36,1221.37 846.36,1221.99 848.36,1225.08 850.36,1225.54 852.36,1214.97 854.36,1206.18 856.36,1189.19 858.37,1188.86 860.37,1192.05" fill="none" stroke="#6cc43a" stroke-width="8" stroke-linejoin="round" />
<rect x="405.9" y="1386" width="3" height="70" fill="#050505" stroke="none" stroke-width="1" />
<rect x="410.3" y="1386" width="2.7" height="70" fill="#050505" stroke="none" stroke-width="1" />
<rect x="418" y="1386" width="3.9" height="70" fill="#050505" stroke="none" stroke-width="1" />
<rect x="425.1" y="1386" width="2.9" height="70" fill="#050505" stroke="none" stroke-width="1" />
<rect x="434.7" y="1386" width="3" height="70" fill="#050505" stroke="none" stroke-width="1" />
<rect x="448" y="1386" width="3" height="70" fill="#050505" stroke="none" stroke-width="1" />
<rect x="455.9" y="1386" width="2.9" height="70" fill="#050505" stroke="none" stroke-width="1" />
<rect x="463.8" y="1386" width="4.9" height="70" fill="#050505" stroke="none" stroke-width="1" />
<rect x="470.2" y="1386" width="8.8" height="70" fill="#050505" stroke="none" stroke-width="1" />
<rect x="502.3" y="1386" width="4.1" height="70" fill="#050505" stroke="none" stroke-width="1" />
<rect x="509" y="1386" width="3" height="70" fill="#050505" stroke="none" stroke-width="1" />
<rect x="526.6" y="1386" width="3" height="70" fill="#050505" stroke="none" stroke-width="1" />
<rect x="537.4" y="1386" width="3" height="70" fill="#050505" stroke="none" stroke-width="1" />
<rect x="549.3" y="1386" width="5.6" height="70" fill="#050505" stroke="none" stroke-width="1" />
<rect x="562.1" y="1386" width="4.1" height="70" fill="#050505" stroke="none" stroke-width="1" />
<rect x="568.2" y="1386" width="3.2" height="70" fill="#050505" stroke="none" stroke-width="1" />
<rect x="572.2" y="1386" width="2.9" height="70" fill="#050505" stroke="none" stroke-width="1" />
<rect x="577.3" y="1386" width="3.3" height="70" fill="#050505" stroke="none" stroke-width="1" />
<rect x="584" y="1386" width="2.5" height="70" fill="#050505" stroke="none" stroke-width="1" />
<rect x="588.9" y="1386" width="3.2" height="70" fill="#050505" stroke="none" stroke-width="1" />
<rect x="596.5" y="1386" width="4.5" height="70" fill="#050505" stroke="none" stroke-width="1" />
<rect x="606.9" y="1386" width="2.9" height="70" fill="#050505" stroke="none" stroke-width="1" />
<rect x="625.8" y="1386" width="3" height="70" fill="#050505" stroke="none" stroke-width="1" />
<rect x="638.9" y="1386" width="2.9" height="70" fill="#050505" stroke="none" stroke-width="1" />
<rect x="646.7" y="1386" width="3.3" height="70" fill="#050505" stroke="none" stroke-width="1" />
<rect x="652.9" y="1386" width="3.3" height="70" fill="#050505" stroke="none" stroke-width="1" />
<rect x="658.5" y="1386" width="7" height="70" fill="#050505" stroke="none" stroke-width="1" />
<rect x="680" y="1386" width="2.9" height="70" fill="#050505" stroke="none" stroke-width="1" />
<rect x="685.1" y="1386" width="9.5" height="70" fill="#050505" stroke="none" stroke-width="1" />
<rect x="699.5" y="1386" width="2.9" height="70" fill="#050505" stroke="none" stroke-width="1" />
<rect x="712" y="1386" width="3" height="70" fill="#050505" stroke="none" stroke-width="1" />
<rect x="728.7" y="1386" width="7" height="70" fill="#050505" stroke="none" stroke-width="1" />
<rect x="737.9" y="1386" width="7.1" height="70" fill="#050505" stroke="none" stroke-width="1" />
<rect x="747.2" y="1386" width="3.2" height="70" fill="#050505" stroke="none" stroke-width="1" />
<rect x="754.4" y="1386" width="4.5" height="70" fill="#050505" stroke="none" stroke-width="1" />
<rect x="761.2" y="1386" width="3.3" height="70" fill="#050505" stroke="none" stroke-width="1" />
<rect x="770.1" y="1386" width="2.9" height="70" fill="#050505" stroke="none" stroke-width="1" />
<rect x="776.6" y="1386" width="5.6" height="70" fill="#050505" stroke="none" stroke-width="1" />
<rect x="783.7" y="1386" width="12.1" height="70" fill="#050505" stroke="none" stroke-width="1" />
<rect x="798.5" y="1386" width="3.7" height="70" fill="#050505" stroke="none" stroke-width="1" />
<rect x="804.7" y="1386" width="3.8" height="70" fill="#050505" stroke="none" stroke-width="1" />
<rect x="813.2" y="1386" width="8.2" height="70" fill="#050505" stroke="none" stroke-width="1" />
<rect x="822.1" y="1386" width="4.4" height="70" fill="#050505" stroke="none" stroke-width="1" />
<rect x="827.3" y="1386" width="3.4" height="70" fill="#050505" stroke="none" stroke-width="1" />
<rect x="837.6" y="1386" width="7.4" height="70" fill="#050505" stroke="none" stroke-width="1" />
<rect x="850.9" y="1386" width="5.5" height="70" fill="#050505" stroke="none" stroke-width="1" />
<defs><linearGradient id="cb1" x1="0" x2="1" y1="0" y2="0"><stop offset="0" stop-color="#7474cc"/><stop offset="1" stop-color="#2c2c98"/></linearGradient></defs>
<rect x="400" y="1458.5" width="105.15" height="17" fill="#8e3036" stroke="none" stroke-width="1" />
<rect x="505.15" y="1458.5" width="49.18" height="17" fill="#8d6878" stroke="none" stroke-width="1" />
<rect x="554.34" y="1458.5" width="129.74" height="17" fill="#ecebf6" stroke="none" stroke-width="1" />
<rect x="684.08" y="1458.5" width="174.69" height="17" fill="url(#cb1)" stroke="none" stroke-width="1" />
<rect x="555.18" y="1458.5" width="0.9" height="17" fill="#222" stroke="none" stroke-width="1" opacity="0.55"/>
<rect x="557.39" y="1458.5" width="0.9" height="17" fill="#555" stroke="none" stroke-width="1" opacity="0.55"/>
<rect x="560.19" y="1458.5" width="0.9" height="17" fill="#555" stroke="none" stroke-width="1" opacity="0.55"/>
<rect x="562.48" y="1458.5" width="0.9" height="17" fill="#222" stroke="none" stroke-width="1" opacity="0.55"/>
<rect x="565.36" y="1458.5" width="0.9" height="17" fill="#555" stroke="none" stroke-width="1" opacity="0.55"/>
<rect x="567.73" y="1458.5" width="0.9" height="17" fill="#555" stroke="none" stroke-width="1" opacity="0.55"/>
<rect x="570.7" y="1458.5" width="0.9" height="17" fill="#222" stroke="none" stroke-width="1" opacity="0.55"/>
<rect x="573.16" y="1458.5" width="0.9" height="17" fill="#555" stroke="none" stroke-width="1" opacity="0.55"/>
<rect x="576.21" y="1458.5" width="0.9" height="17" fill="#555" stroke="none" stroke-width="1" opacity="0.55"/>
<rect x="578.76" y="1458.5" width="0.9" height="17" fill="#222" stroke="none" stroke-width="1" opacity="0.55"/>
<rect x="581.9" y="1458.5" width="0.9" height="17" fill="#555" stroke="none" stroke-width="1" opacity="0.55"/>
<rect x="584.52" y="1458.5" width="0.9" height="17" fill="#555" stroke="none" stroke-width="1" opacity="0.55"/>
<rect x="587.75" y="1458.5" width="0.9" height="17" fill="#222" stroke="none" stroke-width="1" opacity="0.55"/>
<rect x="590.46" y="1458.5" width="0.9" height="17" fill="#555" stroke="none" stroke-width="1" opacity="0.55"/>
<rect x="592.67" y="1458.5" width="0.9" height="17" fill="#555" stroke="none" stroke-width="1" opacity="0.55"/>
<rect x="595.46" y="1458.5" width="0.9" height="17" fill="#222" stroke="none" stroke-width="1" opacity="0.55"/>
<rect x="597.75" y="1458.5" width="0.9" height="17" fill="#555" stroke="none" stroke-width="1" opacity="0.55"/>
<rect x="600.64" y="1458.5" width="0.9" height="17" fill="#555" stroke="none" stroke-width="1" opacity="0.55"/>
<rect x="603.01" y="1458.5" width="0.9" height="17" fill="#222" stroke="none" stroke-width="1" opacity="0.55"/>
<rect x="605.98" y="1458.5" width="0.9" height="17" fill="#555" stroke="none" stroke-width="1" opacity="0.55"/>
<rect x="608.44" y="1458.5" width="0.9" height="17" fill="#555" stroke="none" stroke-width="1" opacity="0.55"/>
<rect x="611.49" y="1458.5" width="0.9" height="17" fill="#222" stroke="none" stroke-width="1" opacity="0.55"/>
<rect x="614.04" y="1458.5" width="0.9" height="17" fill="#555" stroke="none" stroke-width="1" opacity="0.55"/>
<rect x="617.17" y="1458.5" width="0.9" height="17" fill="#555" stroke="none" stroke-width="1" opacity="0.55"/>
<rect x="619.8" y="1458.5" width="0.9" height="17" fill="#222" stroke="none" stroke-width="1" opacity="0.55"/>
<rect x="623.02" y="1458.5" width="0.9" height="17" fill="#555" stroke="none" stroke-width="1" opacity="0.55"/>
<rect x="625.74" y="1458.5" width="0.9" height="17" fill="#555" stroke="none" stroke-width="1" opacity="0.55"/>
<rect x="627.94" y="1458.5" width="0.9" height="17" fill="#222" stroke="none" stroke-width="1" opacity="0.55"/>
<rect x="630.74" y="1458.5" width="0.9" height="17" fill="#555" stroke="none" stroke-width="1" opacity="0.55"/>
<rect x="633.03" y="1458.5" width="0.9" height="17" fill="#555" stroke="none" stroke-width="1" opacity="0.55"/>
<rect x="635.91" y="1458.5" width="0.9" height="17" fill="#222" stroke="none" stroke-width="1" opacity="0.55"/>
<rect x="638.29" y="1458.5" width="0.9" height="17" fill="#555" stroke="none" stroke-width="1" opacity="0.55"/>
<rect x="641.26" y="1458.5" width="0.9" height="17" fill="#555" stroke="none" stroke-width="1" opacity="0.55"/>
<rect x="643.72" y="1458.5" width="0.9" height="17" fill="#222" stroke="none" stroke-width="1" opacity="0.55"/>
<rect x="646.77" y="1458.5" width="0.9" height="17" fill="#555" stroke="none" stroke-width="1" opacity="0.55"/>
<rect x="649.31" y="1458.5" width="0.9" height="17" fill="#555" stroke="none" stroke-width="1" opacity="0.55"/>
<rect x="652.45" y="1458.5" width="0.9" height="17" fill="#222" stroke="none" stroke-width="1" opacity="0.55"/>
<rect x="655.08" y="1458.5" width="0.9" height="17" fill="#555" stroke="none" stroke-width="1" opacity="0.55"/>
<rect x="658.3" y="1458.5" width="0.9" height="17" fill="#555" stroke="none" stroke-width="1" opacity="0.55"/>
<rect x="661.01" y="1458.5" width="0.9" height="17" fill="#222" stroke="none" stroke-width="1" opacity="0.55"/>
<rect x="663.22" y="1458.5" width="0.9" height="17" fill="#555" stroke="none" stroke-width="1" opacity="0.55"/>
<rect x="666.02" y="1458.5" width="0.9" height="17" fill="#555" stroke="none" stroke-width="1" opacity="0.55"/>
<rect x="668.31" y="1458.5" width="0.9" height="17" fill="#222" stroke="none" stroke-width="1" opacity="0.55"/>
<rect x="671.19" y="1458.5" width="0.9" height="17" fill="#555" stroke="none" stroke-width="1" opacity="0.55"/>
<rect x="673.56" y="1458.5" width="0.9" height="17" fill="#555" stroke="none" stroke-width="1" opacity="0.55"/>
<rect x="676.53" y="1458.5" width="0.9" height="17" fill="#222" stroke="none" stroke-width="1" opacity="0.55"/>
<rect x="678.99" y="1458.5" width="0.9" height="17" fill="#555" stroke="none" stroke-width="1" opacity="0.55"/>
<rect x="682.04" y="1458.5" width="0.9" height="17" fill="#555" stroke="none" stroke-width="1" opacity="0.55"/>
<rect x="405.9" y="1458.5" width="1" height="17" fill="#000" stroke="none" stroke-width="1" opacity="0.4"/>
<rect x="410.3" y="1458.5" width="1" height="17" fill="#000" stroke="none" stroke-width="1" opacity="0.4"/>
<rect x="418" y="1458.5" width="1" height="17" fill="#000" stroke="none" stroke-width="1" opacity="0.4"/>
<rect x="421" y="1458.5" width="1" height="17" fill="#000" stroke="none" stroke-width="1" opacity="0.4"/>
<rect x="425.1" y="1458.5" width="1" height="17" fill="#000" stroke="none" stroke-width="1" opacity="0.4"/>
<rect x="434.7" y="1458.5" width="1" height="17" fill="#000" stroke="none" stroke-width="1" opacity="0.4"/>
<rect x="448" y="1458.5" width="1" height="17" fill="#000" stroke="none" stroke-width="1" opacity="0.4"/>
<rect x="455.9" y="1458.5" width="1" height="17" fill="#000" stroke="none" stroke-width="1" opacity="0.4"/>
<rect x="463.8" y="1458.5" width="1" height="17" fill="#000" stroke="none" stroke-width="1" opacity="0.4"/>
<rect x="466.8" y="1458.5" width="1" height="17" fill="#000" stroke="none" stroke-width="1" opacity="0.4"/>
<rect x="470.2" y="1458.5" width="1" height="17" fill="#000" stroke="none" stroke-width="1" opacity="0.4"/>
<rect x="473.2" y="1458.5" width="1" height="17" fill="#000" stroke="none" stroke-width="1" opacity="0.4"/>
<rect x="476.2" y="1458.5" width="1" height="17" fill="#000" stroke="none" stroke-width="1" opacity="0.4"/>
<rect x="502.3" y="1458.5" width="1" height="17" fill="#000" stroke="none" stroke-width="1" opacity="0.4"/>
<rect x="505.3" y="1458.5" width="1" height="17" fill="#000" stroke="none" stroke-width="1" opacity="0.4"/>
<rect x="509" y="1458.5" width="1" height="17" fill="#000" stroke="none" stroke-width="1" opacity="0.4"/>
<rect x="526.6" y="1458.5" width="1" height="17" fill="#000" stroke="none" stroke-width="1" opacity="0.4"/>
<rect x="537.4" y="1458.5" width="1" height="17" fill="#000" stroke="none" stroke-width="1" opacity="0.4"/>
<rect x="549.3" y="1458.5" width="1" height="17" fill="#000" stroke="none" stroke-width="1" opacity="0.4"/>
<rect x="552.3" y="1458.5" width="1" height="17" fill="#000" stroke="none" stroke-width="1" opacity="0.4"/>
<rect x="562.1" y="1458.5" width="1" height="17" fill="#000" stroke="none" stroke-width="1" opacity="0.4"/>
<rect x="565.1" y="1458.5" width="1" height="17" fill="#000" stroke="none" stroke-width="1" opacity="0.4"/>
<rect x="568.2" y="1458.5" width="1" height="17" fill="#000" stroke="none" stroke-width="1" opacity="0.4"/>
<rect x="571.2" y="1458.5" width="1" height="17" fill="#000" stroke="none" stroke-width="1" opacity="0.4"/>
<rect x="572.2" y="1458.5" width="1" height="17" fill="#000" stroke="none" stroke-width="1" opacity="0.4"/>
<rect x="577.3" y="1458.5" width="1" height="17" fill="#000" stroke="none" stroke-width="1" opacity="0.4"/>
<rect x="580.3" y="1458.5" width="1" height="17" fill="#000" stroke="none" stroke-width="1" opacity="0.4"/>
<rect x="584" y="1458.5" width="1" height="17" fill="#000" stroke="none" stroke-width="1" opacity="0.4"/>
<rect x="588.9" y="1458.5" width="1" height="17" fill="#000" stroke="none" stroke-width="1" opacity="0.4"/>
<rect x="591.9" y="1458.5" width="1" height="17" fill="#000" stroke="none" stroke-width="1" opacity="0.4"/>
<rect x="596.5" y="1458.5" width="1" height="17" fill="#000" stroke="none" stroke-width="1" opacity="0.4"/>
<rect x="599.5" y="1458.5" width="1" height="17" fill="#000" stroke="none" stroke-width="1" opacity="0.4"/>
<rect x="606.9" y="1458.5" width="1" height="17" fill="#000" stroke="none" stroke-width="1" opacity="0.4"/>
<rect x="625.8" y="1458.5" width="1" height="17" fill="#000" stroke="none" stroke-width="1" opacity="0.4"/>
<rect x="638.9" y="1458.5" width="1" height="17" fill="#000" stroke="none" stroke-width="1" opacity="0.4"/>
<rect x="646.7" y="1458.5" width="1" height="17" fill="#000" stroke="none" stroke-width="1" opacity="0.4"/>
<rect x="649.7" y="1458.5" width="1" height="17" fill="#000" stroke="none" stroke-width="1" opacity="0.4"/>
<rect x="652.9" y="1458.5" width="1" height="17" fill="#000" stroke="none" stroke-width="1" opacity="0.4"/>
<rect x="655.9" y="1458.5" width="1" height="17" fill="#000" stroke="none" stroke-width="1" opacity="0.4"/>
<rect x="658.5" y="1458.5" width="1" height="17" fill="#000" stroke="none" stroke-width="1" opacity="0.4"/>
<rect x="661.5" y="1458.5" width="1" height="17" fill="#000" stroke="none" stroke-width="1" opacity="0.4"/>
<rect x="664.5" y="1458.5" width="1" height="17" fill="#000" stroke="none" stroke-width="1" opacity="0.4"/>
<rect x="680" y="1458.5" width="1" height="17" fill="#000" stroke="none" stroke-width="1" opacity="0.4"/>
<rect x="685.1" y="1458.5" width="1" height="17" fill="#000" stroke="none" stroke-width="1" opacity="0.4"/>
<rect x="688.1" y="1458.5" width="1" height="17" fill="#000" stroke="none" stroke-width="1" opacity="0.4"/>
<rect x="691.1" y="1458.5" width="1" height="17" fill="#000" stroke="none" stroke-width="1" opacity="0.4"/>
<rect x="694.1" y="1458.5" width="1" height="17" fill="#000" stroke="none" stroke-width="1" opacity="0.4"/>
<rect x="699.5" y="1458.5" width="1" height="17" fill="#000" stroke="none" stroke-width="1" opacity="0.4"/>
<rect x="712" y="1458.5" width="1" height="17" fill="#000" stroke="none" stroke-width="1" opacity="0.4"/>
<rect x="728.7" y="1458.5" width="1" height="17" fill="#000" stroke="none" stroke-width="1" opacity="0.4"/>
<rect x="731.7" y="1458.5" width="1" height="17" fill="#000" stroke="none" stroke-width="1" opacity="0.4"/>
<rect x="734.7" y="1458.5" width="1" height="17" fill="#000" stroke="none" stroke-width="1" opacity="0.4"/>
<rect x="737.9" y="1458.5" width="1" height="17" fill="#000" stroke="none" stroke-width="1" opacity="0.4"/>
<rect x="740.9" y="1458.5" width="1" height="17" fill="#000" stroke="none" stroke-width="1" opacity="0.4"/>
<rect x="743.9" y="1458.5" width="1" height="17" fill="#000" stroke="none" stroke-width="1" opacity="0.4"/>
<rect x="747.2" y="1458.5" width="1" height="17" fill="#000" stroke="none" stroke-width="1" opacity="0.4"/>
<rect x="750.2" y="1458.5" width="1" height="17" fill="#000" stroke="none" stroke-width="1" opacity="0.4"/>
<rect x="754.4" y="1458.5" width="1" height="17" fill="#000" stroke="none" stroke-width="1" opacity="0.4"/>
<rect x="757.4" y="1458.5" width="1" height="17" fill="#000" stroke="none" stroke-width="1" opacity="0.4"/>
<rect x="761.2" y="1458.5" width="1" height="17" fill="#000" stroke="none" stroke-width="1" opacity="0.4"/>
<rect x="764.2" y="1458.5" width="1" height="17" fill="#000" stroke="none" stroke-width="1" opacity="0.4"/>
<rect x="770.1" y="1458.5" width="1" height="17" fill="#000" stroke="none" stroke-width="1" opacity="0.4"/>
<rect x="776.6" y="1458.5" width="1" height="17" fill="#000" stroke="none" stroke-width="1" opacity="0.4"/>
<rect x="779.6" y="1458.5" width="1" height="17" fill="#000" stroke="none" stroke-width="1" opacity="0.4"/>
<rect x="783.7" y="1458.5" width="1" height="17" fill="#000" stroke="none" stroke-width="1" opacity="0.4"/>
<rect x="786.7" y="1458.5" width="1" height="17" fill="#000" stroke="none" stroke-width="1" opacity="0.4"/>
<rect x="789.7" y="1458.5" width="1" height="17" fill="#000" stroke="none" stroke-width="1" opacity="0.4"/>
<rect x="792.7" y="1458.5" width="1" height="17" fill="#000" stroke="none" stroke-width="1" opacity="0.4"/>
<rect x="795.7" y="1458.5" width="1" height="17" fill="#000" stroke="none" stroke-width="1" opacity="0.4"/>
<rect x="798.5" y="1458.5" width="1" height="17" fill="#000" stroke="none" stroke-width="1" opacity="0.4"/>
<rect x="801.5" y="1458.5" width="1" height="17" fill="#000" stroke="none" stroke-width="1" opacity="0.4"/>
<rect x="804.7" y="1458.5" width="1" height="17" fill="#000" stroke="none" stroke-width="1" opacity="0.4"/>
<rect x="807.7" y="1458.5" width="1" height="17" fill="#000" stroke="none" stroke-width="1" opacity="0.4"/>
<rect x="813.2" y="1458.5" width="1" height="17" fill="#000" stroke="none" stroke-width="1" opacity="0.4"/>
<rect x="816.2" y="1458.5" width="1" height="17" fill="#000" stroke="none" stroke-width="1" opacity="0.4"/>
<rect x="819.2" y="1458.5" width="1" height="17" fill="#000" stroke="none" stroke-width="1" opacity="0.4"/>
<rect x="822.1" y="1458.5" width="1" height="17" fill="#000" stroke="none" stroke-width="1" opacity="0.4"/>
<rect x="825.1" y="1458.5" width="1" height="17" fill="#000" stroke="none" stroke-width="1" opacity="0.4"/>
<rect x="827.3" y="1458.5" width="1" height="17" fill="#000" stroke="none" stroke-width="1" opacity="0.4"/>
<rect x="830.3" y="1458.5" width="1" height="17" fill="#000" stroke="none" stroke-width="1" opacity="0.4"/>
<rect x="837.6" y="1458.5" width="1" height="17" fill="#000" stroke="none" stroke-width="1" opacity="0.4"/>
<rect x="840.6" y="1458.5" width="1" height="17" fill="#000" stroke="none" stroke-width="1" opacity="0.4"/>
<rect x="843.6" y="1458.5" width="1" height="17" fill="#000" stroke="none" stroke-width="1" opacity="0.4"/>
<rect x="850.9" y="1458.5" width="1" height="17" fill="#000" stroke="none" stroke-width="1" opacity="0.4"/>
<rect x="853.9" y="1458.5" width="1" height="17" fill="#000" stroke="none" stroke-width="1" opacity="0.4"/>
<line x1="400" y1="1606.7" x2="881.6" y2="1606.7" stroke="#aaaaaa" stroke-width="1.2" stroke-dasharray="7,5"/>
<text x="392" y="1611.2" font-size="12.8" text-anchor="end" fill="#444">-1</text>
<text x="392" y="1589.8" font-size="12.8" text-anchor="end" fill="#444">0</text>
<line x1="400" y1="1563.9" x2="881.6" y2="1563.9" stroke="#aaaaaa" stroke-width="1.2" stroke-dasharray="7,5"/>
<text x="392" y="1568.4" font-size="12.8" text-anchor="end" fill="#444">1</text>
<line x1="400" y1="1542.5" x2="881.6" y2="1542.5" stroke="#aaaaaa" stroke-width="1.2" stroke-dasharray="7,5"/>
<text x="392" y="1547" font-size="12.8" text-anchor="end" fill="#444">2</text>
<line x1="400" y1="1521.1" x2="881.6" y2="1521.1" stroke="#aaaaaa" stroke-width="1.2" stroke-dasharray="7,5"/>
<text x="392" y="1525.6" font-size="12.8" text-anchor="end" fill="#444">3</text>
<line x1="400" y1="1499.7" x2="881.6" y2="1499.7" stroke="#aaaaaa" stroke-width="1.2" stroke-dasharray="7,5"/>
<text x="392" y="1504.2" font-size="12.8" text-anchor="end" fill="#444">4</text>
<line x1="400" y1="1478.3" x2="881.6" y2="1478.3" stroke="#aaaaaa" stroke-width="1.2" stroke-dasharray="7,5"/>
<text x="392" y="1482.8" font-size="12.8" text-anchor="end" fill="#444">5</text>
<polygon points="400,1585.3 400,1563.9 401.7,1562.52 405.09,1567.09 408.48,1570.42 411.87,1572.87 415.26,1574.68 418.66,1576.03 422.05,1577.05 425.44,1577.84 428.83,1578.46 432.22,1578.96 435.62,1579.37 439.01,1579.72 442.4,1580.02 445.79,1580.29 449.18,1580.54 452.58,1580.76 455.97,1580.98 459.36,1581.18 462.75,1581.37 466.14,1581.56 469.54,1581.75 472.93,1581.93 476.32,1582.1 479.71,1582.28 483.1,1582.45 486.5,1582.61 489.89,1582.78 493.28,1582.94 496.67,1583.1 500.06,1583.25 503.46,1583.41 506.85,1583.56 510.24,1583.71 513.63,1583.85 517.02,1583.99 520.42,1584.13 523.81,1584.26 527.2,1584.39 530.59,1584.52 533.98,1584.64 537.38,1584.76 540.77,1584.87 544.16,1584.97 547.55,1585.07 550.94,1585.16 554.34,1585.24 557.73,1585.29 561.12,1585.31 564.51,1585.33 567.9,1585.35 571.3,1585.39 574.69,1585.42 578.08,1585.46 581.47,1585.5 584.86,1585.55 588.26,1585.6 591.65,1585.65 595.04,1585.71 598.43,1585.77 601.82,1585.83 605.22,1585.89 608.61,1585.96 612,1586.02 615.39,1586.09 618.78,1586.16 622.18,1586.24 625.57,1586.31 628.96,1586.39 632.35,1586.47 635.74,1586.55 639.14,1586.64 642.53,1586.72 645.92,1586.81 649.31,1586.9 652.7,1586.99 656.1,1587.08 659.49,1587.17 662.88,1587.27 666.27,1587.36 669.66,1587.46 673.06,1587.56 676.45,1587.66 679.84,1587.77 683.23,1587.87 686.62,1587.97 690.02,1588.08 693.41,1588.19 696.8,1588.3 700.19,1588.41 703.58,1588.52 706.98,1588.64 710.37,1588.75 713.76,1588.87 717.15,1588.98 720.54,1589.1 723.94,1589.22 727.33,1589.34 730.72,1589.47 734.11,1589.59 737.5,1589.72 740.9,1589.84 744.29,1589.97 747.68,1590.1 751.07,1590.23 754.46,1590.36 757.86,1590.49 761.25,1590.62 764.64,1590.76 768.03,1590.89 771.42,1591.03 774.82,1591.16 778.21,1591.3 781.6,1591.44 784.99,1591.58 788.38,1591.72 791.78,1591.87 795.17,1592.01 798.56,1592.16 801.95,1592.3 805.34,1592.45 808.74,1592.6 812.13,1592.75 815.52,1592.9 818.91,1593.05 822.3,1593.21 825.7,1593.37 829.09,1593.55 832.48,1593.75 835.87,1594 839.26,1594.32 842.66,1594.82 846.05,1595.62 849.44,1597.05 852.83,1599.68 856.22,1604.66 859.62,1615.26 859.62,1585.3" fill="#c8c8c8" stroke="none" stroke-width="1" />
<line x1="400" y1="1585.3" x2="859.62" y2="1585.3" stroke="#c8c8c8" stroke-width="1" />
<line x1="558.41" y1="1478" x2="558.41" y2="1622" stroke="#222" stroke-width="1.3" stroke-dasharray="9,4"/>
<text x="513.91" y="1553" font-size="10.1">Zero cross at 1868</text>
<rect x="400" y="1163.2" width="481.6" height="458.8" fill="none" stroke="#777" stroke-width="1.5" />
<line x1="400" y1="1382" x2="881.6" y2="1382" stroke="#777" stroke-width="1.5" />
<line x1="400" y1="1457" x2="881.6" y2="1457" stroke="#555" stroke-width="1.2" />
<line x1="400" y1="1476" x2="881.6" y2="1476" stroke="#555" stroke-width="1.2" />
<line x1="400" y1="1482" x2="881.6" y2="1482" stroke="#333" stroke-width="1.2" />
<line x1="400" y1="1614" x2="881.6" y2="1614" stroke="#333" stroke-width="1.2" />
<rect x="401.5" y="1477" width="152.25" height="14" fill="#ffffff" stroke="none" stroke-width="1" />
<text x="402" y="1486.5" font-size="11.5" fill="#d6333b">'CIPA2' (positively correlated)</text>
<rect x="638" y="1605" width="147" height="14" fill="#ffffff" stroke="none" stroke-width="1" />
<text x="640" y="1616" font-size="11.5" fill="#3a56b0">'CD3' (negatively correlated)</text>
<text x="400" y="1639" font-size="12" text-anchor="middle" fill="#444">0</text>
<line x1="400" y1="1622" x2="400" y2="1626" stroke="#666" stroke-width="1" />
<text x="442.4" y="1639" font-size="12" text-anchor="middle" fill="#444">500</text>
<line x1="442.4" y1="1622" x2="442.4" y2="1626" stroke="#666" stroke-width="1" />
<text x="484.8" y="1639" font-size="12" text-anchor="middle" fill="#444">1,000</text>
<line x1="484.8" y1="1622" x2="484.8" y2="1626" stroke="#666" stroke-width="1" />
<text x="527.2" y="1639" font-size="12" text-anchor="middle" fill="#444">1,500</text>
<line x1="527.2" y1="1622" x2="527.2" y2="1626" stroke="#666" stroke-width="1" />
<text x="569.6" y="1639" font-size="12" text-anchor="middle" fill="#444">2,000</text>
<line x1="569.6" y1="1622" x2="569.6" y2="1626" stroke="#666" stroke-width="1" />
<text x="612" y="1639" font-size="12" text-anchor="middle" fill="#444">2,500</text>
<line x1="612" y1="1622" x2="612" y2="1626" stroke="#666" stroke-width="1" />
<text x="654.4" y="1639" font-size="12" text-anchor="middle" fill="#444">3,000</text>
<line x1="654.4" y1="1622" x2="654.4" y2="1626" stroke="#666" stroke-width="1" />
<text x="696.8" y="1639" font-size="12" text-anchor="middle" fill="#444">3,500</text>
<line x1="696.8" y1="1622" x2="696.8" y2="1626" stroke="#666" stroke-width="1" />
<text x="739.2" y="1639" font-size="12" text-anchor="middle" fill="#444">4,000</text>
<line x1="739.2" y1="1622" x2="739.2" y2="1626" stroke="#666" stroke-width="1" />
<text x="781.6" y="1639" font-size="12" text-anchor="middle" fill="#444">4,500</text>
<line x1="781.6" y1="1622" x2="781.6" y2="1626" stroke="#666" stroke-width="1" />
<text x="824" y="1639" font-size="12" text-anchor="middle" fill="#444">5,000</text>
<line x1="824" y1="1622" x2="824" y2="1626" stroke="#666" stroke-width="1" />
<text x="866.4" y="1639" font-size="12" text-anchor="middle" fill="#444">5,500</text>
<line x1="866.4" y1="1622" x2="866.4" y2="1626" stroke="#666" stroke-width="1" />
<text x="639" y="1660" font-size="13.65" text-anchor="middle" fill="#333">Rank in Ordered Dataset</text>
<text x="350.2" y="1274" font-size="16" text-anchor="middle" fill="#333" font-weight="bold" transform="rotate(-90 350.2 1274)">Enrichment score (ES)</text>
<text x="373" y="1551" font-size="12.8" text-anchor="middle" fill="#333" font-weight="bold" transform="rotate(-90 373 1551)">Ranked list metric (Signal2Noise)</text>
<rect x="413" y="1672.8" width="386" height="25.8" fill="#ffffff" stroke="#000" stroke-width="2" />
<rect x="414.5" y="1683" width="22" height="6" fill="#6cc43a" stroke="none" stroke-width="1" />
<text x="437" y="1689.5" font-size="13.65" fill="#222">Enrichment profile</text>
<line x1="556" y1="1686" x2="574" y2="1686" stroke="#000" stroke-width="3" />
<text x="577" y="1689.5" font-size="13.65" fill="#222">Hits</text>
<line x1="608" y1="1680" x2="624" y2="1680" stroke="#222" stroke-width="1" />
<line x1="635" y1="1686" x2="653" y2="1686" stroke="#c8c8c8" stroke-width="4" />
<text x="656" y="1689.5" font-size="13.65" fill="#222">Ranking metric scores</text>
<rect x="1055" y="1130.5" width="569" height="568" fill="#efefef" stroke="none" stroke-width="1" />
<text x="1096" y="1152.5" font-size="20.45">Enrichment plot: HALLMARK_MYC_TARGETS_V1</text>
<rect x="1134.2" y="1163.6" width="480.3" height="457.4" fill="#ffffff" stroke="none" stroke-width="1" />
<line x1="1176.6" y1="1163.6" x2="1176.6" y2="1383" stroke="#aaaaaa" stroke-width="1.2" stroke-dasharray="7,5"/>
<line x1="1176.6" y1="1481" x2="1176.6" y2="1621" stroke="#aaaaaa" stroke-width="1.2" stroke-dasharray="7,5"/>
<line x1="1219" y1="1163.6" x2="1219" y2="1383" stroke="#aaaaaa" stroke-width="1.2" stroke-dasharray="7,5"/>
<line x1="1219" y1="1481" x2="1219" y2="1621" stroke="#aaaaaa" stroke-width="1.2" stroke-dasharray="7,5"/>
<line x1="1261.4" y1="1163.6" x2="1261.4" y2="1383" stroke="#aaaaaa" stroke-width="1.2" stroke-dasharray="7,5"/>
<line x1="1261.4" y1="1481" x2="1261.4" y2="1621" stroke="#aaaaaa" stroke-width="1.2" stroke-dasharray="7,5"/>
<line x1="1303.8" y1="1163.6" x2="1303.8" y2="1383" stroke="#aaaaaa" stroke-width="1.2" stroke-dasharray="7,5"/>
<line x1="1303.8" y1="1481" x2="1303.8" y2="1621" stroke="#aaaaaa" stroke-width="1.2" stroke-dasharray="7,5"/>
<line x1="1346.2" y1="1163.6" x2="1346.2" y2="1383" stroke="#aaaaaa" stroke-width="1.2" stroke-dasharray="7,5"/>
<line x1="1346.2" y1="1481" x2="1346.2" y2="1621" stroke="#aaaaaa" stroke-width="1.2" stroke-dasharray="7,5"/>
<line x1="1388.6" y1="1163.6" x2="1388.6" y2="1383" stroke="#aaaaaa" stroke-width="1.2" stroke-dasharray="7,5"/>
<line x1="1388.6" y1="1481" x2="1388.6" y2="1621" stroke="#aaaaaa" stroke-width="1.2" stroke-dasharray="7,5"/>
<line x1="1431" y1="1163.6" x2="1431" y2="1383" stroke="#aaaaaa" stroke-width="1.2" stroke-dasharray="7,5"/>
<line x1="1431" y1="1481" x2="1431" y2="1621" stroke="#aaaaaa" stroke-width="1.2" stroke-dasharray="7,5"/>
<line x1="1473.4" y1="1163.6" x2="1473.4" y2="1383" stroke="#aaaaaa" stroke-width="1.2" stroke-dasharray="7,5"/>
<line x1="1473.4" y1="1481" x2="1473.4" y2="1621" stroke="#aaaaaa" stroke-width="1.2" stroke-dasharray="7,5"/>
<line x1="1515.8" y1="1163.6" x2="1515.8" y2="1383" stroke="#aaaaaa" stroke-width="1.2" stroke-dasharray="7,5"/>
<line x1="1515.8" y1="1481" x2="1515.8" y2="1621" stroke="#aaaaaa" stroke-width="1.2" stroke-dasharray="7,5"/>
<line x1="1558.2" y1="1163.6" x2="1558.2" y2="1383" stroke="#aaaaaa" stroke-width="1.2" stroke-dasharray="7,5"/>
<line x1="1558.2" y1="1481" x2="1558.2" y2="1621" stroke="#aaaaaa" stroke-width="1.2" stroke-dasharray="7,5"/>
<line x1="1600.6" y1="1163.6" x2="1600.6" y2="1383" stroke="#aaaaaa" stroke-width="1.2" stroke-dasharray="7,5"/>
<line x1="1600.6" y1="1481" x2="1600.6" y2="1621" stroke="#aaaaaa" stroke-width="1.2" stroke-dasharray="7,5"/>
<line x1="1134.2" y1="1188.7" x2="1614.5" y2="1188.7" stroke="#aaaaaa" stroke-width="1.2" stroke-dasharray="7,5"/>
<text x="1126.2" y="1193.5" font-size="13.5" text-anchor="end" fill="#444">0.00</text>
<line x1="1130.2" y1="1188.7" x2="1134.2" y2="1188.7" stroke="#666" stroke-width="1" />
<line x1="1134.2" y1="1215.9" x2="1614.5" y2="1215.9" stroke="#aaaaaa" stroke-width="1.2" stroke-dasharray="7,5"/>
<text x="1126.2" y="1220.7" font-size="13.5" text-anchor="end" fill="#444">-0.05</text>
<line x1="1130.2" y1="1215.9" x2="1134.2" y2="1215.9" stroke="#666" stroke-width="1" />
<line x1="1134.2" y1="1243.1" x2="1614.5" y2="1243.1" stroke="#aaaaaa" stroke-width="1.2" stroke-dasharray="7,5"/>
<text x="1126.2" y="1247.9" font-size="13.5" text-anchor="end" fill="#444">-0.10</text>
<line x1="1130.2" y1="1243.1" x2="1134.2" y2="1243.1" stroke="#666" stroke-width="1" />
<line x1="1134.2" y1="1270.3" x2="1614.5" y2="1270.3" stroke="#aaaaaa" stroke-width="1.2" stroke-dasharray="7,5"/>
<text x="1126.2" y="1275.1" font-size="13.5" text-anchor="end" fill="#444">-0.15</text>
<line x1="1130.2" y1="1270.3" x2="1134.2" y2="1270.3" stroke="#666" stroke-width="1" />
<line x1="1134.2" y1="1297.5" x2="1614.5" y2="1297.5" stroke="#aaaaaa" stroke-width="1.2" stroke-dasharray="7,5"/>
<text x="1126.2" y="1302.3" font-size="13.5" text-anchor="end" fill="#444">-0.20</text>
<line x1="1130.2" y1="1297.5" x2="1134.2" y2="1297.5" stroke="#666" stroke-width="1" />
<line x1="1134.2" y1="1324.7" x2="1614.5" y2="1324.7" stroke="#aaaaaa" stroke-width="1.2" stroke-dasharray="7,5"/>
<text x="1126.2" y="1329.5" font-size="13.5" text-anchor="end" fill="#444">-0.25</text>
<line x1="1130.2" y1="1324.7" x2="1134.2" y2="1324.7" stroke="#666" stroke-width="1" />
<line x1="1134.2" y1="1351.9" x2="1614.5" y2="1351.9" stroke="#aaaaaa" stroke-width="1.2" stroke-dasharray="7,5"/>
<text x="1126.2" y="1356.7" font-size="13.5" text-anchor="end" fill="#444">-0.30</text>
<line x1="1130.2" y1="1351.9" x2="1134.2" y2="1351.9" stroke="#666" stroke-width="1" />
<line x1="1134.2" y1="1379.1" x2="1614.5" y2="1379.1" stroke="#aaaaaa" stroke-width="1.2" stroke-dasharray="7,5"/>
<text x="1126.2" y="1383.9" font-size="13.5" text-anchor="end" fill="#444">-0.35</text>
<line x1="1130.2" y1="1379.1" x2="1134.2" y2="1379.1" stroke="#666" stroke-width="1" />
<line x1="1134.2" y1="1188.7" x2="1614.5" y2="1188.7" stroke="#222" stroke-width="1.5" />
<polyline points="1134.21,1189.14 1136.98,1193.63 1139.75,1197.88 1142.52,1201.19 1145.29,1203.23 1148.07,1192.8 1150.84,1178.5 1153.3,1182.54 1155.76,1186.72 1158.23,1188.12 1161,1193.65 1163.77,1195.43 1166.54,1186.55 1169.31,1175.59 1171.53,1176.07 1173.74,1175.59 1175.96,1172.98 1178.18,1173.12 1180.39,1172.75 1182.86,1177.26 1185.32,1178.94 1187.78,1178.97 1190,1182.37 1192.21,1181.11 1194.43,1183.94 1196.65,1183.29 1198.87,1183.94 1200.92,1187.36 1202.97,1185.27 1205.02,1185.58 1207.08,1188.62 1209.13,1188.52 1211.18,1186.7 1213.23,1189.41 1215.29,1188.18 1217.34,1188.96 1219.45,1188.74 1221.56,1192.87 1223.67,1193.44 1225.78,1195.92 1227.89,1197.13 1230,1196.47 1232.12,1198.17 1234.17,1198.9 1236.22,1200.27 1238.27,1201.41 1240.33,1203.7 1242.38,1206.22 1244.43,1205.5 1246.48,1209.37 1248.54,1209.58 1250.59,1210.92 1252.64,1215 1254.69,1216.05 1256.75,1217.71 1258.8,1220.56 1260.85,1223.63 1262.9,1223.55 1264.96,1229.11 1267.01,1227.94 1269.06,1232.82 1271.08,1235.51 1273.09,1234.89 1275.11,1240.01 1277.12,1240.84 1279.14,1243.96 1281.15,1244.26 1283.17,1246.75 1285.18,1249.58 1287.2,1254.72 1289.21,1254.34 1291.23,1258.7 1293.24,1261.51 1295.26,1263.74 1297.27,1263.77 1299.29,1265.99 1301.3,1268.79 1303.32,1271.87 1305.33,1271.65 1307.35,1276.14 1309.37,1278.5 1311.38,1280.91 1313.4,1280.13 1315.45,1285.25 1317.5,1284.02 1319.55,1286.76 1321.61,1289.58 1323.66,1292.54 1325.71,1292.3 1327.76,1296.25 1329.82,1296.74 1331.87,1297.75 1333.92,1299.4 1335.97,1300.54 1338.03,1301.83 1340.08,1303.73 1342.13,1307.31 1344.18,1310.06 1346.24,1308.7 1348.29,1309.93 1350.34,1314.95 1352.39,1315.17 1354.45,1316.56 1356.5,1317.8 1358.55,1320.93 1360.6,1323.61 1362.66,1324.12 1364.71,1325.85 1366.76,1326.38 1368.81,1331.32 1370.87,1328.96 1372.92,1331.44 1374.97,1333.51 1377.02,1331.78 1379.08,1334.76 1381.13,1336.37 1383.18,1336.04 1385.23,1337.43 1387.29,1335.8 1389.34,1338 1391.39,1338 1393.44,1341.53 1395.5,1340.58 1397.55,1342.18 1399.6,1345.17 1401.65,1345.67 1403.71,1347.14 1405.76,1346.28 1407.87,1348.52 1409.98,1351.5 1412.09,1352.71 1414.2,1354.14 1416.31,1356.66 1418.43,1357.84 1420.54,1360.79 1423,1361.76 1425.46,1360.42 1427.93,1357.99 1430.04,1359.38 1432.15,1360.65 1434.26,1361.6 1436.37,1364.1 1438.48,1367.79 1440.59,1369.94 1442.7,1369.97 1444.76,1371.29 1446.81,1371.04 1448.86,1370.55 1450.91,1370.23 1452.97,1370.37 1455.02,1368.74 1457.07,1369.76 1459.12,1368.03 1461.18,1368.57 1463.29,1369.85 1465.4,1369.83 1467.51,1368.67 1469.62,1371.28 1471.73,1370.48 1473.84,1370.49 1475.96,1368.71 1478.42,1363.86 1480.88,1356.02 1483.34,1350.76 1485.56,1351.12 1487.78,1353.5 1489.99,1354 1492.21,1355.65 1494.43,1355.14 1496.64,1354.36 1498.86,1352.85 1501.08,1351.33 1503.29,1347.76 1505.51,1347.68 1507.73,1347.78 1509.94,1347.13 1512.16,1348.16 1514.38,1348.09 1516.6,1346.52 1519.06,1340.4 1521.52,1332.93 1523.98,1329.19 1526.2,1328.07 1528.42,1324.94 1530.63,1324.23 1532.85,1322.86 1535.07,1321.42 1537.53,1313.25 1539.99,1309.28 1542.46,1302.41 1544.57,1301.13 1546.68,1298.66 1548.79,1297.81 1550.9,1296.77 1553.01,1294.69 1555.12,1293.41 1557.24,1289.33 1559.7,1282.42 1562.16,1276.04 1564.62,1269.41 1566.84,1264.9 1569.06,1263.62 1571.27,1260.47 1573.49,1255.39 1575.71,1253.98 1578.48,1240.17 1581.25,1226.62 1584.94,1201.04 1587.71,1193.39 1590.49,1184.59 1592.33,1189.43" fill="none" stroke="#6cc43a" stroke-width="8" stroke-linejoin="round" />
<rect x="1144" y="1385.5" width="8.9" height="70.2" fill="#050505" stroke="none" stroke-width="1" />
<rect x="1162.1" y="1385.5" width="18" height="70.2" fill="#050505" stroke="none" stroke-width="1" />
<rect x="1181" y="1385.5" width="4" height="70.2" fill="#050505" stroke="none" stroke-width="1" />
<rect x="1192.1" y="1385.5" width="3.7" height="70.2" fill="#050505" stroke="none" stroke-width="1" />
<rect x="1198.3" y="1385.5" width="10.8" height="70.2" fill="#050505" stroke="none" stroke-width="1" />
<rect x="1210.5" y="1385.5" width="9.9" height="70.2" fill="#050505" stroke="none" stroke-width="1" />
<rect x="1221.2" y="1385.5" width="2.6" height="70.2" fill="#050505" stroke="none" stroke-width="1" />
<rect x="1225.9" y="1385.5" width="2.7" height="70.2" fill="#050505" stroke="none" stroke-width="1" />
<rect x="1230.8" y="1385.5" width="6.9" height="70.2" fill="#050505" stroke="none" stroke-width="1" />
<rect x="1240.1" y="1385.5" width="3.3" height="70.2" fill="#050505" stroke="none" stroke-width="1" />
<rect x="1244.8" y="1385.5" width="7.1" height="70.2" fill="#050505" stroke="none" stroke-width="1" />
<rect x="1254.9" y="1385.5" width="3.2" height="70.2" fill="#050505" stroke="none" stroke-width="1" />
<rect x="1258.9" y="1385.5" width="3.4" height="70.2" fill="#050505" stroke="none" stroke-width="1" />
<rect x="1262.9" y="1385.5" width="3.4" height="70.2" fill="#050505" stroke="none" stroke-width="1" />
<rect x="1267.7" y="1385.5" width="8.9" height="70.2" fill="#050505" stroke="none" stroke-width="1" />
<rect x="1278.1" y="1385.5" width="6.6" height="70.2" fill="#050505" stroke="none" stroke-width="1" />
<rect x="1288" y="1385.5" width="16" height="70.2" fill="#050505" stroke="none" stroke-width="1" />
<rect x="1305.4" y="1385.5" width="5.2" height="70.2" fill="#050505" stroke="none" stroke-width="1" />
<rect x="1312.1" y="1385.5" width="2.2" height="70.2" fill="#050505" stroke="none" stroke-width="1" />
<rect x="1315.5" y="1385.5" width="2.9" height="70.2" fill="#050505" stroke="none" stroke-width="1" />
<rect x="1319.9" y="1385.5" width="22.5" height="70.2" fill="#050505" stroke="none" stroke-width="1" />
<rect x="1343.8" y="1385.5" width="4.2" height="70.2" fill="#050505" stroke="none" stroke-width="1" />
<rect x="1349" y="1385.5" width="3" height="70.2" fill="#050505" stroke="none" stroke-width="1" />
<rect x="1356.4" y="1385.5" width="7.8" height="70.2" fill="#050505" stroke="none" stroke-width="1" />
<rect x="1369" y="1385.5" width="3.2" height="70.2" fill="#050505" stroke="none" stroke-width="1" />
<rect x="1373" y="1385.5" width="5.6" height="70.2" fill="#050505" stroke="none" stroke-width="1" />
<rect x="1379.6" y="1385.5" width="9.6" height="70.2" fill="#050505" stroke="none" stroke-width="1" />
<rect x="1392.9" y="1385.5" width="4.1" height="70.2" fill="#050505" stroke="none" stroke-width="1" />
<rect x="1398.8" y="1385.5" width="8.4" height="70.2" fill="#050505" stroke="none" stroke-width="1" />
<rect x="1419.2" y="1385.5" width="12.6" height="70.2" fill="#050505" stroke="none" stroke-width="1" />
<rect x="1439.8" y="1385.5" width="6" height="70.2" fill="#050505" stroke="none" stroke-width="1" />
<rect x="1448" y="1385.5" width="10.7" height="70.2" fill="#050505" stroke="none" stroke-width="1" />
<rect x="1459.8" y="1385.5" width="10.4" height="70.2" fill="#050505" stroke="none" stroke-width="1" />
<rect x="1472.7" y="1385.5" width="2.5" height="70.2" fill="#050505" stroke="none" stroke-width="1" />
<rect x="1476.7" y="1385.5" width="12.3" height="70.2" fill="#050505" stroke="none" stroke-width="1" />
<rect x="1493.1" y="1385.5" width="14.6" height="70.2" fill="#050505" stroke="none" stroke-width="1" />
<rect x="1508.9" y="1385.5" width="3" height="70.2" fill="#050505" stroke="none" stroke-width="1" />
<rect x="1513.3" y="1385.5" width="12.2" height="70.2" fill="#050505" stroke="none" stroke-width="1" />
<rect x="1526.9" y="1385.5" width="3.1" height="70.2" fill="#050505" stroke="none" stroke-width="1" />
<rect x="1532.3" y="1385.5" width="7.9" height="70.2" fill="#050505" stroke="none" stroke-width="1" />
<rect x="1542.6" y="1385.5" width="4.4" height="70.2" fill="#050505" stroke="none" stroke-width="1" />
<rect x="1549.1" y="1385.5" width="4.1" height="70.2" fill="#050505" stroke="none" stroke-width="1" />
<rect x="1554.4" y="1385.5" width="3.6" height="70.2" fill="#050505" stroke="none" stroke-width="1" />
<rect x="1559.2" y="1385.5" width="8.1" height="70.2" fill="#050505" stroke="none" stroke-width="1" />
<rect x="1568.3" y="1385.5" width="2.4" height="70.2" fill="#050505" stroke="none" stroke-width="1" />
<rect x="1571.9" y="1385.5" width="18.6" height="70.2" fill="#050505" stroke="none" stroke-width="1" />
<defs><linearGradient id="cb2" x1="0" x2="1" y1="0" y2="0"><stop offset="0" stop-color="#7474cc"/><stop offset="1" stop-color="#2c2c98"/></linearGradient></defs>
<rect x="1134.2" y="1458" width="105.15" height="17" fill="#8e3036" stroke="none" stroke-width="1" />
<rect x="1239.35" y="1458" width="49.18" height="17" fill="#8d6878" stroke="none" stroke-width="1" />
<rect x="1288.54" y="1458" width="129.74" height="17" fill="#ecebf6" stroke="none" stroke-width="1" />
<rect x="1418.28" y="1458" width="174.69" height="17" fill="url(#cb2)" stroke="none" stroke-width="1" />
<rect x="1289.38" y="1458" width="0.9" height="17" fill="#222" stroke="none" stroke-width="1" opacity="0.55"/>
<rect x="1291.59" y="1458" width="0.9" height="17" fill="#555" stroke="none" stroke-width="1" opacity="0.55"/>
<rect x="1294.39" y="1458" width="0.9" height="17" fill="#555" stroke="none" stroke-width="1" opacity="0.55"/>
<rect x="1296.68" y="1458" width="0.9" height="17" fill="#222" stroke="none" stroke-width="1" opacity="0.55"/>
<rect x="1299.56" y="1458" width="0.9" height="17" fill="#555" stroke="none" stroke-width="1" opacity="0.55"/>
<rect x="1301.93" y="1458" width="0.9" height="17" fill="#555" stroke="none" stroke-width="1" opacity="0.55"/>
<rect x="1304.9" y="1458" width="0.9" height="17" fill="#222" stroke="none" stroke-width="1" opacity="0.55"/>
<rect x="1307.36" y="1458" width="0.9" height="17" fill="#555" stroke="none" stroke-width="1" opacity="0.55"/>
<rect x="1310.41" y="1458" width="0.9" height="17" fill="#555" stroke="none" stroke-width="1" opacity="0.55"/>
<rect x="1312.96" y="1458" width="0.9" height="17" fill="#222" stroke="none" stroke-width="1" opacity="0.55"/>
<rect x="1316.1" y="1458" width="0.9" height="17" fill="#555" stroke="none" stroke-width="1" opacity="0.55"/>
<rect x="1318.72" y="1458" width="0.9" height="17" fill="#555" stroke="none" stroke-width="1" opacity="0.55"/>
<rect x="1321.95" y="1458" width="0.9" height="17" fill="#222" stroke="none" stroke-width="1" opacity="0.55"/>
<rect x="1324.66" y="1458" width="0.9" height="17" fill="#555" stroke="none" stroke-width="1" opacity="0.55"/>
<rect x="1326.87" y="1458" width="0.9" height="17" fill="#555" stroke="none" stroke-width="1" opacity="0.55"/>
<rect x="1329.66" y="1458" width="0.9" height="17" fill="#222" stroke="none" stroke-width="1" opacity="0.55"/>
<rect x="1331.95" y="1458" width="0.9" height="17" fill="#555" stroke="none" stroke-width="1" opacity="0.55"/>
<rect x="1334.84" y="1458" width="0.9" height="17" fill="#555" stroke="none" stroke-width="1" opacity="0.55"/>
<rect x="1337.21" y="1458" width="0.9" height="17" fill="#222" stroke="none" stroke-width="1" opacity="0.55"/>
<rect x="1340.18" y="1458" width="0.9" height="17" fill="#555" stroke="none" stroke-width="1" opacity="0.55"/>
<rect x="1342.64" y="1458" width="0.9" height="17" fill="#555" stroke="none" stroke-width="1" opacity="0.55"/>
<rect x="1345.69" y="1458" width="0.9" height="17" fill="#222" stroke="none" stroke-width="1" opacity="0.55"/>
<rect x="1348.24" y="1458" width="0.9" height="17" fill="#555" stroke="none" stroke-width="1" opacity="0.55"/>
<rect x="1351.37" y="1458" width="0.9" height="17" fill="#555" stroke="none" stroke-width="1" opacity="0.55"/>
<rect x="1354" y="1458" width="0.9" height="17" fill="#222" stroke="none" stroke-width="1" opacity="0.55"/>
<rect x="1357.22" y="1458" width="0.9" height="17" fill="#555" stroke="none" stroke-width="1" opacity="0.55"/>
<rect x="1359.94" y="1458" width="0.9" height="17" fill="#555" stroke="none" stroke-width="1" opacity="0.55"/>
<rect x="1362.14" y="1458" width="0.9" height="17" fill="#222" stroke="none" stroke-width="1" opacity="0.55"/>
<rect x="1364.94" y="1458" width="0.9" height="17" fill="#555" stroke="none" stroke-width="1" opacity="0.55"/>
<rect x="1367.23" y="1458" width="0.9" height="17" fill="#555" stroke="none" stroke-width="1" opacity="0.55"/>
<rect x="1370.11" y="1458" width="0.9" height="17" fill="#222" stroke="none" stroke-width="1" opacity="0.55"/>
<rect x="1372.49" y="1458" width="0.9" height="17" fill="#555" stroke="none" stroke-width="1" opacity="0.55"/>
<rect x="1375.46" y="1458" width="0.9" height="17" fill="#555" stroke="none" stroke-width="1" opacity="0.55"/>
<rect x="1377.92" y="1458" width="0.9" height="17" fill="#222" stroke="none" stroke-width="1" opacity="0.55"/>
<rect x="1380.97" y="1458" width="0.9" height="17" fill="#555" stroke="none" stroke-width="1" opacity="0.55"/>
<rect x="1383.51" y="1458" width="0.9" height="17" fill="#555" stroke="none" stroke-width="1" opacity="0.55"/>
<rect x="1386.65" y="1458" width="0.9" height="17" fill="#222" stroke="none" stroke-width="1" opacity="0.55"/>
<rect x="1389.28" y="1458" width="0.9" height="17" fill="#555" stroke="none" stroke-width="1" opacity="0.55"/>
<rect x="1392.5" y="1458" width="0.9" height="17" fill="#555" stroke="none" stroke-width="1" opacity="0.55"/>
<rect x="1395.21" y="1458" width="0.9" height="17" fill="#222" stroke="none" stroke-width="1" opacity="0.55"/>
<rect x="1397.42" y="1458" width="0.9" height="17" fill="#555" stroke="none" stroke-width="1" opacity="0.55"/>
<rect x="1400.22" y="1458" width="0.9" height="17" fill="#555" stroke="none" stroke-width="1" opacity="0.55"/>
<rect x="1402.51" y="1458" width="0.9" height="17" fill="#222" stroke="none" stroke-width="1" opacity="0.55"/>
<rect x="1405.39" y="1458" width="0.9" height="17" fill="#555" stroke="none" stroke-width="1" opacity="0.55"/>
<rect x="1407.76" y="1458" width="0.9" height="17" fill="#555" stroke="none" stroke-width="1" opacity="0.55"/>
<rect x="1410.73" y="1458" width="0.9" height="17" fill="#222" stroke="none" stroke-width="1" opacity="0.55"/>
<rect x="1413.19" y="1458" width="0.9" height="17" fill="#555" stroke="none" stroke-width="1" opacity="0.55"/>
<rect x="1416.24" y="1458" width="0.9" height="17" fill="#555" stroke="none" stroke-width="1" opacity="0.55"/>
<rect x="1144" y="1458" width="1" height="17" fill="#000" stroke="none" stroke-width="1" opacity="0.4"/>
<rect x="1147" y="1458" width="1" height="17" fill="#000" stroke="none" stroke-width="1" opacity="0.4"/>
<rect x="1150" y="1458" width="1" height="17" fill="#000" stroke="none" stroke-width="1" opacity="0.4"/>
<rect x="1162.1" y="1458" width="1" height="17" fill="#000" stroke="none" stroke-width="1" opacity="0.4"/>
<rect x="1165.1" y="1458" width="1" height="17" fill="#000" stroke="none" stroke-width="1" opacity="0.4"/>
<rect x="1168.1" y="1458" width="1" height="17" fill="#000" stroke="none" stroke-width="1" opacity="0.4"/>
<rect x="1171.1" y="1458" width="1" height="17" fill="#000" stroke="none" stroke-width="1" opacity="0.4"/>
<rect x="1174.1" y="1458" width="1" height="17" fill="#000" stroke="none" stroke-width="1" opacity="0.4"/>
<rect x="1177.1" y="1458" width="1" height="17" fill="#000" stroke="none" stroke-width="1" opacity="0.4"/>
<rect x="1181" y="1458" width="1" height="17" fill="#000" stroke="none" stroke-width="1" opacity="0.4"/>
<rect x="1184" y="1458" width="1" height="17" fill="#000" stroke="none" stroke-width="1" opacity="0.4"/>
<rect x="1192.1" y="1458" width="1" height="17" fill="#000" stroke="none" stroke-width="1" opacity="0.4"/>
<rect x="1195.1" y="1458" width="1" height="17" fill="#000" stroke="none" stroke-width="1" opacity="0.4"/>
<rect x="1198.3" y="1458" width="1" height="17" fill="#000" stroke="none" stroke-width="1" opacity="0.4"/>
<rect x="1201.3" y="1458" width="1" height="17" fill="#000" stroke="none" stroke-width="1" opacity="0.4"/>
<rect x="1204.3" y="1458" width="1" height="17" fill="#000" stroke="none" stroke-width="1" opacity="0.4"/>
<rect x="1207.3" y="1458" width="1" height="17" fill="#000" stroke="none" stroke-width="1" opacity="0.4"/>
<rect x="1210.5" y="1458" width="1" height="17" fill="#000" stroke="none" stroke-width="1" opacity="0.4"/>
<rect x="1213.5" y="1458" width="1" height="17" fill="#000" stroke="none" stroke-width="1" opacity="0.4"/>
<rect x="1216.5" y="1458" width="1" height="17" fill="#000" stroke="none" stroke-width="1" opacity="0.4"/>
<rect x="1219.5" y="1458" width="1" height="17" fill="#000" stroke="none" stroke-width="1" opacity="0.4"/>
<rect x="1221.2" y="1458" width="1" height="17" fill="#000" stroke="none" stroke-width="1" opacity="0.4"/>
<rect x="1225.9" y="1458" width="1" height="17" fill="#000" stroke="none" stroke-width="1" opacity="0.4"/>
<rect x="1230.8" y="1458" width="1" height="17" fill="#000" stroke="none" stroke-width="1" opacity="0.4"/>
<rect x="1233.8" y="1458" width="1" height="17" fill="#000" stroke="none" stroke-width="1" opacity="0.4"/>
<rect x="1236.8" y="1458" width="1" height="17" fill="#000" stroke="none" stroke-width="1" opacity="0.4"/>
<rect x="1240.1" y="1458" width="1" height="17" fill="#000" stroke="none" stroke-width="1" opacity="0.4"/>
<rect x="1243.1" y="1458" width="1" height="17" fill="#000" stroke="none" stroke-width="1" opacity="0.4"/>
<rect x="1244.8" y="1458" width="1" height="17" fill="#000" stroke="none" stroke-width="1" opacity="0.4"/>
<rect x="1247.8" y="1458" width="1" height="17" fill="#000" stroke="none" stroke-width="1" opacity="0.4"/>
<rect x="1250.8" y="1458" width="1" height="17" fill="#000" stroke="none" stroke-width="1" opacity="0.4"/>
<rect x="1254.9" y="1458" width="1" height="17" fill="#000" stroke="none" stroke-width="1" opacity="0.4"/>
<rect x="1257.9" y="1458" width="1" height="17" fill="#000" stroke="none" stroke-width="1" opacity="0.4"/>
<rect x="1258.9" y="1458" width="1" height="17" fill="#000" stroke="none" stroke-width="1" opacity="0.4"/>
<rect x="1261.9" y="1458" width="1" height="17" fill="#000" stroke="none" stroke-width="1" opacity="0.4"/>
<rect x="1262.9" y="1458" width="1" height="17" fill="#000" stroke="none" stroke-width="1" opacity="0.4"/>
<rect x="1265.9" y="1458" width="1" height="17" fill="#000" stroke="none" stroke-width="1" opacity="0.4"/>
<rect x="1267.7" y="1458" width="1" height="17" fill="#000" stroke="none" stroke-width="1" opacity="0.4"/>
<rect x="1270.7" y="1458" width="1" height="17" fill="#000" stroke="none" stroke-width="1" opacity="0.4"/>
<rect x="1273.7" y="1458" width="1" height="17" fill="#000" stroke="none" stroke-width="1" opacity="0.4"/>
<rect x="1278.1" y="1458" width="1" height="17" fill="#000" stroke="none" stroke-width="1" opacity="0.4"/>
<rect x="1281.1" y="1458" width="1" height="17" fill="#000" stroke="none" stroke-width="1" opacity="0.4"/>
<rect x="1284.1" y="1458" width="1" height="17" fill="#000" stroke="none" stroke-width="1" opacity="0.4"/>
<rect x="1288" y="1458" width="1" height="17" fill="#000" stroke="none" stroke-width="1" opacity="0.4"/>
<rect x="1291" y="1458" width="1" height="17" fill="#000" stroke="none" stroke-width="1" opacity="0.4"/>
<rect x="1294" y="1458" width="1" height="17" fill="#000" stroke="none" stroke-width="1" opacity="0.4"/>
<rect x="1297" y="1458" width="1" height="17" fill="#000" stroke="none" stroke-width="1" opacity="0.4"/>
<rect x="1300" y="1458" width="1" height="17" fill="#000" stroke="none" stroke-width="1" opacity="0.4"/>
<rect x="1303" y="1458" width="1" height="17" fill="#000" stroke="none" stroke-width="1" opacity="0.4"/>
<rect x="1305.4" y="1458" width="1" height="17" fill="#000" stroke="none" stroke-width="1" opacity="0.4"/>
<rect x="1308.4" y="1458" width="1" height="17" fill="#000" stroke="none" stroke-width="1" opacity="0.4"/>
<rect x="1312.1" y="1458" width="1" height="17" fill="#000" stroke="none" stroke-width="1" opacity="0.4"/>
<rect x="1315.5" y="1458" width="1" height="17" fill="#000" stroke="none" stroke-width="1" opacity="0.4"/>
<rect x="1319.9" y="1458" width="1" height="17" fill="#000" stroke="none" stroke-width="1" opacity="0.4"/>
<rect x="1322.9" y="1458" width="1" height="17" fill="#000" stroke="none" stroke-width="1" opacity="0.4"/>
<rect x="1325.9" y="1458" width="1" height="17" fill="#000" stroke="none" stroke-width="1" opacity="0.4"/>
<rect x="1328.9" y="1458" width="1" height="17" fill="#000" stroke="none" stroke-width="1" opacity="0.4"/>
<rect x="1331.9" y="1458" width="1" height="17" fill="#000" stroke="none" stroke-width="1" opacity="0.4"/>
<rect x="1334.9" y="1458" width="1" height="17" fill="#000" stroke="none" stroke-width="1" opacity="0.4"/>
<rect x="1337.9" y="1458" width="1" height="17" fill="#000" stroke="none" stroke-width="1" opacity="0.4"/>
<rect x="1340.9" y="1458" width="1" height="17" fill="#000" stroke="none" stroke-width="1" opacity="0.4"/>
<rect x="1343.8" y="1458" width="1" height="17" fill="#000" stroke="none" stroke-width="1" opacity="0.4"/>
<rect x="1346.8" y="1458" width="1" height="17" fill="#000" stroke="none" stroke-width="1" opacity="0.4"/>
<rect x="1349" y="1458" width="1" height="17" fill="#000" stroke="none" stroke-width="1" opacity="0.4"/>
<rect x="1356.4" y="1458" width="1" height="17" fill="#000" stroke="none" stroke-width="1" opacity="0.4"/>
<rect x="1359.4" y="1458" width="1" height="17" fill="#000" stroke="none" stroke-width="1" opacity="0.4"/>
<rect x="1362.4" y="1458" width="1" height="17" fill="#000" stroke="none" stroke-width="1" opacity="0.4"/>
<rect x="1369" y="1458" width="1" height="17" fill="#000" stroke="none" stroke-width="1" opacity="0.4"/>
<rect x="1372" y="1458" width="1" height="17" fill="#000" stroke="none" stroke-width="1" opacity="0.4"/>
<rect x="1373" y="1458" width="1" height="17" fill="#000" stroke="none" stroke-width="1" opacity="0.4"/>
<rect x="1376" y="1458" width="1" height="17" fill="#000" stroke="none" stroke-width="1" opacity="0.4"/>
<rect x="1379.6" y="1458" width="1" height="17" fill="#000" stroke="none" stroke-width="1" opacity="0.4"/>
<rect x="1382.6" y="1458" width="1" height="17" fill="#000" stroke="none" stroke-width="1" opacity="0.4"/>
<rect x="1385.6" y="1458" width="1" height="17" fill="#000" stroke="none" stroke-width="1" opacity="0.4"/>
<rect x="1388.6" y="1458" width="1" height="17" fill="#000" stroke="none" stroke-width="1" opacity="0.4"/>
<rect x="1392.9" y="1458" width="1" height="17" fill="#000" stroke="none" stroke-width="1" opacity="0.4"/>
<rect x="1395.9" y="1458" width="1" height="17" fill="#000" stroke="none" stroke-width="1" opacity="0.4"/>
<rect x="1398.8" y="1458" width="1" height="17" fill="#000" stroke="none" stroke-width="1" opacity="0.4"/>
<rect x="1401.8" y="1458" width="1" height="17" fill="#000" stroke="none" stroke-width="1" opacity="0.4"/>
<rect x="1404.8" y="1458" width="1" height="17" fill="#000" stroke="none" stroke-width="1" opacity="0.4"/>
<rect x="1419.2" y="1458" width="1" height="17" fill="#000" stroke="none" stroke-width="1" opacity="0.4"/>
<rect x="1422.2" y="1458" width="1" height="17" fill="#000" stroke="none" stroke-width="1" opacity="0.4"/>
<rect x="1425.2" y="1458" width="1" height="17" fill="#000" stroke="none" stroke-width="1" opacity="0.4"/>
<rect x="1428.2" y="1458" width="1" height="17" fill="#000" stroke="none" stroke-width="1" opacity="0.4"/>
<rect x="1431.2" y="1458" width="1" height="17" fill="#000" stroke="none" stroke-width="1" opacity="0.4"/>
<rect x="1439.8" y="1458" width="1" height="17" fill="#000" stroke="none" stroke-width="1" opacity="0.4"/>
<rect x="1442.8" y="1458" width="1" height="17" fill="#000" stroke="none" stroke-width="1" opacity="0.4"/>
<rect x="1448" y="1458" width="1" height="17" fill="#000" stroke="none" stroke-width="1" opacity="0.4"/>
<rect x="1451" y="1458" width="1" height="17" fill="#000" stroke="none" stroke-width="1" opacity="0.4"/>
<rect x="1454" y="1458" width="1" height="17" fill="#000" stroke="none" stroke-width="1" opacity="0.4"/>
<rect x="1457" y="1458" width="1" height="17" fill="#000" stroke="none" stroke-width="1" opacity="0.4"/>
<rect x="1459.8" y="1458" width="1" height="17" fill="#000" stroke="none" stroke-width="1" opacity="0.4"/>
<rect x="1462.8" y="1458" width="1" height="17" fill="#000" stroke="none" stroke-width="1" opacity="0.4"/>
<rect x="1465.8" y="1458" width="1" height="17" fill="#000" stroke="none" stroke-width="1" opacity="0.4"/>
<rect x="1468.8" y="1458" width="1" height="17" fill="#000" stroke="none" stroke-width="1" opacity="0.4"/>
<rect x="1472.7" y="1458" width="1" height="17" fill="#000" stroke="none" stroke-width="1" opacity="0.4"/>
<rect x="1476.7" y="1458" width="1" height="17" fill="#000" stroke="none" stroke-width="1" opacity="0.4"/>
<rect x="1479.7" y="1458" width="1" height="17" fill="#000" stroke="none" stroke-width="1" opacity="0.4"/>
<rect x="1482.7" y="1458" width="1" height="17" fill="#000" stroke="none" stroke-width="1" opacity="0.4"/>
<rect x="1485.7" y="1458" width="1" height="17" fill="#000" stroke="none" stroke-width="1" opacity="0.4"/>
<rect x="1488.7" y="1458" width="1" height="17" fill="#000" stroke="none" stroke-width="1" opacity="0.4"/>
<rect x="1493.1" y="1458" width="1" height="17" fill="#000" stroke="none" stroke-width="1" opacity="0.4"/>
<rect x="1496.1" y="1458" width="1" height="17" fill="#000" stroke="none" stroke-width="1" opacity="0.4"/>
<rect x="1499.1" y="1458" width="1" height="17" fill="#000" stroke="none" stroke-width="1" opacity="0.4"/>
<rect x="1502.1" y="1458" width="1" height="17" fill="#000" stroke="none" stroke-width="1" opacity="0.4"/>
<rect x="1505.1" y="1458" width="1" height="17" fill="#000" stroke="none" stroke-width="1" opacity="0.4"/>
<rect x="1508.9" y="1458" width="1" height="17" fill="#000" stroke="none" stroke-width="1" opacity="0.4"/>
<rect x="1513.3" y="1458" width="1" height="17" fill="#000" stroke="none" stroke-width="1" opacity="0.4"/>
<rect x="1516.3" y="1458" width="1" height="17" fill="#000" stroke="none" stroke-width="1" opacity="0.4"/>
<rect x="1519.3" y="1458" width="1" height="17" fill="#000" stroke="none" stroke-width="1" opacity="0.4"/>
<rect x="1522.3" y="1458" width="1" height="17" fill="#000" stroke="none" stroke-width="1" opacity="0.4"/>
<rect x="1525.3" y="1458" width="1" height="17" fill="#000" stroke="none" stroke-width="1" opacity="0.4"/>
<rect x="1526.9" y="1458" width="1" height="17" fill="#000" stroke="none" stroke-width="1" opacity="0.4"/>
<rect x="1529.9" y="1458" width="1" height="17" fill="#000" stroke="none" stroke-width="1" opacity="0.4"/>
<rect x="1532.3" y="1458" width="1" height="17" fill="#000" stroke="none" stroke-width="1" opacity="0.4"/>
<rect x="1535.3" y="1458" width="1" height="17" fill="#000" stroke="none" stroke-width="1" opacity="0.4"/>
<rect x="1538.3" y="1458" width="1" height="17" fill="#000" stroke="none" stroke-width="1" opacity="0.4"/>
<rect x="1542.6" y="1458" width="1" height="17" fill="#000" stroke="none" stroke-width="1" opacity="0.4"/>
<rect x="1545.6" y="1458" width="1" height="17" fill="#000" stroke="none" stroke-width="1" opacity="0.4"/>
<rect x="1549.1" y="1458" width="1" height="17" fill="#000" stroke="none" stroke-width="1" opacity="0.4"/>
<rect x="1552.1" y="1458" width="1" height="17" fill="#000" stroke="none" stroke-width="1" opacity="0.4"/>
<rect x="1554.4" y="1458" width="1" height="17" fill="#000" stroke="none" stroke-width="1" opacity="0.4"/>
<rect x="1557.4" y="1458" width="1" height="17" fill="#000" stroke="none" stroke-width="1" opacity="0.4"/>
<rect x="1559.2" y="1458" width="1" height="17" fill="#000" stroke="none" stroke-width="1" opacity="0.4"/>
<rect x="1562.2" y="1458" width="1" height="17" fill="#000" stroke="none" stroke-width="1" opacity="0.4"/>
<rect x="1565.2" y="1458" width="1" height="17" fill="#000" stroke="none" stroke-width="1" opacity="0.4"/>
<rect x="1568.3" y="1458" width="1" height="17" fill="#000" stroke="none" stroke-width="1" opacity="0.4"/>
<rect x="1571.9" y="1458" width="1" height="17" fill="#000" stroke="none" stroke-width="1" opacity="0.4"/>
<rect x="1574.9" y="1458" width="1" height="17" fill="#000" stroke="none" stroke-width="1" opacity="0.4"/>
<rect x="1577.9" y="1458" width="1" height="17" fill="#000" stroke="none" stroke-width="1" opacity="0.4"/>
<rect x="1580.9" y="1458" width="1" height="17" fill="#000" stroke="none" stroke-width="1" opacity="0.4"/>
<rect x="1583.9" y="1458" width="1" height="17" fill="#000" stroke="none" stroke-width="1" opacity="0.4"/>
<rect x="1586.9" y="1458" width="1" height="17" fill="#000" stroke="none" stroke-width="1" opacity="0.4"/>
<rect x="1589.9" y="1458" width="1" height="17" fill="#000" stroke="none" stroke-width="1" opacity="0.4"/>
<line x1="1134.2" y1="1606.3" x2="1614.5" y2="1606.3" stroke="#aaaaaa" stroke-width="1.2" stroke-dasharray="7,5"/>
<text x="1126.2" y="1610.8" font-size="12.8" text-anchor="end" fill="#444">-1</text>
<text x="1126.2" y="1589.5" font-size="12.8" text-anchor="end" fill="#444">0</text>
<line x1="1134.2" y1="1563.7" x2="1614.5" y2="1563.7" stroke="#aaaaaa" stroke-width="1.2" stroke-dasharray="7,5"/>
<text x="1126.2" y="1568.2" font-size="12.8" text-anchor="end" fill="#444">1</text>
<line x1="1134.2" y1="1542.4" x2="1614.5" y2="1542.4" stroke="#aaaaaa" stroke-width="1.2" stroke-dasharray="7,5"/>
<text x="1126.2" y="1546.9" font-size="12.8" text-anchor="end" fill="#444">2</text>
<line x1="1134.2" y1="1521.1" x2="1614.5" y2="1521.1" stroke="#aaaaaa" stroke-width="1.2" stroke-dasharray="7,5"/>
<text x="1126.2" y="1525.6" font-size="12.8" text-anchor="end" fill="#444">3</text>
<line x1="1134.2" y1="1499.8" x2="1614.5" y2="1499.8" stroke="#aaaaaa" stroke-width="1.2" stroke-dasharray="7,5"/>
<text x="1126.2" y="1504.3" font-size="12.8" text-anchor="end" fill="#444">4</text>
<line x1="1134.2" y1="1478.5" x2="1614.5" y2="1478.5" stroke="#aaaaaa" stroke-width="1.2" stroke-dasharray="7,5"/>
<text x="1126.2" y="1483" font-size="12.8" text-anchor="end" fill="#444">5</text>
<polygon points="1134.2,1585 1134.2,1563.7 1135.9,1562.32 1139.29,1566.87 1142.68,1570.19 1146.07,1572.63 1149.46,1574.43 1152.86,1575.77 1156.25,1576.79 1159.64,1577.58 1163.03,1578.19 1166.42,1578.69 1169.82,1579.1 1173.21,1579.45 1176.6,1579.75 1179.99,1580.01 1183.38,1580.26 1186.78,1580.48 1190.17,1580.7 1193.56,1580.9 1196.95,1581.09 1200.34,1581.28 1203.74,1581.46 1207.13,1581.64 1210.52,1581.82 1213.91,1581.99 1217.3,1582.16 1220.7,1582.33 1224.09,1582.49 1227.48,1582.65 1230.87,1582.81 1234.26,1582.96 1237.66,1583.12 1241.05,1583.27 1244.44,1583.41 1247.83,1583.56 1251.22,1583.7 1254.62,1583.83 1258.01,1583.97 1261.4,1584.1 1264.79,1584.22 1268.18,1584.34 1271.58,1584.46 1274.97,1584.57 1278.36,1584.67 1281.75,1584.77 1285.14,1584.86 1288.54,1584.94 1291.93,1584.99 1295.32,1585.01 1298.71,1585.03 1302.1,1585.05 1305.5,1585.08 1308.89,1585.12 1312.28,1585.16 1315.67,1585.2 1319.06,1585.25 1322.46,1585.3 1325.85,1585.35 1329.24,1585.41 1332.63,1585.46 1336.02,1585.52 1339.42,1585.59 1342.81,1585.65 1346.2,1585.72 1349.59,1585.79 1352.98,1585.86 1356.38,1585.93 1359.77,1586.01 1363.16,1586.09 1366.55,1586.17 1369.94,1586.25 1373.34,1586.33 1376.73,1586.41 1380.12,1586.5 1383.51,1586.59 1386.9,1586.68 1390.3,1586.77 1393.69,1586.86 1397.08,1586.96 1400.47,1587.05 1403.86,1587.15 1407.26,1587.25 1410.65,1587.35 1414.04,1587.45 1417.43,1587.56 1420.82,1587.66 1424.22,1587.77 1427.61,1587.88 1431,1587.99 1434.39,1588.1 1437.78,1588.21 1441.18,1588.32 1444.57,1588.43 1447.96,1588.55 1451.35,1588.67 1454.74,1588.79 1458.14,1588.9 1461.53,1589.03 1464.92,1589.15 1468.31,1589.27 1471.7,1589.39 1475.1,1589.52 1478.49,1589.65 1481.88,1589.77 1485.27,1589.9 1488.66,1590.03 1492.06,1590.16 1495.45,1590.3 1498.84,1590.43 1502.23,1590.56 1505.62,1590.7 1509.02,1590.84 1512.41,1590.97 1515.8,1591.11 1519.19,1591.25 1522.58,1591.39 1525.98,1591.54 1529.37,1591.68 1532.76,1591.82 1536.15,1591.97 1539.54,1592.12 1542.94,1592.26 1546.33,1592.41 1549.72,1592.56 1553.11,1592.72 1556.5,1592.87 1559.9,1593.04 1563.29,1593.21 1566.68,1593.41 1570.07,1593.65 1573.46,1593.98 1576.86,1594.47 1580.25,1595.28 1583.64,1596.7 1587.03,1599.32 1590.42,1604.27 1593.82,1614.82 1593.82,1585" fill="#c8c8c8" stroke="none" stroke-width="1" />
<line x1="1134.2" y1="1585" x2="1593.82" y2="1585" stroke="#c8c8c8" stroke-width="1" />
<line x1="1292.61" y1="1477" x2="1292.61" y2="1621" stroke="#222" stroke-width="1.3" stroke-dasharray="9,4"/>
<text x="1248.11" y="1552" font-size="10.1">Zero cross at 1868</text>
<rect x="1134.2" y="1163.6" width="480.3" height="457.4" fill="none" stroke="#777" stroke-width="1.5" />
<line x1="1134.2" y1="1383" x2="1614.5" y2="1383" stroke="#777" stroke-width="1.5" />
<line x1="1134.2" y1="1456.5" x2="1614.5" y2="1456.5" stroke="#555" stroke-width="1.2" />
<line x1="1134.2" y1="1475.5" x2="1614.5" y2="1475.5" stroke="#555" stroke-width="1.2" />
<line x1="1134.2" y1="1481" x2="1614.5" y2="1481" stroke="#333" stroke-width="1.2" />
<line x1="1134.2" y1="1613" x2="1614.5" y2="1613" stroke="#333" stroke-width="1.2" />
<rect x="1135.7" y="1476" width="152.25" height="14" fill="#ffffff" stroke="none" stroke-width="1" />
<text x="1136.2" y="1485.5" font-size="11.5" fill="#d6333b">'CIPA2' (positively correlated)</text>
<rect x="1372" y="1604" width="147" height="14" fill="#ffffff" stroke="none" stroke-width="1" />
<text x="1374" y="1615" font-size="11.5" fill="#3a56b0">'CD3' (negatively correlated)</text>
<text x="1134.2" y="1638" font-size="12" text-anchor="middle" fill="#444">0</text>
<line x1="1134.2" y1="1621" x2="1134.2" y2="1625" stroke="#666" stroke-width="1" />
<text x="1176.6" y="1638" font-size="12" text-anchor="middle" fill="#444">500</text>
<line x1="1176.6" y1="1621" x2="1176.6" y2="1625" stroke="#666" stroke-width="1" />
<text x="1219" y="1638" font-size="12" text-anchor="middle" fill="#444">1,000</text>
<line x1="1219" y1="1621" x2="1219" y2="1625" stroke="#666" stroke-width="1" />
<text x="1261.4" y="1638" font-size="12" text-anchor="middle" fill="#444">1,500</text>
<line x1="1261.4" y1="1621" x2="1261.4" y2="1625" stroke="#666" stroke-width="1" />
<text x="1303.8" y="1638" font-size="12" text-anchor="middle" fill="#444">2,000</text>
<line x1="1303.8" y1="1621" x2="1303.8" y2="1625" stroke="#666" stroke-width="1" />
<text x="1346.2" y="1638" font-size="12" text-anchor="middle" fill="#444">2,500</text>
<line x1="1346.2" y1="1621" x2="1346.2" y2="1625" stroke="#666" stroke-width="1" />
<text x="1388.6" y="1638" font-size="12" text-anchor="middle" fill="#444">3,000</text>
<line x1="1388.6" y1="1621" x2="1388.6" y2="1625" stroke="#666" stroke-width="1" />
<text x="1431" y="1638" font-size="12" text-anchor="middle" fill="#444">3,500</text>
<line x1="1431" y1="1621" x2="1431" y2="1625" stroke="#666" stroke-width="1" />
<text x="1473.4" y="1638" font-size="12" text-anchor="middle" fill="#444">4,000</text>
<line x1="1473.4" y1="1621" x2="1473.4" y2="1625" stroke="#666" stroke-width="1" />
<text x="1515.8" y="1638" font-size="12" text-anchor="middle" fill="#444">4,500</text>
<line x1="1515.8" y1="1621" x2="1515.8" y2="1625" stroke="#666" stroke-width="1" />
<text x="1558.2" y="1638" font-size="12" text-anchor="middle" fill="#444">5,000</text>
<line x1="1558.2" y1="1621" x2="1558.2" y2="1625" stroke="#666" stroke-width="1" />
<text x="1600.6" y="1638" font-size="12" text-anchor="middle" fill="#444">5,500</text>
<line x1="1600.6" y1="1621" x2="1600.6" y2="1625" stroke="#666" stroke-width="1" />
<text x="1373" y="1657.5" font-size="13.65" text-anchor="middle" fill="#333">Rank in Ordered Dataset</text>
<text x="1084" y="1274" font-size="16" text-anchor="middle" fill="#333" font-weight="bold" transform="rotate(-90 1084 1274)">Enrichment score (ES)</text>
<text x="1107.5" y="1550.5" font-size="12.8" text-anchor="middle" fill="#333" font-weight="bold" transform="rotate(-90 1107.5 1550.5)">Ranked list metric (Signal2Noise)</text>
<rect x="1147" y="1671.8" width="385" height="25.5" fill="#ffffff" stroke="#000" stroke-width="2" />
<rect x="1148.5" y="1681.85" width="22" height="6" fill="#6cc43a" stroke="none" stroke-width="1" />
<text x="1171" y="1688.35" font-size="13.65" fill="#222">Enrichment profile</text>
<line x1="1290" y1="1684.85" x2="1308" y2="1684.85" stroke="#000" stroke-width="3" />
<text x="1311" y="1688.35" font-size="13.65" fill="#222">Hits</text>
<line x1="1342" y1="1678.85" x2="1358" y2="1678.85" stroke="#222" stroke-width="1" />
<line x1="1369" y1="1684.85" x2="1387" y2="1684.85" stroke="#c8c8c8" stroke-width="4" />
<text x="1390" y="1688.35" font-size="13.65" fill="#222">Ranking metric scores</text>
<text x="21.5" y="1744.2" font-size="22.5">H</text>
<text x="158" y="1744" font-size="22.9">Mitochondrial Respiration</text>
<line x1="74" y1="1767" x2="98" y2="1767" stroke="#6cb545" stroke-width="2.8" />
<rect x="81.5" y="1762.5" width="9" height="9" fill="#6cb545" stroke="none" stroke-width="1" />
<text x="111" y="1772.87" font-size="16.3">Con</text>
<line x1="74" y1="1799" x2="98" y2="1799" stroke="#3a6cc0" stroke-width="2.8" />
<polygon points="86,1804.58 80.6,1795.22 91.4,1795.22" fill="#3a6cc0" stroke="none" stroke-width="1" />
<text x="111" y="1804.87" font-size="16.3">GW501516</text>
<line x1="300" y1="1767" x2="324" y2="1767" stroke="#e4262b" stroke-width="2.8" />
<polygon points="312,1761.42 306.6,1770.78 317.4,1770.78" fill="#e4262b" stroke="none" stroke-width="1" />
<text x="336" y="1773.44" font-size="17.9">CD3/CD28</text>
<line x1="300" y1="1799" x2="324" y2="1799" stroke="#7b3fb0" stroke-width="2.8" />
<polygon points="312,1793.42 316.5,1799 312,1804.58 307.5,1799" fill="#7b3fb0" stroke="none" stroke-width="1" />
<text x="336" y="1805.44" font-size="17.9">CD3/CD28+GW501516</text>
<line x1="173.4" y1="1837.8" x2="173.4" y2="2154" stroke="#111" stroke-width="1.3" stroke-dasharray="3,2"/>
<line x1="289.7" y1="1837.8" x2="289.7" y2="2154" stroke="#111" stroke-width="1.3" stroke-dasharray="3,2"/>
<line x1="406.2" y1="1837.8" x2="406.2" y2="2154" stroke="#111" stroke-width="1.3" stroke-dasharray="3,2"/>
<text x="173.4" y="1833" font-size="16.3" text-anchor="middle">Oligo</text>
<text x="290" y="1833" font-size="16.3" text-anchor="middle">FCCP</text>
<text x="406.2" y="1833" font-size="16.3" text-anchor="middle">Rot/AA</text>
<polyline points="78.12,2050.71 116.96,2057.03 156.09,2059.14 195.81,2119.22 234.65,2122.38 274.65,2118.16 314.07,2118.16 352.92,2118.16 392.34,2107.62 432.34,2128.7 471.77,2130.81 510.61,2131.87" fill="none" stroke="#3a6cc0" stroke-width="1.6" stroke-linejoin="round" />
<line x1="78.12" y1="2047.55" x2="78.12" y2="2053.87" stroke="#3a6cc0" stroke-width="1.8" />
<line x1="74.12" y1="2047.55" x2="82.12" y2="2047.55" stroke="#3a6cc0" stroke-width="1.8" />
<line x1="74.12" y1="2053.87" x2="82.12" y2="2053.87" stroke="#3a6cc0" stroke-width="1.8" />
<line x1="116.96" y1="2053.87" x2="116.96" y2="2060.19" stroke="#3a6cc0" stroke-width="1.8" />
<line x1="112.96" y1="2053.87" x2="120.96" y2="2053.87" stroke="#3a6cc0" stroke-width="1.8" />
<line x1="112.96" y1="2060.19" x2="120.96" y2="2060.19" stroke="#3a6cc0" stroke-width="1.8" />
<line x1="156.09" y1="2055.98" x2="156.09" y2="2062.3" stroke="#3a6cc0" stroke-width="1.8" />
<line x1="152.09" y1="2055.98" x2="160.09" y2="2055.98" stroke="#3a6cc0" stroke-width="1.8" />
<line x1="152.09" y1="2062.3" x2="160.09" y2="2062.3" stroke="#3a6cc0" stroke-width="1.8" />
<line x1="195.81" y1="2116.06" x2="195.81" y2="2122.38" stroke="#3a6cc0" stroke-width="1.8" />
<line x1="191.81" y1="2116.06" x2="199.81" y2="2116.06" stroke="#3a6cc0" stroke-width="1.8" />
<line x1="191.81" y1="2122.38" x2="199.81" y2="2122.38" stroke="#3a6cc0" stroke-width="1.8" />
<line x1="234.65" y1="2119.22" x2="234.65" y2="2125.54" stroke="#3a6cc0" stroke-width="1.8" />
<line x1="230.65" y1="2119.22" x2="238.65" y2="2119.22" stroke="#3a6cc0" stroke-width="1.8" />
<line x1="230.65" y1="2125.54" x2="238.65" y2="2125.54" stroke="#3a6cc0" stroke-width="1.8" />
<line x1="274.65" y1="2115" x2="274.65" y2="2121.33" stroke="#3a6cc0" stroke-width="1.8" />
<line x1="270.65" y1="2115" x2="278.65" y2="2115" stroke="#3a6cc0" stroke-width="1.8" />
<line x1="270.65" y1="2121.33" x2="278.65" y2="2121.33" stroke="#3a6cc0" stroke-width="1.8" />
<line x1="314.07" y1="2115" x2="314.07" y2="2121.33" stroke="#3a6cc0" stroke-width="1.8" />
<line x1="310.07" y1="2115" x2="318.07" y2="2115" stroke="#3a6cc0" stroke-width="1.8" />
<line x1="310.07" y1="2121.33" x2="318.07" y2="2121.33" stroke="#3a6cc0" stroke-width="1.8" />
<line x1="352.92" y1="2115" x2="352.92" y2="2121.33" stroke="#3a6cc0" stroke-width="1.8" />
<line x1="348.92" y1="2115" x2="356.92" y2="2115" stroke="#3a6cc0" stroke-width="1.8" />
<line x1="348.92" y1="2121.33" x2="356.92" y2="2121.33" stroke="#3a6cc0" stroke-width="1.8" />
<line x1="392.34" y1="2104.46" x2="392.34" y2="2110.79" stroke="#3a6cc0" stroke-width="1.8" />
<line x1="388.34" y1="2104.46" x2="396.34" y2="2104.46" stroke="#3a6cc0" stroke-width="1.8" />
<line x1="388.34" y1="2110.79" x2="396.34" y2="2110.79" stroke="#3a6cc0" stroke-width="1.8" />
<line x1="432.34" y1="2125.54" x2="432.34" y2="2131.87" stroke="#3a6cc0" stroke-width="1.8" />
<line x1="428.34" y1="2125.54" x2="436.34" y2="2125.54" stroke="#3a6cc0" stroke-width="1.8" />
<line x1="428.34" y1="2131.87" x2="436.34" y2="2131.87" stroke="#3a6cc0" stroke-width="1.8" />
<line x1="471.77" y1="2127.65" x2="471.77" y2="2133.97" stroke="#3a6cc0" stroke-width="1.8" />
<line x1="467.77" y1="2127.65" x2="475.77" y2="2127.65" stroke="#3a6cc0" stroke-width="1.8" />
<line x1="467.77" y1="2133.97" x2="475.77" y2="2133.97" stroke="#3a6cc0" stroke-width="1.8" />
<line x1="510.61" y1="2128.7" x2="510.61" y2="2135.03" stroke="#3a6cc0" stroke-width="1.8" />
<line x1="506.61" y1="2128.7" x2="514.61" y2="2128.7" stroke="#3a6cc0" stroke-width="1.8" />
<line x1="506.61" y1="2135.03" x2="514.61" y2="2135.03" stroke="#3a6cc0" stroke-width="1.8" />
<polygon points="78.12,2056.91 72.12,2046.51 84.12,2046.51" fill="#3a6cc0" stroke="none" stroke-width="1" />
<polygon points="116.96,2063.23 110.96,2052.83 122.96,2052.83" fill="#3a6cc0" stroke="none" stroke-width="1" />
<polygon points="156.09,2065.34 150.09,2054.94 162.09,2054.94" fill="#3a6cc0" stroke="none" stroke-width="1" />
<polygon points="195.81,2125.42 189.81,2115.02 201.81,2115.02" fill="#3a6cc0" stroke="none" stroke-width="1" />
<polygon points="234.65,2128.58 228.65,2118.18 240.65,2118.18" fill="#3a6cc0" stroke="none" stroke-width="1" />
<polygon points="274.65,2124.36 268.65,2113.96 280.65,2113.96" fill="#3a6cc0" stroke="none" stroke-width="1" />
<polygon points="314.07,2124.36 308.07,2113.96 320.07,2113.96" fill="#3a6cc0" stroke="none" stroke-width="1" />
<polygon points="352.92,2124.36 346.92,2113.96 358.92,2113.96" fill="#3a6cc0" stroke="none" stroke-width="1" />
<polygon points="392.34,2113.82 386.34,2103.42 398.34,2103.42" fill="#3a6cc0" stroke="none" stroke-width="1" />
<polygon points="432.34,2134.9 426.34,2124.5 438.34,2124.5" fill="#3a6cc0" stroke="none" stroke-width="1" />
<polygon points="471.77,2137.01 465.77,2126.61 477.77,2126.61" fill="#3a6cc0" stroke="none" stroke-width="1" />
<polygon points="510.61,2138.07 504.61,2127.67 516.61,2127.67" fill="#3a6cc0" stroke="none" stroke-width="1" />
<polyline points="78.12,2055.98 116.96,2059.14 156.09,2061.25 195.81,2121.33 234.65,2122.38 274.65,2120.27 314.07,2106.57 352.92,2109.73 392.34,2105.52 432.34,2129.76 471.77,2132.92 510.61,2132.92" fill="none" stroke="#6cb545" stroke-width="2.2" stroke-linejoin="round" />
<rect x="73.12" y="2050.98" width="10" height="10" fill="#6cb545" stroke="none" stroke-width="1" />
<rect x="111.96" y="2054.14" width="10" height="10" fill="#6cb545" stroke="none" stroke-width="1" />
<rect x="151.09" y="2056.25" width="10" height="10" fill="#6cb545" stroke="none" stroke-width="1" />
<rect x="190.81" y="2116.33" width="10" height="10" fill="#6cb545" stroke="none" stroke-width="1" />
<rect x="229.65" y="2117.38" width="10" height="10" fill="#6cb545" stroke="none" stroke-width="1" />
<rect x="269.65" y="2115.27" width="10" height="10" fill="#6cb545" stroke="none" stroke-width="1" />
<rect x="309.07" y="2101.57" width="10" height="10" fill="#6cb545" stroke="none" stroke-width="1" />
<rect x="347.92" y="2104.73" width="10" height="10" fill="#6cb545" stroke="none" stroke-width="1" />
<rect x="387.34" y="2100.52" width="10" height="10" fill="#6cb545" stroke="none" stroke-width="1" />
<rect x="427.34" y="2124.76" width="10" height="10" fill="#6cb545" stroke="none" stroke-width="1" />
<rect x="466.77" y="2127.92" width="10" height="10" fill="#6cb545" stroke="none" stroke-width="1" />
<rect x="505.61" y="2127.92" width="10" height="10" fill="#6cb545" stroke="none" stroke-width="1" />
<polyline points="78.12,2021.2 116.96,2029.63 156.09,2029.63 195.81,2106.57 234.65,2108.68 274.65,2101.3 314.07,1910.53 352.92,1953.74 392.34,1953.74 432.34,2110.79 471.77,2118.16 510.61,2122.38" fill="none" stroke="#e4262b" stroke-width="2.2" stroke-linejoin="round" />
<line x1="78.12" y1="2012.76" x2="78.12" y2="2029.63" stroke="#e4262b" stroke-width="1.8" />
<line x1="74.12" y1="2012.76" x2="82.12" y2="2012.76" stroke="#e4262b" stroke-width="1.8" />
<line x1="74.12" y1="2029.63" x2="82.12" y2="2029.63" stroke="#e4262b" stroke-width="1.8" />
<line x1="116.96" y1="2023.3" x2="116.96" y2="2035.95" stroke="#e4262b" stroke-width="1.8" />
<line x1="112.96" y1="2023.3" x2="120.96" y2="2023.3" stroke="#e4262b" stroke-width="1.8" />
<line x1="112.96" y1="2035.95" x2="120.96" y2="2035.95" stroke="#e4262b" stroke-width="1.8" />
<line x1="156.09" y1="2023.3" x2="156.09" y2="2035.95" stroke="#e4262b" stroke-width="1.8" />
<line x1="152.09" y1="2023.3" x2="160.09" y2="2023.3" stroke="#e4262b" stroke-width="1.8" />
<line x1="152.09" y1="2035.95" x2="160.09" y2="2035.95" stroke="#e4262b" stroke-width="1.8" />
<line x1="314.07" y1="1887.34" x2="314.07" y2="1933.71" stroke="#e4262b" stroke-width="1.8" />
<line x1="310.07" y1="1887.34" x2="318.07" y2="1887.34" stroke="#e4262b" stroke-width="1.8" />
<line x1="310.07" y1="1933.71" x2="318.07" y2="1933.71" stroke="#e4262b" stroke-width="1.8" />
<line x1="352.92" y1="1943.2" x2="352.92" y2="1964.28" stroke="#e4262b" stroke-width="1.8" />
<line x1="348.92" y1="1943.2" x2="356.92" y2="1943.2" stroke="#e4262b" stroke-width="1.8" />
<line x1="348.92" y1="1964.28" x2="356.92" y2="1964.28" stroke="#e4262b" stroke-width="1.8" />
<line x1="392.34" y1="1943.2" x2="392.34" y2="1964.28" stroke="#e4262b" stroke-width="1.8" />
<line x1="388.34" y1="1943.2" x2="396.34" y2="1943.2" stroke="#e4262b" stroke-width="1.8" />
<line x1="388.34" y1="1964.28" x2="396.34" y2="1964.28" stroke="#e4262b" stroke-width="1.8" />
<polygon points="78.12,2015 72.12,2025.4 84.12,2025.4" fill="#e4262b" stroke="none" stroke-width="1" />
<polygon points="116.96,2023.43 110.96,2033.83 122.96,2033.83" fill="#e4262b" stroke="none" stroke-width="1" />
<polygon points="156.09,2023.43 150.09,2033.83 162.09,2033.83" fill="#e4262b" stroke="none" stroke-width="1" />
<polygon points="195.81,2100.37 189.81,2110.77 201.81,2110.77" fill="#e4262b" stroke="none" stroke-width="1" />
<polygon points="234.65,2102.48 228.65,2112.88 240.65,2112.88" fill="#e4262b" stroke="none" stroke-width="1" />
<polygon points="274.65,2095.1 268.65,2105.5 280.65,2105.5" fill="#e4262b" stroke="none" stroke-width="1" />
<polygon points="314.07,1904.33 308.07,1914.73 320.07,1914.73" fill="#e4262b" stroke="none" stroke-width="1" />
<polygon points="352.92,1947.54 346.92,1957.94 358.92,1957.94" fill="#e4262b" stroke="none" stroke-width="1" />
<polygon points="392.34,1947.54 386.34,1957.94 398.34,1957.94" fill="#e4262b" stroke="none" stroke-width="1" />
<polygon points="432.34,2104.59 426.34,2114.99 438.34,2114.99" fill="#e4262b" stroke="none" stroke-width="1" />
<polygon points="471.77,2111.96 465.77,2122.36 477.77,2122.36" fill="#e4262b" stroke="none" stroke-width="1" />
<polygon points="510.61,2116.18 504.61,2126.58 516.61,2126.58" fill="#e4262b" stroke="none" stroke-width="1" />
<polyline points="78.12,1979.04 116.96,1990.63 156.09,1990.63 195.81,2097.08 234.65,2098.14 274.65,2083.38 314.07,1863.1 352.92,1903.15 392.34,1905.26 432.34,2102.35 471.77,2109.73 510.61,2112.89" fill="none" stroke="#7b3fb0" stroke-width="2.2" stroke-linejoin="round" />
<line x1="78.12" y1="1975.87" x2="78.12" y2="1982.2" stroke="#7b3fb0" stroke-width="1.8" />
<line x1="74.12" y1="1975.87" x2="82.12" y2="1975.87" stroke="#7b3fb0" stroke-width="1.8" />
<line x1="74.12" y1="1982.2" x2="82.12" y2="1982.2" stroke="#7b3fb0" stroke-width="1.8" />
<line x1="352.92" y1="1895.77" x2="352.92" y2="1910.53" stroke="#7b3fb0" stroke-width="1.8" />
<line x1="348.92" y1="1895.77" x2="356.92" y2="1895.77" stroke="#7b3fb0" stroke-width="1.8" />
<line x1="348.92" y1="1910.53" x2="356.92" y2="1910.53" stroke="#7b3fb0" stroke-width="1.8" />
<line x1="392.34" y1="1897.88" x2="392.34" y2="1912.63" stroke="#7b3fb0" stroke-width="1.8" />
<line x1="388.34" y1="1897.88" x2="396.34" y2="1897.88" stroke="#7b3fb0" stroke-width="1.8" />
<line x1="388.34" y1="1912.63" x2="396.34" y2="1912.63" stroke="#7b3fb0" stroke-width="1.8" />
<polygon points="78.12,1972.84 83.12,1979.04 78.12,1985.24 73.12,1979.04" fill="#7b3fb0" stroke="none" stroke-width="1" />
<polygon points="116.96,1984.43 121.96,1990.63 116.96,1996.83 111.96,1990.63" fill="#7b3fb0" stroke="none" stroke-width="1" />
<polygon points="156.09,1984.43 161.09,1990.63 156.09,1996.83 151.09,1990.63" fill="#7b3fb0" stroke="none" stroke-width="1" />
<polygon points="195.81,2090.88 200.81,2097.08 195.81,2103.28 190.81,2097.08" fill="#7b3fb0" stroke="none" stroke-width="1" />
<polygon points="234.65,2091.94 239.65,2098.14 234.65,2104.34 229.65,2098.14" fill="#7b3fb0" stroke="none" stroke-width="1" />
<polygon points="274.65,2077.18 279.65,2083.38 274.65,2089.58 269.65,2083.38" fill="#7b3fb0" stroke="none" stroke-width="1" />
<polygon points="314.07,1856.9 319.07,1863.1 314.07,1869.3 309.07,1863.1" fill="#7b3fb0" stroke="none" stroke-width="1" />
<polygon points="352.92,1896.95 357.92,1903.15 352.92,1909.35 347.92,1903.15" fill="#7b3fb0" stroke="none" stroke-width="1" />
<polygon points="392.34,1899.06 397.34,1905.26 392.34,1911.46 387.34,1905.26" fill="#7b3fb0" stroke="none" stroke-width="1" />
<polygon points="432.34,2096.15 437.34,2102.35 432.34,2108.55 427.34,2102.35" fill="#7b3fb0" stroke="none" stroke-width="1" />
<polygon points="471.77,2103.53 476.77,2109.73 471.77,2115.93 466.77,2109.73" fill="#7b3fb0" stroke="none" stroke-width="1" />
<polygon points="510.61,2106.69 515.61,2112.89 510.61,2119.09 505.61,2112.89" fill="#7b3fb0" stroke="none" stroke-width="1" />
<line x1="70" y1="1836.8" x2="70" y2="2155.1" stroke="#000" stroke-width="2.2" />
<line x1="68.9" y1="2154" x2="534.8" y2="2154" stroke="#000" stroke-width="2.2" />
<line x1="60.5" y1="2154" x2="70" y2="2154" stroke="#000" stroke-width="1.98" />
<text x="58.5" y="2159.76" font-size="16" text-anchor="end">0</text>
<line x1="60.5" y1="2048.6" x2="70" y2="2048.6" stroke="#000" stroke-width="1.98" />
<text x="58.5" y="2054.36" font-size="16" text-anchor="end">1</text>
<line x1="60.5" y1="1943.2" x2="70" y2="1943.2" stroke="#000" stroke-width="1.98" />
<text x="58.5" y="1948.96" font-size="16" text-anchor="end">2</text>
<line x1="60.5" y1="1837.8" x2="70" y2="1837.8" stroke="#000" stroke-width="1.98" />
<text x="58.5" y="1843.56" font-size="16" text-anchor="end">3</text>
<line x1="70" y1="2154" x2="70" y2="2163.5" stroke="#000" stroke-width="1.98" />
<line x1="81.59" y1="2154" x2="81.59" y2="2159.7" stroke="#000" stroke-width="1.98" />
<line x1="93.19" y1="2154" x2="93.19" y2="2159.7" stroke="#000" stroke-width="1.98" />
<line x1="104.78" y1="2154" x2="104.78" y2="2159.7" stroke="#000" stroke-width="1.98" />
<line x1="116.38" y1="2154" x2="116.38" y2="2159.7" stroke="#000" stroke-width="1.98" />
<line x1="127.97" y1="2154" x2="127.97" y2="2159.7" stroke="#000" stroke-width="1.98" />
<line x1="139.57" y1="2154" x2="139.57" y2="2159.7" stroke="#000" stroke-width="1.98" />
<line x1="151.16" y1="2154" x2="151.16" y2="2159.7" stroke="#000" stroke-width="1.98" />
<line x1="162.76" y1="2154" x2="162.76" y2="2159.7" stroke="#000" stroke-width="1.98" />
<line x1="174.35" y1="2154" x2="174.35" y2="2159.7" stroke="#000" stroke-width="1.98" />
<line x1="185.95" y1="2154" x2="185.95" y2="2163.5" stroke="#000" stroke-width="1.98" />
<line x1="197.54" y1="2154" x2="197.54" y2="2159.7" stroke="#000" stroke-width="1.98" />
<line x1="209.14" y1="2154" x2="209.14" y2="2159.7" stroke="#000" stroke-width="1.98" />
<line x1="220.73" y1="2154" x2="220.73" y2="2159.7" stroke="#000" stroke-width="1.98" />
<line x1="232.33" y1="2154" x2="232.33" y2="2159.7" stroke="#000" stroke-width="1.98" />
<line x1="243.92" y1="2154" x2="243.92" y2="2159.7" stroke="#000" stroke-width="1.98" />
<line x1="255.52" y1="2154" x2="255.52" y2="2159.7" stroke="#000" stroke-width="1.98" />
<line x1="267.12" y1="2154" x2="267.12" y2="2159.7" stroke="#000" stroke-width="1.98" />
<line x1="278.71" y1="2154" x2="278.71" y2="2159.7" stroke="#000" stroke-width="1.98" />
<line x1="290.3" y1="2154" x2="290.3" y2="2159.7" stroke="#000" stroke-width="1.98" />
<line x1="301.9" y1="2154" x2="301.9" y2="2163.5" stroke="#000" stroke-width="1.98" />
<line x1="313.5" y1="2154" x2="313.5" y2="2159.7" stroke="#000" stroke-width="1.98" />
<line x1="325.09" y1="2154" x2="325.09" y2="2159.7" stroke="#000" stroke-width="1.98" />
<line x1="336.69" y1="2154" x2="336.69" y2="2159.7" stroke="#000" stroke-width="1.98" />
<line x1="348.28" y1="2154" x2="348.28" y2="2159.7" stroke="#000" stroke-width="1.98" />
<line x1="359.87" y1="2154" x2="359.87" y2="2159.7" stroke="#000" stroke-width="1.98" />
<line x1="371.47" y1="2154" x2="371.47" y2="2159.7" stroke="#000" stroke-width="1.98" />
<line x1="383.06" y1="2154" x2="383.06" y2="2159.7" stroke="#000" stroke-width="1.98" />
<line x1="394.66" y1="2154" x2="394.66" y2="2159.7" stroke="#000" stroke-width="1.98" />
<line x1="406.25" y1="2154" x2="406.25" y2="2159.7" stroke="#000" stroke-width="1.98" />
<line x1="417.85" y1="2154" x2="417.85" y2="2163.5" stroke="#000" stroke-width="1.98" />
<line x1="429.44" y1="2154" x2="429.44" y2="2159.7" stroke="#000" stroke-width="1.98" />
<line x1="441.04" y1="2154" x2="441.04" y2="2159.7" stroke="#000" stroke-width="1.98" />
<line x1="452.63" y1="2154" x2="452.63" y2="2159.7" stroke="#000" stroke-width="1.98" />
<line x1="464.23" y1="2154" x2="464.23" y2="2159.7" stroke="#000" stroke-width="1.98" />
<line x1="475.82" y1="2154" x2="475.82" y2="2159.7" stroke="#000" stroke-width="1.98" />
<line x1="487.42" y1="2154" x2="487.42" y2="2159.7" stroke="#000" stroke-width="1.98" />
<line x1="499.01" y1="2154" x2="499.01" y2="2159.7" stroke="#000" stroke-width="1.98" />
<line x1="510.61" y1="2154" x2="510.61" y2="2159.7" stroke="#000" stroke-width="1.98" />
<line x1="522.2" y1="2154" x2="522.2" y2="2159.7" stroke="#000" stroke-width="1.98" />
<line x1="533.8" y1="2154" x2="533.8" y2="2163.5" stroke="#000" stroke-width="1.98" />
<text x="70" y="2179" font-size="16" text-anchor="middle">0</text>
<text x="185.95" y="2179" font-size="16" text-anchor="middle">20</text>
<text x="301.9" y="2179" font-size="16" text-anchor="middle">40</text>
<text x="417.85" y="2179" font-size="16" text-anchor="middle">60</text>
<text x="533.8" y="2179" font-size="16" text-anchor="middle">80</text>
<text x="303.2" y="2204.5" font-size="19.9" text-anchor="middle">Time (minutes)</text>
<text x="34" y="1996" font-size="16.3" text-anchor="middle" transform="rotate(-90 34 1996)">OCR (pmol/min/1000 cells)</text>
<text x="694.5" y="1744" font-size="22.9">Mitochondrial Respiration</text>
<line x1="591" y1="1767" x2="614" y2="1767" stroke="#6cb545" stroke-width="2.8" />
<rect x="598" y="1762.5" width="9" height="9" fill="#6cb545" stroke="none" stroke-width="1" />
<text x="627.2" y="1772.9" font-size="16.4">GSK-Con</text>
<line x1="591" y1="1799" x2="614" y2="1799" stroke="#3a6cc0" stroke-width="2.8" />
<polygon points="602.5,1804.58 597.1,1795.22 607.9,1795.22" fill="#3a6cc0" stroke="none" stroke-width="1" />
<text x="627.2" y="1804.9" font-size="16.4">GSK-GW501516</text>
<line x1="816.6" y1="1767" x2="839.6" y2="1767" stroke="#e4262b" stroke-width="2.8" />
<polygon points="828.1,1761.42 822.7,1770.78 833.5,1770.78" fill="#e4262b" stroke="none" stroke-width="1" />
<text x="852.8" y="1772.9" font-size="16.4">GSK-CD3/CD28</text>
<line x1="816.6" y1="1799" x2="839.6" y2="1799" stroke="#7b3fb0" stroke-width="2.8" />
<polygon points="828.1,1793.42 832.6,1799 828.1,1804.58 823.6,1799" fill="#7b3fb0" stroke="none" stroke-width="1" />
<text x="852.8" y="1804.9" font-size="16.4">GSK-CD3/CD28+GW501516</text>
<line x1="713" y1="1841.9" x2="713" y2="2153.5" stroke="#111" stroke-width="1.3" stroke-dasharray="3,2"/>
<line x1="828.6" y1="1841.9" x2="828.6" y2="2153.5" stroke="#111" stroke-width="1.3" stroke-dasharray="3,2"/>
<line x1="944.5" y1="1841.9" x2="944.5" y2="2153.5" stroke="#111" stroke-width="1.3" stroke-dasharray="3,2"/>
<text x="710.7" y="1834" font-size="16.3" text-anchor="middle">Oligo</text>
<text x="826" y="1834" font-size="16.3" text-anchor="middle">FCCP</text>
<text x="942" y="1834" font-size="16.3" text-anchor="middle">Rot/AA</text>
<polyline points="622.06,2086.12 660.63,2090.4 699.48,2091.96 738.91,2131.69 777.48,2133.48 817.2,2132.47 856.34,2132.47 894.9,2131.69 934.05,2127.79 973.77,2135.58 1012.91,2140.26 1051.47,2142.59" fill="none" stroke="#6cb545" stroke-width="2.2" stroke-linejoin="round" />
<rect x="617.06" y="2081.12" width="10" height="10" fill="#6cb545" stroke="none" stroke-width="1" />
<rect x="655.63" y="2085.4" width="10" height="10" fill="#6cb545" stroke="none" stroke-width="1" />
<rect x="694.48" y="2086.96" width="10" height="10" fill="#6cb545" stroke="none" stroke-width="1" />
<rect x="733.91" y="2126.69" width="10" height="10" fill="#6cb545" stroke="none" stroke-width="1" />
<rect x="772.48" y="2128.48" width="10" height="10" fill="#6cb545" stroke="none" stroke-width="1" />
<rect x="812.2" y="2127.47" width="10" height="10" fill="#6cb545" stroke="none" stroke-width="1" />
<rect x="851.34" y="2127.47" width="10" height="10" fill="#6cb545" stroke="none" stroke-width="1" />
<rect x="889.9" y="2126.69" width="10" height="10" fill="#6cb545" stroke="none" stroke-width="1" />
<rect x="929.05" y="2122.79" width="10" height="10" fill="#6cb545" stroke="none" stroke-width="1" />
<rect x="968.77" y="2130.58" width="10" height="10" fill="#6cb545" stroke="none" stroke-width="1" />
<rect x="1007.91" y="2135.26" width="10" height="10" fill="#6cb545" stroke="none" stroke-width="1" />
<rect x="1046.47" y="2137.59" width="10" height="10" fill="#6cb545" stroke="none" stroke-width="1" />
<polyline points="622.06,2067.81 660.63,2074.04 699.48,2074.04 738.91,2128.57 777.48,2129.35 817.2,2124.68 856.34,2122.34 894.9,2122.34 934.05,2116.11 973.77,2131.69 1012.91,2135.19 1051.47,2137.14" fill="none" stroke="#3a6cc0" stroke-width="1.6" stroke-linejoin="round" />
<line x1="622.06" y1="2061.58" x2="622.06" y2="2074.04" stroke="#3a6cc0" stroke-width="1.8" />
<line x1="618.06" y1="2061.58" x2="626.06" y2="2061.58" stroke="#3a6cc0" stroke-width="1.8" />
<line x1="618.06" y1="2074.04" x2="626.06" y2="2074.04" stroke="#3a6cc0" stroke-width="1.8" />
<line x1="660.63" y1="2067.81" x2="660.63" y2="2080.27" stroke="#3a6cc0" stroke-width="1.8" />
<line x1="656.63" y1="2067.81" x2="664.63" y2="2067.81" stroke="#3a6cc0" stroke-width="1.8" />
<line x1="656.63" y1="2080.27" x2="664.63" y2="2080.27" stroke="#3a6cc0" stroke-width="1.8" />
<line x1="699.48" y1="2067.81" x2="699.48" y2="2080.27" stroke="#3a6cc0" stroke-width="1.8" />
<line x1="695.48" y1="2067.81" x2="703.48" y2="2067.81" stroke="#3a6cc0" stroke-width="1.8" />
<line x1="695.48" y1="2080.27" x2="703.48" y2="2080.27" stroke="#3a6cc0" stroke-width="1.8" />
<polygon points="622.06,2074.01 616.06,2063.61 628.06,2063.61" fill="#3a6cc0" stroke="none" stroke-width="1" />
<polygon points="660.63,2080.24 654.63,2069.84 666.63,2069.84" fill="#3a6cc0" stroke="none" stroke-width="1" />
<polygon points="699.48,2080.24 693.48,2069.84 705.48,2069.84" fill="#3a6cc0" stroke="none" stroke-width="1" />
<polygon points="738.91,2134.77 732.91,2124.37 744.91,2124.37" fill="#3a6cc0" stroke="none" stroke-width="1" />
<polygon points="777.48,2135.55 771.48,2125.15 783.48,2125.15" fill="#3a6cc0" stroke="none" stroke-width="1" />
<polygon points="817.2,2130.88 811.2,2120.48 823.2,2120.48" fill="#3a6cc0" stroke="none" stroke-width="1" />
<polygon points="856.34,2128.54 850.34,2118.14 862.34,2118.14" fill="#3a6cc0" stroke="none" stroke-width="1" />
<polygon points="894.9,2128.54 888.9,2118.14 900.9,2118.14" fill="#3a6cc0" stroke="none" stroke-width="1" />
<polygon points="934.05,2122.31 928.05,2111.91 940.05,2111.91" fill="#3a6cc0" stroke="none" stroke-width="1" />
<polygon points="973.77,2137.89 967.77,2127.49 979.77,2127.49" fill="#3a6cc0" stroke="none" stroke-width="1" />
<polygon points="1012.91,2141.39 1006.91,2130.99 1018.91,2130.99" fill="#3a6cc0" stroke="none" stroke-width="1" />
<polygon points="1051.47,2143.34 1045.47,2132.94 1057.47,2132.94" fill="#3a6cc0" stroke="none" stroke-width="1" />
<polyline points="622.06,2044.44 660.63,2049.89 699.48,2051.45 738.91,2116.11 777.48,2116.11 817.2,2106.76 856.34,1944.73 894.9,1983.68 934.05,1986.01 973.77,2118.45 1012.91,2123.9 1051.47,2126.24" fill="none" stroke="#7b3fb0" stroke-width="2.2" stroke-linejoin="round" />
<line x1="660.63" y1="2046" x2="660.63" y2="2053.79" stroke="#7b3fb0" stroke-width="1.8" />
<line x1="656.63" y1="2046" x2="664.63" y2="2046" stroke="#7b3fb0" stroke-width="1.8" />
<line x1="656.63" y1="2053.79" x2="664.63" y2="2053.79" stroke="#7b3fb0" stroke-width="1.8" />
<line x1="856.34" y1="1927.59" x2="856.34" y2="1961.87" stroke="#7b3fb0" stroke-width="1.8" />
<line x1="852.34" y1="1927.59" x2="860.34" y2="1927.59" stroke="#7b3fb0" stroke-width="1.8" />
<line x1="852.34" y1="1961.87" x2="860.34" y2="1961.87" stroke="#7b3fb0" stroke-width="1.8" />
<line x1="894.9" y1="1974.33" x2="894.9" y2="1993.03" stroke="#7b3fb0" stroke-width="1.8" />
<line x1="890.9" y1="1974.33" x2="898.9" y2="1974.33" stroke="#7b3fb0" stroke-width="1.8" />
<line x1="890.9" y1="1993.03" x2="898.9" y2="1993.03" stroke="#7b3fb0" stroke-width="1.8" />
<line x1="934.05" y1="1976.67" x2="934.05" y2="1995.36" stroke="#7b3fb0" stroke-width="1.8" />
<line x1="930.05" y1="1976.67" x2="938.05" y2="1976.67" stroke="#7b3fb0" stroke-width="1.8" />
<line x1="930.05" y1="1995.36" x2="938.05" y2="1995.36" stroke="#7b3fb0" stroke-width="1.8" />
<polygon points="622.06,2038.24 627.06,2044.44 622.06,2050.64 617.06,2044.44" fill="#7b3fb0" stroke="none" stroke-width="1" />
<polygon points="660.63,2043.69 665.63,2049.89 660.63,2056.09 655.63,2049.89" fill="#7b3fb0" stroke="none" stroke-width="1" />
<polygon points="699.48,2045.25 704.48,2051.45 699.48,2057.65 694.48,2051.45" fill="#7b3fb0" stroke="none" stroke-width="1" />
<polygon points="738.91,2109.91 743.91,2116.11 738.91,2122.31 733.91,2116.11" fill="#7b3fb0" stroke="none" stroke-width="1" />
<polygon points="777.48,2109.91 782.48,2116.11 777.48,2122.31 772.48,2116.11" fill="#7b3fb0" stroke="none" stroke-width="1" />
<polygon points="817.2,2100.56 822.2,2106.76 817.2,2112.96 812.2,2106.76" fill="#7b3fb0" stroke="none" stroke-width="1" />
<polygon points="856.34,1938.53 861.34,1944.73 856.34,1950.93 851.34,1944.73" fill="#7b3fb0" stroke="none" stroke-width="1" />
<polygon points="894.9,1977.48 899.9,1983.68 894.9,1989.88 889.9,1983.68" fill="#7b3fb0" stroke="none" stroke-width="1" />
<polygon points="934.05,1979.81 939.05,1986.01 934.05,1992.21 929.05,1986.01" fill="#7b3fb0" stroke="none" stroke-width="1" />
<polygon points="973.77,2112.25 978.77,2118.45 973.77,2124.64 968.77,2118.45" fill="#7b3fb0" stroke="none" stroke-width="1" />
<polygon points="1012.91,2117.7 1017.91,2123.9 1012.91,2130.1 1007.91,2123.9" fill="#7b3fb0" stroke="none" stroke-width="1" />
<polygon points="1051.47,2120.04 1056.47,2126.24 1051.47,2132.43 1046.47,2126.24" fill="#7b3fb0" stroke="none" stroke-width="1" />
<polyline points="622.06,2049.11 660.63,2053.79 699.48,2056.12 738.91,2119.22 777.48,2118.45 817.2,2110.66 856.34,1952.52 894.9,1993.81 934.05,1993.81 973.77,2120.78 1012.91,2126.24 1051.47,2129.35" fill="none" stroke="#e4262b" stroke-width="2.2" stroke-linejoin="round" />
<line x1="856.34" y1="1940.83" x2="856.34" y2="1964.2" stroke="#e4262b" stroke-width="1.8" />
<line x1="852.34" y1="1940.83" x2="860.34" y2="1940.83" stroke="#e4262b" stroke-width="1.8" />
<line x1="852.34" y1="1964.2" x2="860.34" y2="1964.2" stroke="#e4262b" stroke-width="1.8" />
<line x1="894.9" y1="1986.02" x2="894.9" y2="2001.6" stroke="#e4262b" stroke-width="1.8" />
<line x1="890.9" y1="1986.02" x2="898.9" y2="1986.02" stroke="#e4262b" stroke-width="1.8" />
<line x1="890.9" y1="2001.6" x2="898.9" y2="2001.6" stroke="#e4262b" stroke-width="1.8" />
<line x1="934.05" y1="1986.02" x2="934.05" y2="2001.6" stroke="#e4262b" stroke-width="1.8" />
<line x1="930.05" y1="1986.02" x2="938.05" y2="1986.02" stroke="#e4262b" stroke-width="1.8" />
<line x1="930.05" y1="2001.6" x2="938.05" y2="2001.6" stroke="#e4262b" stroke-width="1.8" />
<polygon points="622.06,2042.91 616.06,2053.31 628.06,2053.31" fill="#e4262b" stroke="none" stroke-width="1" />
<polygon points="660.63,2047.59 654.63,2057.99 666.63,2057.99" fill="#e4262b" stroke="none" stroke-width="1" />
<polygon points="699.48,2049.93 693.48,2060.32 705.48,2060.32" fill="#e4262b" stroke="none" stroke-width="1" />
<polygon points="738.91,2113.02 732.91,2123.42 744.91,2123.42" fill="#e4262b" stroke="none" stroke-width="1" />
<polygon points="777.48,2112.25 771.48,2122.64 783.48,2122.64" fill="#e4262b" stroke="none" stroke-width="1" />
<polygon points="817.2,2104.46 811.2,2114.86 823.2,2114.86" fill="#e4262b" stroke="none" stroke-width="1" />
<polygon points="856.34,1946.32 850.34,1956.72 862.34,1956.72" fill="#e4262b" stroke="none" stroke-width="1" />
<polygon points="894.9,1987.61 888.9,1998.01 900.9,1998.01" fill="#e4262b" stroke="none" stroke-width="1" />
<polygon points="934.05,1987.61 928.05,1998.01 940.05,1998.01" fill="#e4262b" stroke="none" stroke-width="1" />
<polygon points="973.77,2114.58 967.77,2124.98 979.77,2124.98" fill="#e4262b" stroke="none" stroke-width="1" />
<polygon points="1012.91,2120.04 1006.91,2130.43 1018.91,2130.43" fill="#e4262b" stroke="none" stroke-width="1" />
<polygon points="1051.47,2123.15 1045.47,2133.55 1057.47,2133.55" fill="#e4262b" stroke="none" stroke-width="1" />
<line x1="614" y1="1840.9" x2="614" y2="2154.6" stroke="#000" stroke-width="2.2" />
<line x1="612.9" y1="2153.5" x2="1075.5" y2="2153.5" stroke="#000" stroke-width="2.2" />
<line x1="604.5" y1="2153.5" x2="614" y2="2153.5" stroke="#000" stroke-width="1.98" />
<text x="602.5" y="2159.26" font-size="16" text-anchor="end">0</text>
<line x1="604.5" y1="2075.6" x2="614" y2="2075.6" stroke="#000" stroke-width="1.98" />
<text x="602.5" y="2081.36" font-size="16" text-anchor="end">1</text>
<line x1="604.5" y1="1997.7" x2="614" y2="1997.7" stroke="#000" stroke-width="1.98" />
<text x="602.5" y="2003.46" font-size="16" text-anchor="end">2</text>
<line x1="604.5" y1="1919.8" x2="614" y2="1919.8" stroke="#000" stroke-width="1.98" />
<text x="602.5" y="1925.56" font-size="16" text-anchor="end">3</text>
<line x1="604.5" y1="1841.9" x2="614" y2="1841.9" stroke="#000" stroke-width="1.98" />
<text x="602.5" y="1847.66" font-size="16" text-anchor="end">4</text>
<line x1="614" y1="2153.5" x2="614" y2="2163" stroke="#000" stroke-width="1.98" />
<line x1="625.51" y1="2153.5" x2="625.51" y2="2159.2" stroke="#000" stroke-width="1.98" />
<line x1="637.02" y1="2153.5" x2="637.02" y2="2159.2" stroke="#000" stroke-width="1.98" />
<line x1="648.54" y1="2153.5" x2="648.54" y2="2159.2" stroke="#000" stroke-width="1.98" />
<line x1="660.05" y1="2153.5" x2="660.05" y2="2159.2" stroke="#000" stroke-width="1.98" />
<line x1="671.56" y1="2153.5" x2="671.56" y2="2159.2" stroke="#000" stroke-width="1.98" />
<line x1="683.08" y1="2153.5" x2="683.08" y2="2159.2" stroke="#000" stroke-width="1.98" />
<line x1="694.59" y1="2153.5" x2="694.59" y2="2159.2" stroke="#000" stroke-width="1.98" />
<line x1="706.1" y1="2153.5" x2="706.1" y2="2159.2" stroke="#000" stroke-width="1.98" />
<line x1="717.61" y1="2153.5" x2="717.61" y2="2159.2" stroke="#000" stroke-width="1.98" />
<line x1="729.12" y1="2153.5" x2="729.12" y2="2163" stroke="#000" stroke-width="1.98" />
<line x1="740.64" y1="2153.5" x2="740.64" y2="2159.2" stroke="#000" stroke-width="1.98" />
<line x1="752.15" y1="2153.5" x2="752.15" y2="2159.2" stroke="#000" stroke-width="1.98" />
<line x1="763.66" y1="2153.5" x2="763.66" y2="2159.2" stroke="#000" stroke-width="1.98" />
<line x1="775.17" y1="2153.5" x2="775.17" y2="2159.2" stroke="#000" stroke-width="1.98" />
<line x1="786.69" y1="2153.5" x2="786.69" y2="2159.2" stroke="#000" stroke-width="1.98" />
<line x1="798.2" y1="2153.5" x2="798.2" y2="2159.2" stroke="#000" stroke-width="1.98" />
<line x1="809.71" y1="2153.5" x2="809.71" y2="2159.2" stroke="#000" stroke-width="1.98" />
<line x1="821.23" y1="2153.5" x2="821.23" y2="2159.2" stroke="#000" stroke-width="1.98" />
<line x1="832.74" y1="2153.5" x2="832.74" y2="2159.2" stroke="#000" stroke-width="1.98" />
<line x1="844.25" y1="2153.5" x2="844.25" y2="2163" stroke="#000" stroke-width="1.98" />
<line x1="855.76" y1="2153.5" x2="855.76" y2="2159.2" stroke="#000" stroke-width="1.98" />
<line x1="867.27" y1="2153.5" x2="867.27" y2="2159.2" stroke="#000" stroke-width="1.98" />
<line x1="878.79" y1="2153.5" x2="878.79" y2="2159.2" stroke="#000" stroke-width="1.98" />
<line x1="890.3" y1="2153.5" x2="890.3" y2="2159.2" stroke="#000" stroke-width="1.98" />
<line x1="901.81" y1="2153.5" x2="901.81" y2="2159.2" stroke="#000" stroke-width="1.98" />
<line x1="913.33" y1="2153.5" x2="913.33" y2="2159.2" stroke="#000" stroke-width="1.98" />
<line x1="924.84" y1="2153.5" x2="924.84" y2="2159.2" stroke="#000" stroke-width="1.98" />
<line x1="936.35" y1="2153.5" x2="936.35" y2="2159.2" stroke="#000" stroke-width="1.98" />
<line x1="947.86" y1="2153.5" x2="947.86" y2="2159.2" stroke="#000" stroke-width="1.98" />
<line x1="959.38" y1="2153.5" x2="959.38" y2="2163" stroke="#000" stroke-width="1.98" />
<line x1="970.89" y1="2153.5" x2="970.89" y2="2159.2" stroke="#000" stroke-width="1.98" />
<line x1="982.4" y1="2153.5" x2="982.4" y2="2159.2" stroke="#000" stroke-width="1.98" />
<line x1="993.91" y1="2153.5" x2="993.91" y2="2159.2" stroke="#000" stroke-width="1.98" />
<line x1="1005.42" y1="2153.5" x2="1005.42" y2="2159.2" stroke="#000" stroke-width="1.98" />
<line x1="1016.94" y1="2153.5" x2="1016.94" y2="2159.2" stroke="#000" stroke-width="1.98" />
<line x1="1028.45" y1="2153.5" x2="1028.45" y2="2159.2" stroke="#000" stroke-width="1.98" />
<line x1="1039.96" y1="2153.5" x2="1039.96" y2="2159.2" stroke="#000" stroke-width="1.98" />
<line x1="1051.47" y1="2153.5" x2="1051.47" y2="2159.2" stroke="#000" stroke-width="1.98" />
<line x1="1062.99" y1="2153.5" x2="1062.99" y2="2159.2" stroke="#000" stroke-width="1.98" />
<line x1="1074.5" y1="2153.5" x2="1074.5" y2="2163" stroke="#000" stroke-width="1.98" />
<text x="614" y="2179" font-size="16" text-anchor="middle">0</text>
<text x="729.12" y="2179" font-size="16" text-anchor="middle">20</text>
<text x="844.25" y="2179" font-size="16" text-anchor="middle">40</text>
<text x="959.38" y="2179" font-size="16" text-anchor="middle">60</text>
<text x="1074.5" y="2179" font-size="16" text-anchor="middle">80</text>
<text x="847.7" y="2204.5" font-size="19.7" text-anchor="middle">Time (minutes)</text>
<text x="575" y="1996" font-size="16.3" text-anchor="middle" transform="rotate(-90 575 1996)">OCR (pmol/min/1000 cells)</text>
<text x="21.5" y="2248.4" font-size="22.5">J</text>
<text x="158" y="2248" font-size="22.9">Mitochondrial Respiration</text>
<line x1="74" y1="2270.5" x2="99" y2="2270.5" stroke="#6cb545" stroke-width="2.8" />
<rect x="82" y="2266" width="9" height="9" fill="#6cb545" stroke="none" stroke-width="1" />
<text x="114.8" y="2276.37" font-size="16.3">Con</text>
<line x1="74" y1="2300.5" x2="99" y2="2300.5" stroke="#3a6cc0" stroke-width="2.8" />
<polygon points="86.5,2306.08 81.1,2296.72 91.9,2296.72" fill="#3a6cc0" stroke="none" stroke-width="1" />
<text x="114.8" y="2306.37" font-size="16.3">GW7647</text>
<line x1="300" y1="2271" x2="326" y2="2271" stroke="#e4262b" stroke-width="2.8" />
<polygon points="313,2265.42 307.6,2274.78 318.4,2274.78" fill="#e4262b" stroke="none" stroke-width="1" />
<text x="340.7" y="2276.87" font-size="16.3">CD3/CD28</text>
<line x1="300" y1="2301" x2="326" y2="2301" stroke="#7b3fb0" stroke-width="2.8" />
<polygon points="313,2295.42 317.5,2301 313,2306.58 308.5,2301" fill="#7b3fb0" stroke="none" stroke-width="1" />
<text x="340.7" y="2306.87" font-size="16.3">CD3/CD28+GW7647</text>
<line x1="172.4" y1="2345.2" x2="172.4" y2="2657.2" stroke="#111" stroke-width="1.3" stroke-dasharray="3,2"/>
<line x1="287.2" y1="2345.2" x2="287.2" y2="2657.2" stroke="#111" stroke-width="1.3" stroke-dasharray="3,2"/>
<line x1="404.1" y1="2345.2" x2="404.1" y2="2657.2" stroke="#111" stroke-width="1.3" stroke-dasharray="3,2"/>
<text x="173.5" y="2339" font-size="16.3" text-anchor="middle">Oligo</text>
<text x="290" y="2339" font-size="16.3" text-anchor="middle">FCCP</text>
<text x="404.1" y="2339" font-size="16.3" text-anchor="middle">Rot/AA</text>
<polyline points="78.79,2561.52 117.49,2564.64 156.48,2566.72 196.04,2628.08 234.75,2623.92 274.6,2623.92 313.88,2617.68 352.58,2614.56 391.86,2612.48 431.72,2632.24 470.99,2633.28 509.69,2633.28" fill="none" stroke="#3a6cc0" stroke-width="1.6" stroke-linejoin="round" />
<line x1="78.79" y1="2556.32" x2="78.79" y2="2566.72" stroke="#3a6cc0" stroke-width="1.8" />
<line x1="74.79" y1="2556.32" x2="82.79" y2="2556.32" stroke="#3a6cc0" stroke-width="1.8" />
<line x1="74.79" y1="2566.72" x2="82.79" y2="2566.72" stroke="#3a6cc0" stroke-width="1.8" />
<line x1="117.49" y1="2559.44" x2="117.49" y2="2569.84" stroke="#3a6cc0" stroke-width="1.8" />
<line x1="113.49" y1="2559.44" x2="121.49" y2="2559.44" stroke="#3a6cc0" stroke-width="1.8" />
<line x1="113.49" y1="2569.84" x2="121.49" y2="2569.84" stroke="#3a6cc0" stroke-width="1.8" />
<line x1="156.48" y1="2561.52" x2="156.48" y2="2571.92" stroke="#3a6cc0" stroke-width="1.8" />
<line x1="152.48" y1="2561.52" x2="160.48" y2="2561.52" stroke="#3a6cc0" stroke-width="1.8" />
<line x1="152.48" y1="2571.92" x2="160.48" y2="2571.92" stroke="#3a6cc0" stroke-width="1.8" />
<line x1="196.04" y1="2622.88" x2="196.04" y2="2633.28" stroke="#3a6cc0" stroke-width="1.8" />
<line x1="192.04" y1="2622.88" x2="200.04" y2="2622.88" stroke="#3a6cc0" stroke-width="1.8" />
<line x1="192.04" y1="2633.28" x2="200.04" y2="2633.28" stroke="#3a6cc0" stroke-width="1.8" />
<line x1="234.75" y1="2618.72" x2="234.75" y2="2629.12" stroke="#3a6cc0" stroke-width="1.8" />
<line x1="230.75" y1="2618.72" x2="238.75" y2="2618.72" stroke="#3a6cc0" stroke-width="1.8" />
<line x1="230.75" y1="2629.12" x2="238.75" y2="2629.12" stroke="#3a6cc0" stroke-width="1.8" />
<line x1="274.6" y1="2618.72" x2="274.6" y2="2629.12" stroke="#3a6cc0" stroke-width="1.8" />
<line x1="270.6" y1="2618.72" x2="278.6" y2="2618.72" stroke="#3a6cc0" stroke-width="1.8" />
<line x1="270.6" y1="2629.12" x2="278.6" y2="2629.12" stroke="#3a6cc0" stroke-width="1.8" />
<line x1="313.88" y1="2612.48" x2="313.88" y2="2622.88" stroke="#3a6cc0" stroke-width="1.8" />
<line x1="309.88" y1="2612.48" x2="317.88" y2="2612.48" stroke="#3a6cc0" stroke-width="1.8" />
<line x1="309.88" y1="2622.88" x2="317.88" y2="2622.88" stroke="#3a6cc0" stroke-width="1.8" />
<line x1="352.58" y1="2609.36" x2="352.58" y2="2619.76" stroke="#3a6cc0" stroke-width="1.8" />
<line x1="348.58" y1="2609.36" x2="356.58" y2="2609.36" stroke="#3a6cc0" stroke-width="1.8" />
<line x1="348.58" y1="2619.76" x2="356.58" y2="2619.76" stroke="#3a6cc0" stroke-width="1.8" />
<line x1="391.86" y1="2607.28" x2="391.86" y2="2617.68" stroke="#3a6cc0" stroke-width="1.8" />
<line x1="387.86" y1="2607.28" x2="395.86" y2="2607.28" stroke="#3a6cc0" stroke-width="1.8" />
<line x1="387.86" y1="2617.68" x2="395.86" y2="2617.68" stroke="#3a6cc0" stroke-width="1.8" />
<line x1="431.72" y1="2627.04" x2="431.72" y2="2637.44" stroke="#3a6cc0" stroke-width="1.8" />
<line x1="427.72" y1="2627.04" x2="435.72" y2="2627.04" stroke="#3a6cc0" stroke-width="1.8" />
<line x1="427.72" y1="2637.44" x2="435.72" y2="2637.44" stroke="#3a6cc0" stroke-width="1.8" />
<line x1="470.99" y1="2628.08" x2="470.99" y2="2638.48" stroke="#3a6cc0" stroke-width="1.8" />
<line x1="466.99" y1="2628.08" x2="474.99" y2="2628.08" stroke="#3a6cc0" stroke-width="1.8" />
<line x1="466.99" y1="2638.48" x2="474.99" y2="2638.48" stroke="#3a6cc0" stroke-width="1.8" />
<line x1="509.69" y1="2628.08" x2="509.69" y2="2638.48" stroke="#3a6cc0" stroke-width="1.8" />
<line x1="505.69" y1="2628.08" x2="513.69" y2="2628.08" stroke="#3a6cc0" stroke-width="1.8" />
<line x1="505.69" y1="2638.48" x2="513.69" y2="2638.48" stroke="#3a6cc0" stroke-width="1.8" />
<polygon points="78.79,2567.72 72.79,2557.32 84.79,2557.32" fill="#3a6cc0" stroke="none" stroke-width="1" />
<polygon points="117.49,2570.84 111.49,2560.44 123.49,2560.44" fill="#3a6cc0" stroke="none" stroke-width="1" />
<polygon points="156.48,2572.92 150.48,2562.52 162.48,2562.52" fill="#3a6cc0" stroke="none" stroke-width="1" />
<polygon points="196.04,2634.28 190.04,2623.88 202.04,2623.88" fill="#3a6cc0" stroke="none" stroke-width="1" />
<polygon points="234.75,2630.12 228.75,2619.72 240.75,2619.72" fill="#3a6cc0" stroke="none" stroke-width="1" />
<polygon points="274.6,2630.12 268.6,2619.72 280.6,2619.72" fill="#3a6cc0" stroke="none" stroke-width="1" />
<polygon points="313.88,2623.88 307.88,2613.48 319.88,2613.48" fill="#3a6cc0" stroke="none" stroke-width="1" />
<polygon points="352.58,2620.76 346.58,2610.36 358.58,2610.36" fill="#3a6cc0" stroke="none" stroke-width="1" />
<polygon points="391.86,2618.68 385.86,2608.28 397.86,2608.28" fill="#3a6cc0" stroke="none" stroke-width="1" />
<polygon points="431.72,2638.44 425.72,2628.04 437.72,2628.04" fill="#3a6cc0" stroke="none" stroke-width="1" />
<polygon points="470.99,2639.48 464.99,2629.08 476.99,2629.08" fill="#3a6cc0" stroke="none" stroke-width="1" />
<polygon points="509.69,2639.48 503.69,2629.08 515.69,2629.08" fill="#3a6cc0" stroke="none" stroke-width="1" />
<polyline points="78.79,2557.36 117.49,2562.56 156.48,2563.6 196.04,2626 234.75,2621.84 274.6,2621.84 313.88,2617.68 352.58,2615.6 391.86,2609.36 431.72,2629.12 470.99,2633.28 509.69,2634.32" fill="none" stroke="#6cb545" stroke-width="2.2" stroke-linejoin="round" />
<rect x="73.79" y="2552.36" width="10" height="10" fill="#6cb545" stroke="none" stroke-width="1" />
<rect x="112.49" y="2557.56" width="10" height="10" fill="#6cb545" stroke="none" stroke-width="1" />
<rect x="151.48" y="2558.6" width="10" height="10" fill="#6cb545" stroke="none" stroke-width="1" />
<rect x="191.04" y="2621" width="10" height="10" fill="#6cb545" stroke="none" stroke-width="1" />
<rect x="229.75" y="2616.84" width="10" height="10" fill="#6cb545" stroke="none" stroke-width="1" />
<rect x="269.6" y="2616.84" width="10" height="10" fill="#6cb545" stroke="none" stroke-width="1" />
<rect x="308.88" y="2612.68" width="10" height="10" fill="#6cb545" stroke="none" stroke-width="1" />
<rect x="347.58" y="2610.6" width="10" height="10" fill="#6cb545" stroke="none" stroke-width="1" />
<rect x="386.86" y="2604.36" width="10" height="10" fill="#6cb545" stroke="none" stroke-width="1" />
<rect x="426.72" y="2624.12" width="10" height="10" fill="#6cb545" stroke="none" stroke-width="1" />
<rect x="465.99" y="2628.28" width="10" height="10" fill="#6cb545" stroke="none" stroke-width="1" />
<rect x="504.69" y="2629.32" width="10" height="10" fill="#6cb545" stroke="none" stroke-width="1" />
<polyline points="78.79,2532.4 117.49,2534.48 156.48,2536.56 196.04,2617.68 234.75,2613.52 274.6,2610.4 313.88,2453.36 352.58,2479.36 391.86,2479.36 431.72,2620.8 470.99,2624.96 509.69,2628.08" fill="none" stroke="#e4262b" stroke-width="2.2" stroke-linejoin="round" />
<line x1="313.88" y1="2446.08" x2="313.88" y2="2460.64" stroke="#e4262b" stroke-width="1.8" />
<line x1="309.88" y1="2446.08" x2="317.88" y2="2446.08" stroke="#e4262b" stroke-width="1.8" />
<line x1="309.88" y1="2460.64" x2="317.88" y2="2460.64" stroke="#e4262b" stroke-width="1.8" />
<line x1="352.58" y1="2474.16" x2="352.58" y2="2484.56" stroke="#e4262b" stroke-width="1.8" />
<line x1="348.58" y1="2474.16" x2="356.58" y2="2474.16" stroke="#e4262b" stroke-width="1.8" />
<line x1="348.58" y1="2484.56" x2="356.58" y2="2484.56" stroke="#e4262b" stroke-width="1.8" />
<line x1="391.86" y1="2474.16" x2="391.86" y2="2484.56" stroke="#e4262b" stroke-width="1.8" />
<line x1="387.86" y1="2474.16" x2="395.86" y2="2474.16" stroke="#e4262b" stroke-width="1.8" />
<line x1="387.86" y1="2484.56" x2="395.86" y2="2484.56" stroke="#e4262b" stroke-width="1.8" />
<polygon points="78.79,2526.2 72.79,2536.6 84.79,2536.6" fill="#e4262b" stroke="none" stroke-width="1" />
<polygon points="117.49,2528.28 111.49,2538.68 123.49,2538.68" fill="#e4262b" stroke="none" stroke-width="1" />
<polygon points="156.48,2530.36 150.48,2540.76 162.48,2540.76" fill="#e4262b" stroke="none" stroke-width="1" />
<polygon points="196.04,2611.48 190.04,2621.88 202.04,2621.88" fill="#e4262b" stroke="none" stroke-width="1" />
<polygon points="234.75,2607.32 228.75,2617.72 240.75,2617.72" fill="#e4262b" stroke="none" stroke-width="1" />
<polygon points="274.6,2604.2 268.6,2614.6 280.6,2614.6" fill="#e4262b" stroke="none" stroke-width="1" />
<polygon points="313.88,2447.16 307.88,2457.56 319.88,2457.56" fill="#e4262b" stroke="none" stroke-width="1" />
<polygon points="352.58,2473.16 346.58,2483.56 358.58,2483.56" fill="#e4262b" stroke="none" stroke-width="1" />
<polygon points="391.86,2473.16 385.86,2483.56 397.86,2483.56" fill="#e4262b" stroke="none" stroke-width="1" />
<polygon points="431.72,2614.6 425.72,2625 437.72,2625" fill="#e4262b" stroke="none" stroke-width="1" />
<polygon points="470.99,2618.76 464.99,2629.16 476.99,2629.16" fill="#e4262b" stroke="none" stroke-width="1" />
<polygon points="509.69,2621.88 503.69,2632.28 515.69,2632.28" fill="#e4262b" stroke="none" stroke-width="1" />
<polyline points="78.79,2490.8 117.49,2501.2 156.48,2504.32 196.04,2610.4 234.75,2595.84 274.6,2591.68 313.88,2403.44 352.58,2437.76 391.86,2437.76 431.72,2609.36 470.99,2615.6 509.69,2616.64" fill="none" stroke="#7b3fb0" stroke-width="2.2" stroke-linejoin="round" />
<line x1="78.79" y1="2479.36" x2="78.79" y2="2502.24" stroke="#7b3fb0" stroke-width="1.8" />
<line x1="74.79" y1="2479.36" x2="82.79" y2="2479.36" stroke="#7b3fb0" stroke-width="1.8" />
<line x1="74.79" y1="2502.24" x2="82.79" y2="2502.24" stroke="#7b3fb0" stroke-width="1.8" />
<line x1="117.49" y1="2490.8" x2="117.49" y2="2511.6" stroke="#7b3fb0" stroke-width="1.8" />
<line x1="113.49" y1="2490.8" x2="121.49" y2="2490.8" stroke="#7b3fb0" stroke-width="1.8" />
<line x1="113.49" y1="2511.6" x2="121.49" y2="2511.6" stroke="#7b3fb0" stroke-width="1.8" />
<line x1="156.48" y1="2493.92" x2="156.48" y2="2514.72" stroke="#7b3fb0" stroke-width="1.8" />
<line x1="152.48" y1="2493.92" x2="160.48" y2="2493.92" stroke="#7b3fb0" stroke-width="1.8" />
<line x1="152.48" y1="2514.72" x2="160.48" y2="2514.72" stroke="#7b3fb0" stroke-width="1.8" />
<line x1="234.75" y1="2590.64" x2="234.75" y2="2601.04" stroke="#7b3fb0" stroke-width="1.8" />
<line x1="230.75" y1="2590.64" x2="238.75" y2="2590.64" stroke="#7b3fb0" stroke-width="1.8" />
<line x1="230.75" y1="2601.04" x2="238.75" y2="2601.04" stroke="#7b3fb0" stroke-width="1.8" />
<line x1="274.6" y1="2585.44" x2="274.6" y2="2597.92" stroke="#7b3fb0" stroke-width="1.8" />
<line x1="270.6" y1="2585.44" x2="278.6" y2="2585.44" stroke="#7b3fb0" stroke-width="1.8" />
<line x1="270.6" y1="2597.92" x2="278.6" y2="2597.92" stroke="#7b3fb0" stroke-width="1.8" />
<line x1="313.88" y1="2384.72" x2="313.88" y2="2422.16" stroke="#7b3fb0" stroke-width="1.8" />
<line x1="309.88" y1="2384.72" x2="317.88" y2="2384.72" stroke="#7b3fb0" stroke-width="1.8" />
<line x1="309.88" y1="2422.16" x2="317.88" y2="2422.16" stroke="#7b3fb0" stroke-width="1.8" />
<line x1="352.58" y1="2427.36" x2="352.58" y2="2448.16" stroke="#7b3fb0" stroke-width="1.8" />
<line x1="348.58" y1="2427.36" x2="356.58" y2="2427.36" stroke="#7b3fb0" stroke-width="1.8" />
<line x1="348.58" y1="2448.16" x2="356.58" y2="2448.16" stroke="#7b3fb0" stroke-width="1.8" />
<line x1="391.86" y1="2427.36" x2="391.86" y2="2448.16" stroke="#7b3fb0" stroke-width="1.8" />
<line x1="387.86" y1="2427.36" x2="395.86" y2="2427.36" stroke="#7b3fb0" stroke-width="1.8" />
<line x1="387.86" y1="2448.16" x2="395.86" y2="2448.16" stroke="#7b3fb0" stroke-width="1.8" />
<polygon points="78.79,2484.6 83.79,2490.8 78.79,2497 73.79,2490.8" fill="#7b3fb0" stroke="none" stroke-width="1" />
<polygon points="117.49,2495 122.49,2501.2 117.49,2507.4 112.49,2501.2" fill="#7b3fb0" stroke="none" stroke-width="1" />
<polygon points="156.48,2498.12 161.48,2504.32 156.48,2510.52 151.48,2504.32" fill="#7b3fb0" stroke="none" stroke-width="1" />
<polygon points="196.04,2604.2 201.04,2610.4 196.04,2616.6 191.04,2610.4" fill="#7b3fb0" stroke="none" stroke-width="1" />
<polygon points="234.75,2589.64 239.75,2595.84 234.75,2602.04 229.75,2595.84" fill="#7b3fb0" stroke="none" stroke-width="1" />
<polygon points="274.6,2585.48 279.6,2591.68 274.6,2597.88 269.6,2591.68" fill="#7b3fb0" stroke="none" stroke-width="1" />
<polygon points="313.88,2397.24 318.88,2403.44 313.88,2409.64 308.88,2403.44" fill="#7b3fb0" stroke="none" stroke-width="1" />
<polygon points="352.58,2431.56 357.58,2437.76 352.58,2443.96 347.58,2437.76" fill="#7b3fb0" stroke="none" stroke-width="1" />
<polygon points="391.86,2431.56 396.86,2437.76 391.86,2443.96 386.86,2437.76" fill="#7b3fb0" stroke="none" stroke-width="1" />
<polygon points="431.72,2603.16 436.72,2609.36 431.72,2615.56 426.72,2609.36" fill="#7b3fb0" stroke="none" stroke-width="1" />
<polygon points="470.99,2609.4 475.99,2615.6 470.99,2621.8 465.99,2615.6" fill="#7b3fb0" stroke="none" stroke-width="1" />
<polygon points="509.69,2610.44 514.69,2616.64 509.69,2622.84 504.69,2616.64" fill="#7b3fb0" stroke="none" stroke-width="1" />
<line x1="70.7" y1="2344.2" x2="70.7" y2="2658.3" stroke="#000" stroke-width="2.2" />
<line x1="69.6" y1="2657.2" x2="533.8" y2="2657.2" stroke="#000" stroke-width="2.2" />
<line x1="61.2" y1="2657.2" x2="70.7" y2="2657.2" stroke="#000" stroke-width="1.98" />
<text x="59.2" y="2662.96" font-size="16" text-anchor="end">0</text>
<line x1="61.2" y1="2553.2" x2="70.7" y2="2553.2" stroke="#000" stroke-width="1.98" />
<text x="59.2" y="2558.96" font-size="16" text-anchor="end">1</text>
<line x1="61.2" y1="2449.2" x2="70.7" y2="2449.2" stroke="#000" stroke-width="1.98" />
<text x="59.2" y="2454.96" font-size="16" text-anchor="end">2</text>
<line x1="61.2" y1="2345.2" x2="70.7" y2="2345.2" stroke="#000" stroke-width="1.98" />
<text x="59.2" y="2350.96" font-size="16" text-anchor="end">3</text>
<line x1="70.7" y1="2657.2" x2="70.7" y2="2666.7" stroke="#000" stroke-width="1.98" />
<line x1="82.25" y1="2657.2" x2="82.25" y2="2662.9" stroke="#000" stroke-width="1.98" />
<line x1="93.81" y1="2657.2" x2="93.81" y2="2662.9" stroke="#000" stroke-width="1.98" />
<line x1="105.36" y1="2657.2" x2="105.36" y2="2662.9" stroke="#000" stroke-width="1.98" />
<line x1="116.91" y1="2657.2" x2="116.91" y2="2662.9" stroke="#000" stroke-width="1.98" />
<line x1="128.46" y1="2657.2" x2="128.46" y2="2662.9" stroke="#000" stroke-width="1.98" />
<line x1="140.01" y1="2657.2" x2="140.01" y2="2662.9" stroke="#000" stroke-width="1.98" />
<line x1="151.57" y1="2657.2" x2="151.57" y2="2662.9" stroke="#000" stroke-width="1.98" />
<line x1="163.12" y1="2657.2" x2="163.12" y2="2662.9" stroke="#000" stroke-width="1.98" />
<line x1="174.67" y1="2657.2" x2="174.67" y2="2662.9" stroke="#000" stroke-width="1.98" />
<line x1="186.23" y1="2657.2" x2="186.23" y2="2666.7" stroke="#000" stroke-width="1.98" />
<line x1="197.78" y1="2657.2" x2="197.78" y2="2662.9" stroke="#000" stroke-width="1.98" />
<line x1="209.33" y1="2657.2" x2="209.33" y2="2662.9" stroke="#000" stroke-width="1.98" />
<line x1="220.88" y1="2657.2" x2="220.88" y2="2662.9" stroke="#000" stroke-width="1.98" />
<line x1="232.44" y1="2657.2" x2="232.44" y2="2662.9" stroke="#000" stroke-width="1.98" />
<line x1="243.99" y1="2657.2" x2="243.99" y2="2662.9" stroke="#000" stroke-width="1.98" />
<line x1="255.54" y1="2657.2" x2="255.54" y2="2662.9" stroke="#000" stroke-width="1.98" />
<line x1="267.09" y1="2657.2" x2="267.09" y2="2662.9" stroke="#000" stroke-width="1.98" />
<line x1="278.64" y1="2657.2" x2="278.64" y2="2662.9" stroke="#000" stroke-width="1.98" />
<line x1="290.2" y1="2657.2" x2="290.2" y2="2662.9" stroke="#000" stroke-width="1.98" />
<line x1="301.75" y1="2657.2" x2="301.75" y2="2666.7" stroke="#000" stroke-width="1.98" />
<line x1="313.3" y1="2657.2" x2="313.3" y2="2662.9" stroke="#000" stroke-width="1.98" />
<line x1="324.85" y1="2657.2" x2="324.85" y2="2662.9" stroke="#000" stroke-width="1.98" />
<line x1="336.41" y1="2657.2" x2="336.41" y2="2662.9" stroke="#000" stroke-width="1.98" />
<line x1="347.96" y1="2657.2" x2="347.96" y2="2662.9" stroke="#000" stroke-width="1.98" />
<line x1="359.51" y1="2657.2" x2="359.51" y2="2662.9" stroke="#000" stroke-width="1.98" />
<line x1="371.06" y1="2657.2" x2="371.06" y2="2662.9" stroke="#000" stroke-width="1.98" />
<line x1="382.62" y1="2657.2" x2="382.62" y2="2662.9" stroke="#000" stroke-width="1.98" />
<line x1="394.17" y1="2657.2" x2="394.17" y2="2662.9" stroke="#000" stroke-width="1.98" />
<line x1="405.72" y1="2657.2" x2="405.72" y2="2662.9" stroke="#000" stroke-width="1.98" />
<line x1="417.27" y1="2657.2" x2="417.27" y2="2666.7" stroke="#000" stroke-width="1.98" />
<line x1="428.83" y1="2657.2" x2="428.83" y2="2662.9" stroke="#000" stroke-width="1.98" />
<line x1="440.38" y1="2657.2" x2="440.38" y2="2662.9" stroke="#000" stroke-width="1.98" />
<line x1="451.93" y1="2657.2" x2="451.93" y2="2662.9" stroke="#000" stroke-width="1.98" />
<line x1="463.48" y1="2657.2" x2="463.48" y2="2662.9" stroke="#000" stroke-width="1.98" />
<line x1="475.04" y1="2657.2" x2="475.04" y2="2662.9" stroke="#000" stroke-width="1.98" />
<line x1="486.59" y1="2657.2" x2="486.59" y2="2662.9" stroke="#000" stroke-width="1.98" />
<line x1="498.14" y1="2657.2" x2="498.14" y2="2662.9" stroke="#000" stroke-width="1.98" />
<line x1="509.69" y1="2657.2" x2="509.69" y2="2662.9" stroke="#000" stroke-width="1.98" />
<line x1="521.25" y1="2657.2" x2="521.25" y2="2662.9" stroke="#000" stroke-width="1.98" />
<line x1="532.8" y1="2657.2" x2="532.8" y2="2666.7" stroke="#000" stroke-width="1.98" />
<text x="70.7" y="2684" font-size="16" text-anchor="middle">0</text>
<text x="186.23" y="2684" font-size="16" text-anchor="middle">20</text>
<text x="301.75" y="2684" font-size="16" text-anchor="middle">40</text>
<text x="417.27" y="2684" font-size="16" text-anchor="middle">60</text>
<text x="532.8" y="2684" font-size="16" text-anchor="middle">80</text>
<text x="298.5" y="2710.2" font-size="17.9" text-anchor="middle">Time (minutes)</text>
<text x="34.5" y="2497.7" font-size="16.2" text-anchor="middle" transform="rotate(-90 34.5 2497.7)">OCR (pmol/min/1000 cells)</text>
<text x="694.5" y="2248" font-size="22.9">Mitochondrial Respiration</text>
<line x1="581.4" y1="2271" x2="605.4" y2="2271" stroke="#6cb545" stroke-width="2.8" />
<rect x="588.9" y="2266.5" width="9" height="9" fill="#6cb545" stroke="none" stroke-width="1" />
<text x="618.6" y="2276.9" font-size="16.4">GW6471-Con</text>
<line x1="581.4" y1="2301" x2="605.4" y2="2301" stroke="#3a6cc0" stroke-width="2.8" />
<polygon points="593.4,2306.58 588,2297.22 598.8,2297.22" fill="#3a6cc0" stroke="none" stroke-width="1" />
<text x="618.6" y="2306.9" font-size="16.4">GW6471-GW7647</text>
<line x1="807" y1="2271" x2="831" y2="2271" stroke="#e4262b" stroke-width="2.8" />
<polygon points="819,2265.42 813.6,2274.78 824.4,2274.78" fill="#e4262b" stroke="none" stroke-width="1" />
<text x="844.1" y="2276.9" font-size="16.4">GW6471-CD3/CD28</text>
<line x1="807" y1="2301" x2="831" y2="2301" stroke="#7b3fb0" stroke-width="2.8" />
<polygon points="819,2295.42 823.5,2301 819,2306.58 814.5,2301" fill="#7b3fb0" stroke="none" stroke-width="1" />
<text x="844.1" y="2306.9" font-size="16.4">GW6471-CD3/CD28+GW7647</text>
<line x1="716.6" y1="2346" x2="716.6" y2="2659" stroke="#111" stroke-width="1.3" stroke-dasharray="3,2"/>
<line x1="832" y1="2346" x2="832" y2="2659" stroke="#111" stroke-width="1.3" stroke-dasharray="3,2"/>
<line x1="948" y1="2346" x2="948" y2="2659" stroke="#111" stroke-width="1.3" stroke-dasharray="3,2"/>
<text x="711" y="2339" font-size="16.3" text-anchor="middle">Oligo</text>
<text x="826" y="2339" font-size="16.3" text-anchor="middle">FCCP</text>
<text x="942" y="2339" font-size="16.3" text-anchor="middle">Rot/AA</text>
<polyline points="622.16,2567.6 660.72,2568.86 699.56,2570.11 738.98,2627.7 777.54,2626.45 817.25,2627.7 856.39,2628.95 894.94,2630.2 934.08,2618.94 973.79,2630.2 1012.92,2638.97 1051.48,2641.47" fill="none" stroke="#6cb545" stroke-width="2.2" stroke-linejoin="round" />
<line x1="622.16" y1="2565.1" x2="622.16" y2="2570.11" stroke="#6cb545" stroke-width="1.8" />
<line x1="618.16" y1="2565.1" x2="626.16" y2="2565.1" stroke="#6cb545" stroke-width="1.8" />
<line x1="618.16" y1="2570.11" x2="626.16" y2="2570.11" stroke="#6cb545" stroke-width="1.8" />
<line x1="660.72" y1="2566.35" x2="660.72" y2="2571.36" stroke="#6cb545" stroke-width="1.8" />
<line x1="656.72" y1="2566.35" x2="664.72" y2="2566.35" stroke="#6cb545" stroke-width="1.8" />
<line x1="656.72" y1="2571.36" x2="664.72" y2="2571.36" stroke="#6cb545" stroke-width="1.8" />
<line x1="699.56" y1="2567.6" x2="699.56" y2="2572.61" stroke="#6cb545" stroke-width="1.8" />
<line x1="695.56" y1="2567.6" x2="703.56" y2="2567.6" stroke="#6cb545" stroke-width="1.8" />
<line x1="695.56" y1="2572.61" x2="703.56" y2="2572.61" stroke="#6cb545" stroke-width="1.8" />
<line x1="738.98" y1="2625.2" x2="738.98" y2="2630.2" stroke="#6cb545" stroke-width="1.8" />
<line x1="734.98" y1="2625.2" x2="742.98" y2="2625.2" stroke="#6cb545" stroke-width="1.8" />
<line x1="734.98" y1="2630.2" x2="742.98" y2="2630.2" stroke="#6cb545" stroke-width="1.8" />
<line x1="777.54" y1="2623.94" x2="777.54" y2="2628.95" stroke="#6cb545" stroke-width="1.8" />
<line x1="773.54" y1="2623.94" x2="781.54" y2="2623.94" stroke="#6cb545" stroke-width="1.8" />
<line x1="773.54" y1="2628.95" x2="781.54" y2="2628.95" stroke="#6cb545" stroke-width="1.8" />
<line x1="817.25" y1="2625.2" x2="817.25" y2="2630.2" stroke="#6cb545" stroke-width="1.8" />
<line x1="813.25" y1="2625.2" x2="821.25" y2="2625.2" stroke="#6cb545" stroke-width="1.8" />
<line x1="813.25" y1="2630.2" x2="821.25" y2="2630.2" stroke="#6cb545" stroke-width="1.8" />
<line x1="856.39" y1="2626.45" x2="856.39" y2="2631.46" stroke="#6cb545" stroke-width="1.8" />
<line x1="852.39" y1="2626.45" x2="860.39" y2="2626.45" stroke="#6cb545" stroke-width="1.8" />
<line x1="852.39" y1="2631.46" x2="860.39" y2="2631.46" stroke="#6cb545" stroke-width="1.8" />
<line x1="894.94" y1="2627.7" x2="894.94" y2="2632.71" stroke="#6cb545" stroke-width="1.8" />
<line x1="890.94" y1="2627.7" x2="898.94" y2="2627.7" stroke="#6cb545" stroke-width="1.8" />
<line x1="890.94" y1="2632.71" x2="898.94" y2="2632.71" stroke="#6cb545" stroke-width="1.8" />
<line x1="934.08" y1="2616.43" x2="934.08" y2="2621.44" stroke="#6cb545" stroke-width="1.8" />
<line x1="930.08" y1="2616.43" x2="938.08" y2="2616.43" stroke="#6cb545" stroke-width="1.8" />
<line x1="930.08" y1="2621.44" x2="938.08" y2="2621.44" stroke="#6cb545" stroke-width="1.8" />
<line x1="973.79" y1="2627.7" x2="973.79" y2="2632.71" stroke="#6cb545" stroke-width="1.8" />
<line x1="969.79" y1="2627.7" x2="977.79" y2="2627.7" stroke="#6cb545" stroke-width="1.8" />
<line x1="969.79" y1="2632.71" x2="977.79" y2="2632.71" stroke="#6cb545" stroke-width="1.8" />
<line x1="1012.92" y1="2636.46" x2="1012.92" y2="2641.47" stroke="#6cb545" stroke-width="1.8" />
<line x1="1008.92" y1="2636.46" x2="1016.92" y2="2636.46" stroke="#6cb545" stroke-width="1.8" />
<line x1="1008.92" y1="2641.47" x2="1016.92" y2="2641.47" stroke="#6cb545" stroke-width="1.8" />
<line x1="1051.48" y1="2638.97" x2="1051.48" y2="2643.98" stroke="#6cb545" stroke-width="1.8" />
<line x1="1047.48" y1="2638.97" x2="1055.48" y2="2638.97" stroke="#6cb545" stroke-width="1.8" />
<line x1="1047.48" y1="2643.98" x2="1055.48" y2="2643.98" stroke="#6cb545" stroke-width="1.8" />
<rect x="617.16" y="2562.6" width="10" height="10" fill="#6cb545" stroke="none" stroke-width="1" />
<rect x="655.72" y="2563.86" width="10" height="10" fill="#6cb545" stroke="none" stroke-width="1" />
<rect x="694.56" y="2565.11" width="10" height="10" fill="#6cb545" stroke="none" stroke-width="1" />
<rect x="733.98" y="2622.7" width="10" height="10" fill="#6cb545" stroke="none" stroke-width="1" />
<rect x="772.54" y="2621.45" width="10" height="10" fill="#6cb545" stroke="none" stroke-width="1" />
<rect x="812.25" y="2622.7" width="10" height="10" fill="#6cb545" stroke="none" stroke-width="1" />
<rect x="851.39" y="2623.95" width="10" height="10" fill="#6cb545" stroke="none" stroke-width="1" />
<rect x="889.94" y="2625.2" width="10" height="10" fill="#6cb545" stroke="none" stroke-width="1" />
<rect x="929.08" y="2613.94" width="10" height="10" fill="#6cb545" stroke="none" stroke-width="1" />
<rect x="968.79" y="2625.2" width="10" height="10" fill="#6cb545" stroke="none" stroke-width="1" />
<rect x="1007.92" y="2633.97" width="10" height="10" fill="#6cb545" stroke="none" stroke-width="1" />
<rect x="1046.48" y="2636.47" width="10" height="10" fill="#6cb545" stroke="none" stroke-width="1" />
<polyline points="622.16,2557.59 660.72,2567.6 699.56,2568.86 738.98,2628.95 777.54,2626.45 817.25,2628.95 856.39,2621.44 894.94,2617.68 934.08,2611.42 973.79,2627.7 1012.92,2630.2 1051.48,2631.46" fill="none" stroke="#3a6cc0" stroke-width="1.6" stroke-linejoin="round" />
<line x1="622.16" y1="2555.08" x2="622.16" y2="2560.09" stroke="#3a6cc0" stroke-width="1.8" />
<line x1="618.16" y1="2555.08" x2="626.16" y2="2555.08" stroke="#3a6cc0" stroke-width="1.8" />
<line x1="618.16" y1="2560.09" x2="626.16" y2="2560.09" stroke="#3a6cc0" stroke-width="1.8" />
<line x1="660.72" y1="2565.1" x2="660.72" y2="2570.11" stroke="#3a6cc0" stroke-width="1.8" />
<line x1="656.72" y1="2565.1" x2="664.72" y2="2565.1" stroke="#3a6cc0" stroke-width="1.8" />
<line x1="656.72" y1="2570.11" x2="664.72" y2="2570.11" stroke="#3a6cc0" stroke-width="1.8" />
<line x1="699.56" y1="2566.35" x2="699.56" y2="2571.36" stroke="#3a6cc0" stroke-width="1.8" />
<line x1="695.56" y1="2566.35" x2="703.56" y2="2566.35" stroke="#3a6cc0" stroke-width="1.8" />
<line x1="695.56" y1="2571.36" x2="703.56" y2="2571.36" stroke="#3a6cc0" stroke-width="1.8" />
<line x1="738.98" y1="2626.45" x2="738.98" y2="2631.46" stroke="#3a6cc0" stroke-width="1.8" />
<line x1="734.98" y1="2626.45" x2="742.98" y2="2626.45" stroke="#3a6cc0" stroke-width="1.8" />
<line x1="734.98" y1="2631.46" x2="742.98" y2="2631.46" stroke="#3a6cc0" stroke-width="1.8" />
<line x1="777.54" y1="2623.94" x2="777.54" y2="2628.95" stroke="#3a6cc0" stroke-width="1.8" />
<line x1="773.54" y1="2623.94" x2="781.54" y2="2623.94" stroke="#3a6cc0" stroke-width="1.8" />
<line x1="773.54" y1="2628.95" x2="781.54" y2="2628.95" stroke="#3a6cc0" stroke-width="1.8" />
<line x1="817.25" y1="2626.45" x2="817.25" y2="2631.46" stroke="#3a6cc0" stroke-width="1.8" />
<line x1="813.25" y1="2626.45" x2="821.25" y2="2626.45" stroke="#3a6cc0" stroke-width="1.8" />
<line x1="813.25" y1="2631.46" x2="821.25" y2="2631.46" stroke="#3a6cc0" stroke-width="1.8" />
<line x1="856.39" y1="2617.68" x2="856.39" y2="2625.2" stroke="#3a6cc0" stroke-width="1.8" />
<line x1="852.39" y1="2617.68" x2="860.39" y2="2617.68" stroke="#3a6cc0" stroke-width="1.8" />
<line x1="852.39" y1="2625.2" x2="860.39" y2="2625.2" stroke="#3a6cc0" stroke-width="1.8" />
<line x1="894.94" y1="2611.42" x2="894.94" y2="2623.94" stroke="#3a6cc0" stroke-width="1.8" />
<line x1="890.94" y1="2611.42" x2="898.94" y2="2611.42" stroke="#3a6cc0" stroke-width="1.8" />
<line x1="890.94" y1="2623.94" x2="898.94" y2="2623.94" stroke="#3a6cc0" stroke-width="1.8" />
<line x1="934.08" y1="2605.16" x2="934.08" y2="2617.68" stroke="#3a6cc0" stroke-width="1.8" />
<line x1="930.08" y1="2605.16" x2="938.08" y2="2605.16" stroke="#3a6cc0" stroke-width="1.8" />
<line x1="930.08" y1="2617.68" x2="938.08" y2="2617.68" stroke="#3a6cc0" stroke-width="1.8" />
<line x1="973.79" y1="2625.2" x2="973.79" y2="2630.2" stroke="#3a6cc0" stroke-width="1.8" />
<line x1="969.79" y1="2625.2" x2="977.79" y2="2625.2" stroke="#3a6cc0" stroke-width="1.8" />
<line x1="969.79" y1="2630.2" x2="977.79" y2="2630.2" stroke="#3a6cc0" stroke-width="1.8" />
<line x1="1012.92" y1="2627.7" x2="1012.92" y2="2632.71" stroke="#3a6cc0" stroke-width="1.8" />
<line x1="1008.92" y1="2627.7" x2="1016.92" y2="2627.7" stroke="#3a6cc0" stroke-width="1.8" />
<line x1="1008.92" y1="2632.71" x2="1016.92" y2="2632.71" stroke="#3a6cc0" stroke-width="1.8" />
<line x1="1051.48" y1="2628.95" x2="1051.48" y2="2633.96" stroke="#3a6cc0" stroke-width="1.8" />
<line x1="1047.48" y1="2628.95" x2="1055.48" y2="2628.95" stroke="#3a6cc0" stroke-width="1.8" />
<line x1="1047.48" y1="2633.96" x2="1055.48" y2="2633.96" stroke="#3a6cc0" stroke-width="1.8" />
<polygon points="622.16,2563.79 616.16,2553.39 628.16,2553.39" fill="#3a6cc0" stroke="none" stroke-width="1" />
<polygon points="660.72,2573.8 654.72,2563.4 666.72,2563.4" fill="#3a6cc0" stroke="none" stroke-width="1" />
<polygon points="699.56,2575.06 693.56,2564.66 705.56,2564.66" fill="#3a6cc0" stroke="none" stroke-width="1" />
<polygon points="738.98,2635.15 732.98,2624.75 744.98,2624.75" fill="#3a6cc0" stroke="none" stroke-width="1" />
<polygon points="777.54,2632.65 771.54,2622.25 783.54,2622.25" fill="#3a6cc0" stroke="none" stroke-width="1" />
<polygon points="817.25,2635.15 811.25,2624.75 823.25,2624.75" fill="#3a6cc0" stroke="none" stroke-width="1" />
<polygon points="856.39,2627.64 850.39,2617.24 862.39,2617.24" fill="#3a6cc0" stroke="none" stroke-width="1" />
<polygon points="894.94,2623.88 888.94,2613.48 900.94,2613.48" fill="#3a6cc0" stroke="none" stroke-width="1" />
<polygon points="934.08,2617.62 928.08,2607.22 940.08,2607.22" fill="#3a6cc0" stroke="none" stroke-width="1" />
<polygon points="973.79,2633.9 967.79,2623.5 979.79,2623.5" fill="#3a6cc0" stroke="none" stroke-width="1" />
<polygon points="1012.92,2636.4 1006.92,2626 1018.92,2626" fill="#3a6cc0" stroke="none" stroke-width="1" />
<polygon points="1051.48,2637.66 1045.48,2627.26 1057.48,2627.26" fill="#3a6cc0" stroke="none" stroke-width="1" />
<polyline points="622.16,2513.77 660.72,2525.04 699.56,2525.04 738.98,2616.43 777.54,2610.17 817.25,2605.16 856.39,2393.58 894.94,2436.14 934.08,2438.65 973.79,2616.43 1012.92,2618.94 1051.48,2620.19" fill="none" stroke="#7b3fb0" stroke-width="2.2" stroke-linejoin="round" />
<line x1="622.16" y1="2491.23" x2="622.16" y2="2536.3" stroke="#7b3fb0" stroke-width="1.8" />
<line x1="618.16" y1="2491.23" x2="626.16" y2="2491.23" stroke="#7b3fb0" stroke-width="1.8" />
<line x1="618.16" y1="2536.3" x2="626.16" y2="2536.3" stroke="#7b3fb0" stroke-width="1.8" />
<line x1="660.72" y1="2505" x2="660.72" y2="2545.07" stroke="#7b3fb0" stroke-width="1.8" />
<line x1="656.72" y1="2505" x2="664.72" y2="2505" stroke="#7b3fb0" stroke-width="1.8" />
<line x1="656.72" y1="2545.07" x2="664.72" y2="2545.07" stroke="#7b3fb0" stroke-width="1.8" />
<line x1="699.56" y1="2507.51" x2="699.56" y2="2542.56" stroke="#7b3fb0" stroke-width="1.8" />
<line x1="695.56" y1="2507.51" x2="703.56" y2="2507.51" stroke="#7b3fb0" stroke-width="1.8" />
<line x1="695.56" y1="2542.56" x2="703.56" y2="2542.56" stroke="#7b3fb0" stroke-width="1.8" />
<line x1="738.98" y1="2606.42" x2="738.98" y2="2626.45" stroke="#7b3fb0" stroke-width="1.8" />
<line x1="734.98" y1="2606.42" x2="742.98" y2="2606.42" stroke="#7b3fb0" stroke-width="1.8" />
<line x1="734.98" y1="2626.45" x2="742.98" y2="2626.45" stroke="#7b3fb0" stroke-width="1.8" />
<line x1="777.54" y1="2600.16" x2="777.54" y2="2620.19" stroke="#7b3fb0" stroke-width="1.8" />
<line x1="773.54" y1="2600.16" x2="781.54" y2="2600.16" stroke="#7b3fb0" stroke-width="1.8" />
<line x1="773.54" y1="2620.19" x2="781.54" y2="2620.19" stroke="#7b3fb0" stroke-width="1.8" />
<line x1="817.25" y1="2595.15" x2="817.25" y2="2615.18" stroke="#7b3fb0" stroke-width="1.8" />
<line x1="813.25" y1="2595.15" x2="821.25" y2="2595.15" stroke="#7b3fb0" stroke-width="1.8" />
<line x1="813.25" y1="2615.18" x2="821.25" y2="2615.18" stroke="#7b3fb0" stroke-width="1.8" />
<line x1="856.39" y1="2387.32" x2="856.39" y2="2399.84" stroke="#7b3fb0" stroke-width="1.8" />
<line x1="852.39" y1="2387.32" x2="860.39" y2="2387.32" stroke="#7b3fb0" stroke-width="1.8" />
<line x1="852.39" y1="2399.84" x2="860.39" y2="2399.84" stroke="#7b3fb0" stroke-width="1.8" />
<line x1="894.94" y1="2429.88" x2="894.94" y2="2442.4" stroke="#7b3fb0" stroke-width="1.8" />
<line x1="890.94" y1="2429.88" x2="898.94" y2="2429.88" stroke="#7b3fb0" stroke-width="1.8" />
<line x1="890.94" y1="2442.4" x2="898.94" y2="2442.4" stroke="#7b3fb0" stroke-width="1.8" />
<line x1="934.08" y1="2432.39" x2="934.08" y2="2444.91" stroke="#7b3fb0" stroke-width="1.8" />
<line x1="930.08" y1="2432.39" x2="938.08" y2="2432.39" stroke="#7b3fb0" stroke-width="1.8" />
<line x1="930.08" y1="2444.91" x2="938.08" y2="2444.91" stroke="#7b3fb0" stroke-width="1.8" />
<line x1="973.79" y1="2608.92" x2="973.79" y2="2623.94" stroke="#7b3fb0" stroke-width="1.8" />
<line x1="969.79" y1="2608.92" x2="977.79" y2="2608.92" stroke="#7b3fb0" stroke-width="1.8" />
<line x1="969.79" y1="2623.94" x2="977.79" y2="2623.94" stroke="#7b3fb0" stroke-width="1.8" />
<line x1="1012.92" y1="2611.42" x2="1012.92" y2="2626.45" stroke="#7b3fb0" stroke-width="1.8" />
<line x1="1008.92" y1="2611.42" x2="1016.92" y2="2611.42" stroke="#7b3fb0" stroke-width="1.8" />
<line x1="1008.92" y1="2626.45" x2="1016.92" y2="2626.45" stroke="#7b3fb0" stroke-width="1.8" />
<line x1="1051.48" y1="2613.93" x2="1051.48" y2="2626.45" stroke="#7b3fb0" stroke-width="1.8" />
<line x1="1047.48" y1="2613.93" x2="1055.48" y2="2613.93" stroke="#7b3fb0" stroke-width="1.8" />
<line x1="1047.48" y1="2626.45" x2="1055.48" y2="2626.45" stroke="#7b3fb0" stroke-width="1.8" />
<polygon points="622.16,2507.57 627.16,2513.77 622.16,2519.97 617.16,2513.77" fill="#7b3fb0" stroke="none" stroke-width="1" />
<polygon points="660.72,2518.84 665.72,2525.04 660.72,2531.24 655.72,2525.04" fill="#7b3fb0" stroke="none" stroke-width="1" />
<polygon points="699.56,2518.84 704.56,2525.04 699.56,2531.24 694.56,2525.04" fill="#7b3fb0" stroke="none" stroke-width="1" />
<polygon points="738.98,2610.23 743.98,2616.43 738.98,2622.63 733.98,2616.43" fill="#7b3fb0" stroke="none" stroke-width="1" />
<polygon points="777.54,2603.97 782.54,2610.17 777.54,2616.37 772.54,2610.17" fill="#7b3fb0" stroke="none" stroke-width="1" />
<polygon points="817.25,2598.96 822.25,2605.16 817.25,2611.36 812.25,2605.16" fill="#7b3fb0" stroke="none" stroke-width="1" />
<polygon points="856.39,2387.38 861.39,2393.58 856.39,2399.78 851.39,2393.58" fill="#7b3fb0" stroke="none" stroke-width="1" />
<polygon points="894.94,2429.94 899.94,2436.14 894.94,2442.34 889.94,2436.14" fill="#7b3fb0" stroke="none" stroke-width="1" />
<polygon points="934.08,2432.45 939.08,2438.65 934.08,2444.85 929.08,2438.65" fill="#7b3fb0" stroke="none" stroke-width="1" />
<polygon points="973.79,2610.23 978.79,2616.43 973.79,2622.63 968.79,2616.43" fill="#7b3fb0" stroke="none" stroke-width="1" />
<polygon points="1012.92,2612.74 1017.92,2618.94 1012.92,2625.14 1007.92,2618.94" fill="#7b3fb0" stroke="none" stroke-width="1" />
<polygon points="1051.48,2613.99 1056.48,2620.19 1051.48,2626.39 1046.48,2620.19" fill="#7b3fb0" stroke="none" stroke-width="1" />
<polyline points="622.16,2536.3 660.72,2537.56 699.56,2536.3 738.98,2618.94 777.54,2613.93 817.25,2611.42 856.39,2409.85 894.94,2453.67 934.08,2453.67 973.79,2620.19 1012.92,2625.2 1051.48,2630.2" fill="none" stroke="#e4262b" stroke-width="2.2" stroke-linejoin="round" />
<line x1="622.16" y1="2528.79" x2="622.16" y2="2543.82" stroke="#e4262b" stroke-width="1.8" />
<line x1="618.16" y1="2528.79" x2="626.16" y2="2528.79" stroke="#e4262b" stroke-width="1.8" />
<line x1="618.16" y1="2543.82" x2="626.16" y2="2543.82" stroke="#e4262b" stroke-width="1.8" />
<line x1="660.72" y1="2532.55" x2="660.72" y2="2542.56" stroke="#e4262b" stroke-width="1.8" />
<line x1="656.72" y1="2532.55" x2="664.72" y2="2532.55" stroke="#e4262b" stroke-width="1.8" />
<line x1="656.72" y1="2542.56" x2="664.72" y2="2542.56" stroke="#e4262b" stroke-width="1.8" />
<line x1="699.56" y1="2531.3" x2="699.56" y2="2541.31" stroke="#e4262b" stroke-width="1.8" />
<line x1="695.56" y1="2531.3" x2="703.56" y2="2531.3" stroke="#e4262b" stroke-width="1.8" />
<line x1="695.56" y1="2541.31" x2="703.56" y2="2541.31" stroke="#e4262b" stroke-width="1.8" />
<line x1="738.98" y1="2616.43" x2="738.98" y2="2621.44" stroke="#e4262b" stroke-width="1.8" />
<line x1="734.98" y1="2616.43" x2="742.98" y2="2616.43" stroke="#e4262b" stroke-width="1.8" />
<line x1="734.98" y1="2621.44" x2="742.98" y2="2621.44" stroke="#e4262b" stroke-width="1.8" />
<line x1="777.54" y1="2611.42" x2="777.54" y2="2616.43" stroke="#e4262b" stroke-width="1.8" />
<line x1="773.54" y1="2611.42" x2="781.54" y2="2611.42" stroke="#e4262b" stroke-width="1.8" />
<line x1="773.54" y1="2616.43" x2="781.54" y2="2616.43" stroke="#e4262b" stroke-width="1.8" />
<line x1="817.25" y1="2608.92" x2="817.25" y2="2613.93" stroke="#e4262b" stroke-width="1.8" />
<line x1="813.25" y1="2608.92" x2="821.25" y2="2608.92" stroke="#e4262b" stroke-width="1.8" />
<line x1="813.25" y1="2613.93" x2="821.25" y2="2613.93" stroke="#e4262b" stroke-width="1.8" />
<line x1="856.39" y1="2401.09" x2="856.39" y2="2418.62" stroke="#e4262b" stroke-width="1.8" />
<line x1="852.39" y1="2401.09" x2="860.39" y2="2401.09" stroke="#e4262b" stroke-width="1.8" />
<line x1="852.39" y1="2418.62" x2="860.39" y2="2418.62" stroke="#e4262b" stroke-width="1.8" />
<line x1="894.94" y1="2448.66" x2="894.94" y2="2458.68" stroke="#e4262b" stroke-width="1.8" />
<line x1="890.94" y1="2448.66" x2="898.94" y2="2448.66" stroke="#e4262b" stroke-width="1.8" />
<line x1="890.94" y1="2458.68" x2="898.94" y2="2458.68" stroke="#e4262b" stroke-width="1.8" />
<line x1="934.08" y1="2448.66" x2="934.08" y2="2458.68" stroke="#e4262b" stroke-width="1.8" />
<line x1="930.08" y1="2448.66" x2="938.08" y2="2448.66" stroke="#e4262b" stroke-width="1.8" />
<line x1="930.08" y1="2458.68" x2="938.08" y2="2458.68" stroke="#e4262b" stroke-width="1.8" />
<line x1="973.79" y1="2617.68" x2="973.79" y2="2622.69" stroke="#e4262b" stroke-width="1.8" />
<line x1="969.79" y1="2617.68" x2="977.79" y2="2617.68" stroke="#e4262b" stroke-width="1.8" />
<line x1="969.79" y1="2622.69" x2="977.79" y2="2622.69" stroke="#e4262b" stroke-width="1.8" />
<line x1="1012.92" y1="2622.69" x2="1012.92" y2="2627.7" stroke="#e4262b" stroke-width="1.8" />
<line x1="1008.92" y1="2622.69" x2="1016.92" y2="2622.69" stroke="#e4262b" stroke-width="1.8" />
<line x1="1008.92" y1="2627.7" x2="1016.92" y2="2627.7" stroke="#e4262b" stroke-width="1.8" />
<line x1="1051.48" y1="2627.7" x2="1051.48" y2="2632.71" stroke="#e4262b" stroke-width="1.8" />
<line x1="1047.48" y1="2627.7" x2="1055.48" y2="2627.7" stroke="#e4262b" stroke-width="1.8" />
<line x1="1047.48" y1="2632.71" x2="1055.48" y2="2632.71" stroke="#e4262b" stroke-width="1.8" />
<polygon points="622.16,2530.1 616.16,2540.5 628.16,2540.5" fill="#e4262b" stroke="none" stroke-width="1" />
<polygon points="660.72,2531.36 654.72,2541.76 666.72,2541.76" fill="#e4262b" stroke="none" stroke-width="1" />
<polygon points="699.56,2530.1 693.56,2540.5 705.56,2540.5" fill="#e4262b" stroke="none" stroke-width="1" />
<polygon points="738.98,2612.74 732.98,2623.14 744.98,2623.14" fill="#e4262b" stroke="none" stroke-width="1" />
<polygon points="777.54,2607.73 771.54,2618.13 783.54,2618.13" fill="#e4262b" stroke="none" stroke-width="1" />
<polygon points="817.25,2605.22 811.25,2615.62 823.25,2615.62" fill="#e4262b" stroke="none" stroke-width="1" />
<polygon points="856.39,2403.65 850.39,2414.05 862.39,2414.05" fill="#e4262b" stroke="none" stroke-width="1" />
<polygon points="894.94,2447.47 888.94,2457.87 900.94,2457.87" fill="#e4262b" stroke="none" stroke-width="1" />
<polygon points="934.08,2447.47 928.08,2457.87 940.08,2457.87" fill="#e4262b" stroke="none" stroke-width="1" />
<polygon points="973.79,2613.99 967.79,2624.39 979.79,2624.39" fill="#e4262b" stroke="none" stroke-width="1" />
<polygon points="1012.92,2619 1006.92,2629.4 1018.92,2629.4" fill="#e4262b" stroke="none" stroke-width="1" />
<polygon points="1051.48,2624 1045.48,2634.4 1057.48,2634.4" fill="#e4262b" stroke="none" stroke-width="1" />
<line x1="614.1" y1="2345" x2="614.1" y2="2660.1" stroke="#000" stroke-width="2.2" />
<line x1="613" y1="2659" x2="1075.5" y2="2659" stroke="#000" stroke-width="2.2" />
<line x1="604.6" y1="2659" x2="614.1" y2="2659" stroke="#000" stroke-width="1.98" />
<text x="602.6" y="2664.76" font-size="16" text-anchor="end">0</text>
<line x1="604.6" y1="2596.4" x2="614.1" y2="2596.4" stroke="#000" stroke-width="1.98" />
<text x="602.6" y="2602.16" font-size="16" text-anchor="end">0.5</text>
<line x1="604.6" y1="2533.8" x2="614.1" y2="2533.8" stroke="#000" stroke-width="1.98" />
<text x="602.6" y="2539.56" font-size="16" text-anchor="end">1.0</text>
<line x1="604.6" y1="2471.2" x2="614.1" y2="2471.2" stroke="#000" stroke-width="1.98" />
<text x="602.6" y="2476.96" font-size="16" text-anchor="end">1.5</text>
<line x1="604.6" y1="2408.6" x2="614.1" y2="2408.6" stroke="#000" stroke-width="1.98" />
<text x="602.6" y="2414.36" font-size="16" text-anchor="end">2.0</text>
<line x1="604.6" y1="2346" x2="614.1" y2="2346" stroke="#000" stroke-width="1.98" />
<text x="602.6" y="2351.76" font-size="16" text-anchor="end">2.5</text>
<line x1="614.1" y1="2659" x2="614.1" y2="2668.5" stroke="#000" stroke-width="1.98" />
<line x1="625.61" y1="2659" x2="625.61" y2="2664.7" stroke="#000" stroke-width="1.98" />
<line x1="637.12" y1="2659" x2="637.12" y2="2664.7" stroke="#000" stroke-width="1.98" />
<line x1="648.63" y1="2659" x2="648.63" y2="2664.7" stroke="#000" stroke-width="1.98" />
<line x1="660.14" y1="2659" x2="660.14" y2="2664.7" stroke="#000" stroke-width="1.98" />
<line x1="671.65" y1="2659" x2="671.65" y2="2664.7" stroke="#000" stroke-width="1.98" />
<line x1="683.16" y1="2659" x2="683.16" y2="2664.7" stroke="#000" stroke-width="1.98" />
<line x1="694.67" y1="2659" x2="694.67" y2="2664.7" stroke="#000" stroke-width="1.98" />
<line x1="706.18" y1="2659" x2="706.18" y2="2664.7" stroke="#000" stroke-width="1.98" />
<line x1="717.69" y1="2659" x2="717.69" y2="2664.7" stroke="#000" stroke-width="1.98" />
<line x1="729.2" y1="2659" x2="729.2" y2="2668.5" stroke="#000" stroke-width="1.98" />
<line x1="740.71" y1="2659" x2="740.71" y2="2664.7" stroke="#000" stroke-width="1.98" />
<line x1="752.22" y1="2659" x2="752.22" y2="2664.7" stroke="#000" stroke-width="1.98" />
<line x1="763.73" y1="2659" x2="763.73" y2="2664.7" stroke="#000" stroke-width="1.98" />
<line x1="775.24" y1="2659" x2="775.24" y2="2664.7" stroke="#000" stroke-width="1.98" />
<line x1="786.75" y1="2659" x2="786.75" y2="2664.7" stroke="#000" stroke-width="1.98" />
<line x1="798.26" y1="2659" x2="798.26" y2="2664.7" stroke="#000" stroke-width="1.98" />
<line x1="809.77" y1="2659" x2="809.77" y2="2664.7" stroke="#000" stroke-width="1.98" />
<line x1="821.28" y1="2659" x2="821.28" y2="2664.7" stroke="#000" stroke-width="1.98" />
<line x1="832.79" y1="2659" x2="832.79" y2="2664.7" stroke="#000" stroke-width="1.98" />
<line x1="844.3" y1="2659" x2="844.3" y2="2668.5" stroke="#000" stroke-width="1.98" />
<line x1="855.81" y1="2659" x2="855.81" y2="2664.7" stroke="#000" stroke-width="1.98" />
<line x1="867.32" y1="2659" x2="867.32" y2="2664.7" stroke="#000" stroke-width="1.98" />
<line x1="878.83" y1="2659" x2="878.83" y2="2664.7" stroke="#000" stroke-width="1.98" />
<line x1="890.34" y1="2659" x2="890.34" y2="2664.7" stroke="#000" stroke-width="1.98" />
<line x1="901.85" y1="2659" x2="901.85" y2="2664.7" stroke="#000" stroke-width="1.98" />
<line x1="913.36" y1="2659" x2="913.36" y2="2664.7" stroke="#000" stroke-width="1.98" />
<line x1="924.87" y1="2659" x2="924.87" y2="2664.7" stroke="#000" stroke-width="1.98" />
<line x1="936.38" y1="2659" x2="936.38" y2="2664.7" stroke="#000" stroke-width="1.98" />
<line x1="947.89" y1="2659" x2="947.89" y2="2664.7" stroke="#000" stroke-width="1.98" />
<line x1="959.4" y1="2659" x2="959.4" y2="2668.5" stroke="#000" stroke-width="1.98" />
<line x1="970.91" y1="2659" x2="970.91" y2="2664.7" stroke="#000" stroke-width="1.98" />
<line x1="982.42" y1="2659" x2="982.42" y2="2664.7" stroke="#000" stroke-width="1.98" />
<line x1="993.93" y1="2659" x2="993.93" y2="2664.7" stroke="#000" stroke-width="1.98" />
<line x1="1005.44" y1="2659" x2="1005.44" y2="2664.7" stroke="#000" stroke-width="1.98" />
<line x1="1016.95" y1="2659" x2="1016.95" y2="2664.7" stroke="#000" stroke-width="1.98" />
<line x1="1028.46" y1="2659" x2="1028.46" y2="2664.7" stroke="#000" stroke-width="1.98" />
<line x1="1039.97" y1="2659" x2="1039.97" y2="2664.7" stroke="#000" stroke-width="1.98" />
<line x1="1051.48" y1="2659" x2="1051.48" y2="2664.7" stroke="#000" stroke-width="1.98" />
<line x1="1062.99" y1="2659" x2="1062.99" y2="2664.7" stroke="#000" stroke-width="1.98" />
<line x1="1074.5" y1="2659" x2="1074.5" y2="2668.5" stroke="#000" stroke-width="1.98" />
<text x="614.1" y="2684" font-size="16" text-anchor="middle">0</text>
<text x="729.2" y="2684" font-size="16" text-anchor="middle">20</text>
<text x="844.3" y="2684" font-size="16" text-anchor="middle">40</text>
<text x="959.4" y="2684" font-size="16" text-anchor="middle">60</text>
<text x="1074.5" y="2684" font-size="16" text-anchor="middle">80</text>
<text x="845" y="2710.2" font-size="18" text-anchor="middle">Time (minutes)</text>
<text x="574" y="2497.7" font-size="16.2" text-anchor="middle" transform="rotate(-90 574 2497.7)">OCR (pmol/min/1000 cells)</text>
<text x="1094.5" y="1743.3" font-size="22">I</text>
<text x="1242.6" y="1807.8" font-size="22.84">Basal respiration</text>
<text x="1655.7" y="1807" font-size="22.82">Maximal respiration</text>
<circle cx="1186.2" cy="1835.8" r="4.8" fill="#7d8dca" stroke="#1a1a1a" stroke-width="1.1"/>
<text x="1212" y="1841.74" font-size="16.5">Con</text>
<circle cx="1326.5" cy="1835.8" r="4.8" fill="#4cc24a" stroke="#1a1a1a" stroke-width="1.1"/>
<text x="1352.3" y="1841.74" font-size="16.5">GW501516</text>
<circle cx="1510.6" cy="1835.8" r="4.8" fill="#e62a29" stroke="#1a1a1a" stroke-width="1.1"/>
<text x="1536.5" y="1841.74" font-size="16.5">CD3/CD28</text>
<circle cx="1690.6" cy="1835.8" r="4.8" fill="#8b4cb9" stroke="#1a1a1a" stroke-width="1.1"/>
<text x="1716.6" y="1841.74" font-size="16.5">CD3/CD28+GW501516</text>
<text x="1094" y="2248.2" font-size="22">K</text>
<text x="1242.6" y="2314" font-size="22.84">Basal respiration</text>
<text x="1655.7" y="2313.2" font-size="22.82">Maximal respiration</text>
<circle cx="1186.2" cy="2337.1" r="4.8" fill="#7d8dca" stroke="#1a1a1a" stroke-width="1.1"/>
<text x="1212" y="2343.04" font-size="16.5">Con</text>
<circle cx="1326.5" cy="2337.1" r="4.8" fill="#4cc24a" stroke="#1a1a1a" stroke-width="1.1"/>
<text x="1352.3" y="2343.04" font-size="16.5">GW7647</text>
<circle cx="1510.6" cy="2337.1" r="4.8" fill="#e62a29" stroke="#1a1a1a" stroke-width="1.1"/>
<text x="1536.5" y="2343.04" font-size="16.5">CD3/CD28</text>
<circle cx="1690.6" cy="2337.1" r="4.8" fill="#8b4cb9" stroke="#1a1a1a" stroke-width="1.1"/>
<text x="1716.6" y="2343.04" font-size="16.5">CD3/CD28+GW7647</text>
<rect x="1170.35" y="2004.64" width="24.5" height="105.56" fill="#8ca1d1" stroke="#000" stroke-width="2.2" />
<line x1="1182.6" y1="2004.64" x2="1182.6" y2="2000.12" stroke="#000" stroke-width="2" />
<line x1="1175.74" y1="2000.12" x2="1189.46" y2="2000.12" stroke="#000" stroke-width="2" />
<rect x="1208.25" y="2004.64" width="24.5" height="105.56" fill="#a4e29c" stroke="#000" stroke-width="2.2" />
<line x1="1220.5" y1="2004.64" x2="1220.5" y2="2000.12" stroke="#000" stroke-width="2" />
<line x1="1213.64" y1="2000.12" x2="1227.36" y2="2000.12" stroke="#000" stroke-width="2" />
<rect x="1246.15" y="1969.96" width="24.5" height="140.24" fill="#e8808a" stroke="#000" stroke-width="2.2" />
<line x1="1258.4" y1="1969.96" x2="1258.4" y2="1963.92" stroke="#000" stroke-width="2" />
<line x1="1251.54" y1="1963.92" x2="1265.26" y2="1963.92" stroke="#000" stroke-width="2" />
<rect x="1284.35" y="1936.78" width="24.5" height="173.42" fill="#b99ad3" stroke="#000" stroke-width="2.2" />
<line x1="1296.6" y1="1936.78" x2="1296.6" y2="1930.75" stroke="#000" stroke-width="2" />
<line x1="1289.74" y1="1930.75" x2="1303.46" y2="1930.75" stroke="#000" stroke-width="2" />
<rect x="1345.75" y="2012.18" width="24.5" height="98.02" fill="#8ca1d1" stroke="#000" stroke-width="2.2" />
<line x1="1358" y1="2012.18" x2="1358" y2="2006.15" stroke="#000" stroke-width="2" />
<line x1="1351.14" y1="2006.15" x2="1364.86" y2="2006.15" stroke="#000" stroke-width="2" />
<rect x="1383.75" y="1988.05" width="24.5" height="122.15" fill="#a4e29c" stroke="#000" stroke-width="2.2" />
<line x1="1396" y1="1988.05" x2="1396" y2="1971.46" stroke="#000" stroke-width="2" />
<line x1="1389.14" y1="1971.46" x2="1402.86" y2="1971.46" stroke="#000" stroke-width="2" />
<rect x="1421.75" y="1963.92" width="24.5" height="146.28" fill="#e8808a" stroke="#000" stroke-width="2.2" />
<line x1="1434" y1="1963.92" x2="1434" y2="1957.89" stroke="#000" stroke-width="2" />
<line x1="1427.14" y1="1957.89" x2="1440.86" y2="1957.89" stroke="#000" stroke-width="2" />
<rect x="1459.75" y="1966.94" width="24.5" height="143.26" fill="#b99ad3" stroke="#000" stroke-width="2.2" />
<line x1="1472" y1="1966.94" x2="1472" y2="1957.89" stroke="#000" stroke-width="2" />
<line x1="1465.14" y1="1957.89" x2="1478.86" y2="1957.89" stroke="#000" stroke-width="2" />
<circle cx="1175.25" cy="1992.58" r="5.2" fill="#7d8dca" stroke="#1a1a1a" stroke-width="1.1"/>
<circle cx="1189.95" cy="1992.58" r="5.2" fill="#7d8dca" stroke="#1a1a1a" stroke-width="1.1"/>
<circle cx="1182.6" cy="1994.08" r="5.2" fill="#7d8dca" stroke="#1a1a1a" stroke-width="1.1"/>
<circle cx="1174.02" cy="2001.62" r="5.2" fill="#7d8dca" stroke="#1a1a1a" stroke-width="1.1"/>
<circle cx="1191.17" cy="2001.62" r="5.2" fill="#7d8dca" stroke="#1a1a1a" stroke-width="1.1"/>
<circle cx="1180.15" cy="2007.66" r="5.2" fill="#7d8dca" stroke="#1a1a1a" stroke-width="1.1"/>
<circle cx="1187.5" cy="2019.72" r="5.2" fill="#7d8dca" stroke="#1a1a1a" stroke-width="1.1"/>
<circle cx="1213.15" cy="1997.1" r="5.2" fill="#4cc24a" stroke="#1a1a1a" stroke-width="1.1"/>
<circle cx="1227.85" cy="1997.1" r="5.2" fill="#4cc24a" stroke="#1a1a1a" stroke-width="1.1"/>
<circle cx="1220.5" cy="2009.16" r="5.2" fill="#4cc24a" stroke="#1a1a1a" stroke-width="1.1"/>
<circle cx="1211.92" cy="2015.2" r="5.2" fill="#4cc24a" stroke="#1a1a1a" stroke-width="1.1"/>
<circle cx="1251.05" cy="1951.86" r="5.2" fill="#e62a29" stroke="#1a1a1a" stroke-width="1.1"/>
<circle cx="1265.75" cy="1959.4" r="5.2" fill="#e62a29" stroke="#1a1a1a" stroke-width="1.1"/>
<circle cx="1258.4" cy="1966.94" r="5.2" fill="#e62a29" stroke="#1a1a1a" stroke-width="1.1"/>
<circle cx="1249.83" cy="1966.94" r="5.2" fill="#e62a29" stroke="#1a1a1a" stroke-width="1.1"/>
<circle cx="1266.98" cy="1986.54" r="5.2" fill="#e62a29" stroke="#1a1a1a" stroke-width="1.1"/>
<circle cx="1255.95" cy="1986.54" r="5.2" fill="#e62a29" stroke="#1a1a1a" stroke-width="1.1"/>
<circle cx="1289.25" cy="1921.7" r="5.2" fill="#8b4cb9" stroke="#1a1a1a" stroke-width="1.1"/>
<circle cx="1303.95" cy="1932.26" r="5.2" fill="#8b4cb9" stroke="#1a1a1a" stroke-width="1.1"/>
<circle cx="1296.6" cy="1936.78" r="5.2" fill="#8b4cb9" stroke="#1a1a1a" stroke-width="1.1"/>
<circle cx="1288.02" cy="1944.32" r="5.2" fill="#8b4cb9" stroke="#1a1a1a" stroke-width="1.1"/>
<circle cx="1350.65" cy="1989.56" r="5.2" fill="#7d8dca" stroke="#1a1a1a" stroke-width="1.1"/>
<circle cx="1365.35" cy="2004.64" r="5.2" fill="#7d8dca" stroke="#1a1a1a" stroke-width="1.1"/>
<circle cx="1358" cy="2012.18" r="5.2" fill="#7d8dca" stroke="#1a1a1a" stroke-width="1.1"/>
<circle cx="1349.42" cy="2015.2" r="5.2" fill="#7d8dca" stroke="#1a1a1a" stroke-width="1.1"/>
<circle cx="1366.58" cy="2019.72" r="5.2" fill="#7d8dca" stroke="#1a1a1a" stroke-width="1.1"/>
<circle cx="1355.55" cy="2022.74" r="5.2" fill="#7d8dca" stroke="#1a1a1a" stroke-width="1.1"/>
<circle cx="1362.9" cy="2027.26" r="5.2" fill="#7d8dca" stroke="#1a1a1a" stroke-width="1.1"/>
<circle cx="1388.65" cy="1944.32" r="5.2" fill="#4cc24a" stroke="#1a1a1a" stroke-width="1.1"/>
<circle cx="1403.35" cy="1982.02" r="5.2" fill="#4cc24a" stroke="#1a1a1a" stroke-width="1.1"/>
<circle cx="1396" cy="2001.62" r="5.2" fill="#4cc24a" stroke="#1a1a1a" stroke-width="1.1"/>
<circle cx="1387.42" cy="2022.74" r="5.2" fill="#4cc24a" stroke="#1a1a1a" stroke-width="1.1"/>
<circle cx="1426.65" cy="1936.78" r="5.2" fill="#e62a29" stroke="#1a1a1a" stroke-width="1.1"/>
<circle cx="1441.35" cy="1959.4" r="5.2" fill="#e62a29" stroke="#1a1a1a" stroke-width="1.1"/>
<circle cx="1434" cy="1963.92" r="5.2" fill="#e62a29" stroke="#1a1a1a" stroke-width="1.1"/>
<circle cx="1425.42" cy="1965.43" r="5.2" fill="#e62a29" stroke="#1a1a1a" stroke-width="1.1"/>
<circle cx="1442.58" cy="1966.94" r="5.2" fill="#e62a29" stroke="#1a1a1a" stroke-width="1.1"/>
<circle cx="1431.55" cy="1977.5" r="5.2" fill="#e62a29" stroke="#1a1a1a" stroke-width="1.1"/>
<circle cx="1464.65" cy="1956.38" r="5.2" fill="#8b4cb9" stroke="#1a1a1a" stroke-width="1.1"/>
<circle cx="1479.35" cy="1956.38" r="5.2" fill="#8b4cb9" stroke="#1a1a1a" stroke-width="1.1"/>
<circle cx="1472" cy="1963.92" r="5.2" fill="#8b4cb9" stroke="#1a1a1a" stroke-width="1.1"/>
<circle cx="1463.42" cy="1989.56" r="5.2" fill="#8b4cb9" stroke="#1a1a1a" stroke-width="1.1"/>
<line x1="1157.2" y1="1883" x2="1157.2" y2="2111.6" stroke="#000" stroke-width="2.8" />
<line x1="1155.8" y1="2110.2" x2="1496" y2="2110.2" stroke="#000" stroke-width="2.8" />
<line x1="1149.2" y1="2110.2" x2="1157.2" y2="2110.2" stroke="#000" stroke-width="2.52" />
<text x="1146.2" y="2116.14" font-size="16.5" text-anchor="end">0.0</text>
<line x1="1149.2" y1="2034.8" x2="1157.2" y2="2034.8" stroke="#000" stroke-width="2.52" />
<text x="1146.2" y="2040.74" font-size="16.5" text-anchor="end">0.5</text>
<line x1="1149.2" y1="1959.4" x2="1157.2" y2="1959.4" stroke="#000" stroke-width="2.52" />
<text x="1146.2" y="1965.34" font-size="16.5" text-anchor="end">1.0</text>
<line x1="1149.2" y1="1884" x2="1157.2" y2="1884" stroke="#000" stroke-width="2.52" />
<text x="1146.2" y="1889.94" font-size="16.5" text-anchor="end">1.5</text>
<line x1="1238" y1="2110.2" x2="1238" y2="2118.2" stroke="#000" stroke-width="2.52" />
<text x="1238" y="2138" font-size="18.5" text-anchor="middle">Basal</text>
<line x1="1414.6" y1="2110.2" x2="1414.6" y2="2118.2" stroke="#000" stroke-width="2.52" />
<text x="1414.6" y="2138" font-size="18.5" text-anchor="middle">GSK3787</text>
<text x="1108" y="1996" font-size="16.3" text-anchor="middle" transform="rotate(-90 1108 1996)">OCR (pmol/min/1000 cells)</text>
<polyline points="1182,1980.4 1182,1909.4 1257.5,1909.4 1257.5,1938.4" fill="none" stroke="#000" stroke-width="2" stroke-linejoin="round" stroke-linejoin="miter"/>
<text x="1221" y="1900" font-size="16.1" text-anchor="middle">0.0052</text>
<polyline points="1256.6,1896.4 1256.6,1881 1294.8,1881 1294.8,1910" fill="none" stroke="#000" stroke-width="2" stroke-linejoin="round" stroke-linejoin="miter"/>
<text x="1277.6" y="1871.2" font-size="16.1" text-anchor="middle">0.0114</text>
<polyline points="1356.9,1976.4 1356.9,1911.3 1433,1911.3 1433,1924.9" fill="none" stroke="#000" stroke-width="2" stroke-linejoin="round" stroke-linejoin="miter"/>
<text x="1396.5" y="1901.8" font-size="16.1" text-anchor="middle">&lt;0.0001</text>
<rect x="1591.25" y="2097.3" width="24.5" height="14.2" fill="#8ca1d1" stroke="#000" stroke-width="2.2" />
<line x1="1603.5" y1="2097.3" x2="1603.5" y2="2095.6" stroke="#000" stroke-width="2" />
<line x1="1596.64" y1="2095.6" x2="1610.36" y2="2095.6" stroke="#000" stroke-width="2" />
<rect x="1628.95" y="2100.14" width="24.5" height="11.36" fill="#a4e29c" stroke="#000" stroke-width="2.2" />
<line x1="1641.2" y1="2100.14" x2="1641.2" y2="2098.44" stroke="#000" stroke-width="2" />
<line x1="1634.34" y1="2098.44" x2="1648.06" y2="2098.44" stroke="#000" stroke-width="2" />
<rect x="1670.75" y="1993.92" width="24.5" height="117.58" fill="#e8808a" stroke="#000" stroke-width="2.2" />
<line x1="1683" y1="1993.92" x2="1683" y2="1984.84" stroke="#000" stroke-width="2" />
<line x1="1676.14" y1="1984.84" x2="1689.86" y2="1984.84" stroke="#000" stroke-width="2" />
<rect x="1708.55" y="1974.04" width="24.5" height="137.46" fill="#b99ad3" stroke="#000" stroke-width="2.2" />
<line x1="1720.8" y1="1974.04" x2="1720.8" y2="1971.77" stroke="#000" stroke-width="2" />
<line x1="1713.94" y1="1971.77" x2="1727.66" y2="1971.77" stroke="#000" stroke-width="2" />
<rect x="1772.35" y="2101.28" width="24.5" height="10.22" fill="#8ca1d1" stroke="#000" stroke-width="2.2" />
<line x1="1784.6" y1="2101.28" x2="1784.6" y2="2099" stroke="#000" stroke-width="2" />
<line x1="1777.74" y1="2099" x2="1791.46" y2="2099" stroke="#000" stroke-width="2" />
<rect x="1809.45" y="2097.3" width="24.5" height="14.2" fill="#a4e29c" stroke="#000" stroke-width="2.2" />
<line x1="1821.7" y1="2097.3" x2="1821.7" y2="2095.03" stroke="#000" stroke-width="2" />
<line x1="1814.84" y1="2095.03" x2="1828.56" y2="2095.03" stroke="#000" stroke-width="2" />
<rect x="1847.75" y="1979.16" width="24.5" height="132.34" fill="#e8808a" stroke="#000" stroke-width="2.2" />
<line x1="1860" y1="1979.16" x2="1860" y2="1971.77" stroke="#000" stroke-width="2" />
<line x1="1853.14" y1="1971.77" x2="1866.86" y2="1971.77" stroke="#000" stroke-width="2" />
<rect x="1886.25" y="1980.86" width="24.5" height="130.64" fill="#b99ad3" stroke="#000" stroke-width="2.2" />
<line x1="1898.5" y1="1980.86" x2="1898.5" y2="1966.66" stroke="#000" stroke-width="2" />
<line x1="1891.64" y1="1966.66" x2="1905.36" y2="1966.66" stroke="#000" stroke-width="2" />
<circle cx="1596.15" cy="2091.62" r="5.2" fill="#7d8dca" stroke="#1a1a1a" stroke-width="1.1"/>
<circle cx="1610.85" cy="2092.76" r="5.2" fill="#7d8dca" stroke="#1a1a1a" stroke-width="1.1"/>
<circle cx="1603.5" cy="2093.32" r="5.2" fill="#7d8dca" stroke="#1a1a1a" stroke-width="1.1"/>
<circle cx="1594.92" cy="2097.3" r="5.2" fill="#7d8dca" stroke="#1a1a1a" stroke-width="1.1"/>
<circle cx="1612.08" cy="2100.14" r="5.2" fill="#7d8dca" stroke="#1a1a1a" stroke-width="1.1"/>
<circle cx="1601.05" cy="2100.14" r="5.2" fill="#7d8dca" stroke="#1a1a1a" stroke-width="1.1"/>
<circle cx="1633.85" cy="2097.3" r="5.2" fill="#4cc24a" stroke="#1a1a1a" stroke-width="1.1"/>
<circle cx="1648.55" cy="2097.3" r="5.2" fill="#4cc24a" stroke="#1a1a1a" stroke-width="1.1"/>
<circle cx="1641.2" cy="2099" r="5.2" fill="#4cc24a" stroke="#1a1a1a" stroke-width="1.1"/>
<circle cx="1632.62" cy="2101.28" r="5.2" fill="#4cc24a" stroke="#1a1a1a" stroke-width="1.1"/>
<circle cx="1675.65" cy="1959.28" r="5.2" fill="#e62a29" stroke="#1a1a1a" stroke-width="1.1"/>
<circle cx="1690.35" cy="1982" r="5.2" fill="#e62a29" stroke="#1a1a1a" stroke-width="1.1"/>
<circle cx="1683" cy="1985.4" r="5.2" fill="#e62a29" stroke="#1a1a1a" stroke-width="1.1"/>
<circle cx="1674.42" cy="1999.04" r="5.2" fill="#e62a29" stroke="#1a1a1a" stroke-width="1.1"/>
<circle cx="1691.58" cy="1999.6" r="5.2" fill="#e62a29" stroke="#1a1a1a" stroke-width="1.1"/>
<circle cx="1680.55" cy="2026.3" r="5.2" fill="#e62a29" stroke="#1a1a1a" stroke-width="1.1"/>
<circle cx="1713.45" cy="1968.36" r="5.2" fill="#8b4cb9" stroke="#1a1a1a" stroke-width="1.1"/>
<circle cx="1728.15" cy="1972.34" r="5.2" fill="#8b4cb9" stroke="#1a1a1a" stroke-width="1.1"/>
<circle cx="1720.8" cy="1972.34" r="5.2" fill="#8b4cb9" stroke="#1a1a1a" stroke-width="1.1"/>
<circle cx="1712.22" cy="1978.02" r="5.2" fill="#8b4cb9" stroke="#1a1a1a" stroke-width="1.1"/>
<circle cx="1777.25" cy="2089.92" r="5.2" fill="#7d8dca" stroke="#1a1a1a" stroke-width="1.1"/>
<circle cx="1791.95" cy="2099" r="5.2" fill="#7d8dca" stroke="#1a1a1a" stroke-width="1.1"/>
<circle cx="1784.6" cy="2101.28" r="5.2" fill="#7d8dca" stroke="#1a1a1a" stroke-width="1.1"/>
<circle cx="1776.02" cy="2102.98" r="5.2" fill="#7d8dca" stroke="#1a1a1a" stroke-width="1.1"/>
<circle cx="1793.17" cy="2104.68" r="5.2" fill="#7d8dca" stroke="#1a1a1a" stroke-width="1.1"/>
<circle cx="1782.15" cy="2105.82" r="5.2" fill="#7d8dca" stroke="#1a1a1a" stroke-width="1.1"/>
<circle cx="1814.35" cy="2091.62" r="5.2" fill="#4cc24a" stroke="#1a1a1a" stroke-width="1.1"/>
<circle cx="1829.05" cy="2093.32" r="5.2" fill="#4cc24a" stroke="#1a1a1a" stroke-width="1.1"/>
<circle cx="1821.7" cy="2097.3" r="5.2" fill="#4cc24a" stroke="#1a1a1a" stroke-width="1.1"/>
<circle cx="1813.12" cy="2105.82" r="5.2" fill="#4cc24a" stroke="#1a1a1a" stroke-width="1.1"/>
<circle cx="1852.65" cy="1953.6" r="5.2" fill="#e62a29" stroke="#1a1a1a" stroke-width="1.1"/>
<circle cx="1867.35" cy="1962.68" r="5.2" fill="#e62a29" stroke="#1a1a1a" stroke-width="1.1"/>
<circle cx="1860" cy="1979.72" r="5.2" fill="#e62a29" stroke="#1a1a1a" stroke-width="1.1"/>
<circle cx="1851.42" cy="1982" r="5.2" fill="#e62a29" stroke="#1a1a1a" stroke-width="1.1"/>
<circle cx="1868.58" cy="1983.7" r="5.2" fill="#e62a29" stroke="#1a1a1a" stroke-width="1.1"/>
<circle cx="1857.55" cy="2006.42" r="5.2" fill="#e62a29" stroke="#1a1a1a" stroke-width="1.1"/>
<circle cx="1891.15" cy="1947.92" r="5.2" fill="#8b4cb9" stroke="#1a1a1a" stroke-width="1.1"/>
<circle cx="1905.85" cy="1975.18" r="5.2" fill="#8b4cb9" stroke="#1a1a1a" stroke-width="1.1"/>
<circle cx="1898.5" cy="1975.18" r="5.2" fill="#8b4cb9" stroke="#1a1a1a" stroke-width="1.1"/>
<circle cx="1889.92" cy="2014.94" r="5.2" fill="#8b4cb9" stroke="#1a1a1a" stroke-width="1.1"/>
<line x1="1580.8" y1="1883.3" x2="1580.8" y2="2112.9" stroke="#000" stroke-width="2.8" />
<line x1="1579.4" y1="2111.5" x2="1925" y2="2111.5" stroke="#000" stroke-width="2.8" />
<line x1="1572.8" y1="2111.5" x2="1580.8" y2="2111.5" stroke="#000" stroke-width="2.52" />
<text x="1569.8" y="2117.44" font-size="16.5" text-anchor="end">0</text>
<line x1="1572.8" y1="2054.7" x2="1580.8" y2="2054.7" stroke="#000" stroke-width="2.52" />
<text x="1569.8" y="2060.64" font-size="16.5" text-anchor="end">1</text>
<line x1="1572.8" y1="1997.9" x2="1580.8" y2="1997.9" stroke="#000" stroke-width="2.52" />
<text x="1569.8" y="2003.84" font-size="16.5" text-anchor="end">2</text>
<line x1="1572.8" y1="1941.1" x2="1580.8" y2="1941.1" stroke="#000" stroke-width="2.52" />
<text x="1569.8" y="1947.04" font-size="16.5" text-anchor="end">3</text>
<line x1="1572.8" y1="1884.3" x2="1580.8" y2="1884.3" stroke="#000" stroke-width="2.52" />
<text x="1569.8" y="1890.24" font-size="16.5" text-anchor="end">4</text>
<line x1="1662.8" y1="2111.5" x2="1662.8" y2="2119.5" stroke="#000" stroke-width="2.52" />
<text x="1662.8" y="2138" font-size="18.5" text-anchor="middle">Basal</text>
<line x1="1840.7" y1="2111.5" x2="1840.7" y2="2119.5" stroke="#000" stroke-width="2.52" />
<text x="1840.7" y="2138" font-size="18.5" text-anchor="middle">GSK3787</text>
<text x="1535.5" y="1996" font-size="16.3" text-anchor="middle" transform="rotate(-90 1535.5 1996)">OCR (pmol/min/1000 cells)</text>
<polyline points="1606,2080 1606,1894.6 1682.7,1894.6 1682.7,1904.4" fill="none" stroke="#000" stroke-width="2" stroke-linejoin="round" stroke-linejoin="miter"/>
<text x="1646.5" y="1888.5" font-size="15.8" text-anchor="middle">&lt;0.0001</text>
<polyline points="1682.7,1945 1682.7,1935.6 1720.5,1935.6 1720.5,1954.2" fill="none" stroke="#000" stroke-width="2" stroke-linejoin="round" stroke-linejoin="miter"/>
<text x="1703" y="1929" font-size="15.8" text-anchor="middle">0.0321</text>
<polyline points="1784,2078 1784,1921 1860,1921 1860,1941.5" fill="none" stroke="#000" stroke-width="2" stroke-linejoin="round" stroke-linejoin="miter"/>
<text x="1822.7" y="1914.5" font-size="15.8" text-anchor="middle">&lt;0.0001</text>
<rect x="1170.1" y="2514.96" width="25" height="102.54" fill="#8ca1d1" stroke="#000" stroke-width="2.2" />
<line x1="1182.6" y1="2514.96" x2="1182.6" y2="2511.94" stroke="#000" stroke-width="2" />
<line x1="1175.6" y1="2511.94" x2="1189.6" y2="2511.94" stroke="#000" stroke-width="2" />
<rect x="1208" y="2519.48" width="25" height="98.02" fill="#a4e29c" stroke="#000" stroke-width="2.2" />
<line x1="1220.5" y1="2519.48" x2="1220.5" y2="2516.46" stroke="#000" stroke-width="2" />
<line x1="1213.5" y1="2516.46" x2="1227.5" y2="2516.46" stroke="#000" stroke-width="2" />
<rect x="1245.9" y="2484.8" width="25" height="132.7" fill="#e8808a" stroke="#000" stroke-width="2.2" />
<line x1="1258.4" y1="2484.8" x2="1258.4" y2="2481.78" stroke="#000" stroke-width="2" />
<line x1="1251.4" y1="2481.78" x2="1265.4" y2="2481.78" stroke="#000" stroke-width="2" />
<rect x="1284.1" y="2456.14" width="25" height="161.36" fill="#b99ad3" stroke="#000" stroke-width="2.2" />
<line x1="1296.6" y1="2456.14" x2="1296.6" y2="2444.08" stroke="#000" stroke-width="2" />
<line x1="1289.6" y1="2444.08" x2="1303.6" y2="2444.08" stroke="#000" stroke-width="2" />
<rect x="1347.5" y="2531.54" width="25" height="85.96" fill="#8ca1d1" stroke="#000" stroke-width="2.2" />
<line x1="1360" y1="2531.54" x2="1360" y2="2528.53" stroke="#000" stroke-width="2" />
<line x1="1353" y1="2528.53" x2="1367" y2="2528.53" stroke="#000" stroke-width="2" />
<rect x="1385.5" y="2540.59" width="25" height="76.91" fill="#a4e29c" stroke="#000" stroke-width="2.2" />
<line x1="1398" y1="2540.59" x2="1398" y2="2536.07" stroke="#000" stroke-width="2" />
<line x1="1391" y1="2536.07" x2="1405" y2="2536.07" stroke="#000" stroke-width="2" />
<rect x="1423.5" y="2504.4" width="25" height="113.1" fill="#e8808a" stroke="#000" stroke-width="2.2" />
<line x1="1436" y1="2504.4" x2="1436" y2="2498.37" stroke="#000" stroke-width="2" />
<line x1="1429" y1="2498.37" x2="1443" y2="2498.37" stroke="#000" stroke-width="2" />
<rect x="1461.5" y="2502.89" width="25" height="114.61" fill="#b99ad3" stroke="#000" stroke-width="2.2" />
<line x1="1474" y1="2502.89" x2="1474" y2="2489.32" stroke="#000" stroke-width="2" />
<line x1="1467" y1="2489.32" x2="1481" y2="2489.32" stroke="#000" stroke-width="2" />
<circle cx="1175.1" cy="2504.4" r="5.2" fill="#3d64b8" stroke="#1a1a1a" stroke-width="1.1"/>
<circle cx="1190.1" cy="2505.91" r="5.2" fill="#3d64b8" stroke="#1a1a1a" stroke-width="1.1"/>
<circle cx="1182.6" cy="2508.92" r="5.2" fill="#3d64b8" stroke="#1a1a1a" stroke-width="1.1"/>
<circle cx="1173.85" cy="2511.94" r="5.2" fill="#3d64b8" stroke="#1a1a1a" stroke-width="1.1"/>
<circle cx="1191.35" cy="2514.96" r="5.2" fill="#3d64b8" stroke="#1a1a1a" stroke-width="1.1"/>
<circle cx="1180.1" cy="2524" r="5.2" fill="#3d64b8" stroke="#1a1a1a" stroke-width="1.1"/>
<circle cx="1187.6" cy="2527.02" r="5.2" fill="#3d64b8" stroke="#1a1a1a" stroke-width="1.1"/>
<circle cx="1213" cy="2508.92" r="5.2" fill="#4cc24a" stroke="#1a1a1a" stroke-width="1.1"/>
<circle cx="1228" cy="2517.97" r="5.2" fill="#4cc24a" stroke="#1a1a1a" stroke-width="1.1"/>
<circle cx="1220.5" cy="2522.5" r="5.2" fill="#4cc24a" stroke="#1a1a1a" stroke-width="1.1"/>
<circle cx="1211.75" cy="2530.04" r="5.2" fill="#4cc24a" stroke="#1a1a1a" stroke-width="1.1"/>
<circle cx="1250.9" cy="2478.76" r="5.2" fill="#e62a29" stroke="#1a1a1a" stroke-width="1.1"/>
<circle cx="1265.9" cy="2480.27" r="5.2" fill="#e62a29" stroke="#1a1a1a" stroke-width="1.1"/>
<circle cx="1258.4" cy="2481.78" r="5.2" fill="#e62a29" stroke="#1a1a1a" stroke-width="1.1"/>
<circle cx="1249.65" cy="2484.8" r="5.2" fill="#e62a29" stroke="#1a1a1a" stroke-width="1.1"/>
<circle cx="1267.15" cy="2486.3" r="5.2" fill="#e62a29" stroke="#1a1a1a" stroke-width="1.1"/>
<circle cx="1255.9" cy="2489.32" r="5.2" fill="#e62a29" stroke="#1a1a1a" stroke-width="1.1"/>
<circle cx="1263.4" cy="2496.86" r="5.2" fill="#e62a29" stroke="#1a1a1a" stroke-width="1.1"/>
<circle cx="1289.1" cy="2429" r="5.2" fill="#8b4cb9" stroke="#1a1a1a" stroke-width="1.1"/>
<circle cx="1304.1" cy="2448.6" r="5.2" fill="#8b4cb9" stroke="#1a1a1a" stroke-width="1.1"/>
<circle cx="1296.6" cy="2472.73" r="5.2" fill="#8b4cb9" stroke="#1a1a1a" stroke-width="1.1"/>
<circle cx="1287.85" cy="2472.73" r="5.2" fill="#8b4cb9" stroke="#1a1a1a" stroke-width="1.1"/>
<circle cx="1352.5" cy="2511.94" r="5.2" fill="#3d64b8" stroke="#1a1a1a" stroke-width="1.1"/>
<circle cx="1367.5" cy="2527.02" r="5.2" fill="#3d64b8" stroke="#1a1a1a" stroke-width="1.1"/>
<circle cx="1360" cy="2530.04" r="5.2" fill="#3d64b8" stroke="#1a1a1a" stroke-width="1.1"/>
<circle cx="1351.25" cy="2533.05" r="5.2" fill="#3d64b8" stroke="#1a1a1a" stroke-width="1.1"/>
<circle cx="1368.75" cy="2534.56" r="5.2" fill="#3d64b8" stroke="#1a1a1a" stroke-width="1.1"/>
<circle cx="1357.5" cy="2537.58" r="5.2" fill="#3d64b8" stroke="#1a1a1a" stroke-width="1.1"/>
<circle cx="1365" cy="2539.08" r="5.2" fill="#3d64b8" stroke="#1a1a1a" stroke-width="1.1"/>
<circle cx="1390.5" cy="2524" r="5.2" fill="#4cc24a" stroke="#1a1a1a" stroke-width="1.1"/>
<circle cx="1405.5" cy="2539.08" r="5.2" fill="#4cc24a" stroke="#1a1a1a" stroke-width="1.1"/>
<circle cx="1398" cy="2542.1" r="5.2" fill="#4cc24a" stroke="#1a1a1a" stroke-width="1.1"/>
<circle cx="1389.25" cy="2549.64" r="5.2" fill="#4cc24a" stroke="#1a1a1a" stroke-width="1.1"/>
<circle cx="1428.5" cy="2478.76" r="5.2" fill="#e62a29" stroke="#1a1a1a" stroke-width="1.1"/>
<circle cx="1443.5" cy="2493.84" r="5.2" fill="#e62a29" stroke="#1a1a1a" stroke-width="1.1"/>
<circle cx="1436" cy="2499.88" r="5.2" fill="#e62a29" stroke="#1a1a1a" stroke-width="1.1"/>
<circle cx="1427.25" cy="2514.96" r="5.2" fill="#e62a29" stroke="#1a1a1a" stroke-width="1.1"/>
<circle cx="1444.75" cy="2524" r="5.2" fill="#e62a29" stroke="#1a1a1a" stroke-width="1.1"/>
<circle cx="1433.5" cy="2534.56" r="5.2" fill="#e62a29" stroke="#1a1a1a" stroke-width="1.1"/>
<circle cx="1466.5" cy="2481.78" r="5.2" fill="#8b4cb9" stroke="#1a1a1a" stroke-width="1.1"/>
<circle cx="1481.5" cy="2487.81" r="5.2" fill="#8b4cb9" stroke="#1a1a1a" stroke-width="1.1"/>
<circle cx="1474" cy="2496.86" r="5.2" fill="#8b4cb9" stroke="#1a1a1a" stroke-width="1.1"/>
<circle cx="1465.25" cy="2543.61" r="5.2" fill="#8b4cb9" stroke="#1a1a1a" stroke-width="1.1"/>
<line x1="1157.2" y1="2390.3" x2="1157.2" y2="2618.9" stroke="#000" stroke-width="2.8" />
<line x1="1155.8" y1="2617.5" x2="1500" y2="2617.5" stroke="#000" stroke-width="2.8" />
<line x1="1149.2" y1="2617.5" x2="1157.2" y2="2617.5" stroke="#000" stroke-width="2.52" />
<text x="1146.2" y="2623.44" font-size="16.5" text-anchor="end">0</text>
<line x1="1149.2" y1="2542.1" x2="1157.2" y2="2542.1" stroke="#000" stroke-width="2.52" />
<text x="1146.2" y="2548.04" font-size="16.5" text-anchor="end">0.5</text>
<line x1="1149.2" y1="2466.7" x2="1157.2" y2="2466.7" stroke="#000" stroke-width="2.52" />
<text x="1146.2" y="2472.64" font-size="16.5" text-anchor="end">1.0</text>
<line x1="1149.2" y1="2391.3" x2="1157.2" y2="2391.3" stroke="#000" stroke-width="2.52" />
<text x="1146.2" y="2397.24" font-size="16.5" text-anchor="end">1.5</text>
<line x1="1238" y1="2617.5" x2="1238" y2="2625.5" stroke="#000" stroke-width="2.52" />
<text x="1238" y="2650" font-size="18.5" text-anchor="middle">Basal</text>
<line x1="1411" y1="2617.5" x2="1411" y2="2625.5" stroke="#000" stroke-width="2.52" />
<text x="1411" y="2650" font-size="18.5" text-anchor="middle">GW6471</text>
<text x="1108" y="2503" font-size="16.3" text-anchor="middle" transform="rotate(-90 1108 2503)">OCR (pmol/min/1000 cells)</text>
<polyline points="1182,2492.3 1182,2414.9 1253.4,2414.9 1253.4,2459.3" fill="none" stroke="#000" stroke-width="2" stroke-linejoin="round" stroke-linejoin="miter"/>
<text x="1219.5" y="2404.8" font-size="16.1" text-anchor="middle">0.0013</text>
<polyline points="1263.4,2459.3 1263.4,2397.3 1296.2,2397.3 1296.2,2413.5" fill="none" stroke="#000" stroke-width="2" stroke-linejoin="round" stroke-linejoin="miter"/>
<text x="1280.5" y="2387.2" font-size="16.1" text-anchor="middle">0.0037</text>
<polyline points="1359.9,2499 1359.9,2441.4 1436.3,2441.4 1436.3,2466.6" fill="none" stroke="#000" stroke-width="2" stroke-linejoin="round" stroke-linejoin="miter"/>
<text x="1398.3" y="2430.6" font-size="16.1" text-anchor="middle">0.0029</text>
<rect x="1593.25" y="2597.32" width="25.5" height="21.98" fill="#8ca1d1" stroke="#000" stroke-width="2.2" />
<line x1="1606" y1="2597.32" x2="1606" y2="2595.48" stroke="#000" stroke-width="2" />
<line x1="1598.86" y1="2595.48" x2="1613.14" y2="2595.48" stroke="#000" stroke-width="2" />
<rect x="1631.25" y="2600.98" width="25.5" height="18.32" fill="#a4e29c" stroke="#000" stroke-width="2.2" />
<line x1="1644" y1="2600.98" x2="1644" y2="2598.23" stroke="#000" stroke-width="2" />
<line x1="1636.86" y1="2598.23" x2="1651.14" y2="2598.23" stroke="#000" stroke-width="2" />
<rect x="1669.65" y="2467.24" width="25.5" height="152.06" fill="#e8808a" stroke="#000" stroke-width="2.2" />
<line x1="1682.4" y1="2467.24" x2="1682.4" y2="2461.75" stroke="#000" stroke-width="2" />
<line x1="1675.26" y1="2461.75" x2="1689.54" y2="2461.75" stroke="#000" stroke-width="2" />
<rect x="1707.65" y="2432.44" width="25.5" height="186.86" fill="#b99ad3" stroke="#000" stroke-width="2.2" />
<line x1="1720.4" y1="2432.44" x2="1720.4" y2="2415.95" stroke="#000" stroke-width="2" />
<line x1="1713.26" y1="2415.95" x2="1727.54" y2="2415.95" stroke="#000" stroke-width="2" />
<rect x="1770.95" y="2603.73" width="25.5" height="15.57" fill="#8ca1d1" stroke="#000" stroke-width="2.2" />
<line x1="1783.7" y1="2603.73" x2="1783.7" y2="2602.81" stroke="#000" stroke-width="2" />
<line x1="1776.56" y1="2602.81" x2="1790.84" y2="2602.81" stroke="#000" stroke-width="2" />
<rect x="1809.25" y="2605.56" width="25.5" height="13.74" fill="#a4e29c" stroke="#000" stroke-width="2.2" />
<line x1="1822" y1="2605.56" x2="1822" y2="2603.73" stroke="#000" stroke-width="2" />
<line x1="1814.86" y1="2603.73" x2="1829.14" y2="2603.73" stroke="#000" stroke-width="2" />
<rect x="1847.75" y="2452.59" width="25.5" height="166.71" fill="#e8808a" stroke="#000" stroke-width="2.2" />
<line x1="1860.5" y1="2452.59" x2="1860.5" y2="2448.01" stroke="#000" stroke-width="2" />
<line x1="1853.36" y1="2448.01" x2="1867.64" y2="2448.01" stroke="#000" stroke-width="2" />
<rect x="1885.45" y="2454.42" width="25.5" height="164.88" fill="#b99ad3" stroke="#000" stroke-width="2.2" />
<line x1="1898.2" y1="2454.42" x2="1898.2" y2="2451.67" stroke="#000" stroke-width="2" />
<line x1="1891.06" y1="2451.67" x2="1905.34" y2="2451.67" stroke="#000" stroke-width="2" />
<circle cx="1598.35" cy="2593.65" r="5.2" fill="#3d64b8" stroke="#1a1a1a" stroke-width="1.1"/>
<circle cx="1613.65" cy="2593.65" r="5.2" fill="#3d64b8" stroke="#1a1a1a" stroke-width="1.1"/>
<circle cx="1606" cy="2594.57" r="5.2" fill="#3d64b8" stroke="#1a1a1a" stroke-width="1.1"/>
<circle cx="1597.08" cy="2596.4" r="5.2" fill="#3d64b8" stroke="#1a1a1a" stroke-width="1.1"/>
<circle cx="1614.92" cy="2599.15" r="5.2" fill="#3d64b8" stroke="#1a1a1a" stroke-width="1.1"/>
<circle cx="1603.45" cy="2602.81" r="5.2" fill="#3d64b8" stroke="#1a1a1a" stroke-width="1.1"/>
<circle cx="1636.35" cy="2589.99" r="5.2" fill="#4cc24a" stroke="#1a1a1a" stroke-width="1.1"/>
<circle cx="1651.65" cy="2599.15" r="5.2" fill="#4cc24a" stroke="#1a1a1a" stroke-width="1.1"/>
<circle cx="1644" cy="2600.98" r="5.2" fill="#4cc24a" stroke="#1a1a1a" stroke-width="1.1"/>
<circle cx="1635.08" cy="2602.81" r="5.2" fill="#4cc24a" stroke="#1a1a1a" stroke-width="1.1"/>
<circle cx="1674.75" cy="2454.42" r="5.2" fill="#e62a29" stroke="#1a1a1a" stroke-width="1.1"/>
<circle cx="1690.05" cy="2456.25" r="5.2" fill="#e62a29" stroke="#1a1a1a" stroke-width="1.1"/>
<circle cx="1682.4" cy="2459" r="5.2" fill="#e62a29" stroke="#1a1a1a" stroke-width="1.1"/>
<circle cx="1673.48" cy="2463.58" r="5.2" fill="#e62a29" stroke="#1a1a1a" stroke-width="1.1"/>
<circle cx="1691.33" cy="2477.32" r="5.2" fill="#e62a29" stroke="#1a1a1a" stroke-width="1.1"/>
<circle cx="1679.85" cy="2492.89" r="5.2" fill="#e62a29" stroke="#1a1a1a" stroke-width="1.1"/>
<circle cx="1712.75" cy="2404.04" r="5.2" fill="#8b4cb9" stroke="#1a1a1a" stroke-width="1.1"/>
<circle cx="1728.05" cy="2404.04" r="5.2" fill="#8b4cb9" stroke="#1a1a1a" stroke-width="1.1"/>
<circle cx="1720.4" cy="2447.09" r="5.2" fill="#8b4cb9" stroke="#1a1a1a" stroke-width="1.1"/>
<circle cx="1711.48" cy="2472.74" r="5.2" fill="#8b4cb9" stroke="#1a1a1a" stroke-width="1.1"/>
<circle cx="1776.05" cy="2600.98" r="5.2" fill="#3d64b8" stroke="#1a1a1a" stroke-width="1.1"/>
<circle cx="1791.35" cy="2600.98" r="5.2" fill="#3d64b8" stroke="#1a1a1a" stroke-width="1.1"/>
<circle cx="1783.7" cy="2602.81" r="5.2" fill="#3d64b8" stroke="#1a1a1a" stroke-width="1.1"/>
<circle cx="1774.78" cy="2603.73" r="5.2" fill="#3d64b8" stroke="#1a1a1a" stroke-width="1.1"/>
<circle cx="1792.62" cy="2604.64" r="5.2" fill="#3d64b8" stroke="#1a1a1a" stroke-width="1.1"/>
<circle cx="1781.15" cy="2605.56" r="5.2" fill="#3d64b8" stroke="#1a1a1a" stroke-width="1.1"/>
<circle cx="1814.35" cy="2600.98" r="5.2" fill="#4cc24a" stroke="#1a1a1a" stroke-width="1.1"/>
<circle cx="1829.65" cy="2602.81" r="5.2" fill="#4cc24a" stroke="#1a1a1a" stroke-width="1.1"/>
<circle cx="1822" cy="2605.56" r="5.2" fill="#4cc24a" stroke="#1a1a1a" stroke-width="1.1"/>
<circle cx="1813.08" cy="2611.97" r="5.2" fill="#4cc24a" stroke="#1a1a1a" stroke-width="1.1"/>
<circle cx="1852.85" cy="2436.1" r="5.2" fill="#e62a29" stroke="#1a1a1a" stroke-width="1.1"/>
<circle cx="1868.15" cy="2437.93" r="5.2" fill="#e62a29" stroke="#1a1a1a" stroke-width="1.1"/>
<circle cx="1860.5" cy="2454.42" r="5.2" fill="#e62a29" stroke="#1a1a1a" stroke-width="1.1"/>
<circle cx="1851.58" cy="2456.25" r="5.2" fill="#e62a29" stroke="#1a1a1a" stroke-width="1.1"/>
<circle cx="1869.42" cy="2468.16" r="5.2" fill="#e62a29" stroke="#1a1a1a" stroke-width="1.1"/>
<circle cx="1857.95" cy="2474.57" r="5.2" fill="#e62a29" stroke="#1a1a1a" stroke-width="1.1"/>
<circle cx="1890.55" cy="2447.09" r="5.2" fill="#8b4cb9" stroke="#1a1a1a" stroke-width="1.1"/>
<circle cx="1905.85" cy="2449.84" r="5.2" fill="#8b4cb9" stroke="#1a1a1a" stroke-width="1.1"/>
<circle cx="1898.2" cy="2456.25" r="5.2" fill="#8b4cb9" stroke="#1a1a1a" stroke-width="1.1"/>
<circle cx="1889.28" cy="2459" r="5.2" fill="#8b4cb9" stroke="#1a1a1a" stroke-width="1.1"/>
<line x1="1579.4" y1="2389.3" x2="1579.4" y2="2620.7" stroke="#000" stroke-width="2.8" />
<line x1="1578" y1="2619.3" x2="1925" y2="2619.3" stroke="#000" stroke-width="2.8" />
<line x1="1571.4" y1="2619.3" x2="1579.4" y2="2619.3" stroke="#000" stroke-width="2.52" />
<text x="1568.4" y="2625.24" font-size="16.5" text-anchor="end">0</text>
<line x1="1571.4" y1="2573.5" x2="1579.4" y2="2573.5" stroke="#000" stroke-width="2.52" />
<text x="1568.4" y="2579.44" font-size="16.5" text-anchor="end">0.5</text>
<line x1="1571.4" y1="2527.7" x2="1579.4" y2="2527.7" stroke="#000" stroke-width="2.52" />
<text x="1568.4" y="2533.64" font-size="16.5" text-anchor="end">1.0</text>
<line x1="1571.4" y1="2481.9" x2="1579.4" y2="2481.9" stroke="#000" stroke-width="2.52" />
<text x="1568.4" y="2487.84" font-size="16.5" text-anchor="end">1.5</text>
<line x1="1571.4" y1="2436.1" x2="1579.4" y2="2436.1" stroke="#000" stroke-width="2.52" />
<text x="1568.4" y="2442.04" font-size="16.5" text-anchor="end">2.0</text>
<line x1="1571.4" y1="2390.3" x2="1579.4" y2="2390.3" stroke="#000" stroke-width="2.52" />
<text x="1568.4" y="2396.24" font-size="16.5" text-anchor="end">2.5</text>
<line x1="1662.8" y1="2619.3" x2="1662.8" y2="2627.3" stroke="#000" stroke-width="2.52" />
<text x="1662.8" y="2650" font-size="18.5" text-anchor="middle">Basal</text>
<line x1="1840.7" y1="2619.3" x2="1840.7" y2="2627.3" stroke="#000" stroke-width="2.52" />
<text x="1840.7" y="2650" font-size="18.5" text-anchor="middle">GW6471</text>
<text x="1535.5" y="2503" font-size="16.3" text-anchor="middle" transform="rotate(-90 1535.5 2503)">OCR (pmol/min/1000 cells)</text>
<polyline points="1606,2580 1606,2400.5 1677.4,2400.5 1677.4,2430.4" fill="none" stroke="#000" stroke-width="2" stroke-linejoin="round" stroke-linejoin="miter"/>
<text x="1643.5" y="2394.4" font-size="15.8" text-anchor="middle">&lt;0.0001</text>
<polyline points="1686.7,2440.2 1686.7,2376.7 1720.5,2376.7 1720.5,2389" fill="none" stroke="#000" stroke-width="2" stroke-linejoin="round" stroke-linejoin="miter"/>
<text x="1702.5" y="2368.7" font-size="15.8" text-anchor="middle">0.0004</text>
<polyline points="1783.3,2582 1783.3,2415 1860,2415 1860,2421.7" fill="none" stroke="#000" stroke-width="2" stroke-linejoin="round" stroke-linejoin="miter"/>
<text x="1822" y="2407.6" font-size="15.8" text-anchor="middle">&lt;0.0001</text>
</svg></body></html>
